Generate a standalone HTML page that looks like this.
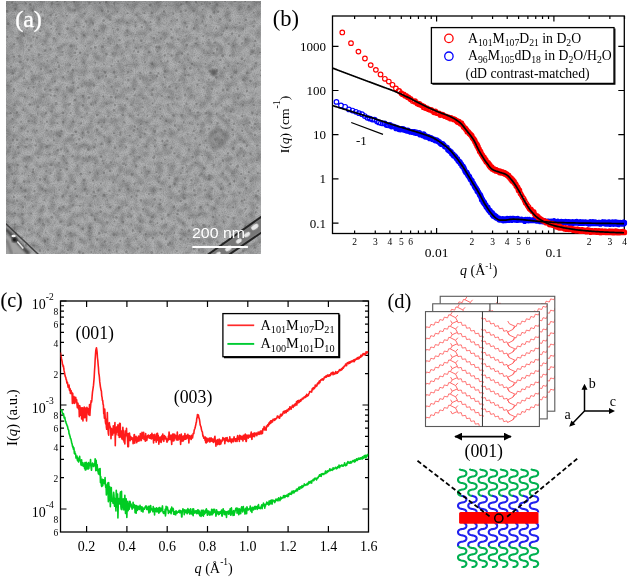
<!DOCTYPE html><html><head><meta charset="utf-8"><style>html,body{margin:0;padding:0;background:#fff;}svg{display:block;will-change:transform}</style></head><body>
<svg width="628" height="578" viewBox="0 0 628 578">
<rect width="628" height="578" fill="#fff"/>
<defs><filter id="tex" x="0" y="0" width="1" height="1"><feTurbulence type="fractalNoise" baseFrequency="0.16" numOctaves="2" seed="3" result="n"/><feColorMatrix in="n" type="matrix" values="0 0 0 0 0  0 0 0 0 0  0 0 0 0 0  0 0 0 -1.3 0.8" result="a"/><feComposite in="a" in2="SourceGraphic" operator="in" result="c"/><feGaussianBlur in="c" stdDeviation="0.8"/></filter><filter id="tex2" x="0" y="0" width="1" height="1"><feTurbulence type="fractalNoise" baseFrequency="0.9" numOctaves="1" seed="11" result="n"/><feColorMatrix in="n" type="matrix" values="0 0 0 0 0  0 0 0 0 0  0 0 0 0 0  0 0 0 -1.6 1.0" result="a"/><feComposite in="a" in2="SourceGraphic" operator="in" result="c"/><feGaussianBlur in="c" stdDeviation="0.35"/></filter><filter id="blurd"><feGaussianBlur stdDeviation="0.55"/></filter><filter id="blur1"><feGaussianBlur stdDeviation="0.8"/></filter><filter id="blur2"><feGaussianBlur stdDeviation="2.5"/></filter><clipPath id="clipA"><rect x="6" y="1" width="255" height="253"/></clipPath></defs>
<g clip-path="url(#clipA)">
<rect x="6" y="1" width="255" height="253" fill="#b0b1b2"/>
<rect x="6" y="1" width="255" height="253" fill="#6a6a6a" filter="url(#tex)" opacity="0.46"/>
<rect x="6" y="1" width="255" height="253" fill="#707070" filter="url(#tex2)" opacity="0.2"/>
<path d="M11.22,2.5a0.97,0.97 0 1,0 1.94,0a0.97,0.97 0 1,0 -1.94,0M24.57,3.22a1.05,1.05 0 1,0 2.09,0a1.05,1.05 0 1,0 -2.09,0M28.87,4.5a1.4,1.4 0 1,0 2.8,0a1.4,1.4 0 1,0 -2.8,0M39.83,0.53a1.06,1.06 0 1,0 2.12,0a1.06,1.06 0 1,0 -2.12,0M50.74,3.41a1.31,1.31 0 1,0 2.61,0a1.31,1.31 0 1,0 -2.61,0M55.97,0.67a1.21,1.21 0 1,0 2.41,0a1.21,1.21 0 1,0 -2.41,0M63.9,1.57a0.96,0.96 0 1,0 1.93,0a0.96,0.96 0 1,0 -1.93,0M73.01,1.82a1.21,1.21 0 1,0 2.42,0a1.21,1.21 0 1,0 -2.42,0M83.16,-0.29a1.34,1.34 0 1,0 2.67,0a1.34,1.34 0 1,0 -2.67,0M88.16,2.65a1.22,1.22 0 1,0 2.45,0a1.22,1.22 0 1,0 -2.45,0M98.82,2.92a1.06,1.06 0 1,0 2.12,0a1.06,1.06 0 1,0 -2.12,0M104.96,2.21a1.28,1.28 0 1,0 2.57,0a1.28,1.28 0 1,0 -2.57,0M112.91,3.45a1.22,1.22 0 1,0 2.44,0a1.22,1.22 0 1,0 -2.44,0M126.74,4.43a0.94,0.94 0 1,0 1.88,0a0.94,0.94 0 1,0 -1.88,0M133.28,0.8a1.1,1.1 0 1,0 2.21,0a1.1,1.1 0 1,0 -2.21,0M141.62,-0.98a0.81,0.81 0 1,0 1.62,0a0.81,0.81 0 1,0 -1.62,0M149.02,4.92a1.31,1.31 0 1,0 2.61,0a1.31,1.31 0 1,0 -2.61,0M159.78,0.8a1.04,1.04 0 1,0 2.08,0a1.04,1.04 0 1,0 -2.08,0M165.22,5.9a0.94,0.94 0 1,0 1.89,0a0.94,0.94 0 1,0 -1.89,0M180,4.28a1.21,1.21 0 1,0 2.42,0a1.21,1.21 0 1,0 -2.42,0M185.34,1.79a1.18,1.18 0 1,0 2.37,0a1.18,1.18 0 1,0 -2.37,0M194.86,2.21a1.18,1.18 0 1,0 2.36,0a1.18,1.18 0 1,0 -2.36,0M200.88,4.22a0.92,0.92 0 1,0 1.83,0a0.92,0.92 0 1,0 -1.83,0M209.01,3.48a1.03,1.03 0 1,0 2.06,0a1.03,1.03 0 1,0 -2.06,0M215.75,4.79a1.36,1.36 0 1,0 2.73,0a1.36,1.36 0 1,0 -2.73,0M223.65,0.44a1.29,1.29 0 1,0 2.57,0a1.29,1.29 0 1,0 -2.57,0M233.81,1.06a1.31,1.31 0 1,0 2.62,0a1.31,1.31 0 1,0 -2.62,0M244.1,0.89a1.09,1.09 0 1,0 2.18,0a1.09,1.09 0 1,0 -2.18,0M253.03,0.61a1.04,1.04 0 1,0 2.08,0a1.04,1.04 0 1,0 -2.08,0M5.76,11.39a1.36,1.36 0 1,0 2.72,0a1.36,1.36 0 1,0 -2.72,0M14.08,8.98a1.39,1.39 0 1,0 2.79,0a1.39,1.39 0 1,0 -2.79,0M23.7,10.8a0.89,0.89 0 1,0 1.79,0a0.89,0.89 0 1,0 -1.79,0M31.26,10.54a1.31,1.31 0 1,0 2.63,0a1.31,1.31 0 1,0 -2.63,0M39.85,11.82a1.12,1.12 0 1,0 2.23,0a1.12,1.12 0 1,0 -2.23,0M49.58,15.3a1.13,1.13 0 1,0 2.26,0a1.13,1.13 0 1,0 -2.26,0M54.89,14.97a0.97,0.97 0 1,0 1.93,0a0.97,0.97 0 1,0 -1.93,0M64.82,13.31a0.8,0.8 0 1,0 1.6,0a0.8,0.8 0 1,0 -1.6,0M73.42,10.23a1.36,1.36 0 1,0 2.71,0a1.36,1.36 0 1,0 -2.71,0M83.53,13.64a1.07,1.07 0 1,0 2.15,0a1.07,1.07 0 1,0 -2.15,0M92.85,15.25a1,1 0 1,0 2,0a1,1 0 1,0 -2,0M100.87,10.89a1.16,1.16 0 1,0 2.31,0a1.16,1.16 0 1,0 -2.31,0M106.74,11.47a1.21,1.21 0 1,0 2.43,0a1.21,1.21 0 1,0 -2.43,0M116.62,11.61a0.82,0.82 0 1,0 1.65,0a0.82,0.82 0 1,0 -1.65,0M126.68,13.24a0.92,0.92 0 1,0 1.84,0a0.92,0.92 0 1,0 -1.84,0M135.32,15.15a1.16,1.16 0 1,0 2.32,0a1.16,1.16 0 1,0 -2.32,0M143.25,12.92a1.02,1.02 0 1,0 2.04,0a1.02,1.02 0 1,0 -2.04,0M150.56,13.09a1.27,1.27 0 1,0 2.54,0a1.27,1.27 0 1,0 -2.54,0M162.88,11.52a1.22,1.22 0 1,0 2.45,0a1.22,1.22 0 1,0 -2.45,0M172.46,13.69a0.94,0.94 0 1,0 1.88,0a0.94,0.94 0 1,0 -1.88,0M179.52,11.56a1.24,1.24 0 1,0 2.47,0a1.24,1.24 0 1,0 -2.47,0M184.57,10.48a1.1,1.1 0 1,0 2.19,0a1.1,1.1 0 1,0 -2.19,0M192.31,10.99a1.12,1.12 0 1,0 2.24,0a1.12,1.12 0 1,0 -2.24,0M201.94,9.67a0.81,0.81 0 1,0 1.62,0a0.81,0.81 0 1,0 -1.62,0M213,12.75a1.16,1.16 0 1,0 2.32,0a1.16,1.16 0 1,0 -2.32,0M217.07,11.74a1.14,1.14 0 1,0 2.28,0a1.14,1.14 0 1,0 -2.28,0M226.8,8.14a0.95,0.95 0 1,0 1.9,0a0.95,0.95 0 1,0 -1.9,0M238.43,9.55a0.91,0.91 0 1,0 1.83,0a0.91,0.91 0 1,0 -1.83,0M247.32,6.72a1.37,1.37 0 1,0 2.75,0a1.37,1.37 0 1,0 -2.75,0M252.78,12.8a0.96,0.96 0 1,0 1.91,0a0.96,0.96 0 1,0 -1.91,0M6.96,23.71a1.32,1.32 0 1,0 2.63,0a1.32,1.32 0 1,0 -2.63,0M14.9,18.15a0.95,0.95 0 1,0 1.9,0a0.95,0.95 0 1,0 -1.9,0M24.99,18.04a1.21,1.21 0 1,0 2.41,0a1.21,1.21 0 1,0 -2.41,0M32.9,20.97a1.07,1.07 0 1,0 2.14,0a1.07,1.07 0 1,0 -2.14,0M41.83,18.26a1.35,1.35 0 1,0 2.71,0a1.35,1.35 0 1,0 -2.71,0M50.45,23.75a0.95,0.95 0 1,0 1.9,0a0.95,0.95 0 1,0 -1.9,0M55.87,17.91a0.86,0.86 0 1,0 1.71,0a0.86,0.86 0 1,0 -1.71,0M65.91,15.79a0.91,0.91 0 1,0 1.81,0a0.91,0.91 0 1,0 -1.81,0M75.47,22.38a0.93,0.93 0 1,0 1.86,0a0.93,0.93 0 1,0 -1.86,0M84.84,21.59a1.39,1.39 0 1,0 2.78,0a1.39,1.39 0 1,0 -2.78,0M91.85,23.54a1.17,1.17 0 1,0 2.33,0a1.17,1.17 0 1,0 -2.33,0M102.3,20.66a1.31,1.31 0 1,0 2.62,0a1.31,1.31 0 1,0 -2.62,0M109.12,19.81a0.99,0.99 0 1,0 1.99,0a0.99,0.99 0 1,0 -1.99,0M118.05,19.84a0.86,0.86 0 1,0 1.73,0a0.86,0.86 0 1,0 -1.73,0M125.92,22.54a1.09,1.09 0 1,0 2.18,0a1.09,1.09 0 1,0 -2.18,0M134.5,22.34a1.02,1.02 0 1,0 2.05,0a1.02,1.02 0 1,0 -2.05,0M143.56,21.71a1.02,1.02 0 1,0 2.05,0a1.02,1.02 0 1,0 -2.05,0M149.61,22.11a0.97,0.97 0 1,0 1.93,0a0.97,0.97 0 1,0 -1.93,0M158.08,19.25a1.12,1.12 0 1,0 2.25,0a1.12,1.12 0 1,0 -2.25,0M170.45,20.91a0.89,0.89 0 1,0 1.79,0a0.89,0.89 0 1,0 -1.79,0M176.04,19.89a1.02,1.02 0 1,0 2.05,0a1.02,1.02 0 1,0 -2.05,0M183.94,22.65a1.05,1.05 0 1,0 2.09,0a1.05,1.05 0 1,0 -2.09,0M195.83,19.7a0.84,0.84 0 1,0 1.68,0a0.84,0.84 0 1,0 -1.68,0M201.52,21.3a0.96,0.96 0 1,0 1.91,0a0.96,0.96 0 1,0 -1.91,0M209.25,16.76a1.34,1.34 0 1,0 2.67,0a1.34,1.34 0 1,0 -2.67,0M219.1,19.3a1.11,1.11 0 1,0 2.23,0a1.11,1.11 0 1,0 -2.23,0M228.72,20.59a1.24,1.24 0 1,0 2.49,0a1.24,1.24 0 1,0 -2.49,0M238.75,22.66a1,1 0 1,0 2,0a1,1 0 1,0 -2,0M244.52,19.89a1.21,1.21 0 1,0 2.42,0a1.21,1.21 0 1,0 -2.42,0M253.21,21.1a1.06,1.06 0 1,0 2.13,0a1.06,1.06 0 1,0 -2.13,0M3.93,30.89a1.1,1.1 0 1,0 2.2,0a1.1,1.1 0 1,0 -2.2,0M17.35,25.84a1.14,1.14 0 1,0 2.28,0a1.14,1.14 0 1,0 -2.28,0M26.06,28.25a0.99,0.99 0 1,0 1.98,0a0.99,0.99 0 1,0 -1.98,0M33.03,28.17a1.27,1.27 0 1,0 2.54,0a1.27,1.27 0 1,0 -2.54,0M39,31.03a1.33,1.33 0 1,0 2.66,0a1.33,1.33 0 1,0 -2.66,0M50.27,28.69a0.95,0.95 0 1,0 1.9,0a0.95,0.95 0 1,0 -1.9,0M55.55,29.55a1.04,1.04 0 1,0 2.08,0a1.04,1.04 0 1,0 -2.08,0M66.09,28.64a1.4,1.4 0 1,0 2.8,0a1.4,1.4 0 1,0 -2.8,0M73.5,26.56a0.92,0.92 0 1,0 1.84,0a0.92,0.92 0 1,0 -1.84,0M82.66,26.69a1.02,1.02 0 1,0 2.05,0a1.02,1.02 0 1,0 -2.05,0M92.99,29.99a0.89,0.89 0 1,0 1.79,0a0.89,0.89 0 1,0 -1.79,0M98.11,30.62a0.95,0.95 0 1,0 1.89,0a0.95,0.95 0 1,0 -1.89,0M112.13,28.39a0.83,0.83 0 1,0 1.67,0a0.83,0.83 0 1,0 -1.67,0M116.5,29.42a1.29,1.29 0 1,0 2.58,0a1.29,1.29 0 1,0 -2.58,0M126.24,30.39a0.94,0.94 0 1,0 1.87,0a0.94,0.94 0 1,0 -1.87,0M134.73,26.2a0.92,0.92 0 1,0 1.85,0a0.92,0.92 0 1,0 -1.85,0M140.65,27.22a1.14,1.14 0 1,0 2.29,0a1.14,1.14 0 1,0 -2.29,0M149.18,29.56a1.24,1.24 0 1,0 2.48,0a1.24,1.24 0 1,0 -2.48,0M158.08,32.53a0.85,0.85 0 1,0 1.7,0a0.85,0.85 0 1,0 -1.7,0M170.02,29.41a1.09,1.09 0 1,0 2.19,0a1.09,1.09 0 1,0 -2.19,0M178.66,28.66a0.98,0.98 0 1,0 1.96,0a0.98,0.98 0 1,0 -1.96,0M185.77,27.03a1.15,1.15 0 1,0 2.31,0a1.15,1.15 0 1,0 -2.31,0M192.8,28.41a1.34,1.34 0 1,0 2.68,0a1.34,1.34 0 1,0 -2.68,0M204.59,25.85a1.22,1.22 0 1,0 2.44,0a1.22,1.22 0 1,0 -2.44,0M215.29,28.58a1,1 0 1,0 2,0a1,1 0 1,0 -2,0M222.49,31.13a0.85,0.85 0 1,0 1.71,0a0.85,0.85 0 1,0 -1.71,0M225.7,27.97a1.11,1.11 0 1,0 2.23,0a1.11,1.11 0 1,0 -2.23,0M234.05,27.57a0.93,0.93 0 1,0 1.86,0a0.93,0.93 0 1,0 -1.86,0M242.29,28.92a0.95,0.95 0 1,0 1.91,0a0.95,0.95 0 1,0 -1.91,0M252.56,26.6a1.14,1.14 0 1,0 2.27,0a1.14,1.14 0 1,0 -2.27,0M6.62,36.89a0.89,0.89 0 1,0 1.78,0a0.89,0.89 0 1,0 -1.78,0M16.26,38.05a1.35,1.35 0 1,0 2.7,0a1.35,1.35 0 1,0 -2.7,0M23,35.77a1.01,1.01 0 1,0 2.02,0a1.01,1.01 0 1,0 -2.02,0M32.2,36.91a1.24,1.24 0 1,0 2.48,0a1.24,1.24 0 1,0 -2.48,0M35.85,37.67a1.08,1.08 0 1,0 2.16,0a1.08,1.08 0 1,0 -2.16,0M52.29,38.44a1.33,1.33 0 1,0 2.66,0a1.33,1.33 0 1,0 -2.66,0M58.17,34.15a1.2,1.2 0 1,0 2.39,0a1.2,1.2 0 1,0 -2.39,0M65.81,38a0.81,0.81 0 1,0 1.63,0a0.81,0.81 0 1,0 -1.63,0M75.75,38.79a1.13,1.13 0 1,0 2.26,0a1.13,1.13 0 1,0 -2.26,0M82.95,35.29a1.11,1.11 0 1,0 2.22,0a1.11,1.11 0 1,0 -2.22,0M95.51,36.27a1.15,1.15 0 1,0 2.3,0a1.15,1.15 0 1,0 -2.3,0M102.61,38.46a0.87,0.87 0 1,0 1.75,0a0.87,0.87 0 1,0 -1.75,0M107.13,38.61a1.07,1.07 0 1,0 2.14,0a1.07,1.07 0 1,0 -2.14,0M118.29,40.18a1.29,1.29 0 1,0 2.59,0a1.29,1.29 0 1,0 -2.59,0M126.38,35.62a0.85,0.85 0 1,0 1.71,0a0.85,0.85 0 1,0 -1.71,0M132.62,40.22a1.05,1.05 0 1,0 2.11,0a1.05,1.05 0 1,0 -2.11,0M139.94,40.58a1.3,1.3 0 1,0 2.61,0a1.3,1.3 0 1,0 -2.61,0M152.76,38.07a1.11,1.11 0 1,0 2.22,0a1.11,1.11 0 1,0 -2.22,0M159.58,38.45a1.31,1.31 0 1,0 2.62,0a1.31,1.31 0 1,0 -2.62,0M170.43,37.43a1.27,1.27 0 1,0 2.54,0a1.27,1.27 0 1,0 -2.54,0M177.08,39.22a0.86,0.86 0 1,0 1.73,0a0.86,0.86 0 1,0 -1.73,0M185.23,36.05a0.92,0.92 0 1,0 1.83,0a0.92,0.92 0 1,0 -1.83,0M195.63,38.39a1.15,1.15 0 1,0 2.29,0a1.15,1.15 0 1,0 -2.29,0M202.28,35.97a0.81,0.81 0 1,0 1.61,0a0.81,0.81 0 1,0 -1.61,0M208.07,39.54a0.89,0.89 0 1,0 1.78,0a0.89,0.89 0 1,0 -1.78,0M220.68,34.63a1.03,1.03 0 1,0 2.05,0a1.03,1.03 0 1,0 -2.05,0M230.88,33.86a1.12,1.12 0 1,0 2.24,0a1.12,1.12 0 1,0 -2.24,0M237.92,35.62a1.31,1.31 0 1,0 2.61,0a1.31,1.31 0 1,0 -2.61,0M244.55,39.46a1.13,1.13 0 1,0 2.25,0a1.13,1.13 0 1,0 -2.25,0M254.14,41.02a1.14,1.14 0 1,0 2.28,0a1.14,1.14 0 1,0 -2.28,0M12.96,44.21a1.07,1.07 0 1,0 2.13,0a1.07,1.07 0 1,0 -2.13,0M25.8,45.39a0.92,0.92 0 1,0 1.84,0a0.92,0.92 0 1,0 -1.84,0M29.99,45.93a1.3,1.3 0 1,0 2.59,0a1.3,1.3 0 1,0 -2.59,0M41.47,44.53a1.12,1.12 0 1,0 2.24,0a1.12,1.12 0 1,0 -2.24,0M49.43,49.13a1.09,1.09 0 1,0 2.18,0a1.09,1.09 0 1,0 -2.18,0M56.88,47.64a0.83,0.83 0 1,0 1.66,0a0.83,0.83 0 1,0 -1.66,0M69.61,45.95a1.34,1.34 0 1,0 2.67,0a1.34,1.34 0 1,0 -2.67,0M75.69,48.98a0.93,0.93 0 1,0 1.87,0a0.93,0.93 0 1,0 -1.87,0M84.57,46a0.87,0.87 0 1,0 1.74,0a0.87,0.87 0 1,0 -1.74,0M90.12,48.47a1.01,1.01 0 1,0 2.03,0a1.01,1.01 0 1,0 -2.03,0M101.05,46.77a1.37,1.37 0 1,0 2.73,0a1.37,1.37 0 1,0 -2.73,0M109.74,43.7a0.85,0.85 0 1,0 1.69,0a0.85,0.85 0 1,0 -1.69,0M115.94,45.07a1.04,1.04 0 1,0 2.08,0a1.04,1.04 0 1,0 -2.08,0M125.2,46.8a1.05,1.05 0 1,0 2.1,0a1.05,1.05 0 1,0 -2.1,0M135.18,48.15a0.95,0.95 0 1,0 1.89,0a0.95,0.95 0 1,0 -1.89,0M139.66,46.73a1.05,1.05 0 1,0 2.11,0a1.05,1.05 0 1,0 -2.11,0M155.13,47.01a1.3,1.3 0 1,0 2.6,0a1.3,1.3 0 1,0 -2.6,0M157.78,47.01a1.36,1.36 0 1,0 2.71,0a1.36,1.36 0 1,0 -2.71,0M166.27,43.71a1.03,1.03 0 1,0 2.06,0a1.03,1.03 0 1,0 -2.06,0M177.44,39.61a1.04,1.04 0 1,0 2.08,0a1.04,1.04 0 1,0 -2.08,0M185.51,45.15a1.36,1.36 0 1,0 2.71,0a1.36,1.36 0 1,0 -2.71,0M194.75,43.48a1.07,1.07 0 1,0 2.14,0a1.07,1.07 0 1,0 -2.14,0M201.83,43.61a1.07,1.07 0 1,0 2.14,0a1.07,1.07 0 1,0 -2.14,0M213.79,42.58a1.09,1.09 0 1,0 2.18,0a1.09,1.09 0 1,0 -2.18,0M215.77,49.45a1.33,1.33 0 1,0 2.67,0a1.33,1.33 0 1,0 -2.67,0M227.73,43.93a1.05,1.05 0 1,0 2.11,0a1.05,1.05 0 1,0 -2.11,0M232.54,45.84a0.81,0.81 0 1,0 1.62,0a0.81,0.81 0 1,0 -1.62,0M240.9,43.41a1.06,1.06 0 1,0 2.11,0a1.06,1.06 0 1,0 -2.11,0M253.26,45.99a1.09,1.09 0 1,0 2.19,0a1.09,1.09 0 1,0 -2.19,0M12.99,56.68a1.02,1.02 0 1,0 2.04,0a1.02,1.02 0 1,0 -2.04,0M18.01,56.29a1.26,1.26 0 1,0 2.52,0a1.26,1.26 0 1,0 -2.52,0M27.82,50.04a1.09,1.09 0 1,0 2.19,0a1.09,1.09 0 1,0 -2.19,0M37.55,54.68a1.28,1.28 0 1,0 2.56,0a1.28,1.28 0 1,0 -2.56,0M43.66,50.55a1.39,1.39 0 1,0 2.78,0a1.39,1.39 0 1,0 -2.78,0M55.49,57.28a0.96,0.96 0 1,0 1.91,0a0.96,0.96 0 1,0 -1.91,0M61.46,51.81a1.01,1.01 0 1,0 2.01,0a1.01,1.01 0 1,0 -2.01,0M73.53,52.77a1.26,1.26 0 1,0 2.52,0a1.26,1.26 0 1,0 -2.52,0M78.76,52.85a1.3,1.3 0 1,0 2.6,0a1.3,1.3 0 1,0 -2.6,0M86.35,55.21a1.29,1.29 0 1,0 2.58,0a1.29,1.29 0 1,0 -2.58,0M93.89,47.43a1.31,1.31 0 1,0 2.62,0a1.31,1.31 0 1,0 -2.62,0M105.02,54.09a1.35,1.35 0 1,0 2.7,0a1.35,1.35 0 1,0 -2.7,0M111.6,53.84a1,1 0 1,0 2.01,0a1,1 0 1,0 -2.01,0M121.07,53.93a0.81,0.81 0 1,0 1.61,0a0.81,0.81 0 1,0 -1.61,0M133.08,51.1a0.89,0.89 0 1,0 1.77,0a0.89,0.89 0 1,0 -1.77,0M136.96,51.72a1.16,1.16 0 1,0 2.32,0a1.16,1.16 0 1,0 -2.32,0M147.8,52.02a1.28,1.28 0 1,0 2.56,0a1.28,1.28 0 1,0 -2.56,0M156.42,51.81a0.88,0.88 0 1,0 1.75,0a0.88,0.88 0 1,0 -1.75,0M163.47,55.58a1.23,1.23 0 1,0 2.47,0a1.23,1.23 0 1,0 -2.47,0M170.37,55.81a1.25,1.25 0 1,0 2.51,0a1.25,1.25 0 1,0 -2.51,0M180.96,53.55a1.14,1.14 0 1,0 2.27,0a1.14,1.14 0 1,0 -2.27,0M186.85,54.5a1.08,1.08 0 1,0 2.16,0a1.08,1.08 0 1,0 -2.16,0M197.42,58.04a0.86,0.86 0 1,0 1.72,0a0.86,0.86 0 1,0 -1.72,0M206.94,53.01a0.84,0.84 0 1,0 1.68,0a0.84,0.84 0 1,0 -1.68,0M212.52,52.9a1.1,1.1 0 1,0 2.21,0a1.1,1.1 0 1,0 -2.21,0M221.35,55.74a1.39,1.39 0 1,0 2.79,0a1.39,1.39 0 1,0 -2.79,0M228.68,55.65a1.11,1.11 0 1,0 2.23,0a1.11,1.11 0 1,0 -2.23,0M240.53,58.9a1.31,1.31 0 1,0 2.61,0a1.31,1.31 0 1,0 -2.61,0M249.65,54.35a0.87,0.87 0 1,0 1.74,0a0.87,0.87 0 1,0 -1.74,0M258.94,52.5a0.98,0.98 0 1,0 1.96,0a0.98,0.98 0 1,0 -1.96,0M9.9,66.56a1.14,1.14 0 1,0 2.28,0a1.14,1.14 0 1,0 -2.28,0M18.83,62.03a1.34,1.34 0 1,0 2.68,0a1.34,1.34 0 1,0 -2.68,0M26.42,59.62a1.24,1.24 0 1,0 2.47,0a1.24,1.24 0 1,0 -2.47,0M32.33,59.94a0.87,0.87 0 1,0 1.73,0a0.87,0.87 0 1,0 -1.73,0M46.31,61.09a1.04,1.04 0 1,0 2.09,0a1.04,1.04 0 1,0 -2.09,0M56.98,62.73a0.86,0.86 0 1,0 1.73,0a0.86,0.86 0 1,0 -1.73,0M57.59,66.5a1.31,1.31 0 1,0 2.61,0a1.31,1.31 0 1,0 -2.61,0M69.15,64.95a0.97,0.97 0 1,0 1.95,0a0.97,0.97 0 1,0 -1.95,0M75.45,59.31a1,1 0 1,0 2,0a1,1 0 1,0 -2,0M82.38,62.39a1.01,1.01 0 1,0 2.02,0a1.01,1.01 0 1,0 -2.02,0M94.25,62.62a0.96,0.96 0 1,0 1.91,0a0.96,0.96 0 1,0 -1.91,0M103.23,64.34a0.85,0.85 0 1,0 1.7,0a0.85,0.85 0 1,0 -1.7,0M110.34,65.93a1.15,1.15 0 1,0 2.3,0a1.15,1.15 0 1,0 -2.3,0M117.08,61.14a1.01,1.01 0 1,0 2.02,0a1.01,1.01 0 1,0 -2.02,0M125.41,65.71a1.12,1.12 0 1,0 2.25,0a1.12,1.12 0 1,0 -2.25,0M135.81,60.79a0.82,0.82 0 1,0 1.64,0a0.82,0.82 0 1,0 -1.64,0M144.01,62.29a0.89,0.89 0 1,0 1.77,0a0.89,0.89 0 1,0 -1.77,0M150.78,63.77a1.3,1.3 0 1,0 2.6,0a1.3,1.3 0 1,0 -2.6,0M159.9,61.42a1.09,1.09 0 1,0 2.17,0a1.09,1.09 0 1,0 -2.17,0M166.73,61.32a0.96,0.96 0 1,0 1.93,0a0.96,0.96 0 1,0 -1.93,0M178.31,61.95a1.15,1.15 0 1,0 2.29,0a1.15,1.15 0 1,0 -2.29,0M187.38,60.12a0.87,0.87 0 1,0 1.73,0a0.87,0.87 0 1,0 -1.73,0M190.84,64a1.22,1.22 0 1,0 2.44,0a1.22,1.22 0 1,0 -2.44,0M204.57,63.84a0.94,0.94 0 1,0 1.88,0a0.94,0.94 0 1,0 -1.88,0M211.97,61.4a0.81,0.81 0 1,0 1.61,0a0.81,0.81 0 1,0 -1.61,0M219.28,59.93a1.15,1.15 0 1,0 2.3,0a1.15,1.15 0 1,0 -2.3,0M227.35,66.09a0.98,0.98 0 1,0 1.97,0a0.98,0.98 0 1,0 -1.97,0M236.62,63.38a1.09,1.09 0 1,0 2.18,0a1.09,1.09 0 1,0 -2.18,0M243.5,60.65a0.86,0.86 0 1,0 1.73,0a0.86,0.86 0 1,0 -1.73,0M254.92,63.31a1.03,1.03 0 1,0 2.06,0a1.03,1.03 0 1,0 -2.06,0M11.41,73.37a1.32,1.32 0 1,0 2.64,0a1.32,1.32 0 1,0 -2.64,0M21.35,68.38a1.2,1.2 0 1,0 2.4,0a1.2,1.2 0 1,0 -2.4,0M30.34,71.51a1.02,1.02 0 1,0 2.04,0a1.02,1.02 0 1,0 -2.04,0M39.62,69.05a1.3,1.3 0 1,0 2.61,0a1.3,1.3 0 1,0 -2.61,0M49.26,71.41a1.29,1.29 0 1,0 2.58,0a1.29,1.29 0 1,0 -2.58,0M55.26,69.1a0.82,0.82 0 1,0 1.63,0a0.82,0.82 0 1,0 -1.63,0M67.1,71.8a0.93,0.93 0 1,0 1.86,0a0.93,0.93 0 1,0 -1.86,0M71.54,70.14a1.26,1.26 0 1,0 2.52,0a1.26,1.26 0 1,0 -2.52,0M83.17,75.11a0.81,0.81 0 1,0 1.63,0a0.81,0.81 0 1,0 -1.63,0M88.81,71.34a0.81,0.81 0 1,0 1.62,0a0.81,0.81 0 1,0 -1.62,0M97.24,71.24a0.88,0.88 0 1,0 1.76,0a0.88,0.88 0 1,0 -1.76,0M103.86,72.29a1.27,1.27 0 1,0 2.54,0a1.27,1.27 0 1,0 -2.54,0M112.65,72.17a1.36,1.36 0 1,0 2.73,0a1.36,1.36 0 1,0 -2.73,0M126.77,72.14a1.19,1.19 0 1,0 2.38,0a1.19,1.19 0 1,0 -2.38,0M130.62,70.36a0.83,0.83 0 1,0 1.67,0a0.83,0.83 0 1,0 -1.67,0M139.15,72.69a0.93,0.93 0 1,0 1.87,0a0.93,0.93 0 1,0 -1.87,0M149.15,72.79a1.2,1.2 0 1,0 2.4,0a1.2,1.2 0 1,0 -2.4,0M157.26,73.17a1.17,1.17 0 1,0 2.35,0a1.17,1.17 0 1,0 -2.35,0M163.77,71.36a1.21,1.21 0 1,0 2.41,0a1.21,1.21 0 1,0 -2.41,0M175.03,70.76a1.27,1.27 0 1,0 2.54,0a1.27,1.27 0 1,0 -2.54,0M183.65,68.66a1.17,1.17 0 1,0 2.34,0a1.17,1.17 0 1,0 -2.34,0M188.99,68.16a1.4,1.4 0 1,0 2.79,0a1.4,1.4 0 1,0 -2.79,0M197.25,69.42a1.28,1.28 0 1,0 2.56,0a1.28,1.28 0 1,0 -2.56,0M208.25,71.11a1.39,1.39 0 1,0 2.78,0a1.39,1.39 0 1,0 -2.78,0M215.64,70.41a1.39,1.39 0 1,0 2.77,0a1.39,1.39 0 1,0 -2.77,0M223.16,67.91a1.08,1.08 0 1,0 2.15,0a1.08,1.08 0 1,0 -2.15,0M234.24,72.39a1.4,1.4 0 1,0 2.8,0a1.4,1.4 0 1,0 -2.8,0M245.64,73a1.39,1.39 0 1,0 2.78,0a1.39,1.39 0 1,0 -2.78,0M250.5,68.98a1.34,1.34 0 1,0 2.67,0a1.34,1.34 0 1,0 -2.67,0M260.04,70.31a0.92,0.92 0 1,0 1.84,0a0.92,0.92 0 1,0 -1.84,0M10.09,81.39a0.92,0.92 0 1,0 1.83,0a0.92,0.92 0 1,0 -1.83,0M22.8,78.14a1.15,1.15 0 1,0 2.31,0a1.15,1.15 0 1,0 -2.31,0M30.76,79.51a0.88,0.88 0 1,0 1.76,0a0.88,0.88 0 1,0 -1.76,0M38.5,81.64a0.84,0.84 0 1,0 1.69,0a0.84,0.84 0 1,0 -1.69,0M51.12,79.09a0.83,0.83 0 1,0 1.66,0a0.83,0.83 0 1,0 -1.66,0M53.83,81.37a1.2,1.2 0 1,0 2.4,0a1.2,1.2 0 1,0 -2.4,0M62.07,77.16a1.13,1.13 0 1,0 2.26,0a1.13,1.13 0 1,0 -2.26,0M72.08,82.75a1.29,1.29 0 1,0 2.58,0a1.29,1.29 0 1,0 -2.58,0M78.17,78.83a0.83,0.83 0 1,0 1.67,0a0.83,0.83 0 1,0 -1.67,0M88.77,79.88a0.83,0.83 0 1,0 1.66,0a0.83,0.83 0 1,0 -1.66,0M97.78,78.3a0.93,0.93 0 1,0 1.86,0a0.93,0.93 0 1,0 -1.86,0M105.1,76.27a0.96,0.96 0 1,0 1.91,0a0.96,0.96 0 1,0 -1.91,0M114.48,76.9a1.33,1.33 0 1,0 2.66,0a1.33,1.33 0 1,0 -2.66,0M122.03,83.31a0.9,0.9 0 1,0 1.8,0a0.9,0.9 0 1,0 -1.8,0M127.01,80.34a1.27,1.27 0 1,0 2.54,0a1.27,1.27 0 1,0 -2.54,0M139.07,78.67a1.04,1.04 0 1,0 2.09,0a1.04,1.04 0 1,0 -2.09,0M149.17,80.26a1.14,1.14 0 1,0 2.28,0a1.14,1.14 0 1,0 -2.28,0M155.79,76.25a1.16,1.16 0 1,0 2.33,0a1.16,1.16 0 1,0 -2.33,0M163.76,77.23a1.05,1.05 0 1,0 2.11,0a1.05,1.05 0 1,0 -2.11,0M178.19,80.31a1.17,1.17 0 1,0 2.35,0a1.17,1.17 0 1,0 -2.35,0M184.19,74.98a1.3,1.3 0 1,0 2.6,0a1.3,1.3 0 1,0 -2.6,0M187.12,74.88a1.38,1.38 0 1,0 2.75,0a1.38,1.38 0 1,0 -2.75,0M198,80.13a0.87,0.87 0 1,0 1.75,0a0.87,0.87 0 1,0 -1.75,0M207.9,79.49a0.97,0.97 0 1,0 1.94,0a0.97,0.97 0 1,0 -1.94,0M215.03,77.6a1.27,1.27 0 1,0 2.55,0a1.27,1.27 0 1,0 -2.55,0M226.55,78.71a1.07,1.07 0 1,0 2.14,0a1.07,1.07 0 1,0 -2.14,0M230.01,77.2a1.34,1.34 0 1,0 2.68,0a1.34,1.34 0 1,0 -2.68,0M241.94,80.24a1.37,1.37 0 1,0 2.74,0a1.37,1.37 0 1,0 -2.74,0M249.12,80.98a1.35,1.35 0 1,0 2.7,0a1.35,1.35 0 1,0 -2.7,0M259.97,75.67a0.86,0.86 0 1,0 1.72,0a0.86,0.86 0 1,0 -1.72,0M12.79,89.46a1.13,1.13 0 1,0 2.27,0a1.13,1.13 0 1,0 -2.27,0M27.32,88.25a0.93,0.93 0 1,0 1.85,0a0.93,0.93 0 1,0 -1.85,0M32.4,87.15a1.14,1.14 0 1,0 2.28,0a1.14,1.14 0 1,0 -2.28,0M43.73,89.44a1.27,1.27 0 1,0 2.54,0a1.27,1.27 0 1,0 -2.54,0M49.02,90.07a1.4,1.4 0 1,0 2.8,0a1.4,1.4 0 1,0 -2.8,0M56.18,89.68a0.99,0.99 0 1,0 1.98,0a0.99,0.99 0 1,0 -1.98,0M65.72,87.44a1.08,1.08 0 1,0 2.16,0a1.08,1.08 0 1,0 -2.16,0M76.91,87.75a1.22,1.22 0 1,0 2.45,0a1.22,1.22 0 1,0 -2.45,0M81.01,86.2a1,1 0 1,0 2.01,0a1,1 0 1,0 -2.01,0M92.76,85.32a1.39,1.39 0 1,0 2.78,0a1.39,1.39 0 1,0 -2.78,0M103.09,85.88a0.86,0.86 0 1,0 1.72,0a0.86,0.86 0 1,0 -1.72,0M110.43,86.79a1.27,1.27 0 1,0 2.54,0a1.27,1.27 0 1,0 -2.54,0M116.18,90.52a1.06,1.06 0 1,0 2.12,0a1.06,1.06 0 1,0 -2.12,0M127.46,87.7a0.94,0.94 0 1,0 1.89,0a0.94,0.94 0 1,0 -1.89,0M133.28,89.24a1.14,1.14 0 1,0 2.28,0a1.14,1.14 0 1,0 -2.28,0M145.46,87.36a0.81,0.81 0 1,0 1.62,0a0.81,0.81 0 1,0 -1.62,0M151.34,89.82a1.22,1.22 0 1,0 2.45,0a1.22,1.22 0 1,0 -2.45,0M164.13,87.31a1.08,1.08 0 1,0 2.16,0a1.08,1.08 0 1,0 -2.16,0M168.26,86.72a1.32,1.32 0 1,0 2.64,0a1.32,1.32 0 1,0 -2.64,0M174.83,88.3a1.37,1.37 0 1,0 2.74,0a1.37,1.37 0 1,0 -2.74,0M187.37,88.45a0.98,0.98 0 1,0 1.97,0a0.98,0.98 0 1,0 -1.97,0M196.13,84.65a1.28,1.28 0 1,0 2.56,0a1.28,1.28 0 1,0 -2.56,0M202.49,87.46a1.21,1.21 0 1,0 2.41,0a1.21,1.21 0 1,0 -2.41,0M210.66,88.84a1.27,1.27 0 1,0 2.55,0a1.27,1.27 0 1,0 -2.55,0M221.74,90.06a1.35,1.35 0 1,0 2.69,0a1.35,1.35 0 1,0 -2.69,0M226.07,89.77a1.27,1.27 0 1,0 2.54,0a1.27,1.27 0 1,0 -2.54,0M236.47,89.03a1.22,1.22 0 1,0 2.43,0a1.22,1.22 0 1,0 -2.43,0M245.69,90.97a1.2,1.2 0 1,0 2.41,0a1.2,1.2 0 1,0 -2.41,0M254.8,86.76a0.9,0.9 0 1,0 1.8,0a0.9,0.9 0 1,0 -1.8,0M12.89,91.37a0.83,0.83 0 1,0 1.67,0a0.83,0.83 0 1,0 -1.67,0M23.92,96.86a0.89,0.89 0 1,0 1.79,0a0.89,0.89 0 1,0 -1.79,0M30.97,97.49a0.95,0.95 0 1,0 1.91,0a0.95,0.95 0 1,0 -1.91,0M42.26,96.82a1.15,1.15 0 1,0 2.3,0a1.15,1.15 0 1,0 -2.3,0M49.84,95.31a0.97,0.97 0 1,0 1.94,0a0.97,0.97 0 1,0 -1.94,0M53.17,95.87a1.29,1.29 0 1,0 2.58,0a1.29,1.29 0 1,0 -2.58,0M64.33,96.51a0.94,0.94 0 1,0 1.88,0a0.94,0.94 0 1,0 -1.88,0M73.86,100.13a1.34,1.34 0 1,0 2.68,0a1.34,1.34 0 1,0 -2.68,0M81.98,96.24a1.22,1.22 0 1,0 2.44,0a1.22,1.22 0 1,0 -2.44,0M87.64,97.62a1.35,1.35 0 1,0 2.7,0a1.35,1.35 0 1,0 -2.7,0M102.3,96.4a1.03,1.03 0 1,0 2.07,0a1.03,1.03 0 1,0 -2.07,0M109.88,97.11a1.24,1.24 0 1,0 2.48,0a1.24,1.24 0 1,0 -2.48,0M114.32,97.43a1.13,1.13 0 1,0 2.25,0a1.13,1.13 0 1,0 -2.25,0M125.96,98.86a1.22,1.22 0 1,0 2.44,0a1.22,1.22 0 1,0 -2.44,0M133.73,95.46a0.92,0.92 0 1,0 1.83,0a0.92,0.92 0 1,0 -1.83,0M142.12,98.51a1.07,1.07 0 1,0 2.15,0a1.07,1.07 0 1,0 -2.15,0M150.68,94.82a1.34,1.34 0 1,0 2.68,0a1.34,1.34 0 1,0 -2.68,0M160.56,96.17a1.16,1.16 0 1,0 2.32,0a1.16,1.16 0 1,0 -2.32,0M167.56,96.94a1.19,1.19 0 1,0 2.38,0a1.19,1.19 0 1,0 -2.38,0M176.01,98.87a0.98,0.98 0 1,0 1.96,0a0.98,0.98 0 1,0 -1.96,0M183.7,95.12a1.31,1.31 0 1,0 2.63,0a1.31,1.31 0 1,0 -2.63,0M190.27,95.35a0.86,0.86 0 1,0 1.73,0a0.86,0.86 0 1,0 -1.73,0M204.64,96.2a0.86,0.86 0 1,0 1.71,0a0.86,0.86 0 1,0 -1.71,0M206.36,98.15a0.81,0.81 0 1,0 1.63,0a0.81,0.81 0 1,0 -1.63,0M216.36,93.07a0.82,0.82 0 1,0 1.65,0a0.82,0.82 0 1,0 -1.65,0M227.76,97.36a0.88,0.88 0 1,0 1.77,0a0.88,0.88 0 1,0 -1.77,0M236.87,98.02a1.3,1.3 0 1,0 2.59,0a1.3,1.3 0 1,0 -2.59,0M243.52,95.59a0.84,0.84 0 1,0 1.67,0a0.84,0.84 0 1,0 -1.67,0M251.82,98.62a0.81,0.81 0 1,0 1.62,0a0.81,0.81 0 1,0 -1.62,0M13.41,105.12a0.96,0.96 0 1,0 1.93,0a0.96,0.96 0 1,0 -1.93,0M22.44,109.97a0.83,0.83 0 1,0 1.65,0a0.83,0.83 0 1,0 -1.65,0M28.41,104.71a1.31,1.31 0 1,0 2.62,0a1.31,1.31 0 1,0 -2.62,0M36.64,106.69a1.35,1.35 0 1,0 2.69,0a1.35,1.35 0 1,0 -2.69,0M47.23,104.59a0.9,0.9 0 1,0 1.81,0a0.9,0.9 0 1,0 -1.81,0M55.09,103.49a1.32,1.32 0 1,0 2.63,0a1.32,1.32 0 1,0 -2.63,0M67.68,104.52a1.03,1.03 0 1,0 2.05,0a1.03,1.03 0 1,0 -2.05,0M69.25,104.02a0.9,0.9 0 1,0 1.8,0a0.9,0.9 0 1,0 -1.8,0M81.62,105.32a1.36,1.36 0 1,0 2.73,0a1.36,1.36 0 1,0 -2.73,0M90.19,104.29a0.93,0.93 0 1,0 1.85,0a0.93,0.93 0 1,0 -1.85,0M94.67,102.75a0.93,0.93 0 1,0 1.86,0a0.93,0.93 0 1,0 -1.86,0M105.27,103.51a1.19,1.19 0 1,0 2.39,0a1.19,1.19 0 1,0 -2.39,0M113.94,104.93a1.05,1.05 0 1,0 2.1,0a1.05,1.05 0 1,0 -2.1,0M123.9,105.3a1.06,1.06 0 1,0 2.12,0a1.06,1.06 0 1,0 -2.12,0M130.28,104.44a0.85,0.85 0 1,0 1.7,0a0.85,0.85 0 1,0 -1.7,0M141.79,107.19a0.85,0.85 0 1,0 1.69,0a0.85,0.85 0 1,0 -1.69,0M151.75,103.41a0.87,0.87 0 1,0 1.75,0a0.87,0.87 0 1,0 -1.75,0M159.32,109.15a1.08,1.08 0 1,0 2.15,0a1.08,1.08 0 1,0 -2.15,0M166.75,104.77a1.28,1.28 0 1,0 2.56,0a1.28,1.28 0 1,0 -2.56,0M171.72,104.53a0.88,0.88 0 1,0 1.75,0a0.88,0.88 0 1,0 -1.75,0M185.32,103.72a1.04,1.04 0 1,0 2.07,0a1.04,1.04 0 1,0 -2.07,0M195.5,103.97a1.02,1.02 0 1,0 2.03,0a1.02,1.02 0 1,0 -2.03,0M199.43,104.83a0.9,0.9 0 1,0 1.79,0a0.9,0.9 0 1,0 -1.79,0M210.57,104.05a1.08,1.08 0 1,0 2.15,0a1.08,1.08 0 1,0 -2.15,0M220.41,105.4a1,1 0 1,0 1.99,0a1,1 0 1,0 -1.99,0M227.89,106.53a0.81,0.81 0 1,0 1.61,0a0.81,0.81 0 1,0 -1.61,0M234.32,101.95a0.8,0.8 0 1,0 1.61,0a0.8,0.8 0 1,0 -1.61,0M241.73,104.98a1.23,1.23 0 1,0 2.46,0a1.23,1.23 0 1,0 -2.46,0M252.83,105.13a0.92,0.92 0 1,0 1.85,0a0.92,0.92 0 1,0 -1.85,0M261.41,108.04a0.92,0.92 0 1,0 1.84,0a0.92,0.92 0 1,0 -1.84,0M9.39,113.23a1.27,1.27 0 1,0 2.54,0a1.27,1.27 0 1,0 -2.54,0M15.76,112.51a1.24,1.24 0 1,0 2.48,0a1.24,1.24 0 1,0 -2.48,0M30.08,115.58a1.33,1.33 0 1,0 2.66,0a1.33,1.33 0 1,0 -2.66,0M36.78,113.64a0.96,0.96 0 1,0 1.91,0a0.96,0.96 0 1,0 -1.91,0M44.71,113.05a1.35,1.35 0 1,0 2.71,0a1.35,1.35 0 1,0 -2.71,0M50.24,111.55a1.3,1.3 0 1,0 2.6,0a1.3,1.3 0 1,0 -2.6,0M61.79,112.79a1.3,1.3 0 1,0 2.59,0a1.3,1.3 0 1,0 -2.59,0M69.92,112.82a0.89,0.89 0 1,0 1.78,0a0.89,0.89 0 1,0 -1.78,0M80.79,117.17a0.92,0.92 0 1,0 1.83,0a0.92,0.92 0 1,0 -1.83,0M86.18,113.2a0.85,0.85 0 1,0 1.69,0a0.85,0.85 0 1,0 -1.69,0M95.87,115.1a1.33,1.33 0 1,0 2.66,0a1.33,1.33 0 1,0 -2.66,0M107.24,116.38a1.1,1.1 0 1,0 2.2,0a1.1,1.1 0 1,0 -2.2,0M112.69,110.39a1.31,1.31 0 1,0 2.63,0a1.31,1.31 0 1,0 -2.63,0M121.53,114.83a1.31,1.31 0 1,0 2.63,0a1.31,1.31 0 1,0 -2.63,0M128.92,115.8a0.85,0.85 0 1,0 1.71,0a0.85,0.85 0 1,0 -1.71,0M137.06,114.8a1.18,1.18 0 1,0 2.36,0a1.18,1.18 0 1,0 -2.36,0M146.35,115.75a0.93,0.93 0 1,0 1.87,0a0.93,0.93 0 1,0 -1.87,0M154.19,111.71a1,1 0 1,0 1.99,0a1,1 0 1,0 -1.99,0M160.94,116.17a1,1 0 1,0 2,0a1,1 0 1,0 -2,0M172.36,115.63a1.28,1.28 0 1,0 2.55,0a1.28,1.28 0 1,0 -2.55,0M180.3,115.36a1.3,1.3 0 1,0 2.59,0a1.3,1.3 0 1,0 -2.59,0M189.1,110.33a1.07,1.07 0 1,0 2.13,0a1.07,1.07 0 1,0 -2.13,0M196.67,112.5a1.25,1.25 0 1,0 2.51,0a1.25,1.25 0 1,0 -2.51,0M204.73,113.15a1.25,1.25 0 1,0 2.51,0a1.25,1.25 0 1,0 -2.51,0M215.84,113.7a0.9,0.9 0 1,0 1.81,0a0.9,0.9 0 1,0 -1.81,0M222.51,115.34a1.18,1.18 0 1,0 2.36,0a1.18,1.18 0 1,0 -2.36,0M229.73,111.61a1.11,1.11 0 1,0 2.22,0a1.11,1.11 0 1,0 -2.22,0M241.13,115.95a1.19,1.19 0 1,0 2.37,0a1.19,1.19 0 1,0 -2.37,0M251.07,112.89a1.34,1.34 0 1,0 2.68,0a1.34,1.34 0 1,0 -2.68,0M256.05,114.58a1.06,1.06 0 1,0 2.13,0a1.06,1.06 0 1,0 -2.13,0M11.43,119.05a0.96,0.96 0 1,0 1.93,0a0.96,0.96 0 1,0 -1.93,0M20.14,121.66a1.07,1.07 0 1,0 2.13,0a1.07,1.07 0 1,0 -2.13,0M27.51,121.21a1.15,1.15 0 1,0 2.3,0a1.15,1.15 0 1,0 -2.3,0M39.9,122.02a0.82,0.82 0 1,0 1.65,0a0.82,0.82 0 1,0 -1.65,0M45.84,121.8a1.13,1.13 0 1,0 2.27,0a1.13,1.13 0 1,0 -2.27,0M56.72,123.2a0.85,0.85 0 1,0 1.7,0a0.85,0.85 0 1,0 -1.7,0M61.79,122.29a1.38,1.38 0 1,0 2.76,0a1.38,1.38 0 1,0 -2.76,0M72.18,121.8a1.14,1.14 0 1,0 2.28,0a1.14,1.14 0 1,0 -2.28,0M80.02,123.29a1.05,1.05 0 1,0 2.1,0a1.05,1.05 0 1,0 -2.1,0M90.19,121.46a0.82,0.82 0 1,0 1.64,0a0.82,0.82 0 1,0 -1.64,0M97.29,122.76a1.24,1.24 0 1,0 2.48,0a1.24,1.24 0 1,0 -2.48,0M102.96,122.41a0.96,0.96 0 1,0 1.92,0a0.96,0.96 0 1,0 -1.92,0M110.51,118.75a0.91,0.91 0 1,0 1.82,0a0.91,0.91 0 1,0 -1.82,0M123.42,122.44a1.06,1.06 0 1,0 2.12,0a1.06,1.06 0 1,0 -2.12,0M133.47,126.64a1.17,1.17 0 1,0 2.33,0a1.17,1.17 0 1,0 -2.33,0M139.81,124.11a0.98,0.98 0 1,0 1.96,0a0.98,0.98 0 1,0 -1.96,0M145.78,122.43a0.86,0.86 0 1,0 1.71,0a0.86,0.86 0 1,0 -1.71,0M159.21,118.6a1.09,1.09 0 1,0 2.18,0a1.09,1.09 0 1,0 -2.18,0M165.13,121.03a1.05,1.05 0 1,0 2.09,0a1.05,1.05 0 1,0 -2.09,0M174.1,125.47a1.03,1.03 0 1,0 2.05,0a1.03,1.03 0 1,0 -2.05,0M182.73,122.2a0.99,0.99 0 1,0 1.98,0a0.99,0.99 0 1,0 -1.98,0M188.86,122.81a0.86,0.86 0 1,0 1.72,0a0.86,0.86 0 1,0 -1.72,0M196.34,124.35a1.29,1.29 0 1,0 2.58,0a1.29,1.29 0 1,0 -2.58,0M210.62,122.57a0.98,0.98 0 1,0 1.96,0a0.98,0.98 0 1,0 -1.96,0M216.62,123.18a1.04,1.04 0 1,0 2.07,0a1.04,1.04 0 1,0 -2.07,0M228.2,120.36a1.02,1.02 0 1,0 2.03,0a1.02,1.02 0 1,0 -2.03,0M232.91,123.78a1.11,1.11 0 1,0 2.21,0a1.11,1.11 0 1,0 -2.21,0M242.68,125a1.1,1.1 0 1,0 2.21,0a1.1,1.1 0 1,0 -2.21,0M248.34,122.57a1.24,1.24 0 1,0 2.48,0a1.24,1.24 0 1,0 -2.48,0M253.88,124.01a1.25,1.25 0 1,0 2.5,0a1.25,1.25 0 1,0 -2.5,0M12.67,127.15a0.95,0.95 0 1,0 1.91,0a0.95,0.95 0 1,0 -1.91,0M20.48,128.34a1.12,1.12 0 1,0 2.23,0a1.12,1.12 0 1,0 -2.23,0M26.66,131.7a1.16,1.16 0 1,0 2.33,0a1.16,1.16 0 1,0 -2.33,0M35.99,130.73a0.94,0.94 0 1,0 1.88,0a0.94,0.94 0 1,0 -1.88,0M45.46,130.39a1.1,1.1 0 1,0 2.2,0a1.1,1.1 0 1,0 -2.2,0M50.25,130.9a0.97,0.97 0 1,0 1.94,0a0.97,0.97 0 1,0 -1.94,0M60.39,130.99a1.11,1.11 0 1,0 2.21,0a1.11,1.11 0 1,0 -2.21,0M74.62,131.87a1.2,1.2 0 1,0 2.4,0a1.2,1.2 0 1,0 -2.4,0M81.51,132.6a1.23,1.23 0 1,0 2.45,0a1.23,1.23 0 1,0 -2.45,0M86.88,132.06a1.35,1.35 0 1,0 2.69,0a1.35,1.35 0 1,0 -2.69,0M95.71,129.7a1.35,1.35 0 1,0 2.7,0a1.35,1.35 0 1,0 -2.7,0M100.64,126.75a1.13,1.13 0 1,0 2.27,0a1.13,1.13 0 1,0 -2.27,0M112.87,133.21a1.05,1.05 0 1,0 2.1,0a1.05,1.05 0 1,0 -2.1,0M119.23,132.38a1.25,1.25 0 1,0 2.51,0a1.25,1.25 0 1,0 -2.51,0M132.62,130.4a1.4,1.4 0 1,0 2.8,0a1.4,1.4 0 1,0 -2.8,0M136.29,128.69a1.1,1.1 0 1,0 2.19,0a1.1,1.1 0 1,0 -2.19,0M144.96,129.2a0.96,0.96 0 1,0 1.92,0a0.96,0.96 0 1,0 -1.92,0M153.67,131.36a1.2,1.2 0 1,0 2.39,0a1.2,1.2 0 1,0 -2.39,0M163.42,130.94a1.37,1.37 0 1,0 2.75,0a1.37,1.37 0 1,0 -2.75,0M168.72,128.81a0.92,0.92 0 1,0 1.84,0a0.92,0.92 0 1,0 -1.84,0M177.28,129.72a1.26,1.26 0 1,0 2.52,0a1.26,1.26 0 1,0 -2.52,0M192.82,131.06a1.04,1.04 0 1,0 2.09,0a1.04,1.04 0 1,0 -2.09,0M199.48,130.95a1.11,1.11 0 1,0 2.23,0a1.11,1.11 0 1,0 -2.23,0M208.13,128.72a1,1 0 1,0 1.99,0a1,1 0 1,0 -1.99,0M214.2,132.31a1.38,1.38 0 1,0 2.75,0a1.38,1.38 0 1,0 -2.75,0M220.35,129.74a0.99,0.99 0 1,0 1.99,0a0.99,0.99 0 1,0 -1.99,0M231.36,129.76a1.12,1.12 0 1,0 2.23,0a1.12,1.12 0 1,0 -2.23,0M241.17,130.94a1.08,1.08 0 1,0 2.16,0a1.08,1.08 0 1,0 -2.16,0M250.63,127.45a1.04,1.04 0 1,0 2.07,0a1.04,1.04 0 1,0 -2.07,0M258.64,129.26a1,1 0 1,0 2,0a1,1 0 1,0 -2,0M11.71,139.85a1.15,1.15 0 1,0 2.29,0a1.15,1.15 0 1,0 -2.29,0M15.86,139.78a1.35,1.35 0 1,0 2.7,0a1.35,1.35 0 1,0 -2.7,0M25.63,139.29a1.28,1.28 0 1,0 2.57,0a1.28,1.28 0 1,0 -2.57,0M30.45,139.78a0.88,0.88 0 1,0 1.77,0a0.88,0.88 0 1,0 -1.77,0M46.93,140.4a0.88,0.88 0 1,0 1.76,0a0.88,0.88 0 1,0 -1.76,0M53.01,140.22a0.95,0.95 0 1,0 1.9,0a0.95,0.95 0 1,0 -1.9,0M58.72,136.06a1.26,1.26 0 1,0 2.51,0a1.26,1.26 0 1,0 -2.51,0M71.09,135.27a1.37,1.37 0 1,0 2.74,0a1.37,1.37 0 1,0 -2.74,0M77.96,139.37a1.27,1.27 0 1,0 2.55,0a1.27,1.27 0 1,0 -2.55,0M81.71,137.81a0.83,0.83 0 1,0 1.65,0a0.83,0.83 0 1,0 -1.65,0M95.05,139.57a0.85,0.85 0 1,0 1.71,0a0.85,0.85 0 1,0 -1.71,0M103.09,136.61a1.21,1.21 0 1,0 2.43,0a1.21,1.21 0 1,0 -2.43,0M108.14,141.85a1.27,1.27 0 1,0 2.54,0a1.27,1.27 0 1,0 -2.54,0M119.06,134.6a1.28,1.28 0 1,0 2.57,0a1.28,1.28 0 1,0 -2.57,0M128.56,135.68a1.09,1.09 0 1,0 2.19,0a1.09,1.09 0 1,0 -2.19,0M139.15,137.1a1.38,1.38 0 1,0 2.77,0a1.38,1.38 0 1,0 -2.77,0M143.4,134.03a1.39,1.39 0 1,0 2.78,0a1.39,1.39 0 1,0 -2.78,0M154.04,140.34a1.19,1.19 0 1,0 2.38,0a1.19,1.19 0 1,0 -2.38,0M161.24,140.88a1.06,1.06 0 1,0 2.12,0a1.06,1.06 0 1,0 -2.12,0M166.06,140.78a1.24,1.24 0 1,0 2.47,0a1.24,1.24 0 1,0 -2.47,0M181.44,138.01a0.82,0.82 0 1,0 1.65,0a0.82,0.82 0 1,0 -1.65,0M186.72,134.27a1,1 0 1,0 2,0a1,1 0 1,0 -2,0M194.3,138.58a1.16,1.16 0 1,0 2.31,0a1.16,1.16 0 1,0 -2.31,0M204.47,140.76a0.97,0.97 0 1,0 1.95,0a0.97,0.97 0 1,0 -1.95,0M213.9,139.52a1.36,1.36 0 1,0 2.72,0a1.36,1.36 0 1,0 -2.72,0M220.72,139.89a1.08,1.08 0 1,0 2.16,0a1.08,1.08 0 1,0 -2.16,0M232.06,134.61a1.03,1.03 0 1,0 2.06,0a1.03,1.03 0 1,0 -2.06,0M239.14,139.66a0.81,0.81 0 1,0 1.61,0a0.81,0.81 0 1,0 -1.61,0M242.88,141.65a1.32,1.32 0 1,0 2.65,0a1.32,1.32 0 1,0 -2.65,0M253.93,135.16a1.1,1.1 0 1,0 2.2,0a1.1,1.1 0 1,0 -2.2,0M9.34,147.36a0.9,0.9 0 1,0 1.81,0a0.9,0.9 0 1,0 -1.81,0M16.83,147.4a1.34,1.34 0 1,0 2.67,0a1.34,1.34 0 1,0 -2.67,0M24.38,146.84a1.38,1.38 0 1,0 2.77,0a1.38,1.38 0 1,0 -2.77,0M34.58,145.55a1.25,1.25 0 1,0 2.5,0a1.25,1.25 0 1,0 -2.5,0M45.22,146.83a1.37,1.37 0 1,0 2.75,0a1.37,1.37 0 1,0 -2.75,0M56.6,150.34a1.3,1.3 0 1,0 2.61,0a1.3,1.3 0 1,0 -2.61,0M59.68,149.47a1.14,1.14 0 1,0 2.29,0a1.14,1.14 0 1,0 -2.29,0M66.92,151.02a0.87,0.87 0 1,0 1.74,0a0.87,0.87 0 1,0 -1.74,0M75.29,143.94a1.01,1.01 0 1,0 2.02,0a1.01,1.01 0 1,0 -2.02,0M87,149.62a1.34,1.34 0 1,0 2.68,0a1.34,1.34 0 1,0 -2.68,0M93.02,147.28a1.29,1.29 0 1,0 2.59,0a1.29,1.29 0 1,0 -2.59,0M100.32,144.07a1.25,1.25 0 1,0 2.51,0a1.25,1.25 0 1,0 -2.51,0M113.58,147.84a1.39,1.39 0 1,0 2.77,0a1.39,1.39 0 1,0 -2.77,0M118.81,146.11a0.98,0.98 0 1,0 1.97,0a0.98,0.98 0 1,0 -1.97,0M124.8,147.32a1.28,1.28 0 1,0 2.56,0a1.28,1.28 0 1,0 -2.56,0M136.77,145.6a0.91,0.91 0 1,0 1.83,0a0.91,0.91 0 1,0 -1.83,0M145.06,146.25a1.27,1.27 0 1,0 2.55,0a1.27,1.27 0 1,0 -2.55,0M153.9,146.4a0.97,0.97 0 1,0 1.95,0a0.97,0.97 0 1,0 -1.95,0M163.99,145.56a1.04,1.04 0 1,0 2.09,0a1.04,1.04 0 1,0 -2.09,0M170.33,148.06a1.11,1.11 0 1,0 2.21,0a1.11,1.11 0 1,0 -2.21,0M183.95,143.94a0.83,0.83 0 1,0 1.66,0a0.83,0.83 0 1,0 -1.66,0M187.75,149.64a1.16,1.16 0 1,0 2.31,0a1.16,1.16 0 1,0 -2.31,0M198.76,144.66a1.14,1.14 0 1,0 2.27,0a1.14,1.14 0 1,0 -2.27,0M205.98,147.48a1.01,1.01 0 1,0 2.02,0a1.01,1.01 0 1,0 -2.02,0M211.84,147.62a0.99,0.99 0 1,0 1.98,0a0.99,0.99 0 1,0 -1.98,0M218.01,143.81a1.05,1.05 0 1,0 2.1,0a1.05,1.05 0 1,0 -2.1,0M231.79,148.46a1.33,1.33 0 1,0 2.65,0a1.33,1.33 0 1,0 -2.65,0M239.69,148.42a1.05,1.05 0 1,0 2.09,0a1.05,1.05 0 1,0 -2.09,0M245.9,145.97a1,1 0 1,0 1.99,0a1,1 0 1,0 -1.99,0M256.15,145.46a1.13,1.13 0 1,0 2.27,0a1.13,1.13 0 1,0 -2.27,0M12.1,157.9a0.94,0.94 0 1,0 1.88,0a0.94,0.94 0 1,0 -1.88,0M17.82,153.09a0.82,0.82 0 1,0 1.65,0a0.82,0.82 0 1,0 -1.65,0M28.49,157.03a0.9,0.9 0 1,0 1.79,0a0.9,0.9 0 1,0 -1.79,0M37.23,157.62a1.06,1.06 0 1,0 2.12,0a1.06,1.06 0 1,0 -2.12,0M48.7,154.23a1.03,1.03 0 1,0 2.06,0a1.03,1.03 0 1,0 -2.06,0M54.28,159.12a0.97,0.97 0 1,0 1.95,0a0.97,0.97 0 1,0 -1.95,0M62.33,156.09a1.12,1.12 0 1,0 2.25,0a1.12,1.12 0 1,0 -2.25,0M71.56,156.21a1.03,1.03 0 1,0 2.05,0a1.03,1.03 0 1,0 -2.05,0M82.35,157.96a0.97,0.97 0 1,0 1.94,0a0.97,0.97 0 1,0 -1.94,0M88.07,156.83a1.35,1.35 0 1,0 2.71,0a1.35,1.35 0 1,0 -2.71,0M99.78,156.72a1.23,1.23 0 1,0 2.45,0a1.23,1.23 0 1,0 -2.45,0M101.5,160.77a1.02,1.02 0 1,0 2.03,0a1.02,1.02 0 1,0 -2.03,0M117.51,156.29a0.91,0.91 0 1,0 1.81,0a0.91,0.91 0 1,0 -1.81,0M129.27,154.69a0.83,0.83 0 1,0 1.66,0a0.83,0.83 0 1,0 -1.66,0M133.28,156.35a0.83,0.83 0 1,0 1.66,0a0.83,0.83 0 1,0 -1.66,0M138.4,157.38a1.06,1.06 0 1,0 2.12,0a1.06,1.06 0 1,0 -2.12,0M152.21,157.7a1.39,1.39 0 1,0 2.78,0a1.39,1.39 0 1,0 -2.78,0M153.3,156.33a0.97,0.97 0 1,0 1.93,0a0.97,0.97 0 1,0 -1.93,0M164.08,159.48a0.9,0.9 0 1,0 1.79,0a0.9,0.9 0 1,0 -1.79,0M173.52,153.35a1.03,1.03 0 1,0 2.06,0a1.03,1.03 0 1,0 -2.06,0M182.75,157.45a0.84,0.84 0 1,0 1.68,0a0.84,0.84 0 1,0 -1.68,0M191.38,157.08a1.17,1.17 0 1,0 2.35,0a1.17,1.17 0 1,0 -2.35,0M201.41,155.64a0.83,0.83 0 1,0 1.65,0a0.83,0.83 0 1,0 -1.65,0M207.56,157.06a0.89,0.89 0 1,0 1.78,0a0.89,0.89 0 1,0 -1.78,0M214.77,157.37a1.03,1.03 0 1,0 2.06,0a1.03,1.03 0 1,0 -2.06,0M226.8,153.5a1.16,1.16 0 1,0 2.32,0a1.16,1.16 0 1,0 -2.32,0M236.27,155.45a1.03,1.03 0 1,0 2.05,0a1.03,1.03 0 1,0 -2.05,0M242.51,156.1a1.08,1.08 0 1,0 2.16,0a1.08,1.08 0 1,0 -2.16,0M249.5,153.84a1.05,1.05 0 1,0 2.1,0a1.05,1.05 0 1,0 -2.1,0M263.11,155.34a1.16,1.16 0 1,0 2.31,0a1.16,1.16 0 1,0 -2.31,0M8.09,166.96a1.16,1.16 0 1,0 2.33,0a1.16,1.16 0 1,0 -2.33,0M16.78,165.02a0.98,0.98 0 1,0 1.96,0a0.98,0.98 0 1,0 -1.96,0M24.84,166.69a1.35,1.35 0 1,0 2.71,0a1.35,1.35 0 1,0 -2.71,0M32.24,169.43a0.93,0.93 0 1,0 1.86,0a0.93,0.93 0 1,0 -1.86,0M39.21,166.65a1.05,1.05 0 1,0 2.11,0a1.05,1.05 0 1,0 -2.11,0M49.53,164.98a1.37,1.37 0 1,0 2.74,0a1.37,1.37 0 1,0 -2.74,0M57.73,163.3a1.31,1.31 0 1,0 2.62,0a1.31,1.31 0 1,0 -2.62,0M65.65,162.97a1.01,1.01 0 1,0 2.03,0a1.01,1.01 0 1,0 -2.03,0M76.45,165.65a0.98,0.98 0 1,0 1.97,0a0.98,0.98 0 1,0 -1.97,0M86.57,161.44a0.91,0.91 0 1,0 1.81,0a0.91,0.91 0 1,0 -1.81,0M94.27,163.4a0.99,0.99 0 1,0 1.98,0a0.99,0.99 0 1,0 -1.98,0M102.5,163.13a0.91,0.91 0 1,0 1.82,0a0.91,0.91 0 1,0 -1.82,0M109.64,162.31a1.18,1.18 0 1,0 2.36,0a1.18,1.18 0 1,0 -2.36,0M122.18,163.67a1.24,1.24 0 1,0 2.47,0a1.24,1.24 0 1,0 -2.47,0M124.5,164.71a1.25,1.25 0 1,0 2.51,0a1.25,1.25 0 1,0 -2.51,0M134.78,166.06a1.24,1.24 0 1,0 2.48,0a1.24,1.24 0 1,0 -2.48,0M143.41,167.15a1.19,1.19 0 1,0 2.38,0a1.19,1.19 0 1,0 -2.38,0M153.98,163.6a0.84,0.84 0 1,0 1.69,0a0.84,0.84 0 1,0 -1.69,0M160.5,162.99a0.95,0.95 0 1,0 1.9,0a0.95,0.95 0 1,0 -1.9,0M167.43,164.55a0.81,0.81 0 1,0 1.61,0a0.81,0.81 0 1,0 -1.61,0M181.5,167.98a0.98,0.98 0 1,0 1.97,0a0.98,0.98 0 1,0 -1.97,0M185.37,165.75a0.97,0.97 0 1,0 1.95,0a0.97,0.97 0 1,0 -1.95,0M194.46,162.84a1,1 0 1,0 2,0a1,1 0 1,0 -2,0M203,168.38a1.28,1.28 0 1,0 2.56,0a1.28,1.28 0 1,0 -2.56,0M212.51,165.27a1.12,1.12 0 1,0 2.23,0a1.12,1.12 0 1,0 -2.23,0M221.78,160.53a1.13,1.13 0 1,0 2.25,0a1.13,1.13 0 1,0 -2.25,0M229.59,164.37a1.02,1.02 0 1,0 2.05,0a1.02,1.02 0 1,0 -2.05,0M236.22,166.39a1.4,1.4 0 1,0 2.79,0a1.4,1.4 0 1,0 -2.79,0M245.17,164.62a1.2,1.2 0 1,0 2.39,0a1.2,1.2 0 1,0 -2.39,0M255.82,160.28a1.08,1.08 0 1,0 2.17,0a1.08,1.08 0 1,0 -2.17,0M11.27,174.26a0.93,0.93 0 1,0 1.87,0a0.93,0.93 0 1,0 -1.87,0M21.27,173.3a0.91,0.91 0 1,0 1.83,0a0.91,0.91 0 1,0 -1.83,0M27.73,175.69a0.81,0.81 0 1,0 1.61,0a0.81,0.81 0 1,0 -1.61,0M31.68,171.98a1.26,1.26 0 1,0 2.52,0a1.26,1.26 0 1,0 -2.52,0M45.24,171.08a1.12,1.12 0 1,0 2.24,0a1.12,1.12 0 1,0 -2.24,0M49.62,173.25a0.99,0.99 0 1,0 1.99,0a0.99,0.99 0 1,0 -1.99,0M59.47,170.04a1.08,1.08 0 1,0 2.17,0a1.08,1.08 0 1,0 -2.17,0M65.49,169.15a1.31,1.31 0 1,0 2.63,0a1.31,1.31 0 1,0 -2.63,0M79.59,174.06a1.26,1.26 0 1,0 2.51,0a1.26,1.26 0 1,0 -2.51,0M88.81,172.54a1.12,1.12 0 1,0 2.25,0a1.12,1.12 0 1,0 -2.25,0M96.7,173.56a1.07,1.07 0 1,0 2.14,0a1.07,1.07 0 1,0 -2.14,0M102.61,172.81a1.11,1.11 0 1,0 2.21,0a1.11,1.11 0 1,0 -2.21,0M108.83,170.97a1.37,1.37 0 1,0 2.74,0a1.37,1.37 0 1,0 -2.74,0M116.49,175.39a1.07,1.07 0 1,0 2.14,0a1.07,1.07 0 1,0 -2.14,0M130.51,174.66a1.38,1.38 0 1,0 2.76,0a1.38,1.38 0 1,0 -2.76,0M140.64,172.99a0.88,0.88 0 1,0 1.76,0a0.88,0.88 0 1,0 -1.76,0M147.77,171.82a1.02,1.02 0 1,0 2.04,0a1.02,1.02 0 1,0 -2.04,0M155.49,172.14a0.92,0.92 0 1,0 1.85,0a0.92,0.92 0 1,0 -1.85,0M158.4,176.89a1.07,1.07 0 1,0 2.15,0a1.07,1.07 0 1,0 -2.15,0M168.69,174.86a0.92,0.92 0 1,0 1.84,0a0.92,0.92 0 1,0 -1.84,0M180.12,173.29a0.82,0.82 0 1,0 1.63,0a0.82,0.82 0 1,0 -1.63,0M185.95,171.63a1.21,1.21 0 1,0 2.42,0a1.21,1.21 0 1,0 -2.42,0M198.63,175.48a1.03,1.03 0 1,0 2.05,0a1.03,1.03 0 1,0 -2.05,0M200.23,174.12a1.26,1.26 0 1,0 2.51,0a1.26,1.26 0 1,0 -2.51,0M207.83,175.88a1.27,1.27 0 1,0 2.55,0a1.27,1.27 0 1,0 -2.55,0M221.77,173.5a1.12,1.12 0 1,0 2.23,0a1.12,1.12 0 1,0 -2.23,0M231.02,173.34a0.95,0.95 0 1,0 1.91,0a0.95,0.95 0 1,0 -1.91,0M240.28,173.81a0.87,0.87 0 1,0 1.75,0a0.87,0.87 0 1,0 -1.75,0M247.75,172.11a1.05,1.05 0 1,0 2.1,0a1.05,1.05 0 1,0 -2.1,0M256.83,173.39a0.97,0.97 0 1,0 1.94,0a0.97,0.97 0 1,0 -1.94,0M13.45,183.17a1,1 0 1,0 2,0a1,1 0 1,0 -2,0M22.72,181.44a1.29,1.29 0 1,0 2.58,0a1.29,1.29 0 1,0 -2.58,0M28.59,181.74a0.9,0.9 0 1,0 1.79,0a0.9,0.9 0 1,0 -1.79,0M38.77,179.41a1.33,1.33 0 1,0 2.65,0a1.33,1.33 0 1,0 -2.65,0M43.64,179.22a1.24,1.24 0 1,0 2.48,0a1.24,1.24 0 1,0 -2.48,0M57.31,180.37a1.13,1.13 0 1,0 2.26,0a1.13,1.13 0 1,0 -2.26,0M65.22,181.37a1.06,1.06 0 1,0 2.12,0a1.06,1.06 0 1,0 -2.12,0M73.75,181.98a1.12,1.12 0 1,0 2.24,0a1.12,1.12 0 1,0 -2.24,0M82.81,180.07a1.22,1.22 0 1,0 2.43,0a1.22,1.22 0 1,0 -2.43,0M91.97,180.57a1.03,1.03 0 1,0 2.06,0a1.03,1.03 0 1,0 -2.06,0M100.05,183.55a0.87,0.87 0 1,0 1.75,0a0.87,0.87 0 1,0 -1.75,0M108.63,179.41a0.85,0.85 0 1,0 1.71,0a0.85,0.85 0 1,0 -1.71,0M112.41,182.45a0.84,0.84 0 1,0 1.68,0a0.84,0.84 0 1,0 -1.68,0M122.14,181.24a1.24,1.24 0 1,0 2.48,0a1.24,1.24 0 1,0 -2.48,0M133.31,183.85a1.16,1.16 0 1,0 2.33,0a1.16,1.16 0 1,0 -2.33,0M139.98,183.9a0.84,0.84 0 1,0 1.67,0a0.84,0.84 0 1,0 -1.67,0M149.16,184.37a0.85,0.85 0 1,0 1.7,0a0.85,0.85 0 1,0 -1.7,0M157.56,181.68a1.04,1.04 0 1,0 2.08,0a1.04,1.04 0 1,0 -2.08,0M168.22,178.13a1.03,1.03 0 1,0 2.06,0a1.03,1.03 0 1,0 -2.06,0M173.2,183.9a1.37,1.37 0 1,0 2.74,0a1.37,1.37 0 1,0 -2.74,0M182.35,179.28a0.8,0.8 0 1,0 1.6,0a0.8,0.8 0 1,0 -1.6,0M190.15,180.34a1.27,1.27 0 1,0 2.55,0a1.27,1.27 0 1,0 -2.55,0M199.84,185.13a0.88,0.88 0 1,0 1.77,0a0.88,0.88 0 1,0 -1.77,0M207.7,179.24a1.4,1.4 0 1,0 2.8,0a1.4,1.4 0 1,0 -2.8,0M220.43,183.7a0.85,0.85 0 1,0 1.7,0a0.85,0.85 0 1,0 -1.7,0M228.87,184.11a1.15,1.15 0 1,0 2.29,0a1.15,1.15 0 1,0 -2.29,0M233.05,181.18a1.2,1.2 0 1,0 2.39,0a1.2,1.2 0 1,0 -2.39,0M243.95,178.16a1.26,1.26 0 1,0 2.53,0a1.26,1.26 0 1,0 -2.53,0M249.57,181.31a0.99,0.99 0 1,0 1.98,0a0.99,0.99 0 1,0 -1.98,0M12.78,187.59a0.88,0.88 0 1,0 1.76,0a0.88,0.88 0 1,0 -1.76,0M19.86,188.12a1.12,1.12 0 1,0 2.23,0a1.12,1.12 0 1,0 -2.23,0M23.94,190.61a1.23,1.23 0 1,0 2.45,0a1.23,1.23 0 1,0 -2.45,0M33.26,191.21a1.23,1.23 0 1,0 2.46,0a1.23,1.23 0 1,0 -2.46,0M41.42,188.84a0.81,0.81 0 1,0 1.61,0a0.81,0.81 0 1,0 -1.61,0M44.71,190.68a0.93,0.93 0 1,0 1.86,0a0.93,0.93 0 1,0 -1.86,0M58.47,189.93a0.85,0.85 0 1,0 1.7,0a0.85,0.85 0 1,0 -1.7,0M66.78,187.51a1.39,1.39 0 1,0 2.78,0a1.39,1.39 0 1,0 -2.78,0M74.31,189.1a1.16,1.16 0 1,0 2.32,0a1.16,1.16 0 1,0 -2.32,0M83.73,189.18a1.22,1.22 0 1,0 2.44,0a1.22,1.22 0 1,0 -2.44,0M92.5,191.92a1.29,1.29 0 1,0 2.57,0a1.29,1.29 0 1,0 -2.57,0M97.3,190.4a1.08,1.08 0 1,0 2.16,0a1.08,1.08 0 1,0 -2.16,0M108.38,190.78a1.12,1.12 0 1,0 2.25,0a1.12,1.12 0 1,0 -2.25,0M118.42,190.2a1.06,1.06 0 1,0 2.11,0a1.06,1.06 0 1,0 -2.11,0M126.57,188.99a1.3,1.3 0 1,0 2.61,0a1.3,1.3 0 1,0 -2.61,0M136.26,190.83a1.31,1.31 0 1,0 2.62,0a1.31,1.31 0 1,0 -2.62,0M138.36,190.61a0.8,0.8 0 1,0 1.61,0a0.8,0.8 0 1,0 -1.61,0M148.01,194.24a0.96,0.96 0 1,0 1.92,0a0.96,0.96 0 1,0 -1.92,0M159.33,189.32a1.26,1.26 0 1,0 2.52,0a1.26,1.26 0 1,0 -2.52,0M168.58,186.85a1.35,1.35 0 1,0 2.71,0a1.35,1.35 0 1,0 -2.71,0M178.24,191.32a1.14,1.14 0 1,0 2.27,0a1.14,1.14 0 1,0 -2.27,0M183.86,188.82a0.98,0.98 0 1,0 1.97,0a0.98,0.98 0 1,0 -1.97,0M193.04,190.53a1.22,1.22 0 1,0 2.43,0a1.22,1.22 0 1,0 -2.43,0M203.82,190.23a1.35,1.35 0 1,0 2.7,0a1.35,1.35 0 1,0 -2.7,0M211.51,188.54a1.06,1.06 0 1,0 2.12,0a1.06,1.06 0 1,0 -2.12,0M219.79,188.9a1.31,1.31 0 1,0 2.63,0a1.31,1.31 0 1,0 -2.63,0M227.57,191.73a0.85,0.85 0 1,0 1.7,0a0.85,0.85 0 1,0 -1.7,0M238.46,192.88a1.11,1.11 0 1,0 2.21,0a1.11,1.11 0 1,0 -2.21,0M244.97,188.24a1.27,1.27 0 1,0 2.54,0a1.27,1.27 0 1,0 -2.54,0M257.22,191.04a1.07,1.07 0 1,0 2.13,0a1.07,1.07 0 1,0 -2.13,0M12.95,196.94a0.99,0.99 0 1,0 1.98,0a0.99,0.99 0 1,0 -1.98,0M15.96,200.67a1.09,1.09 0 1,0 2.18,0a1.09,1.09 0 1,0 -2.18,0M23.88,196.84a1.3,1.3 0 1,0 2.61,0a1.3,1.3 0 1,0 -2.61,0M31.15,200.92a0.85,0.85 0 1,0 1.7,0a0.85,0.85 0 1,0 -1.7,0M43.38,200.36a0.94,0.94 0 1,0 1.88,0a0.94,0.94 0 1,0 -1.88,0M52.24,198.13a0.85,0.85 0 1,0 1.71,0a0.85,0.85 0 1,0 -1.71,0M61.39,196.37a1.27,1.27 0 1,0 2.54,0a1.27,1.27 0 1,0 -2.54,0M69.07,196.38a1.08,1.08 0 1,0 2.16,0a1.08,1.08 0 1,0 -2.16,0M75.39,196.25a1.35,1.35 0 1,0 2.71,0a1.35,1.35 0 1,0 -2.71,0M86.28,194.18a0.9,0.9 0 1,0 1.79,0a0.9,0.9 0 1,0 -1.79,0M94.48,195.93a0.9,0.9 0 1,0 1.8,0a0.9,0.9 0 1,0 -1.8,0M102.88,195.21a1.26,1.26 0 1,0 2.51,0a1.26,1.26 0 1,0 -2.51,0M106.41,200.15a0.84,0.84 0 1,0 1.68,0a0.84,0.84 0 1,0 -1.68,0M116.6,194.87a0.98,0.98 0 1,0 1.97,0a0.98,0.98 0 1,0 -1.97,0M130.58,196.88a1.01,1.01 0 1,0 2.01,0a1.01,1.01 0 1,0 -2.01,0M135.53,195.51a1.14,1.14 0 1,0 2.28,0a1.14,1.14 0 1,0 -2.28,0M139.57,200.36a1.3,1.3 0 1,0 2.6,0a1.3,1.3 0 1,0 -2.6,0M153.32,199.13a1.2,1.2 0 1,0 2.41,0a1.2,1.2 0 1,0 -2.41,0M159.53,199.76a0.88,0.88 0 1,0 1.76,0a0.88,0.88 0 1,0 -1.76,0M170.18,197.94a0.91,0.91 0 1,0 1.82,0a0.91,0.91 0 1,0 -1.82,0M179.69,201.09a1.17,1.17 0 1,0 2.34,0a1.17,1.17 0 1,0 -2.34,0M183,198.3a1.38,1.38 0 1,0 2.76,0a1.38,1.38 0 1,0 -2.76,0M193.67,195.08a1.4,1.4 0 1,0 2.8,0a1.4,1.4 0 1,0 -2.8,0M208.55,196.62a0.88,0.88 0 1,0 1.77,0a0.88,0.88 0 1,0 -1.77,0M210.53,199.35a1.16,1.16 0 1,0 2.33,0a1.16,1.16 0 1,0 -2.33,0M218.28,198.36a1.15,1.15 0 1,0 2.29,0a1.15,1.15 0 1,0 -2.29,0M226.25,196.66a0.8,0.8 0 1,0 1.6,0a0.8,0.8 0 1,0 -1.6,0M240.73,201.1a1.18,1.18 0 1,0 2.35,0a1.18,1.18 0 1,0 -2.35,0M243.48,199.84a1.03,1.03 0 1,0 2.05,0a1.03,1.03 0 1,0 -2.05,0M255.01,196.15a1.35,1.35 0 1,0 2.7,0a1.35,1.35 0 1,0 -2.7,0M17.27,209.6a0.87,0.87 0 1,0 1.74,0a0.87,0.87 0 1,0 -1.74,0M21.52,207a1.26,1.26 0 1,0 2.52,0a1.26,1.26 0 1,0 -2.52,0M31.96,206.29a0.93,0.93 0 1,0 1.86,0a0.93,0.93 0 1,0 -1.86,0M41.95,206.24a0.93,0.93 0 1,0 1.86,0a0.93,0.93 0 1,0 -1.86,0M47.84,208.39a0.89,0.89 0 1,0 1.79,0a0.89,0.89 0 1,0 -1.79,0M58.04,208.41a1.07,1.07 0 1,0 2.15,0a1.07,1.07 0 1,0 -2.15,0M62.22,206.91a1.1,1.1 0 1,0 2.2,0a1.1,1.1 0 1,0 -2.2,0M71.73,205.11a1.17,1.17 0 1,0 2.33,0a1.17,1.17 0 1,0 -2.33,0M78.95,205.84a0.99,0.99 0 1,0 1.98,0a0.99,0.99 0 1,0 -1.98,0M89.36,205.69a0.85,0.85 0 1,0 1.69,0a0.85,0.85 0 1,0 -1.69,0M99.43,207.38a1.08,1.08 0 1,0 2.16,0a1.08,1.08 0 1,0 -2.16,0M109.25,207.34a0.97,0.97 0 1,0 1.94,0a0.97,0.97 0 1,0 -1.94,0M117.45,207.64a1.33,1.33 0 1,0 2.65,0a1.33,1.33 0 1,0 -2.65,0M125.47,205.56a0.98,0.98 0 1,0 1.96,0a0.98,0.98 0 1,0 -1.96,0M130.48,208.98a0.85,0.85 0 1,0 1.7,0a0.85,0.85 0 1,0 -1.7,0M141.86,209.27a1.1,1.1 0 1,0 2.2,0a1.1,1.1 0 1,0 -2.2,0M151.64,206.28a0.82,0.82 0 1,0 1.65,0a0.82,0.82 0 1,0 -1.65,0M158.59,204.35a1.2,1.2 0 1,0 2.41,0a1.2,1.2 0 1,0 -2.41,0M172.56,206.88a1.24,1.24 0 1,0 2.47,0a1.24,1.24 0 1,0 -2.47,0M176.93,210.6a1.23,1.23 0 1,0 2.45,0a1.23,1.23 0 1,0 -2.45,0M184.18,204.49a1.38,1.38 0 1,0 2.77,0a1.38,1.38 0 1,0 -2.77,0M194.04,208a1,1 0 1,0 2.01,0a1,1 0 1,0 -2.01,0M199.31,207.28a1.18,1.18 0 1,0 2.35,0a1.18,1.18 0 1,0 -2.35,0M206.54,204.56a1.03,1.03 0 1,0 2.06,0a1.03,1.03 0 1,0 -2.06,0M213.65,208.51a0.93,0.93 0 1,0 1.86,0a0.93,0.93 0 1,0 -1.86,0M226.49,207.57a0.95,0.95 0 1,0 1.9,0a0.95,0.95 0 1,0 -1.9,0M231.89,207.35a1.16,1.16 0 1,0 2.33,0a1.16,1.16 0 1,0 -2.33,0M244.51,208.87a1.1,1.1 0 1,0 2.21,0a1.1,1.1 0 1,0 -2.21,0M255.79,207.87a1.35,1.35 0 1,0 2.71,0a1.35,1.35 0 1,0 -2.71,0M13.93,213.2a0.92,0.92 0 1,0 1.84,0a0.92,0.92 0 1,0 -1.84,0M20.96,214.27a1.4,1.4 0 1,0 2.8,0a1.4,1.4 0 1,0 -2.8,0M30.2,213.49a0.99,0.99 0 1,0 1.98,0a0.99,0.99 0 1,0 -1.98,0M38.84,219.3a0.95,0.95 0 1,0 1.9,0a0.95,0.95 0 1,0 -1.9,0M50.37,217.44a1.32,1.32 0 1,0 2.65,0a1.32,1.32 0 1,0 -2.65,0M53,213.14a1.01,1.01 0 1,0 2.02,0a1.01,1.01 0 1,0 -2.02,0M68.86,211.45a0.94,0.94 0 1,0 1.87,0a0.94,0.94 0 1,0 -1.87,0M76.41,215.98a0.82,0.82 0 1,0 1.63,0a0.82,0.82 0 1,0 -1.63,0M84.83,213.41a0.91,0.91 0 1,0 1.82,0a0.91,0.91 0 1,0 -1.82,0M90.26,214.89a1.39,1.39 0 1,0 2.78,0a1.39,1.39 0 1,0 -2.78,0M99.46,211.61a1.29,1.29 0 1,0 2.57,0a1.29,1.29 0 1,0 -2.57,0M112.51,217.43a1.05,1.05 0 1,0 2.1,0a1.05,1.05 0 1,0 -2.1,0M115.09,217.5a1.35,1.35 0 1,0 2.71,0a1.35,1.35 0 1,0 -2.71,0M126.97,217.04a0.96,0.96 0 1,0 1.92,0a0.96,0.96 0 1,0 -1.92,0M130.2,216.46a1.09,1.09 0 1,0 2.19,0a1.09,1.09 0 1,0 -2.19,0M139.73,215.34a0.96,0.96 0 1,0 1.91,0a0.96,0.96 0 1,0 -1.91,0M150.86,216.73a1.31,1.31 0 1,0 2.62,0a1.31,1.31 0 1,0 -2.62,0M160.79,218.75a1.26,1.26 0 1,0 2.51,0a1.26,1.26 0 1,0 -2.51,0M167.03,215.08a1.31,1.31 0 1,0 2.61,0a1.31,1.31 0 1,0 -2.61,0M176.25,213.82a1.23,1.23 0 1,0 2.45,0a1.23,1.23 0 1,0 -2.45,0M188.14,218.35a1.1,1.1 0 1,0 2.2,0a1.1,1.1 0 1,0 -2.2,0M197.73,214.64a1.36,1.36 0 1,0 2.73,0a1.36,1.36 0 1,0 -2.73,0M199.6,213.4a1.1,1.1 0 1,0 2.2,0a1.1,1.1 0 1,0 -2.2,0M211.69,216.71a1.16,1.16 0 1,0 2.31,0a1.16,1.16 0 1,0 -2.31,0M218.27,215.23a1.04,1.04 0 1,0 2.08,0a1.04,1.04 0 1,0 -2.08,0M227.12,217.12a1.24,1.24 0 1,0 2.48,0a1.24,1.24 0 1,0 -2.48,0M232.37,218.15a1.26,1.26 0 1,0 2.51,0a1.26,1.26 0 1,0 -2.51,0M245.73,216.16a0.83,0.83 0 1,0 1.66,0a0.83,0.83 0 1,0 -1.66,0M254.75,212.36a1.07,1.07 0 1,0 2.14,0a1.07,1.07 0 1,0 -2.14,0M13.74,224.42a1.1,1.1 0 1,0 2.2,0a1.1,1.1 0 1,0 -2.2,0M21.5,223.47a1.09,1.09 0 1,0 2.18,0a1.09,1.09 0 1,0 -2.18,0M34.3,224.31a0.89,0.89 0 1,0 1.78,0a0.89,0.89 0 1,0 -1.78,0M41.93,223.93a1.18,1.18 0 1,0 2.36,0a1.18,1.18 0 1,0 -2.36,0M42.64,225.21a1.35,1.35 0 1,0 2.71,0a1.35,1.35 0 1,0 -2.71,0M59.07,221.94a1.37,1.37 0 1,0 2.75,0a1.37,1.37 0 1,0 -2.75,0M66.74,225.46a1.18,1.18 0 1,0 2.35,0a1.18,1.18 0 1,0 -2.35,0M68.87,224.38a1.34,1.34 0 1,0 2.69,0a1.34,1.34 0 1,0 -2.69,0M77.42,225.22a1.11,1.11 0 1,0 2.21,0a1.11,1.11 0 1,0 -2.21,0M88.8,228a1.28,1.28 0 1,0 2.57,0a1.28,1.28 0 1,0 -2.57,0M93.63,219.48a1.21,1.21 0 1,0 2.43,0a1.21,1.21 0 1,0 -2.43,0M105.72,222.45a1.4,1.4 0 1,0 2.8,0a1.4,1.4 0 1,0 -2.8,0M113.47,221.69a0.9,0.9 0 1,0 1.81,0a0.9,0.9 0 1,0 -1.81,0M121.47,222.19a1.33,1.33 0 1,0 2.66,0a1.33,1.33 0 1,0 -2.66,0M130.56,224.61a0.87,0.87 0 1,0 1.74,0a0.87,0.87 0 1,0 -1.74,0M139.07,221.43a1.02,1.02 0 1,0 2.03,0a1.02,1.02 0 1,0 -2.03,0M149.09,221.74a1.35,1.35 0 1,0 2.69,0a1.35,1.35 0 1,0 -2.69,0M156.43,223.19a0.91,0.91 0 1,0 1.82,0a0.91,0.91 0 1,0 -1.82,0M165.32,224.36a0.84,0.84 0 1,0 1.68,0a0.84,0.84 0 1,0 -1.68,0M173.09,220.79a0.9,0.9 0 1,0 1.81,0a0.9,0.9 0 1,0 -1.81,0M181.84,223.3a1.33,1.33 0 1,0 2.65,0a1.33,1.33 0 1,0 -2.65,0M191.51,225.26a1.19,1.19 0 1,0 2.37,0a1.19,1.19 0 1,0 -2.37,0M202.42,225.16a1.25,1.25 0 1,0 2.49,0a1.25,1.25 0 1,0 -2.49,0M208.22,226.4a1.18,1.18 0 1,0 2.36,0a1.18,1.18 0 1,0 -2.36,0M213.7,223.9a0.97,0.97 0 1,0 1.93,0a0.97,0.97 0 1,0 -1.93,0M222.51,221.94a1.05,1.05 0 1,0 2.11,0a1.05,1.05 0 1,0 -2.11,0M238.63,224.57a1.01,1.01 0 1,0 2.02,0a1.01,1.01 0 1,0 -2.02,0M244.35,226.14a1.06,1.06 0 1,0 2.13,0a1.06,1.06 0 1,0 -2.13,0M247.93,226.49a1.09,1.09 0 1,0 2.18,0a1.09,1.09 0 1,0 -2.18,0M260.25,223.76a1.17,1.17 0 1,0 2.33,0a1.17,1.17 0 1,0 -2.33,0M14.57,233.46a1.25,1.25 0 1,0 2.5,0a1.25,1.25 0 1,0 -2.5,0M21.1,237.32a1.08,1.08 0 1,0 2.15,0a1.08,1.08 0 1,0 -2.15,0M27.86,230.01a1.36,1.36 0 1,0 2.71,0a1.36,1.36 0 1,0 -2.71,0M36.61,233.85a0.85,0.85 0 1,0 1.7,0a0.85,0.85 0 1,0 -1.7,0M45.09,232.76a0.85,0.85 0 1,0 1.7,0a0.85,0.85 0 1,0 -1.7,0M57.5,234.9a0.86,0.86 0 1,0 1.71,0a0.86,0.86 0 1,0 -1.71,0M64.48,236.17a1.17,1.17 0 1,0 2.34,0a1.17,1.17 0 1,0 -2.34,0M69.8,232.97a0.82,0.82 0 1,0 1.63,0a0.82,0.82 0 1,0 -1.63,0M81.66,228.8a1.18,1.18 0 1,0 2.37,0a1.18,1.18 0 1,0 -2.37,0M88.3,231.15a0.88,0.88 0 1,0 1.77,0a0.88,0.88 0 1,0 -1.77,0M97.83,233.44a1.34,1.34 0 1,0 2.68,0a1.34,1.34 0 1,0 -2.68,0M105.24,232.26a0.83,0.83 0 1,0 1.67,0a0.83,0.83 0 1,0 -1.67,0M112.61,234.49a1.35,1.35 0 1,0 2.7,0a1.35,1.35 0 1,0 -2.7,0M121.42,230.27a1.18,1.18 0 1,0 2.36,0a1.18,1.18 0 1,0 -2.36,0M131.82,230.49a1.04,1.04 0 1,0 2.07,0a1.04,1.04 0 1,0 -2.07,0M138.74,231.81a1.15,1.15 0 1,0 2.3,0a1.15,1.15 0 1,0 -2.3,0M144.53,234.26a1.15,1.15 0 1,0 2.3,0a1.15,1.15 0 1,0 -2.3,0M158.85,232.41a1.17,1.17 0 1,0 2.34,0a1.17,1.17 0 1,0 -2.34,0M160.8,233.91a1.22,1.22 0 1,0 2.44,0a1.22,1.22 0 1,0 -2.44,0M173.37,233.23a0.9,0.9 0 1,0 1.81,0a0.9,0.9 0 1,0 -1.81,0M180.45,229.58a1.02,1.02 0 1,0 2.04,0a1.02,1.02 0 1,0 -2.04,0M187.71,230.7a1.4,1.4 0 1,0 2.8,0a1.4,1.4 0 1,0 -2.8,0M197.1,230.46a1.22,1.22 0 1,0 2.45,0a1.22,1.22 0 1,0 -2.45,0M206.53,234.14a1.01,1.01 0 1,0 2.02,0a1.01,1.01 0 1,0 -2.02,0M213.09,229.33a0.89,0.89 0 1,0 1.78,0a0.89,0.89 0 1,0 -1.78,0M229.98,232.99a0.98,0.98 0 1,0 1.96,0a0.98,0.98 0 1,0 -1.96,0M232.49,232.48a1.14,1.14 0 1,0 2.27,0a1.14,1.14 0 1,0 -2.27,0M240.38,230.77a1.31,1.31 0 1,0 2.62,0a1.31,1.31 0 1,0 -2.62,0M249.96,234.57a0.96,0.96 0 1,0 1.91,0a0.96,0.96 0 1,0 -1.91,0M255.64,231.67a1.26,1.26 0 1,0 2.53,0a1.26,1.26 0 1,0 -2.53,0M9.45,243.41a1.19,1.19 0 1,0 2.37,0a1.19,1.19 0 1,0 -2.37,0M16.97,244.77a0.99,0.99 0 1,0 1.98,0a0.99,0.99 0 1,0 -1.98,0M25.03,245.25a1.14,1.14 0 1,0 2.28,0a1.14,1.14 0 1,0 -2.28,0M38.98,236.02a0.87,0.87 0 1,0 1.74,0a0.87,0.87 0 1,0 -1.74,0M43.48,241.26a1.28,1.28 0 1,0 2.56,0a1.28,1.28 0 1,0 -2.56,0M46.8,239.24a0.9,0.9 0 1,0 1.8,0a0.9,0.9 0 1,0 -1.8,0M67.4,239.53a0.87,0.87 0 1,0 1.74,0a0.87,0.87 0 1,0 -1.74,0M70.4,243.12a1.14,1.14 0 1,0 2.29,0a1.14,1.14 0 1,0 -2.29,0M79.07,239.32a0.92,0.92 0 1,0 1.85,0a0.92,0.92 0 1,0 -1.85,0M88.93,239.63a0.9,0.9 0 1,0 1.8,0a0.9,0.9 0 1,0 -1.8,0M95.91,239.41a1.24,1.24 0 1,0 2.49,0a1.24,1.24 0 1,0 -2.49,0M103.49,241.59a1.22,1.22 0 1,0 2.44,0a1.22,1.22 0 1,0 -2.44,0M109.63,242.49a0.85,0.85 0 1,0 1.71,0a0.85,0.85 0 1,0 -1.71,0M119.41,240.7a0.95,0.95 0 1,0 1.9,0a0.95,0.95 0 1,0 -1.9,0M126.82,238.37a0.85,0.85 0 1,0 1.69,0a0.85,0.85 0 1,0 -1.69,0M135.09,239.06a1,1 0 1,0 2,0a1,1 0 1,0 -2,0M144.78,240.21a0.86,0.86 0 1,0 1.72,0a0.86,0.86 0 1,0 -1.72,0M151.59,238.22a1.15,1.15 0 1,0 2.3,0a1.15,1.15 0 1,0 -2.3,0M165.2,239.05a1.02,1.02 0 1,0 2.04,0a1.02,1.02 0 1,0 -2.04,0M168.96,242.39a1,1 0 1,0 1.99,0a1,1 0 1,0 -1.99,0M179.17,239.05a1.4,1.4 0 1,0 2.8,0a1.4,1.4 0 1,0 -2.8,0M187,238.86a1.03,1.03 0 1,0 2.07,0a1.03,1.03 0 1,0 -2.07,0M198.19,240.78a0.86,0.86 0 1,0 1.73,0a0.86,0.86 0 1,0 -1.73,0M202.79,243.62a1.2,1.2 0 1,0 2.39,0a1.2,1.2 0 1,0 -2.39,0M216.15,241.98a1.29,1.29 0 1,0 2.59,0a1.29,1.29 0 1,0 -2.59,0M221.55,242.99a0.96,0.96 0 1,0 1.91,0a0.96,0.96 0 1,0 -1.91,0M227.97,239.79a0.97,0.97 0 1,0 1.95,0a0.97,0.97 0 1,0 -1.95,0M241.7,239.68a0.88,0.88 0 1,0 1.75,0a0.88,0.88 0 1,0 -1.75,0M245.51,238.45a1.2,1.2 0 1,0 2.4,0a1.2,1.2 0 1,0 -2.4,0M258.61,242.32a1.19,1.19 0 1,0 2.38,0a1.19,1.19 0 1,0 -2.38,0M15.05,249.1a1.37,1.37 0 1,0 2.74,0a1.37,1.37 0 1,0 -2.74,0M22.31,250.63a0.91,0.91 0 1,0 1.82,0a0.91,0.91 0 1,0 -1.82,0M32.9,245.58a0.99,0.99 0 1,0 1.99,0a0.99,0.99 0 1,0 -1.99,0M38.56,250.51a1.38,1.38 0 1,0 2.76,0a1.38,1.38 0 1,0 -2.76,0M47.1,249.95a1.11,1.11 0 1,0 2.22,0a1.11,1.11 0 1,0 -2.22,0M55.14,248.63a1.29,1.29 0 1,0 2.57,0a1.29,1.29 0 1,0 -2.57,0M66.77,250.18a1.13,1.13 0 1,0 2.26,0a1.13,1.13 0 1,0 -2.26,0M78.05,251.85a1.27,1.27 0 1,0 2.55,0a1.27,1.27 0 1,0 -2.55,0M81.82,253.94a1.33,1.33 0 1,0 2.67,0a1.33,1.33 0 1,0 -2.67,0M90.39,252.04a1.07,1.07 0 1,0 2.14,0a1.07,1.07 0 1,0 -2.14,0M99.08,250.39a0.87,0.87 0 1,0 1.75,0a0.87,0.87 0 1,0 -1.75,0M107.93,250.34a1.38,1.38 0 1,0 2.76,0a1.38,1.38 0 1,0 -2.76,0M115.54,251.41a1.11,1.11 0 1,0 2.21,0a1.11,1.11 0 1,0 -2.21,0M125.01,251.87a1.37,1.37 0 1,0 2.73,0a1.37,1.37 0 1,0 -2.73,0M136.65,248.39a1.13,1.13 0 1,0 2.25,0a1.13,1.13 0 1,0 -2.25,0M140.32,246.68a1.23,1.23 0 1,0 2.46,0a1.23,1.23 0 1,0 -2.46,0M150.32,252.42a1.39,1.39 0 1,0 2.77,0a1.39,1.39 0 1,0 -2.77,0M160.7,252.34a0.96,0.96 0 1,0 1.92,0a0.96,0.96 0 1,0 -1.92,0M166.97,244.64a1.32,1.32 0 1,0 2.64,0a1.32,1.32 0 1,0 -2.64,0M175.79,251a1.06,1.06 0 1,0 2.13,0a1.06,1.06 0 1,0 -2.13,0M185.43,247.31a0.86,0.86 0 1,0 1.72,0a0.86,0.86 0 1,0 -1.72,0M193.01,248.87a1.28,1.28 0 1,0 2.57,0a1.28,1.28 0 1,0 -2.57,0M197.71,249.93a1.28,1.28 0 1,0 2.56,0a1.28,1.28 0 1,0 -2.56,0M212.87,251.13a1.11,1.11 0 1,0 2.22,0a1.11,1.11 0 1,0 -2.22,0M217.58,255.56a1.39,1.39 0 1,0 2.79,0a1.39,1.39 0 1,0 -2.79,0M230.58,251.42a1.28,1.28 0 1,0 2.57,0a1.28,1.28 0 1,0 -2.57,0M231.66,251.22a1.06,1.06 0 1,0 2.12,0a1.06,1.06 0 1,0 -2.12,0M241.9,250.74a1.31,1.31 0 1,0 2.62,0a1.31,1.31 0 1,0 -2.62,0M253.59,247.65a1.08,1.08 0 1,0 2.17,0a1.08,1.08 0 1,0 -2.17,0" fill="#5a5a5a" opacity="0.42" filter="url(#blurd)"/>
<defs><linearGradient id="gtop" x1="0" y1="0" x2="0" y2="1"><stop offset="0" stop-color="#000" stop-opacity="0.13"/><stop offset="1" stop-color="#000" stop-opacity="0"/></linearGradient><linearGradient id="gleft" x1="0" y1="0" x2="1" y2="0"><stop offset="0" stop-color="#000" stop-opacity="0.08"/><stop offset="1" stop-color="#000" stop-opacity="0"/></linearGradient></defs>
<rect x="6" y="1" width="255" height="14" fill="url(#gtop)"/>
<rect x="6" y="1" width="10" height="253" fill="url(#gleft)"/>
<circle cx="217.6" cy="138" r="9.5" fill="#6a6a6a" opacity="0.35" filter="url(#blur2)"/>
<circle cx="217.6" cy="138" r="8" fill="none" stroke="#5a5a5a" stroke-width="2" opacity="0.35" filter="url(#blur1)"/>
<circle cx="213.9" cy="72.4" r="3.3" fill="#4a4a4a" opacity="0.75" filter="url(#blur1)"/>
<circle cx="216.4" cy="49.4" r="5.5" fill="none" stroke="#666" stroke-width="1.3" opacity="0.5" filter="url(#blur1)"/>
<circle cx="252.7" cy="51.8" r="2.2" fill="#555" opacity="0.6" filter="url(#blur1)"/>
<circle cx="147.5" cy="80" r="5" fill="none" stroke="#666" stroke-width="1.2" opacity="0.45" filter="url(#blur1)"/>
<circle cx="52.5" cy="150" r="5" fill="none" stroke="#666" stroke-width="1.2" opacity="0.35" filter="url(#blur1)"/>
<circle cx="176" cy="179" r="2" fill="#555" opacity="0.6" filter="url(#blur1)"/>
<path d="M6,234 L6,254 L28,254 Z" fill="#a2a2a2" filter="url(#blur1)"/>
<path d="M6,229 C12,236 20,244 29,254" stroke="#303030" stroke-width="3.2" fill="none" opacity="0.85" filter="url(#blur1)"/>
<path d="M5,223 L39,255" stroke="#2a2a2a" stroke-width="1.5" opacity="0.8" filter="url(#blurd)"/>
<circle cx="14.3" cy="239.8" r="2.4" fill="#111" filter="url(#blur1)"/>
<ellipse cx="13.6" cy="236.0" rx="2.2" ry="1.3" fill="#f4f4f4" filter="url(#blurd)"/>
<path d="M17.3,241.5 L23.3,248.5" stroke="#e4e4e4" stroke-width="1.6" filter="url(#blurd)"/>
<path d="M7,240 C9,246 10,250 12,254" stroke="#333" stroke-width="1.5" fill="none" opacity="0.6" filter="url(#blur1)"/>
<path d="M207,256 L263,216 L263,231 L226,256 Z" fill="#777" filter="url(#blur1)"/>
<ellipse cx="254.8" cy="226.9" rx="4.0" ry="2.3" transform="rotate(-35 254.8 226.9)" fill="#e6e6e6" filter="url(#blurd)"/>
<ellipse cx="247.1" cy="234.6" rx="3.4" ry="2.2" transform="rotate(-35 247.1 234.6)" fill="#e6e6e6" filter="url(#blurd)"/>
<ellipse cx="238.8" cy="241" rx="3.2" ry="2.0" transform="rotate(-35 238.8 241)" fill="#e6e6e6" filter="url(#blurd)"/>
<ellipse cx="228.5" cy="248.5" rx="3.6" ry="2.2" transform="rotate(-35 228.5 248.5)" fill="#e6e6e6" filter="url(#blurd)"/>
<ellipse cx="218" cy="254" rx="3" ry="1.8" transform="rotate(-35 218 254)" fill="#e6e6e6" filter="url(#blurd)"/>
<path d="M206,256 L263,215.5" stroke="#1e1e1e" stroke-width="2.0" opacity="0.95"/>
<path d="M227,256 L263,231.5" stroke="#1e1e1e" stroke-width="2.0" opacity="0.95"/>
<path d="M236,256 L263,238" stroke="#555" stroke-width="1.2" opacity="0.6" filter="url(#blur1)"/>
</g>
<text x="15.2" y="26.5" font-family='"Liberation Serif", serif' font-size="24" fill="#fff" stroke="#fff" stroke-width="0.35">(a)</text>
<rect x="192.3" y="246" width="55.6" height="2" fill="#fff"/>
<text x="192" y="238" font-family='"Liberation Sans", sans-serif' font-size="15.2" fill="#fff" textLength="53" lengthAdjust="spacingAndGlyphs">200 nm</text>
<defs><clipPath id="clipB"><rect x="332.5" y="16" width="294.79999999999995" height="219.5"/></clipPath></defs>
<rect x="332.5" y="16" width="291.8" height="217.5" fill="none" stroke="#000" stroke-width="1.3"/>
<path d="M354.61,233.5v-3M354.61,16v3M375.27,233.5v-3M375.27,16v3M389.92,233.5v-3M389.92,16v3M401.29,233.5v-3M401.29,16v3M410.58,233.5v-3M410.58,16v3M418.43,233.5v-3M418.43,16v3M425.23,233.5v-3M425.23,16v3M431.23,233.5v-3M431.23,16v3M436.6,233.5v-5.5M436.6,16v5.5M471.91,233.5v-3M471.91,16v3M492.57,233.5v-3M492.57,16v3M507.22,233.5v-3M507.22,16v3M518.59,233.5v-3M518.59,16v3M527.88,233.5v-3M527.88,16v3M535.73,233.5v-3M535.73,16v3M542.53,233.5v-3M542.53,16v3M548.53,233.5v-3M548.53,16v3M553.9,233.5v-5.5M553.9,16v5.5M589.21,233.5v-3M589.21,16v3M609.87,233.5v-3M609.87,16v3M624.52,233.5v-3M624.52,16v3M332.5,223.1h6M624.3,223.1h-6M332.5,178.9h6M624.3,178.9h-6M332.5,134.7h6M624.3,134.7h-6M332.5,90.5h6M624.3,90.5h-6M332.5,46.3h6M624.3,46.3h-6" stroke="#000" stroke-width="1.2" fill="none"/>
<text x="326" y="50.8" text-anchor="end" font-family='"Liberation Serif", serif' font-size="13">1000</text>
<text x="326" y="95" text-anchor="end" font-family='"Liberation Serif", serif' font-size="13">100</text>
<text x="326" y="139.2" text-anchor="end" font-family='"Liberation Serif", serif' font-size="13">10</text>
<text x="326" y="183.4" text-anchor="end" font-family='"Liberation Serif", serif' font-size="13">1</text>
<text x="326" y="227.6" text-anchor="end" font-family='"Liberation Serif", serif' font-size="13">0.1</text>
<text x="436.6" y="257" text-anchor="middle" font-family='"Liberation Serif", serif' font-size="13.5">0.01</text>
<text x="553.9" y="257" text-anchor="middle" font-family='"Liberation Serif", serif' font-size="13.5">0.1</text>
<text x="354.61" y="245.3" text-anchor="middle" font-family='"Liberation Serif", serif' font-size="9.5">2</text>
<text x="375.27" y="245.3" text-anchor="middle" font-family='"Liberation Serif", serif' font-size="9.5">3</text>
<text x="389.92" y="245.3" text-anchor="middle" font-family='"Liberation Serif", serif' font-size="9.5">4</text>
<text x="401.29" y="245.3" text-anchor="middle" font-family='"Liberation Serif", serif' font-size="9.5">5</text>
<text x="410.58" y="245.3" text-anchor="middle" font-family='"Liberation Serif", serif' font-size="9.5">6</text>
<text x="471.91" y="245.3" text-anchor="middle" font-family='"Liberation Serif", serif' font-size="9.5">2</text>
<text x="492.57" y="245.3" text-anchor="middle" font-family='"Liberation Serif", serif' font-size="9.5">3</text>
<text x="507.22" y="245.3" text-anchor="middle" font-family='"Liberation Serif", serif' font-size="9.5">4</text>
<text x="518.59" y="245.3" text-anchor="middle" font-family='"Liberation Serif", serif' font-size="9.5">5</text>
<text x="527.88" y="245.3" text-anchor="middle" font-family='"Liberation Serif", serif' font-size="9.5">6</text>
<text x="589.21" y="245.3" text-anchor="middle" font-family='"Liberation Serif", serif' font-size="9.5">2</text>
<text x="609.87" y="245.3" text-anchor="middle" font-family='"Liberation Serif", serif' font-size="9.5">3</text>
<text x="624.52" y="245.3" text-anchor="middle" font-family='"Liberation Serif", serif' font-size="9.5">4</text>
<text x="460" y="275" font-family='"Liberation Serif", serif' font-size="14"><tspan font-style="italic">q</tspan> (Å<tspan font-size="9" dy="-6">-1</tspan><tspan dy="6">)</tspan></text>
<text transform="translate(288.7,153.2) rotate(-90)" font-family='"Liberation Serif", serif' font-size="13.5">I(<tspan font-style="italic">q</tspan>) (cm<tspan font-size="10" dy="-8.4">-1</tspan><tspan dy="8.4">)</tspan></text>
<text x="272.8" y="25.8" font-family='"Liberation Serif", serif' font-size="22.5">(b)</text>
<path d="M351.2,122.5 L383,134.4" stroke="#000" stroke-width="1.2"/>
<text x="356" y="144.6" font-family='"Liberation Serif", serif' font-size="13">-1</text>
<g clip-path="url(#clipB)">
<path d="M334.14,101.88a2.3,2.3 0 1,0 4.6,0a2.3,2.3 0 1,0 -4.6,0M338.66,105.48a2.3,2.3 0 1,0 4.6,0a2.3,2.3 0 1,0 -4.6,0M342.82,106.82a2.3,2.3 0 1,0 4.6,0a2.3,2.3 0 1,0 -4.6,0M346.66,109.38a2.3,2.3 0 1,0 4.6,0a2.3,2.3 0 1,0 -4.6,0M350.23,110.57a2.3,2.3 0 1,0 4.6,0a2.3,2.3 0 1,0 -4.6,0M353.57,111.85a2.3,2.3 0 1,0 4.6,0a2.3,2.3 0 1,0 -4.6,0M356.7,113.15a2.3,2.3 0 1,0 4.6,0a2.3,2.3 0 1,0 -4.6,0M359.65,114.2a2.3,2.3 0 1,0 4.6,0a2.3,2.3 0 1,0 -4.6,0M362.44,116.01a2.3,2.3 0 1,0 4.6,0a2.3,2.3 0 1,0 -4.6,0M365.09,117.75a2.3,2.3 0 1,0 4.6,0a2.3,2.3 0 1,0 -4.6,0M367.6,118.74a2.3,2.3 0 1,0 4.6,0a2.3,2.3 0 1,0 -4.6,0M369.99,119.58a2.3,2.3 0 1,0 4.6,0a2.3,2.3 0 1,0 -4.6,0M372.28,119.66a2.3,2.3 0 1,0 4.6,0a2.3,2.3 0 1,0 -4.6,0M374.47,121.37a2.3,2.3 0 1,0 4.6,0a2.3,2.3 0 1,0 -4.6,0M376.57,122.41a2.3,2.3 0 1,0 4.6,0a2.3,2.3 0 1,0 -4.6,0M378.59,123.08a2.3,2.3 0 1,0 4.6,0a2.3,2.3 0 1,0 -4.6,0M380.53,123.45a2.3,2.3 0 1,0 4.6,0a2.3,2.3 0 1,0 -4.6,0M382.4,123.34a2.3,2.3 0 1,0 4.6,0a2.3,2.3 0 1,0 -4.6,0M384.2,125.12a2.3,2.3 0 1,0 4.6,0a2.3,2.3 0 1,0 -4.6,0M385.94,125.26a2.3,2.3 0 1,0 4.6,0a2.3,2.3 0 1,0 -4.6,0M387.62,124.77a2.3,2.3 0 1,0 4.6,0a2.3,2.3 0 1,0 -4.6,0M389.25,126.62a2.3,2.3 0 1,0 4.6,0a2.3,2.3 0 1,0 -4.6,0M390.83,126.28a2.3,2.3 0 1,0 4.6,0a2.3,2.3 0 1,0 -4.6,0M392.36,126.82a2.3,2.3 0 1,0 4.6,0a2.3,2.3 0 1,0 -4.6,0M393.62,127.47a2.3,2.3 0 1,0 4.6,0a2.3,2.3 0 1,0 -4.6,0M393.85,128.39a2.3,2.3 0 1,0 4.6,0a2.3,2.3 0 1,0 -4.6,0M395.29,128.02a2.3,2.3 0 1,0 4.6,0a2.3,2.3 0 1,0 -4.6,0M396.38,128.58a2.3,2.3 0 1,0 4.6,0a2.3,2.3 0 1,0 -4.6,0M396.7,129.33a2.3,2.3 0 1,0 4.6,0a2.3,2.3 0 1,0 -4.6,0M398.06,129.58a2.3,2.3 0 1,0 4.6,0a2.3,2.3 0 1,0 -4.6,0M398.99,129.04a2.3,2.3 0 1,0 4.6,0a2.3,2.3 0 1,0 -4.6,0M399.4,129.07a2.3,2.3 0 1,0 4.6,0a2.3,2.3 0 1,0 -4.6,0M400.69,128.91a2.3,2.3 0 1,0 4.6,0a2.3,2.3 0 1,0 -4.6,0M401.47,129.35a2.3,2.3 0 1,0 4.6,0a2.3,2.3 0 1,0 -4.6,0M401.96,129.97a2.3,2.3 0 1,0 4.6,0a2.3,2.3 0 1,0 -4.6,0M403.19,130.25a2.3,2.3 0 1,0 4.6,0a2.3,2.3 0 1,0 -4.6,0M403.84,130.29a2.3,2.3 0 1,0 4.6,0a2.3,2.3 0 1,0 -4.6,0M404.4,130.82a2.3,2.3 0 1,0 4.6,0a2.3,2.3 0 1,0 -4.6,0M405.57,130.33a2.3,2.3 0 1,0 4.6,0a2.3,2.3 0 1,0 -4.6,0M406.11,130.8a2.3,2.3 0 1,0 4.6,0a2.3,2.3 0 1,0 -4.6,0M406.73,131.32a2.3,2.3 0 1,0 4.6,0a2.3,2.3 0 1,0 -4.6,0M407.85,131.56a2.3,2.3 0 1,0 4.6,0a2.3,2.3 0 1,0 -4.6,0M408.28,131.9a2.3,2.3 0 1,0 4.6,0a2.3,2.3 0 1,0 -4.6,0M408.95,131.78a2.3,2.3 0 1,0 4.6,0a2.3,2.3 0 1,0 -4.6,0M410.03,131.77a2.3,2.3 0 1,0 4.6,0a2.3,2.3 0 1,0 -4.6,0M410.36,132.16a2.3,2.3 0 1,0 4.6,0a2.3,2.3 0 1,0 -4.6,0M411.09,131.76a2.3,2.3 0 1,0 4.6,0a2.3,2.3 0 1,0 -4.6,0M412.12,131.77a2.3,2.3 0 1,0 4.6,0a2.3,2.3 0 1,0 -4.6,0M412.35,132.83a2.3,2.3 0 1,0 4.6,0a2.3,2.3 0 1,0 -4.6,0M413.13,132.78a2.3,2.3 0 1,0 4.6,0a2.3,2.3 0 1,0 -4.6,0M414.13,133.24a2.3,2.3 0 1,0 4.6,0a2.3,2.3 0 1,0 -4.6,0M414.28,132.38a2.3,2.3 0 1,0 4.6,0a2.3,2.3 0 1,0 -4.6,0M415.1,133.23a2.3,2.3 0 1,0 4.6,0a2.3,2.3 0 1,0 -4.6,0M416.06,133.42a2.3,2.3 0 1,0 4.6,0a2.3,2.3 0 1,0 -4.6,0M416.13,133.32a2.3,2.3 0 1,0 4.6,0a2.3,2.3 0 1,0 -4.6,0M417,132.97a2.3,2.3 0 1,0 4.6,0a2.3,2.3 0 1,0 -4.6,0M417.92,134.12a2.3,2.3 0 1,0 4.6,0a2.3,2.3 0 1,0 -4.6,0M417.92,134.68a2.3,2.3 0 1,0 4.6,0a2.3,2.3 0 1,0 -4.6,0M418.82,134.74a2.3,2.3 0 1,0 4.6,0a2.3,2.3 0 1,0 -4.6,0M419.64,134.57a2.3,2.3 0 1,0 4.6,0a2.3,2.3 0 1,0 -4.6,0M419.71,134.86a2.3,2.3 0 1,0 4.6,0a2.3,2.3 0 1,0 -4.6,0M420.59,135.5a2.3,2.3 0 1,0 4.6,0a2.3,2.3 0 1,0 -4.6,0M421.32,134.17a2.3,2.3 0 1,0 4.6,0a2.3,2.3 0 1,0 -4.6,0M421.45,135.4a2.3,2.3 0 1,0 4.6,0a2.3,2.3 0 1,0 -4.6,0M422.29,135.99a2.3,2.3 0 1,0 4.6,0a2.3,2.3 0 1,0 -4.6,0M422.93,136.27a2.3,2.3 0 1,0 4.6,0a2.3,2.3 0 1,0 -4.6,0M423.12,136.79a2.3,2.3 0 1,0 4.6,0a2.3,2.3 0 1,0 -4.6,0M423.94,136.82a2.3,2.3 0 1,0 4.6,0a2.3,2.3 0 1,0 -4.6,0M424.5,136.64a2.3,2.3 0 1,0 4.6,0a2.3,2.3 0 1,0 -4.6,0M424.75,136.72a2.3,2.3 0 1,0 4.6,0a2.3,2.3 0 1,0 -4.6,0M425.54,137.22a2.3,2.3 0 1,0 4.6,0a2.3,2.3 0 1,0 -4.6,0M426.02,136.79a2.3,2.3 0 1,0 4.6,0a2.3,2.3 0 1,0 -4.6,0M426.32,137.12a2.3,2.3 0 1,0 4.6,0a2.3,2.3 0 1,0 -4.6,0M427.09,137.83a2.3,2.3 0 1,0 4.6,0a2.3,2.3 0 1,0 -4.6,0M427.5,138.45a2.3,2.3 0 1,0 4.6,0a2.3,2.3 0 1,0 -4.6,0M427.85,137.63a2.3,2.3 0 1,0 4.6,0a2.3,2.3 0 1,0 -4.6,0M428.59,137.97a2.3,2.3 0 1,0 4.6,0a2.3,2.3 0 1,0 -4.6,0M428.93,138.21a2.3,2.3 0 1,0 4.6,0a2.3,2.3 0 1,0 -4.6,0M430.33,139.29a2.3,2.3 0 1,0 4.6,0a2.3,2.3 0 1,0 -4.6,0M431.69,139.26a2.3,2.3 0 1,0 4.6,0a2.3,2.3 0 1,0 -4.6,0M433.01,140.55a2.3,2.3 0 1,0 4.6,0a2.3,2.3 0 1,0 -4.6,0M434.3,140.1a2.3,2.3 0 1,0 4.6,0a2.3,2.3 0 1,0 -4.6,0M435.56,141.13a2.3,2.3 0 1,0 4.6,0a2.3,2.3 0 1,0 -4.6,0M436.79,141.88a2.3,2.3 0 1,0 4.6,0a2.3,2.3 0 1,0 -4.6,0M437.98,143.16a2.3,2.3 0 1,0 4.6,0a2.3,2.3 0 1,0 -4.6,0M439.16,144.16a2.3,2.3 0 1,0 4.6,0a2.3,2.3 0 1,0 -4.6,0M440.3,143.92a2.3,2.3 0 1,0 4.6,0a2.3,2.3 0 1,0 -4.6,0M441.42,145.12a2.3,2.3 0 1,0 4.6,0a2.3,2.3 0 1,0 -4.6,0M442.52,146.62a2.3,2.3 0 1,0 4.6,0a2.3,2.3 0 1,0 -4.6,0M443.59,147.09a2.3,2.3 0 1,0 4.6,0a2.3,2.3 0 1,0 -4.6,0M444.64,147.63a2.3,2.3 0 1,0 4.6,0a2.3,2.3 0 1,0 -4.6,0M445.67,149.73a2.3,2.3 0 1,0 4.6,0a2.3,2.3 0 1,0 -4.6,0M446.68,150.44a2.3,2.3 0 1,0 4.6,0a2.3,2.3 0 1,0 -4.6,0M447.67,151.41a2.3,2.3 0 1,0 4.6,0a2.3,2.3 0 1,0 -4.6,0M448.64,151.96a2.3,2.3 0 1,0 4.6,0a2.3,2.3 0 1,0 -4.6,0M449.59,153.63a2.3,2.3 0 1,0 4.6,0a2.3,2.3 0 1,0 -4.6,0M450.52,154.05a2.3,2.3 0 1,0 4.6,0a2.3,2.3 0 1,0 -4.6,0M451.44,155.65a2.3,2.3 0 1,0 4.6,0a2.3,2.3 0 1,0 -4.6,0M452.34,155.75a2.3,2.3 0 1,0 4.6,0a2.3,2.3 0 1,0 -4.6,0M453.23,156.78a2.3,2.3 0 1,0 4.6,0a2.3,2.3 0 1,0 -4.6,0M454.1,158.27a2.3,2.3 0 1,0 4.6,0a2.3,2.3 0 1,0 -4.6,0M454.96,158.88a2.3,2.3 0 1,0 4.6,0a2.3,2.3 0 1,0 -4.6,0M455.8,160.53a2.3,2.3 0 1,0 4.6,0a2.3,2.3 0 1,0 -4.6,0M456.63,161.39a2.3,2.3 0 1,0 4.6,0a2.3,2.3 0 1,0 -4.6,0M457.44,161.91a2.3,2.3 0 1,0 4.6,0a2.3,2.3 0 1,0 -4.6,0M458.24,163.41a2.3,2.3 0 1,0 4.6,0a2.3,2.3 0 1,0 -4.6,0M459.03,164.29a2.3,2.3 0 1,0 4.6,0a2.3,2.3 0 1,0 -4.6,0M459.81,165.95a2.3,2.3 0 1,0 4.6,0a2.3,2.3 0 1,0 -4.6,0M460.58,166.35a2.3,2.3 0 1,0 4.6,0a2.3,2.3 0 1,0 -4.6,0M461.33,167.56a2.3,2.3 0 1,0 4.6,0a2.3,2.3 0 1,0 -4.6,0M462.08,169.46a2.3,2.3 0 1,0 4.6,0a2.3,2.3 0 1,0 -4.6,0M462.81,171.09a2.3,2.3 0 1,0 4.6,0a2.3,2.3 0 1,0 -4.6,0M463.53,172.17a2.3,2.3 0 1,0 4.6,0a2.3,2.3 0 1,0 -4.6,0M464.24,172.48a2.3,2.3 0 1,0 4.6,0a2.3,2.3 0 1,0 -4.6,0M464.95,173.74a2.3,2.3 0 1,0 4.6,0a2.3,2.3 0 1,0 -4.6,0M465.64,175.5a2.3,2.3 0 1,0 4.6,0a2.3,2.3 0 1,0 -4.6,0M466.32,175.92a2.3,2.3 0 1,0 4.6,0a2.3,2.3 0 1,0 -4.6,0M467,176.69a2.3,2.3 0 1,0 4.6,0a2.3,2.3 0 1,0 -4.6,0M467.66,178.31a2.3,2.3 0 1,0 4.6,0a2.3,2.3 0 1,0 -4.6,0M468.32,179.57a2.3,2.3 0 1,0 4.6,0a2.3,2.3 0 1,0 -4.6,0M468.97,180.08a2.3,2.3 0 1,0 4.6,0a2.3,2.3 0 1,0 -4.6,0M469.61,180.78a2.3,2.3 0 1,0 4.6,0a2.3,2.3 0 1,0 -4.6,0M469.61,180.87a2.3,2.3 0 1,0 4.6,0a2.3,2.3 0 1,0 -4.6,0M470.24,182.88a2.3,2.3 0 1,0 4.6,0a2.3,2.3 0 1,0 -4.6,0M470.87,183.29a2.3,2.3 0 1,0 4.6,0a2.3,2.3 0 1,0 -4.6,0M471.49,184.61a2.3,2.3 0 1,0 4.6,0a2.3,2.3 0 1,0 -4.6,0M472.1,185.8a2.3,2.3 0 1,0 4.6,0a2.3,2.3 0 1,0 -4.6,0M472.34,186.39a2.3,2.3 0 1,0 4.6,0a2.3,2.3 0 1,0 -4.6,0M472.7,186.57a2.3,2.3 0 1,0 4.6,0a2.3,2.3 0 1,0 -4.6,0M473.3,187.96a2.3,2.3 0 1,0 4.6,0a2.3,2.3 0 1,0 -4.6,0M473.88,188.34a2.3,2.3 0 1,0 4.6,0a2.3,2.3 0 1,0 -4.6,0M474.47,189.58a2.3,2.3 0 1,0 4.6,0a2.3,2.3 0 1,0 -4.6,0M474.93,190.07a2.3,2.3 0 1,0 4.6,0a2.3,2.3 0 1,0 -4.6,0M475.04,191.24a2.3,2.3 0 1,0 4.6,0a2.3,2.3 0 1,0 -4.6,0M475.61,191.7a2.3,2.3 0 1,0 4.6,0a2.3,2.3 0 1,0 -4.6,0M476.17,192.37a2.3,2.3 0 1,0 4.6,0a2.3,2.3 0 1,0 -4.6,0M476.73,193.54a2.3,2.3 0 1,0 4.6,0a2.3,2.3 0 1,0 -4.6,0M477.28,194.59a2.3,2.3 0 1,0 4.6,0a2.3,2.3 0 1,0 -4.6,0M477.39,195.2a2.3,2.3 0 1,0 4.6,0a2.3,2.3 0 1,0 -4.6,0M477.83,194.96a2.3,2.3 0 1,0 4.6,0a2.3,2.3 0 1,0 -4.6,0M478.37,196.18a2.3,2.3 0 1,0 4.6,0a2.3,2.3 0 1,0 -4.6,0M478.9,197.44a2.3,2.3 0 1,0 4.6,0a2.3,2.3 0 1,0 -4.6,0M479.43,199.69a2.3,2.3 0 1,0 4.6,0a2.3,2.3 0 1,0 -4.6,0M479.74,199.54a2.3,2.3 0 1,0 4.6,0a2.3,2.3 0 1,0 -4.6,0M479.95,199.42a2.3,2.3 0 1,0 4.6,0a2.3,2.3 0 1,0 -4.6,0M480.47,200.69a2.3,2.3 0 1,0 4.6,0a2.3,2.3 0 1,0 -4.6,0M480.98,202.16a2.3,2.3 0 1,0 4.6,0a2.3,2.3 0 1,0 -4.6,0M481.49,201.97a2.3,2.3 0 1,0 4.6,0a2.3,2.3 0 1,0 -4.6,0M481.99,202.71a2.3,2.3 0 1,0 4.6,0a2.3,2.3 0 1,0 -4.6,0M481.99,203.43a2.3,2.3 0 1,0 4.6,0a2.3,2.3 0 1,0 -4.6,0M482.48,203.89a2.3,2.3 0 1,0 4.6,0a2.3,2.3 0 1,0 -4.6,0M482.98,204.75a2.3,2.3 0 1,0 4.6,0a2.3,2.3 0 1,0 -4.6,0M483.46,205a2.3,2.3 0 1,0 4.6,0a2.3,2.3 0 1,0 -4.6,0M483.95,206.86a2.3,2.3 0 1,0 4.6,0a2.3,2.3 0 1,0 -4.6,0M484.14,207.07a2.3,2.3 0 1,0 4.6,0a2.3,2.3 0 1,0 -4.6,0M484.43,207.01a2.3,2.3 0 1,0 4.6,0a2.3,2.3 0 1,0 -4.6,0M484.9,207.8a2.3,2.3 0 1,0 4.6,0a2.3,2.3 0 1,0 -4.6,0M485.37,207.3a2.3,2.3 0 1,0 4.6,0a2.3,2.3 0 1,0 -4.6,0M485.83,209.2a2.3,2.3 0 1,0 4.6,0a2.3,2.3 0 1,0 -4.6,0M486.2,209.36a2.3,2.3 0 1,0 4.6,0a2.3,2.3 0 1,0 -4.6,0M486.29,209.78a2.3,2.3 0 1,0 4.6,0a2.3,2.3 0 1,0 -4.6,0M486.75,210.54a2.3,2.3 0 1,0 4.6,0a2.3,2.3 0 1,0 -4.6,0M487.2,210.69a2.3,2.3 0 1,0 4.6,0a2.3,2.3 0 1,0 -4.6,0M487.65,210.67a2.3,2.3 0 1,0 4.6,0a2.3,2.3 0 1,0 -4.6,0M488.1,212.14a2.3,2.3 0 1,0 4.6,0a2.3,2.3 0 1,0 -4.6,0M488.19,211.75a2.3,2.3 0 1,0 4.6,0a2.3,2.3 0 1,0 -4.6,0M488.54,212.34a2.3,2.3 0 1,0 4.6,0a2.3,2.3 0 1,0 -4.6,0M488.98,212.7a2.3,2.3 0 1,0 4.6,0a2.3,2.3 0 1,0 -4.6,0M489.41,213.26a2.3,2.3 0 1,0 4.6,0a2.3,2.3 0 1,0 -4.6,0M489.84,212.81a2.3,2.3 0 1,0 4.6,0a2.3,2.3 0 1,0 -4.6,0M490.1,214.66a2.3,2.3 0 1,0 4.6,0a2.3,2.3 0 1,0 -4.6,0M490.27,214.4a2.3,2.3 0 1,0 4.6,0a2.3,2.3 0 1,0 -4.6,0M490.69,215.21a2.3,2.3 0 1,0 4.6,0a2.3,2.3 0 1,0 -4.6,0M491.11,216.02a2.3,2.3 0 1,0 4.6,0a2.3,2.3 0 1,0 -4.6,0M491.52,215.55a2.3,2.3 0 1,0 4.6,0a2.3,2.3 0 1,0 -4.6,0M491.94,215.12a2.3,2.3 0 1,0 4.6,0a2.3,2.3 0 1,0 -4.6,0M491.94,215.53a2.3,2.3 0 1,0 4.6,0a2.3,2.3 0 1,0 -4.6,0M492.35,215.77a2.3,2.3 0 1,0 4.6,0a2.3,2.3 0 1,0 -4.6,0M492.75,216.45a2.3,2.3 0 1,0 4.6,0a2.3,2.3 0 1,0 -4.6,0M493.15,217.05a2.3,2.3 0 1,0 4.6,0a2.3,2.3 0 1,0 -4.6,0M493.55,216.43a2.3,2.3 0 1,0 4.6,0a2.3,2.3 0 1,0 -4.6,0M493.71,217.6a2.3,2.3 0 1,0 4.6,0a2.3,2.3 0 1,0 -4.6,0M493.95,216.94a2.3,2.3 0 1,0 4.6,0a2.3,2.3 0 1,0 -4.6,0M494.34,218.02a2.3,2.3 0 1,0 4.6,0a2.3,2.3 0 1,0 -4.6,0M494.73,218.08a2.3,2.3 0 1,0 4.6,0a2.3,2.3 0 1,0 -4.6,0M495.12,218.19a2.3,2.3 0 1,0 4.6,0a2.3,2.3 0 1,0 -4.6,0M495.43,218.45a2.3,2.3 0 1,0 4.6,0a2.3,2.3 0 1,0 -4.6,0M495.51,218.27a2.3,2.3 0 1,0 4.6,0a2.3,2.3 0 1,0 -4.6,0M495.89,218.38a2.3,2.3 0 1,0 4.6,0a2.3,2.3 0 1,0 -4.6,0M496.27,218.01a2.3,2.3 0 1,0 4.6,0a2.3,2.3 0 1,0 -4.6,0M496.64,218.84a2.3,2.3 0 1,0 4.6,0a2.3,2.3 0 1,0 -4.6,0M497.02,219.76a2.3,2.3 0 1,0 4.6,0a2.3,2.3 0 1,0 -4.6,0M497.09,219.84a2.3,2.3 0 1,0 4.6,0a2.3,2.3 0 1,0 -4.6,0M497.39,219.6a2.3,2.3 0 1,0 4.6,0a2.3,2.3 0 1,0 -4.6,0M497.75,219.39a2.3,2.3 0 1,0 4.6,0a2.3,2.3 0 1,0 -4.6,0M498.12,218.84a2.3,2.3 0 1,0 4.6,0a2.3,2.3 0 1,0 -4.6,0M498.48,219.85a2.3,2.3 0 1,0 4.6,0a2.3,2.3 0 1,0 -4.6,0M498.7,219.22a2.3,2.3 0 1,0 4.6,0a2.3,2.3 0 1,0 -4.6,0M498.84,219.23a2.3,2.3 0 1,0 4.6,0a2.3,2.3 0 1,0 -4.6,0M499.2,219.19a2.3,2.3 0 1,0 4.6,0a2.3,2.3 0 1,0 -4.6,0M499.55,219.41a2.3,2.3 0 1,0 4.6,0a2.3,2.3 0 1,0 -4.6,0M499.91,219.22a2.3,2.3 0 1,0 4.6,0a2.3,2.3 0 1,0 -4.6,0M500.26,219.42a2.3,2.3 0 1,0 4.6,0a2.3,2.3 0 1,0 -4.6,0M500.26,218.97a2.3,2.3 0 1,0 4.6,0a2.3,2.3 0 1,0 -4.6,0M500.6,219.33a2.3,2.3 0 1,0 4.6,0a2.3,2.3 0 1,0 -4.6,0M500.95,220.55a2.3,2.3 0 1,0 4.6,0a2.3,2.3 0 1,0 -4.6,0M501.29,219.52a2.3,2.3 0 1,0 4.6,0a2.3,2.3 0 1,0 -4.6,0M501.63,219.46a2.3,2.3 0 1,0 4.6,0a2.3,2.3 0 1,0 -4.6,0M501.77,219.82a2.3,2.3 0 1,0 4.6,0a2.3,2.3 0 1,0 -4.6,0M501.97,219.91a2.3,2.3 0 1,0 4.6,0a2.3,2.3 0 1,0 -4.6,0M502.31,219.09a2.3,2.3 0 1,0 4.6,0a2.3,2.3 0 1,0 -4.6,0M502.64,219.51a2.3,2.3 0 1,0 4.6,0a2.3,2.3 0 1,0 -4.6,0M502.97,220.01a2.3,2.3 0 1,0 4.6,0a2.3,2.3 0 1,0 -4.6,0M503.24,219.72a2.3,2.3 0 1,0 4.6,0a2.3,2.3 0 1,0 -4.6,0M503.3,219.65a2.3,2.3 0 1,0 4.6,0a2.3,2.3 0 1,0 -4.6,0M503.63,220.29a2.3,2.3 0 1,0 4.6,0a2.3,2.3 0 1,0 -4.6,0M503.96,219.28a2.3,2.3 0 1,0 4.6,0a2.3,2.3 0 1,0 -4.6,0M504.28,219.62a2.3,2.3 0 1,0 4.6,0a2.3,2.3 0 1,0 -4.6,0M504.6,219.34a2.3,2.3 0 1,0 4.6,0a2.3,2.3 0 1,0 -4.6,0M504.67,220.24a2.3,2.3 0 1,0 4.6,0a2.3,2.3 0 1,0 -4.6,0M504.92,218.68a2.3,2.3 0 1,0 4.6,0a2.3,2.3 0 1,0 -4.6,0M505.24,219.25a2.3,2.3 0 1,0 4.6,0a2.3,2.3 0 1,0 -4.6,0M505.55,219.3a2.3,2.3 0 1,0 4.6,0a2.3,2.3 0 1,0 -4.6,0M505.87,219.83a2.3,2.3 0 1,0 4.6,0a2.3,2.3 0 1,0 -4.6,0M506.06,219.8a2.3,2.3 0 1,0 4.6,0a2.3,2.3 0 1,0 -4.6,0M506.18,220.15a2.3,2.3 0 1,0 4.6,0a2.3,2.3 0 1,0 -4.6,0M506.49,218.8a2.3,2.3 0 1,0 4.6,0a2.3,2.3 0 1,0 -4.6,0M506.8,219.83a2.3,2.3 0 1,0 4.6,0a2.3,2.3 0 1,0 -4.6,0M507.1,219.35a2.3,2.3 0 1,0 4.6,0a2.3,2.3 0 1,0 -4.6,0M507.41,219.17a2.3,2.3 0 1,0 4.6,0a2.3,2.3 0 1,0 -4.6,0M507.41,219.72a2.3,2.3 0 1,0 4.6,0a2.3,2.3 0 1,0 -4.6,0M507.71,219.05a2.3,2.3 0 1,0 4.6,0a2.3,2.3 0 1,0 -4.6,0M508.01,218.52a2.3,2.3 0 1,0 4.6,0a2.3,2.3 0 1,0 -4.6,0M508.31,219.28a2.3,2.3 0 1,0 4.6,0a2.3,2.3 0 1,0 -4.6,0M508.61,218.76a2.3,2.3 0 1,0 4.6,0a2.3,2.3 0 1,0 -4.6,0M508.72,219.14a2.3,2.3 0 1,0 4.6,0a2.3,2.3 0 1,0 -4.6,0M508.9,219.59a2.3,2.3 0 1,0 4.6,0a2.3,2.3 0 1,0 -4.6,0M509.19,219.56a2.3,2.3 0 1,0 4.6,0a2.3,2.3 0 1,0 -4.6,0M509.49,220.13a2.3,2.3 0 1,0 4.6,0a2.3,2.3 0 1,0 -4.6,0M509.78,219.32a2.3,2.3 0 1,0 4.6,0a2.3,2.3 0 1,0 -4.6,0M510.01,218.71a2.3,2.3 0 1,0 4.6,0a2.3,2.3 0 1,0 -4.6,0M510.07,219.06a2.3,2.3 0 1,0 4.6,0a2.3,2.3 0 1,0 -4.6,0M510.35,218.99a2.3,2.3 0 1,0 4.6,0a2.3,2.3 0 1,0 -4.6,0M510.64,218.85a2.3,2.3 0 1,0 4.6,0a2.3,2.3 0 1,0 -4.6,0M510.92,219.6a2.3,2.3 0 1,0 4.6,0a2.3,2.3 0 1,0 -4.6,0M511.2,219.11a2.3,2.3 0 1,0 4.6,0a2.3,2.3 0 1,0 -4.6,0M511.26,218.51a2.3,2.3 0 1,0 4.6,0a2.3,2.3 0 1,0 -4.6,0M511.48,219.72a2.3,2.3 0 1,0 4.6,0a2.3,2.3 0 1,0 -4.6,0M511.76,219.36a2.3,2.3 0 1,0 4.6,0a2.3,2.3 0 1,0 -4.6,0M512.04,219.57a2.3,2.3 0 1,0 4.6,0a2.3,2.3 0 1,0 -4.6,0M512.32,219.46a2.3,2.3 0 1,0 4.6,0a2.3,2.3 0 1,0 -4.6,0M512.48,219.7a2.3,2.3 0 1,0 4.6,0a2.3,2.3 0 1,0 -4.6,0M512.59,219.44a2.3,2.3 0 1,0 4.6,0a2.3,2.3 0 1,0 -4.6,0M512.87,219.98a2.3,2.3 0 1,0 4.6,0a2.3,2.3 0 1,0 -4.6,0M513.14,219.62a2.3,2.3 0 1,0 4.6,0a2.3,2.3 0 1,0 -4.6,0M513.41,219.62a2.3,2.3 0 1,0 4.6,0a2.3,2.3 0 1,0 -4.6,0M513.68,219.63a2.3,2.3 0 1,0 4.6,0a2.3,2.3 0 1,0 -4.6,0M513.68,218.79a2.3,2.3 0 1,0 4.6,0a2.3,2.3 0 1,0 -4.6,0M513.94,219.38a2.3,2.3 0 1,0 4.6,0a2.3,2.3 0 1,0 -4.6,0M514.21,219.35a2.3,2.3 0 1,0 4.6,0a2.3,2.3 0 1,0 -4.6,0M514.47,219.57a2.3,2.3 0 1,0 4.6,0a2.3,2.3 0 1,0 -4.6,0M514.74,218.88a2.3,2.3 0 1,0 4.6,0a2.3,2.3 0 1,0 -4.6,0M514.84,220.23a2.3,2.3 0 1,0 4.6,0a2.3,2.3 0 1,0 -4.6,0M515,219.54a2.3,2.3 0 1,0 4.6,0a2.3,2.3 0 1,0 -4.6,0M515.26,218.96a2.3,2.3 0 1,0 4.6,0a2.3,2.3 0 1,0 -4.6,0M515.52,218.75a2.3,2.3 0 1,0 4.6,0a2.3,2.3 0 1,0 -4.6,0M515.78,219.41a2.3,2.3 0 1,0 4.6,0a2.3,2.3 0 1,0 -4.6,0M515.98,219.5a2.3,2.3 0 1,0 4.6,0a2.3,2.3 0 1,0 -4.6,0M516.03,219.22a2.3,2.3 0 1,0 4.6,0a2.3,2.3 0 1,0 -4.6,0M516.29,219.6a2.3,2.3 0 1,0 4.6,0a2.3,2.3 0 1,0 -4.6,0M517.1,219.31a2.3,2.3 0 1,0 4.6,0a2.3,2.3 0 1,0 -4.6,0M518.19,219.91a2.3,2.3 0 1,0 4.6,0a2.3,2.3 0 1,0 -4.6,0M519.26,219.4a2.3,2.3 0 1,0 4.6,0a2.3,2.3 0 1,0 -4.6,0M520.3,219.78a2.3,2.3 0 1,0 4.6,0a2.3,2.3 0 1,0 -4.6,0M521.33,220.3a2.3,2.3 0 1,0 4.6,0a2.3,2.3 0 1,0 -4.6,0M522.33,221.09a2.3,2.3 0 1,0 4.6,0a2.3,2.3 0 1,0 -4.6,0M523.32,219.54a2.3,2.3 0 1,0 4.6,0a2.3,2.3 0 1,0 -4.6,0M524.29,219.85a2.3,2.3 0 1,0 4.6,0a2.3,2.3 0 1,0 -4.6,0M525.24,219.74a2.3,2.3 0 1,0 4.6,0a2.3,2.3 0 1,0 -4.6,0M526.17,220.53a2.3,2.3 0 1,0 4.6,0a2.3,2.3 0 1,0 -4.6,0M527.08,219.72a2.3,2.3 0 1,0 4.6,0a2.3,2.3 0 1,0 -4.6,0M527.98,220.09a2.3,2.3 0 1,0 4.6,0a2.3,2.3 0 1,0 -4.6,0M528.86,220.36a2.3,2.3 0 1,0 4.6,0a2.3,2.3 0 1,0 -4.6,0M529.73,220.01a2.3,2.3 0 1,0 4.6,0a2.3,2.3 0 1,0 -4.6,0M530.59,220.09a2.3,2.3 0 1,0 4.6,0a2.3,2.3 0 1,0 -4.6,0M531.43,220.38a2.3,2.3 0 1,0 4.6,0a2.3,2.3 0 1,0 -4.6,0M532.25,219.72a2.3,2.3 0 1,0 4.6,0a2.3,2.3 0 1,0 -4.6,0M533.06,220.08a2.3,2.3 0 1,0 4.6,0a2.3,2.3 0 1,0 -4.6,0M533.86,220.61a2.3,2.3 0 1,0 4.6,0a2.3,2.3 0 1,0 -4.6,0M534.65,220.93a2.3,2.3 0 1,0 4.6,0a2.3,2.3 0 1,0 -4.6,0M535.43,220.84a2.3,2.3 0 1,0 4.6,0a2.3,2.3 0 1,0 -4.6,0M536.19,220.19a2.3,2.3 0 1,0 4.6,0a2.3,2.3 0 1,0 -4.6,0M536.94,220.83a2.3,2.3 0 1,0 4.6,0a2.3,2.3 0 1,0 -4.6,0M537.69,221.45a2.3,2.3 0 1,0 4.6,0a2.3,2.3 0 1,0 -4.6,0M538.42,221.39a2.3,2.3 0 1,0 4.6,0a2.3,2.3 0 1,0 -4.6,0M539.14,221.15a2.3,2.3 0 1,0 4.6,0a2.3,2.3 0 1,0 -4.6,0M539.85,220.83a2.3,2.3 0 1,0 4.6,0a2.3,2.3 0 1,0 -4.6,0M540.55,221.55a2.3,2.3 0 1,0 4.6,0a2.3,2.3 0 1,0 -4.6,0M541.24,221.04a2.3,2.3 0 1,0 4.6,0a2.3,2.3 0 1,0 -4.6,0M541.92,220.81a2.3,2.3 0 1,0 4.6,0a2.3,2.3 0 1,0 -4.6,0M542.6,221.01a2.3,2.3 0 1,0 4.6,0a2.3,2.3 0 1,0 -4.6,0M543.26,222.06a2.3,2.3 0 1,0 4.6,0a2.3,2.3 0 1,0 -4.6,0M543.92,221.54a2.3,2.3 0 1,0 4.6,0a2.3,2.3 0 1,0 -4.6,0M544.56,221.99a2.3,2.3 0 1,0 4.6,0a2.3,2.3 0 1,0 -4.6,0M545.2,221.28a2.3,2.3 0 1,0 4.6,0a2.3,2.3 0 1,0 -4.6,0M545.83,221.95a2.3,2.3 0 1,0 4.6,0a2.3,2.3 0 1,0 -4.6,0M546.46,221.29a2.3,2.3 0 1,0 4.6,0a2.3,2.3 0 1,0 -4.6,0M547.07,221.52a2.3,2.3 0 1,0 4.6,0a2.3,2.3 0 1,0 -4.6,0M547.68,222.73a2.3,2.3 0 1,0 4.6,0a2.3,2.3 0 1,0 -4.6,0M548.29,221.99a2.3,2.3 0 1,0 4.6,0a2.3,2.3 0 1,0 -4.6,0M548.88,221.44a2.3,2.3 0 1,0 4.6,0a2.3,2.3 0 1,0 -4.6,0M549.47,221.65a2.3,2.3 0 1,0 4.6,0a2.3,2.3 0 1,0 -4.6,0M550.05,221.86a2.3,2.3 0 1,0 4.6,0a2.3,2.3 0 1,0 -4.6,0M550.62,222.28a2.3,2.3 0 1,0 4.6,0a2.3,2.3 0 1,0 -4.6,0M551.19,221.54a2.3,2.3 0 1,0 4.6,0a2.3,2.3 0 1,0 -4.6,0M551.75,221a2.3,2.3 0 1,0 4.6,0a2.3,2.3 0 1,0 -4.6,0M552.31,221.68a2.3,2.3 0 1,0 4.6,0a2.3,2.3 0 1,0 -4.6,0M552.86,221.83a2.3,2.3 0 1,0 4.6,0a2.3,2.3 0 1,0 -4.6,0M553.4,221.9a2.3,2.3 0 1,0 4.6,0a2.3,2.3 0 1,0 -4.6,0M553.94,222.46a2.3,2.3 0 1,0 4.6,0a2.3,2.3 0 1,0 -4.6,0M554.47,222.03a2.3,2.3 0 1,0 4.6,0a2.3,2.3 0 1,0 -4.6,0M555,222.27a2.3,2.3 0 1,0 4.6,0a2.3,2.3 0 1,0 -4.6,0M555.52,221.43a2.3,2.3 0 1,0 4.6,0a2.3,2.3 0 1,0 -4.6,0M556.04,222.33a2.3,2.3 0 1,0 4.6,0a2.3,2.3 0 1,0 -4.6,0M556.55,222.9a2.3,2.3 0 1,0 4.6,0a2.3,2.3 0 1,0 -4.6,0M557.05,222.33a2.3,2.3 0 1,0 4.6,0a2.3,2.3 0 1,0 -4.6,0M557.55,222.11a2.3,2.3 0 1,0 4.6,0a2.3,2.3 0 1,0 -4.6,0M558.05,222.08a2.3,2.3 0 1,0 4.6,0a2.3,2.3 0 1,0 -4.6,0M558.54,222.83a2.3,2.3 0 1,0 4.6,0a2.3,2.3 0 1,0 -4.6,0M559.03,221.63a2.3,2.3 0 1,0 4.6,0a2.3,2.3 0 1,0 -4.6,0M559.51,222.01a2.3,2.3 0 1,0 4.6,0a2.3,2.3 0 1,0 -4.6,0M559.99,222.28a2.3,2.3 0 1,0 4.6,0a2.3,2.3 0 1,0 -4.6,0M560.46,222.43a2.3,2.3 0 1,0 4.6,0a2.3,2.3 0 1,0 -4.6,0M560.93,221.91a2.3,2.3 0 1,0 4.6,0a2.3,2.3 0 1,0 -4.6,0M561.39,222.26a2.3,2.3 0 1,0 4.6,0a2.3,2.3 0 1,0 -4.6,0M561.86,222.01a2.3,2.3 0 1,0 4.6,0a2.3,2.3 0 1,0 -4.6,0M562.31,222.21a2.3,2.3 0 1,0 4.6,0a2.3,2.3 0 1,0 -4.6,0M562.76,222.11a2.3,2.3 0 1,0 4.6,0a2.3,2.3 0 1,0 -4.6,0M563.21,221.67a2.3,2.3 0 1,0 4.6,0a2.3,2.3 0 1,0 -4.6,0M563.66,222.18a2.3,2.3 0 1,0 4.6,0a2.3,2.3 0 1,0 -4.6,0M564.1,222.6a2.3,2.3 0 1,0 4.6,0a2.3,2.3 0 1,0 -4.6,0M564.53,221.79a2.3,2.3 0 1,0 4.6,0a2.3,2.3 0 1,0 -4.6,0M564.97,222.13a2.3,2.3 0 1,0 4.6,0a2.3,2.3 0 1,0 -4.6,0M565.39,222.55a2.3,2.3 0 1,0 4.6,0a2.3,2.3 0 1,0 -4.6,0M565.82,221.78a2.3,2.3 0 1,0 4.6,0a2.3,2.3 0 1,0 -4.6,0M566.24,222.36a2.3,2.3 0 1,0 4.6,0a2.3,2.3 0 1,0 -4.6,0M566.66,221.81a2.3,2.3 0 1,0 4.6,0a2.3,2.3 0 1,0 -4.6,0M567.08,222.81a2.3,2.3 0 1,0 4.6,0a2.3,2.3 0 1,0 -4.6,0M567.49,223.35a2.3,2.3 0 1,0 4.6,0a2.3,2.3 0 1,0 -4.6,0M567.9,223.23a2.3,2.3 0 1,0 4.6,0a2.3,2.3 0 1,0 -4.6,0M568.3,222.24a2.3,2.3 0 1,0 4.6,0a2.3,2.3 0 1,0 -4.6,0M568.7,222.68a2.3,2.3 0 1,0 4.6,0a2.3,2.3 0 1,0 -4.6,0M569.1,222.41a2.3,2.3 0 1,0 4.6,0a2.3,2.3 0 1,0 -4.6,0M569.5,222.41a2.3,2.3 0 1,0 4.6,0a2.3,2.3 0 1,0 -4.6,0M569.89,223.08a2.3,2.3 0 1,0 4.6,0a2.3,2.3 0 1,0 -4.6,0M570.28,221.8a2.3,2.3 0 1,0 4.6,0a2.3,2.3 0 1,0 -4.6,0M570.67,222.88a2.3,2.3 0 1,0 4.6,0a2.3,2.3 0 1,0 -4.6,0M571.05,222.39a2.3,2.3 0 1,0 4.6,0a2.3,2.3 0 1,0 -4.6,0M571.43,223.06a2.3,2.3 0 1,0 4.6,0a2.3,2.3 0 1,0 -4.6,0M571.81,222.52a2.3,2.3 0 1,0 4.6,0a2.3,2.3 0 1,0 -4.6,0M572.19,222.14a2.3,2.3 0 1,0 4.6,0a2.3,2.3 0 1,0 -4.6,0M572.56,222.58a2.3,2.3 0 1,0 4.6,0a2.3,2.3 0 1,0 -4.6,0M572.93,222.79a2.3,2.3 0 1,0 4.6,0a2.3,2.3 0 1,0 -4.6,0M573.3,222.49a2.3,2.3 0 1,0 4.6,0a2.3,2.3 0 1,0 -4.6,0M573.66,222.7a2.3,2.3 0 1,0 4.6,0a2.3,2.3 0 1,0 -4.6,0M574.02,222.26a2.3,2.3 0 1,0 4.6,0a2.3,2.3 0 1,0 -4.6,0M574.38,221.54a2.3,2.3 0 1,0 4.6,0a2.3,2.3 0 1,0 -4.6,0M574.74,222.92a2.3,2.3 0 1,0 4.6,0a2.3,2.3 0 1,0 -4.6,0M575.1,222.84a2.3,2.3 0 1,0 4.6,0a2.3,2.3 0 1,0 -4.6,0M575.45,222.6a2.3,2.3 0 1,0 4.6,0a2.3,2.3 0 1,0 -4.6,0M575.8,222.57a2.3,2.3 0 1,0 4.6,0a2.3,2.3 0 1,0 -4.6,0M576.14,223.01a2.3,2.3 0 1,0 4.6,0a2.3,2.3 0 1,0 -4.6,0M576.49,222.35a2.3,2.3 0 1,0 4.6,0a2.3,2.3 0 1,0 -4.6,0M576.83,222.25a2.3,2.3 0 1,0 4.6,0a2.3,2.3 0 1,0 -4.6,0M577.17,222.49a2.3,2.3 0 1,0 4.6,0a2.3,2.3 0 1,0 -4.6,0M577.51,223.12a2.3,2.3 0 1,0 4.6,0a2.3,2.3 0 1,0 -4.6,0M577.85,221.97a2.3,2.3 0 1,0 4.6,0a2.3,2.3 0 1,0 -4.6,0M578.18,223.13a2.3,2.3 0 1,0 4.6,0a2.3,2.3 0 1,0 -4.6,0M578.51,222.32a2.3,2.3 0 1,0 4.6,0a2.3,2.3 0 1,0 -4.6,0M578.84,222.12a2.3,2.3 0 1,0 4.6,0a2.3,2.3 0 1,0 -4.6,0M579.17,223.19a2.3,2.3 0 1,0 4.6,0a2.3,2.3 0 1,0 -4.6,0M579.49,222.58a2.3,2.3 0 1,0 4.6,0a2.3,2.3 0 1,0 -4.6,0M579.82,222.05a2.3,2.3 0 1,0 4.6,0a2.3,2.3 0 1,0 -4.6,0M580.14,222.48a2.3,2.3 0 1,0 4.6,0a2.3,2.3 0 1,0 -4.6,0M580.46,223.07a2.3,2.3 0 1,0 4.6,0a2.3,2.3 0 1,0 -4.6,0M580.77,223.19a2.3,2.3 0 1,0 4.6,0a2.3,2.3 0 1,0 -4.6,0M581.09,222.47a2.3,2.3 0 1,0 4.6,0a2.3,2.3 0 1,0 -4.6,0M581.4,222.85a2.3,2.3 0 1,0 4.6,0a2.3,2.3 0 1,0 -4.6,0M581.71,223a2.3,2.3 0 1,0 4.6,0a2.3,2.3 0 1,0 -4.6,0M582.02,222.4a2.3,2.3 0 1,0 4.6,0a2.3,2.3 0 1,0 -4.6,0M582.33,222.85a2.3,2.3 0 1,0 4.6,0a2.3,2.3 0 1,0 -4.6,0M582.64,222.68a2.3,2.3 0 1,0 4.6,0a2.3,2.3 0 1,0 -4.6,0M582.94,222.46a2.3,2.3 0 1,0 4.6,0a2.3,2.3 0 1,0 -4.6,0M583.24,222.49a2.3,2.3 0 1,0 4.6,0a2.3,2.3 0 1,0 -4.6,0M583.54,222.75a2.3,2.3 0 1,0 4.6,0a2.3,2.3 0 1,0 -4.6,0M583.84,222.74a2.3,2.3 0 1,0 4.6,0a2.3,2.3 0 1,0 -4.6,0M584.14,222.48a2.3,2.3 0 1,0 4.6,0a2.3,2.3 0 1,0 -4.6,0M584.43,222.54a2.3,2.3 0 1,0 4.6,0a2.3,2.3 0 1,0 -4.6,0M584.72,223.24a2.3,2.3 0 1,0 4.6,0a2.3,2.3 0 1,0 -4.6,0M585.02,222.84a2.3,2.3 0 1,0 4.6,0a2.3,2.3 0 1,0 -4.6,0M585.31,223.15a2.3,2.3 0 1,0 4.6,0a2.3,2.3 0 1,0 -4.6,0M585.59,223.3a2.3,2.3 0 1,0 4.6,0a2.3,2.3 0 1,0 -4.6,0M585.88,223.03a2.3,2.3 0 1,0 4.6,0a2.3,2.3 0 1,0 -4.6,0M586.17,223.79a2.3,2.3 0 1,0 4.6,0a2.3,2.3 0 1,0 -4.6,0M586.45,222.41a2.3,2.3 0 1,0 4.6,0a2.3,2.3 0 1,0 -4.6,0M586.73,223.15a2.3,2.3 0 1,0 4.6,0a2.3,2.3 0 1,0 -4.6,0M587.01,222.64a2.3,2.3 0 1,0 4.6,0a2.3,2.3 0 1,0 -4.6,0M587.29,223.63a2.3,2.3 0 1,0 4.6,0a2.3,2.3 0 1,0 -4.6,0M587.57,223.56a2.3,2.3 0 1,0 4.6,0a2.3,2.3 0 1,0 -4.6,0M587.84,221.92a2.3,2.3 0 1,0 4.6,0a2.3,2.3 0 1,0 -4.6,0M588.12,222.37a2.3,2.3 0 1,0 4.6,0a2.3,2.3 0 1,0 -4.6,0M588.39,223.11a2.3,2.3 0 1,0 4.6,0a2.3,2.3 0 1,0 -4.6,0M588.66,223.17a2.3,2.3 0 1,0 4.6,0a2.3,2.3 0 1,0 -4.6,0M588.93,223.15a2.3,2.3 0 1,0 4.6,0a2.3,2.3 0 1,0 -4.6,0M589.2,222.8a2.3,2.3 0 1,0 4.6,0a2.3,2.3 0 1,0 -4.6,0M589.47,223.04a2.3,2.3 0 1,0 4.6,0a2.3,2.3 0 1,0 -4.6,0M589.73,223.13a2.3,2.3 0 1,0 4.6,0a2.3,2.3 0 1,0 -4.6,0M590,222.81a2.3,2.3 0 1,0 4.6,0a2.3,2.3 0 1,0 -4.6,0M590.26,223.31a2.3,2.3 0 1,0 4.6,0a2.3,2.3 0 1,0 -4.6,0M590.52,221.83a2.3,2.3 0 1,0 4.6,0a2.3,2.3 0 1,0 -4.6,0M590.78,223.14a2.3,2.3 0 1,0 4.6,0a2.3,2.3 0 1,0 -4.6,0M591.04,222.4a2.3,2.3 0 1,0 4.6,0a2.3,2.3 0 1,0 -4.6,0M591.3,223.3a2.3,2.3 0 1,0 4.6,0a2.3,2.3 0 1,0 -4.6,0M591.56,222.77a2.3,2.3 0 1,0 4.6,0a2.3,2.3 0 1,0 -4.6,0M591.81,222.47a2.3,2.3 0 1,0 4.6,0a2.3,2.3 0 1,0 -4.6,0M592.07,223.05a2.3,2.3 0 1,0 4.6,0a2.3,2.3 0 1,0 -4.6,0M592.32,222.47a2.3,2.3 0 1,0 4.6,0a2.3,2.3 0 1,0 -4.6,0M592.57,222.48a2.3,2.3 0 1,0 4.6,0a2.3,2.3 0 1,0 -4.6,0M592.82,222.19a2.3,2.3 0 1,0 4.6,0a2.3,2.3 0 1,0 -4.6,0M593.07,222.88a2.3,2.3 0 1,0 4.6,0a2.3,2.3 0 1,0 -4.6,0M593.32,223.12a2.3,2.3 0 1,0 4.6,0a2.3,2.3 0 1,0 -4.6,0M593.56,223.37a2.3,2.3 0 1,0 4.6,0a2.3,2.3 0 1,0 -4.6,0M593.81,222.85a2.3,2.3 0 1,0 4.6,0a2.3,2.3 0 1,0 -4.6,0M594.05,223.39a2.3,2.3 0 1,0 4.6,0a2.3,2.3 0 1,0 -4.6,0M594.3,222.93a2.3,2.3 0 1,0 4.6,0a2.3,2.3 0 1,0 -4.6,0M594.54,222.88a2.3,2.3 0 1,0 4.6,0a2.3,2.3 0 1,0 -4.6,0M594.78,223.19a2.3,2.3 0 1,0 4.6,0a2.3,2.3 0 1,0 -4.6,0M595.02,223.41a2.3,2.3 0 1,0 4.6,0a2.3,2.3 0 1,0 -4.6,0M595.26,222.78a2.3,2.3 0 1,0 4.6,0a2.3,2.3 0 1,0 -4.6,0M595.49,222.83a2.3,2.3 0 1,0 4.6,0a2.3,2.3 0 1,0 -4.6,0M595.73,222.87a2.3,2.3 0 1,0 4.6,0a2.3,2.3 0 1,0 -4.6,0M595.96,222.98a2.3,2.3 0 1,0 4.6,0a2.3,2.3 0 1,0 -4.6,0M596.2,222.55a2.3,2.3 0 1,0 4.6,0a2.3,2.3 0 1,0 -4.6,0M596.43,223.42a2.3,2.3 0 1,0 4.6,0a2.3,2.3 0 1,0 -4.6,0M596.66,222.78a2.3,2.3 0 1,0 4.6,0a2.3,2.3 0 1,0 -4.6,0M596.89,223.17a2.3,2.3 0 1,0 4.6,0a2.3,2.3 0 1,0 -4.6,0M597.12,222.6a2.3,2.3 0 1,0 4.6,0a2.3,2.3 0 1,0 -4.6,0M597.35,223.13a2.3,2.3 0 1,0 4.6,0a2.3,2.3 0 1,0 -4.6,0M597.58,223.15a2.3,2.3 0 1,0 4.6,0a2.3,2.3 0 1,0 -4.6,0M597.81,222.79a2.3,2.3 0 1,0 4.6,0a2.3,2.3 0 1,0 -4.6,0M598.03,223.89a2.3,2.3 0 1,0 4.6,0a2.3,2.3 0 1,0 -4.6,0M598.26,223.15a2.3,2.3 0 1,0 4.6,0a2.3,2.3 0 1,0 -4.6,0M598.48,223.79a2.3,2.3 0 1,0 4.6,0a2.3,2.3 0 1,0 -4.6,0M598.7,223.42a2.3,2.3 0 1,0 4.6,0a2.3,2.3 0 1,0 -4.6,0M598.93,222.7a2.3,2.3 0 1,0 4.6,0a2.3,2.3 0 1,0 -4.6,0M599.15,222.83a2.3,2.3 0 1,0 4.6,0a2.3,2.3 0 1,0 -4.6,0M599.37,223.2a2.3,2.3 0 1,0 4.6,0a2.3,2.3 0 1,0 -4.6,0M599.59,223.04a2.3,2.3 0 1,0 4.6,0a2.3,2.3 0 1,0 -4.6,0M599.8,223.03a2.3,2.3 0 1,0 4.6,0a2.3,2.3 0 1,0 -4.6,0M600.02,222.89a2.3,2.3 0 1,0 4.6,0a2.3,2.3 0 1,0 -4.6,0M600.24,222.2a2.3,2.3 0 1,0 4.6,0a2.3,2.3 0 1,0 -4.6,0M600.45,222.92a2.3,2.3 0 1,0 4.6,0a2.3,2.3 0 1,0 -4.6,0M600.67,222.03a2.3,2.3 0 1,0 4.6,0a2.3,2.3 0 1,0 -4.6,0M600.88,223.2a2.3,2.3 0 1,0 4.6,0a2.3,2.3 0 1,0 -4.6,0M601.09,222.71a2.3,2.3 0 1,0 4.6,0a2.3,2.3 0 1,0 -4.6,0M601.3,222.71a2.3,2.3 0 1,0 4.6,0a2.3,2.3 0 1,0 -4.6,0M601.52,222.94a2.3,2.3 0 1,0 4.6,0a2.3,2.3 0 1,0 -4.6,0M601.73,223.16a2.3,2.3 0 1,0 4.6,0a2.3,2.3 0 1,0 -4.6,0M601.93,222.4a2.3,2.3 0 1,0 4.6,0a2.3,2.3 0 1,0 -4.6,0M602.14,222.26a2.3,2.3 0 1,0 4.6,0a2.3,2.3 0 1,0 -4.6,0M602.35,222.57a2.3,2.3 0 1,0 4.6,0a2.3,2.3 0 1,0 -4.6,0M602.56,222.14a2.3,2.3 0 1,0 4.6,0a2.3,2.3 0 1,0 -4.6,0M602.76,222.62a2.3,2.3 0 1,0 4.6,0a2.3,2.3 0 1,0 -4.6,0M602.97,223.78a2.3,2.3 0 1,0 4.6,0a2.3,2.3 0 1,0 -4.6,0M603.17,222.59a2.3,2.3 0 1,0 4.6,0a2.3,2.3 0 1,0 -4.6,0M603.37,223.36a2.3,2.3 0 1,0 4.6,0a2.3,2.3 0 1,0 -4.6,0M603.58,222.45a2.3,2.3 0 1,0 4.6,0a2.3,2.3 0 1,0 -4.6,0M603.78,223.21a2.3,2.3 0 1,0 4.6,0a2.3,2.3 0 1,0 -4.6,0M603.98,222.93a2.3,2.3 0 1,0 4.6,0a2.3,2.3 0 1,0 -4.6,0M604.18,223.05a2.3,2.3 0 1,0 4.6,0a2.3,2.3 0 1,0 -4.6,0M604.38,223.34a2.3,2.3 0 1,0 4.6,0a2.3,2.3 0 1,0 -4.6,0M604.58,223.88a2.3,2.3 0 1,0 4.6,0a2.3,2.3 0 1,0 -4.6,0M604.77,223.18a2.3,2.3 0 1,0 4.6,0a2.3,2.3 0 1,0 -4.6,0M604.97,223.15a2.3,2.3 0 1,0 4.6,0a2.3,2.3 0 1,0 -4.6,0M605.17,222.66a2.3,2.3 0 1,0 4.6,0a2.3,2.3 0 1,0 -4.6,0M605.36,223.36a2.3,2.3 0 1,0 4.6,0a2.3,2.3 0 1,0 -4.6,0M605.56,222.99a2.3,2.3 0 1,0 4.6,0a2.3,2.3 0 1,0 -4.6,0M605.75,223.48a2.3,2.3 0 1,0 4.6,0a2.3,2.3 0 1,0 -4.6,0M605.94,223.09a2.3,2.3 0 1,0 4.6,0a2.3,2.3 0 1,0 -4.6,0M606.14,223.89a2.3,2.3 0 1,0 4.6,0a2.3,2.3 0 1,0 -4.6,0M606.33,222.22a2.3,2.3 0 1,0 4.6,0a2.3,2.3 0 1,0 -4.6,0M606.52,222.98a2.3,2.3 0 1,0 4.6,0a2.3,2.3 0 1,0 -4.6,0M606.71,223.51a2.3,2.3 0 1,0 4.6,0a2.3,2.3 0 1,0 -4.6,0M606.9,222.96a2.3,2.3 0 1,0 4.6,0a2.3,2.3 0 1,0 -4.6,0M607.09,222.77a2.3,2.3 0 1,0 4.6,0a2.3,2.3 0 1,0 -4.6,0M607.28,223a2.3,2.3 0 1,0 4.6,0a2.3,2.3 0 1,0 -4.6,0M607.46,222.51a2.3,2.3 0 1,0 4.6,0a2.3,2.3 0 1,0 -4.6,0M607.65,223.18a2.3,2.3 0 1,0 4.6,0a2.3,2.3 0 1,0 -4.6,0M607.84,224.23a2.3,2.3 0 1,0 4.6,0a2.3,2.3 0 1,0 -4.6,0M608.02,223.65a2.3,2.3 0 1,0 4.6,0a2.3,2.3 0 1,0 -4.6,0M608.21,222.64a2.3,2.3 0 1,0 4.6,0a2.3,2.3 0 1,0 -4.6,0M608.39,222.75a2.3,2.3 0 1,0 4.6,0a2.3,2.3 0 1,0 -4.6,0M608.58,222.96a2.3,2.3 0 1,0 4.6,0a2.3,2.3 0 1,0 -4.6,0M608.76,223.6a2.3,2.3 0 1,0 4.6,0a2.3,2.3 0 1,0 -4.6,0M608.94,222.78a2.3,2.3 0 1,0 4.6,0a2.3,2.3 0 1,0 -4.6,0M609.12,222.84a2.3,2.3 0 1,0 4.6,0a2.3,2.3 0 1,0 -4.6,0M609.3,223.55a2.3,2.3 0 1,0 4.6,0a2.3,2.3 0 1,0 -4.6,0M609.48,223.54a2.3,2.3 0 1,0 4.6,0a2.3,2.3 0 1,0 -4.6,0M609.66,222.99a2.3,2.3 0 1,0 4.6,0a2.3,2.3 0 1,0 -4.6,0M609.84,222.66a2.3,2.3 0 1,0 4.6,0a2.3,2.3 0 1,0 -4.6,0M610.02,222.46a2.3,2.3 0 1,0 4.6,0a2.3,2.3 0 1,0 -4.6,0M610.2,222.85a2.3,2.3 0 1,0 4.6,0a2.3,2.3 0 1,0 -4.6,0M610.37,222.16a2.3,2.3 0 1,0 4.6,0a2.3,2.3 0 1,0 -4.6,0M610.55,223.51a2.3,2.3 0 1,0 4.6,0a2.3,2.3 0 1,0 -4.6,0M610.73,222.89a2.3,2.3 0 1,0 4.6,0a2.3,2.3 0 1,0 -4.6,0M610.9,223.39a2.3,2.3 0 1,0 4.6,0a2.3,2.3 0 1,0 -4.6,0M611.08,224.02a2.3,2.3 0 1,0 4.6,0a2.3,2.3 0 1,0 -4.6,0M611.25,223.7a2.3,2.3 0 1,0 4.6,0a2.3,2.3 0 1,0 -4.6,0M611.42,222.66a2.3,2.3 0 1,0 4.6,0a2.3,2.3 0 1,0 -4.6,0M611.6,223.57a2.3,2.3 0 1,0 4.6,0a2.3,2.3 0 1,0 -4.6,0M611.77,223.7a2.3,2.3 0 1,0 4.6,0a2.3,2.3 0 1,0 -4.6,0M611.94,222.85a2.3,2.3 0 1,0 4.6,0a2.3,2.3 0 1,0 -4.6,0M612.11,222.76a2.3,2.3 0 1,0 4.6,0a2.3,2.3 0 1,0 -4.6,0M612.28,223.14a2.3,2.3 0 1,0 4.6,0a2.3,2.3 0 1,0 -4.6,0M612.45,222.47a2.3,2.3 0 1,0 4.6,0a2.3,2.3 0 1,0 -4.6,0M612.62,223.86a2.3,2.3 0 1,0 4.6,0a2.3,2.3 0 1,0 -4.6,0M612.79,222.11a2.3,2.3 0 1,0 4.6,0a2.3,2.3 0 1,0 -4.6,0M612.96,222.7a2.3,2.3 0 1,0 4.6,0a2.3,2.3 0 1,0 -4.6,0M613.13,223.08a2.3,2.3 0 1,0 4.6,0a2.3,2.3 0 1,0 -4.6,0M613.29,223.1a2.3,2.3 0 1,0 4.6,0a2.3,2.3 0 1,0 -4.6,0M613.46,223.28a2.3,2.3 0 1,0 4.6,0a2.3,2.3 0 1,0 -4.6,0M613.63,223.33a2.3,2.3 0 1,0 4.6,0a2.3,2.3 0 1,0 -4.6,0M613.79,223.11a2.3,2.3 0 1,0 4.6,0a2.3,2.3 0 1,0 -4.6,0M613.96,223.72a2.3,2.3 0 1,0 4.6,0a2.3,2.3 0 1,0 -4.6,0M614.12,222.25a2.3,2.3 0 1,0 4.6,0a2.3,2.3 0 1,0 -4.6,0M614.29,223.21a2.3,2.3 0 1,0 4.6,0a2.3,2.3 0 1,0 -4.6,0M614.45,222.89a2.3,2.3 0 1,0 4.6,0a2.3,2.3 0 1,0 -4.6,0M614.61,223.28a2.3,2.3 0 1,0 4.6,0a2.3,2.3 0 1,0 -4.6,0M614.77,223.32a2.3,2.3 0 1,0 4.6,0a2.3,2.3 0 1,0 -4.6,0M614.94,222.81a2.3,2.3 0 1,0 4.6,0a2.3,2.3 0 1,0 -4.6,0M615.1,222.93a2.3,2.3 0 1,0 4.6,0a2.3,2.3 0 1,0 -4.6,0M615.26,223.58a2.3,2.3 0 1,0 4.6,0a2.3,2.3 0 1,0 -4.6,0M615.42,223.38a2.3,2.3 0 1,0 4.6,0a2.3,2.3 0 1,0 -4.6,0M615.58,222.92a2.3,2.3 0 1,0 4.6,0a2.3,2.3 0 1,0 -4.6,0M615.74,224.15a2.3,2.3 0 1,0 4.6,0a2.3,2.3 0 1,0 -4.6,0M615.9,224.27a2.3,2.3 0 1,0 4.6,0a2.3,2.3 0 1,0 -4.6,0M616.06,222.57a2.3,2.3 0 1,0 4.6,0a2.3,2.3 0 1,0 -4.6,0M616.21,223.37a2.3,2.3 0 1,0 4.6,0a2.3,2.3 0 1,0 -4.6,0M616.37,224.37a2.3,2.3 0 1,0 4.6,0a2.3,2.3 0 1,0 -4.6,0M616.53,223.59a2.3,2.3 0 1,0 4.6,0a2.3,2.3 0 1,0 -4.6,0M616.68,223.34a2.3,2.3 0 1,0 4.6,0a2.3,2.3 0 1,0 -4.6,0M616.84,223.15a2.3,2.3 0 1,0 4.6,0a2.3,2.3 0 1,0 -4.6,0M617,223a2.3,2.3 0 1,0 4.6,0a2.3,2.3 0 1,0 -4.6,0M617.15,223.15a2.3,2.3 0 1,0 4.6,0a2.3,2.3 0 1,0 -4.6,0M617.31,223a2.3,2.3 0 1,0 4.6,0a2.3,2.3 0 1,0 -4.6,0M617.46,223.58a2.3,2.3 0 1,0 4.6,0a2.3,2.3 0 1,0 -4.6,0M617.61,223.07a2.3,2.3 0 1,0 4.6,0a2.3,2.3 0 1,0 -4.6,0M617.77,223.05a2.3,2.3 0 1,0 4.6,0a2.3,2.3 0 1,0 -4.6,0M617.92,222.71a2.3,2.3 0 1,0 4.6,0a2.3,2.3 0 1,0 -4.6,0M618.07,223.23a2.3,2.3 0 1,0 4.6,0a2.3,2.3 0 1,0 -4.6,0M618.22,222.85a2.3,2.3 0 1,0 4.6,0a2.3,2.3 0 1,0 -4.6,0M618.37,223.17a2.3,2.3 0 1,0 4.6,0a2.3,2.3 0 1,0 -4.6,0M618.52,223.73a2.3,2.3 0 1,0 4.6,0a2.3,2.3 0 1,0 -4.6,0M618.68,223.42a2.3,2.3 0 1,0 4.6,0a2.3,2.3 0 1,0 -4.6,0M618.83,223.49a2.3,2.3 0 1,0 4.6,0a2.3,2.3 0 1,0 -4.6,0M618.97,223.42a2.3,2.3 0 1,0 4.6,0a2.3,2.3 0 1,0 -4.6,0M619.12,223.29a2.3,2.3 0 1,0 4.6,0a2.3,2.3 0 1,0 -4.6,0M619.27,223.21a2.3,2.3 0 1,0 4.6,0a2.3,2.3 0 1,0 -4.6,0M619.42,223.13a2.3,2.3 0 1,0 4.6,0a2.3,2.3 0 1,0 -4.6,0M619.57,223.61a2.3,2.3 0 1,0 4.6,0a2.3,2.3 0 1,0 -4.6,0M619.72,222.78a2.3,2.3 0 1,0 4.6,0a2.3,2.3 0 1,0 -4.6,0M619.86,223.87a2.3,2.3 0 1,0 4.6,0a2.3,2.3 0 1,0 -4.6,0M620.01,223.29a2.3,2.3 0 1,0 4.6,0a2.3,2.3 0 1,0 -4.6,0M620.16,222.94a2.3,2.3 0 1,0 4.6,0a2.3,2.3 0 1,0 -4.6,0M620.3,223.05a2.3,2.3 0 1,0 4.6,0a2.3,2.3 0 1,0 -4.6,0M620.45,222.97a2.3,2.3 0 1,0 4.6,0a2.3,2.3 0 1,0 -4.6,0M620.59,223.35a2.3,2.3 0 1,0 4.6,0a2.3,2.3 0 1,0 -4.6,0M620.74,222.95a2.3,2.3 0 1,0 4.6,0a2.3,2.3 0 1,0 -4.6,0M620.88,223.79a2.3,2.3 0 1,0 4.6,0a2.3,2.3 0 1,0 -4.6,0M621.02,222.93a2.3,2.3 0 1,0 4.6,0a2.3,2.3 0 1,0 -4.6,0M621.17,222.26a2.3,2.3 0 1,0 4.6,0a2.3,2.3 0 1,0 -4.6,0M621.31,222.95a2.3,2.3 0 1,0 4.6,0a2.3,2.3 0 1,0 -4.6,0M621.45,222.38a2.3,2.3 0 1,0 4.6,0a2.3,2.3 0 1,0 -4.6,0M621.59,223.27a2.3,2.3 0 1,0 4.6,0a2.3,2.3 0 1,0 -4.6,0M621.74,223.76a2.3,2.3 0 1,0 4.6,0a2.3,2.3 0 1,0 -4.6,0M621.88,223.58a2.3,2.3 0 1,0 4.6,0a2.3,2.3 0 1,0 -4.6,0M622.02,222.69a2.3,2.3 0 1,0 4.6,0a2.3,2.3 0 1,0 -4.6,0M622.16,222.95a2.3,2.3 0 1,0 4.6,0a2.3,2.3 0 1,0 -4.6,0" fill="none" stroke="#0000ff" stroke-width="1.15"/>
<path d="M339.98,32.4a2.3,2.3 0 1,0 4.6,0a2.3,2.3 0 1,0 -4.6,0M348.7,43.13a2.3,2.3 0 1,0 4.6,0a2.3,2.3 0 1,0 -4.6,0M356.14,51.62a2.3,2.3 0 1,0 4.6,0a2.3,2.3 0 1,0 -4.6,0M362.63,58.5a2.3,2.3 0 1,0 4.6,0a2.3,2.3 0 1,0 -4.6,0M368.39,65.11a2.3,2.3 0 1,0 4.6,0a2.3,2.3 0 1,0 -4.6,0M373.56,69.86a2.3,2.3 0 1,0 4.6,0a2.3,2.3 0 1,0 -4.6,0M378.25,74.41a2.3,2.3 0 1,0 4.6,0a2.3,2.3 0 1,0 -4.6,0M382.55,78.75a2.3,2.3 0 1,0 4.6,0a2.3,2.3 0 1,0 -4.6,0M386.51,81.5a2.3,2.3 0 1,0 4.6,0a2.3,2.3 0 1,0 -4.6,0M390.19,84.76a2.3,2.3 0 1,0 4.6,0a2.3,2.3 0 1,0 -4.6,0M393.62,88.44a2.3,2.3 0 1,0 4.6,0a2.3,2.3 0 1,0 -4.6,0M393.62,88.38a2.3,2.3 0 1,0 4.6,0a2.3,2.3 0 1,0 -4.6,0M396.38,90.87a2.3,2.3 0 1,0 4.6,0a2.3,2.3 0 1,0 -4.6,0M396.84,90.82a2.3,2.3 0 1,0 4.6,0a2.3,2.3 0 1,0 -4.6,0M398.99,93.13a2.3,2.3 0 1,0 4.6,0a2.3,2.3 0 1,0 -4.6,0M399.86,94.16a2.3,2.3 0 1,0 4.6,0a2.3,2.3 0 1,0 -4.6,0M401.47,94.47a2.3,2.3 0 1,0 4.6,0a2.3,2.3 0 1,0 -4.6,0M402.71,95.75a2.3,2.3 0 1,0 4.6,0a2.3,2.3 0 1,0 -4.6,0M403.84,95.88a2.3,2.3 0 1,0 4.6,0a2.3,2.3 0 1,0 -4.6,0M405.41,97.19a2.3,2.3 0 1,0 4.6,0a2.3,2.3 0 1,0 -4.6,0M406.11,97.39a2.3,2.3 0 1,0 4.6,0a2.3,2.3 0 1,0 -4.6,0M407.98,99.27a2.3,2.3 0 1,0 4.6,0a2.3,2.3 0 1,0 -4.6,0M408.28,98.99a2.3,2.3 0 1,0 4.6,0a2.3,2.3 0 1,0 -4.6,0M410.36,100.92a2.3,2.3 0 1,0 4.6,0a2.3,2.3 0 1,0 -4.6,0M410.42,100.9a2.3,2.3 0 1,0 4.6,0a2.3,2.3 0 1,0 -4.6,0M412.35,101.86a2.3,2.3 0 1,0 4.6,0a2.3,2.3 0 1,0 -4.6,0M412.75,101.04a2.3,2.3 0 1,0 4.6,0a2.3,2.3 0 1,0 -4.6,0M414.28,102.8a2.3,2.3 0 1,0 4.6,0a2.3,2.3 0 1,0 -4.6,0M414.98,103.41a2.3,2.3 0 1,0 4.6,0a2.3,2.3 0 1,0 -4.6,0M416.13,104.12a2.3,2.3 0 1,0 4.6,0a2.3,2.3 0 1,0 -4.6,0M417.12,103.92a2.3,2.3 0 1,0 4.6,0a2.3,2.3 0 1,0 -4.6,0M417.92,104.83a2.3,2.3 0 1,0 4.6,0a2.3,2.3 0 1,0 -4.6,0M419.17,105.27a2.3,2.3 0 1,0 4.6,0a2.3,2.3 0 1,0 -4.6,0M419.64,105.59a2.3,2.3 0 1,0 4.6,0a2.3,2.3 0 1,0 -4.6,0M421.14,107.21a2.3,2.3 0 1,0 4.6,0a2.3,2.3 0 1,0 -4.6,0M421.32,106.46a2.3,2.3 0 1,0 4.6,0a2.3,2.3 0 1,0 -4.6,0M422.93,107.62a2.3,2.3 0 1,0 4.6,0a2.3,2.3 0 1,0 -4.6,0M423.03,108.09a2.3,2.3 0 1,0 4.6,0a2.3,2.3 0 1,0 -4.6,0M424.5,108.14a2.3,2.3 0 1,0 4.6,0a2.3,2.3 0 1,0 -4.6,0M424.86,108.53a2.3,2.3 0 1,0 4.6,0a2.3,2.3 0 1,0 -4.6,0M426.02,109.18a2.3,2.3 0 1,0 4.6,0a2.3,2.3 0 1,0 -4.6,0M427.5,109.85a2.3,2.3 0 1,0 4.6,0a2.3,2.3 0 1,0 -4.6,0M428.93,109.91a2.3,2.3 0 1,0 4.6,0a2.3,2.3 0 1,0 -4.6,0M430.33,111.1a2.3,2.3 0 1,0 4.6,0a2.3,2.3 0 1,0 -4.6,0M431.69,112.25a2.3,2.3 0 1,0 4.6,0a2.3,2.3 0 1,0 -4.6,0M433.01,111.48a2.3,2.3 0 1,0 4.6,0a2.3,2.3 0 1,0 -4.6,0M434.3,113.08a2.3,2.3 0 1,0 4.6,0a2.3,2.3 0 1,0 -4.6,0M435.56,113.24a2.3,2.3 0 1,0 4.6,0a2.3,2.3 0 1,0 -4.6,0M436.79,113.38a2.3,2.3 0 1,0 4.6,0a2.3,2.3 0 1,0 -4.6,0M437.98,115.04a2.3,2.3 0 1,0 4.6,0a2.3,2.3 0 1,0 -4.6,0M439.16,114.94a2.3,2.3 0 1,0 4.6,0a2.3,2.3 0 1,0 -4.6,0M440.3,114.5a2.3,2.3 0 1,0 4.6,0a2.3,2.3 0 1,0 -4.6,0M441.42,115.52a2.3,2.3 0 1,0 4.6,0a2.3,2.3 0 1,0 -4.6,0M442.52,116.19a2.3,2.3 0 1,0 4.6,0a2.3,2.3 0 1,0 -4.6,0M443.59,116.26a2.3,2.3 0 1,0 4.6,0a2.3,2.3 0 1,0 -4.6,0M444.64,117.04a2.3,2.3 0 1,0 4.6,0a2.3,2.3 0 1,0 -4.6,0M445.67,117.08a2.3,2.3 0 1,0 4.6,0a2.3,2.3 0 1,0 -4.6,0M446.68,117.79a2.3,2.3 0 1,0 4.6,0a2.3,2.3 0 1,0 -4.6,0M447.67,118.5a2.3,2.3 0 1,0 4.6,0a2.3,2.3 0 1,0 -4.6,0M448.64,117.93a2.3,2.3 0 1,0 4.6,0a2.3,2.3 0 1,0 -4.6,0M449.59,118.71a2.3,2.3 0 1,0 4.6,0a2.3,2.3 0 1,0 -4.6,0M450.52,118.81a2.3,2.3 0 1,0 4.6,0a2.3,2.3 0 1,0 -4.6,0M451.44,119.49a2.3,2.3 0 1,0 4.6,0a2.3,2.3 0 1,0 -4.6,0M452.34,119.34a2.3,2.3 0 1,0 4.6,0a2.3,2.3 0 1,0 -4.6,0M453.23,120.06a2.3,2.3 0 1,0 4.6,0a2.3,2.3 0 1,0 -4.6,0M454.1,120.7a2.3,2.3 0 1,0 4.6,0a2.3,2.3 0 1,0 -4.6,0M454.96,121.68a2.3,2.3 0 1,0 4.6,0a2.3,2.3 0 1,0 -4.6,0M455.8,122.3a2.3,2.3 0 1,0 4.6,0a2.3,2.3 0 1,0 -4.6,0M456.63,121.72a2.3,2.3 0 1,0 4.6,0a2.3,2.3 0 1,0 -4.6,0M457.44,122.52a2.3,2.3 0 1,0 4.6,0a2.3,2.3 0 1,0 -4.6,0M458.24,123.76a2.3,2.3 0 1,0 4.6,0a2.3,2.3 0 1,0 -4.6,0M459.03,123.2a2.3,2.3 0 1,0 4.6,0a2.3,2.3 0 1,0 -4.6,0M459.81,124.57a2.3,2.3 0 1,0 4.6,0a2.3,2.3 0 1,0 -4.6,0M460.58,125.54a2.3,2.3 0 1,0 4.6,0a2.3,2.3 0 1,0 -4.6,0M461.33,127.05a2.3,2.3 0 1,0 4.6,0a2.3,2.3 0 1,0 -4.6,0M462.08,127.75a2.3,2.3 0 1,0 4.6,0a2.3,2.3 0 1,0 -4.6,0M462.81,128.24a2.3,2.3 0 1,0 4.6,0a2.3,2.3 0 1,0 -4.6,0M463.53,129.13a2.3,2.3 0 1,0 4.6,0a2.3,2.3 0 1,0 -4.6,0M464.24,130.03a2.3,2.3 0 1,0 4.6,0a2.3,2.3 0 1,0 -4.6,0M464.95,131.63a2.3,2.3 0 1,0 4.6,0a2.3,2.3 0 1,0 -4.6,0M465.64,131.54a2.3,2.3 0 1,0 4.6,0a2.3,2.3 0 1,0 -4.6,0M466.32,132.36a2.3,2.3 0 1,0 4.6,0a2.3,2.3 0 1,0 -4.6,0M467,133.41a2.3,2.3 0 1,0 4.6,0a2.3,2.3 0 1,0 -4.6,0M467.66,133.96a2.3,2.3 0 1,0 4.6,0a2.3,2.3 0 1,0 -4.6,0M468.32,134.7a2.3,2.3 0 1,0 4.6,0a2.3,2.3 0 1,0 -4.6,0M468.97,135.08a2.3,2.3 0 1,0 4.6,0a2.3,2.3 0 1,0 -4.6,0M469.61,136.4a2.3,2.3 0 1,0 4.6,0a2.3,2.3 0 1,0 -4.6,0M469.61,136.2a2.3,2.3 0 1,0 4.6,0a2.3,2.3 0 1,0 -4.6,0M470.24,137.78a2.3,2.3 0 1,0 4.6,0a2.3,2.3 0 1,0 -4.6,0M470.87,138.45a2.3,2.3 0 1,0 4.6,0a2.3,2.3 0 1,0 -4.6,0M471.49,139.1a2.3,2.3 0 1,0 4.6,0a2.3,2.3 0 1,0 -4.6,0M472.1,140.47a2.3,2.3 0 1,0 4.6,0a2.3,2.3 0 1,0 -4.6,0M472.34,140.47a2.3,2.3 0 1,0 4.6,0a2.3,2.3 0 1,0 -4.6,0M472.7,141.79a2.3,2.3 0 1,0 4.6,0a2.3,2.3 0 1,0 -4.6,0M473.3,142.52a2.3,2.3 0 1,0 4.6,0a2.3,2.3 0 1,0 -4.6,0M473.88,144.01a2.3,2.3 0 1,0 4.6,0a2.3,2.3 0 1,0 -4.6,0M474.47,144.41a2.3,2.3 0 1,0 4.6,0a2.3,2.3 0 1,0 -4.6,0M474.93,146.13a2.3,2.3 0 1,0 4.6,0a2.3,2.3 0 1,0 -4.6,0M475.04,145.46a2.3,2.3 0 1,0 4.6,0a2.3,2.3 0 1,0 -4.6,0M475.61,146.5a2.3,2.3 0 1,0 4.6,0a2.3,2.3 0 1,0 -4.6,0M476.17,148.43a2.3,2.3 0 1,0 4.6,0a2.3,2.3 0 1,0 -4.6,0M476.73,149.24a2.3,2.3 0 1,0 4.6,0a2.3,2.3 0 1,0 -4.6,0M477.28,150.72a2.3,2.3 0 1,0 4.6,0a2.3,2.3 0 1,0 -4.6,0M477.39,151.84a2.3,2.3 0 1,0 4.6,0a2.3,2.3 0 1,0 -4.6,0M477.83,151.22a2.3,2.3 0 1,0 4.6,0a2.3,2.3 0 1,0 -4.6,0M478.37,152.24a2.3,2.3 0 1,0 4.6,0a2.3,2.3 0 1,0 -4.6,0M478.9,153.53a2.3,2.3 0 1,0 4.6,0a2.3,2.3 0 1,0 -4.6,0M479.43,154.55a2.3,2.3 0 1,0 4.6,0a2.3,2.3 0 1,0 -4.6,0M479.74,154.77a2.3,2.3 0 1,0 4.6,0a2.3,2.3 0 1,0 -4.6,0M479.95,155.1a2.3,2.3 0 1,0 4.6,0a2.3,2.3 0 1,0 -4.6,0M480.47,156.35a2.3,2.3 0 1,0 4.6,0a2.3,2.3 0 1,0 -4.6,0M480.98,157.09a2.3,2.3 0 1,0 4.6,0a2.3,2.3 0 1,0 -4.6,0M481.49,157.19a2.3,2.3 0 1,0 4.6,0a2.3,2.3 0 1,0 -4.6,0M481.99,158.39a2.3,2.3 0 1,0 4.6,0a2.3,2.3 0 1,0 -4.6,0M481.99,158.44a2.3,2.3 0 1,0 4.6,0a2.3,2.3 0 1,0 -4.6,0M482.48,158.7a2.3,2.3 0 1,0 4.6,0a2.3,2.3 0 1,0 -4.6,0M482.98,160.01a2.3,2.3 0 1,0 4.6,0a2.3,2.3 0 1,0 -4.6,0M483.46,160.2a2.3,2.3 0 1,0 4.6,0a2.3,2.3 0 1,0 -4.6,0M483.95,161.7a2.3,2.3 0 1,0 4.6,0a2.3,2.3 0 1,0 -4.6,0M484.14,161.61a2.3,2.3 0 1,0 4.6,0a2.3,2.3 0 1,0 -4.6,0M484.43,161.94a2.3,2.3 0 1,0 4.6,0a2.3,2.3 0 1,0 -4.6,0M484.9,162.26a2.3,2.3 0 1,0 4.6,0a2.3,2.3 0 1,0 -4.6,0M485.37,163.1a2.3,2.3 0 1,0 4.6,0a2.3,2.3 0 1,0 -4.6,0M485.83,162.87a2.3,2.3 0 1,0 4.6,0a2.3,2.3 0 1,0 -4.6,0M486.2,163.75a2.3,2.3 0 1,0 4.6,0a2.3,2.3 0 1,0 -4.6,0M486.29,164.54a2.3,2.3 0 1,0 4.6,0a2.3,2.3 0 1,0 -4.6,0M486.75,164.01a2.3,2.3 0 1,0 4.6,0a2.3,2.3 0 1,0 -4.6,0M487.2,165.92a2.3,2.3 0 1,0 4.6,0a2.3,2.3 0 1,0 -4.6,0M487.65,165.29a2.3,2.3 0 1,0 4.6,0a2.3,2.3 0 1,0 -4.6,0M488.1,166.93a2.3,2.3 0 1,0 4.6,0a2.3,2.3 0 1,0 -4.6,0M488.19,166.31a2.3,2.3 0 1,0 4.6,0a2.3,2.3 0 1,0 -4.6,0M488.54,167.41a2.3,2.3 0 1,0 4.6,0a2.3,2.3 0 1,0 -4.6,0M488.98,167.56a2.3,2.3 0 1,0 4.6,0a2.3,2.3 0 1,0 -4.6,0M489.41,167.2a2.3,2.3 0 1,0 4.6,0a2.3,2.3 0 1,0 -4.6,0M489.84,168.81a2.3,2.3 0 1,0 4.6,0a2.3,2.3 0 1,0 -4.6,0M490.1,169.08a2.3,2.3 0 1,0 4.6,0a2.3,2.3 0 1,0 -4.6,0M490.27,168.51a2.3,2.3 0 1,0 4.6,0a2.3,2.3 0 1,0 -4.6,0M490.69,168.69a2.3,2.3 0 1,0 4.6,0a2.3,2.3 0 1,0 -4.6,0M491.11,168.99a2.3,2.3 0 1,0 4.6,0a2.3,2.3 0 1,0 -4.6,0M491.52,168.85a2.3,2.3 0 1,0 4.6,0a2.3,2.3 0 1,0 -4.6,0M491.94,170a2.3,2.3 0 1,0 4.6,0a2.3,2.3 0 1,0 -4.6,0M491.94,169.27a2.3,2.3 0 1,0 4.6,0a2.3,2.3 0 1,0 -4.6,0M492.35,169.69a2.3,2.3 0 1,0 4.6,0a2.3,2.3 0 1,0 -4.6,0M492.75,169.55a2.3,2.3 0 1,0 4.6,0a2.3,2.3 0 1,0 -4.6,0M493.15,169.8a2.3,2.3 0 1,0 4.6,0a2.3,2.3 0 1,0 -4.6,0M493.55,169.68a2.3,2.3 0 1,0 4.6,0a2.3,2.3 0 1,0 -4.6,0M493.71,170.89a2.3,2.3 0 1,0 4.6,0a2.3,2.3 0 1,0 -4.6,0M493.95,170.35a2.3,2.3 0 1,0 4.6,0a2.3,2.3 0 1,0 -4.6,0M494.34,171.01a2.3,2.3 0 1,0 4.6,0a2.3,2.3 0 1,0 -4.6,0M494.73,170.74a2.3,2.3 0 1,0 4.6,0a2.3,2.3 0 1,0 -4.6,0M495.12,170.57a2.3,2.3 0 1,0 4.6,0a2.3,2.3 0 1,0 -4.6,0M495.43,170.85a2.3,2.3 0 1,0 4.6,0a2.3,2.3 0 1,0 -4.6,0M495.51,170.78a2.3,2.3 0 1,0 4.6,0a2.3,2.3 0 1,0 -4.6,0M495.89,171.18a2.3,2.3 0 1,0 4.6,0a2.3,2.3 0 1,0 -4.6,0M496.27,171.16a2.3,2.3 0 1,0 4.6,0a2.3,2.3 0 1,0 -4.6,0M496.64,171.34a2.3,2.3 0 1,0 4.6,0a2.3,2.3 0 1,0 -4.6,0M497.02,171a2.3,2.3 0 1,0 4.6,0a2.3,2.3 0 1,0 -4.6,0M497.09,171.29a2.3,2.3 0 1,0 4.6,0a2.3,2.3 0 1,0 -4.6,0M497.39,172.5a2.3,2.3 0 1,0 4.6,0a2.3,2.3 0 1,0 -4.6,0M497.75,171.59a2.3,2.3 0 1,0 4.6,0a2.3,2.3 0 1,0 -4.6,0M498.12,171.53a2.3,2.3 0 1,0 4.6,0a2.3,2.3 0 1,0 -4.6,0M498.48,172.28a2.3,2.3 0 1,0 4.6,0a2.3,2.3 0 1,0 -4.6,0M498.7,172.82a2.3,2.3 0 1,0 4.6,0a2.3,2.3 0 1,0 -4.6,0M498.84,171.58a2.3,2.3 0 1,0 4.6,0a2.3,2.3 0 1,0 -4.6,0M499.2,172.25a2.3,2.3 0 1,0 4.6,0a2.3,2.3 0 1,0 -4.6,0M499.55,172.16a2.3,2.3 0 1,0 4.6,0a2.3,2.3 0 1,0 -4.6,0M499.91,171.76a2.3,2.3 0 1,0 4.6,0a2.3,2.3 0 1,0 -4.6,0M500.26,172.99a2.3,2.3 0 1,0 4.6,0a2.3,2.3 0 1,0 -4.6,0M500.26,172.65a2.3,2.3 0 1,0 4.6,0a2.3,2.3 0 1,0 -4.6,0M500.6,172.8a2.3,2.3 0 1,0 4.6,0a2.3,2.3 0 1,0 -4.6,0M500.95,172.53a2.3,2.3 0 1,0 4.6,0a2.3,2.3 0 1,0 -4.6,0M501.29,173.19a2.3,2.3 0 1,0 4.6,0a2.3,2.3 0 1,0 -4.6,0M501.63,172.86a2.3,2.3 0 1,0 4.6,0a2.3,2.3 0 1,0 -4.6,0M501.77,173.09a2.3,2.3 0 1,0 4.6,0a2.3,2.3 0 1,0 -4.6,0M501.97,172.73a2.3,2.3 0 1,0 4.6,0a2.3,2.3 0 1,0 -4.6,0M502.31,172.81a2.3,2.3 0 1,0 4.6,0a2.3,2.3 0 1,0 -4.6,0M502.64,174.1a2.3,2.3 0 1,0 4.6,0a2.3,2.3 0 1,0 -4.6,0M502.97,173.42a2.3,2.3 0 1,0 4.6,0a2.3,2.3 0 1,0 -4.6,0M503.24,173.9a2.3,2.3 0 1,0 4.6,0a2.3,2.3 0 1,0 -4.6,0M503.3,173.78a2.3,2.3 0 1,0 4.6,0a2.3,2.3 0 1,0 -4.6,0M503.63,173.77a2.3,2.3 0 1,0 4.6,0a2.3,2.3 0 1,0 -4.6,0M503.96,173.92a2.3,2.3 0 1,0 4.6,0a2.3,2.3 0 1,0 -4.6,0M504.28,174.63a2.3,2.3 0 1,0 4.6,0a2.3,2.3 0 1,0 -4.6,0M504.6,174.43a2.3,2.3 0 1,0 4.6,0a2.3,2.3 0 1,0 -4.6,0M504.67,174.55a2.3,2.3 0 1,0 4.6,0a2.3,2.3 0 1,0 -4.6,0M504.92,174.82a2.3,2.3 0 1,0 4.6,0a2.3,2.3 0 1,0 -4.6,0M505.24,175.59a2.3,2.3 0 1,0 4.6,0a2.3,2.3 0 1,0 -4.6,0M505.55,175.64a2.3,2.3 0 1,0 4.6,0a2.3,2.3 0 1,0 -4.6,0M505.87,175.79a2.3,2.3 0 1,0 4.6,0a2.3,2.3 0 1,0 -4.6,0M506.06,175.55a2.3,2.3 0 1,0 4.6,0a2.3,2.3 0 1,0 -4.6,0M506.18,175.3a2.3,2.3 0 1,0 4.6,0a2.3,2.3 0 1,0 -4.6,0M506.49,176.66a2.3,2.3 0 1,0 4.6,0a2.3,2.3 0 1,0 -4.6,0M506.8,176.98a2.3,2.3 0 1,0 4.6,0a2.3,2.3 0 1,0 -4.6,0M507.1,176.81a2.3,2.3 0 1,0 4.6,0a2.3,2.3 0 1,0 -4.6,0M507.41,177.46a2.3,2.3 0 1,0 4.6,0a2.3,2.3 0 1,0 -4.6,0M507.41,177.56a2.3,2.3 0 1,0 4.6,0a2.3,2.3 0 1,0 -4.6,0M507.71,177.93a2.3,2.3 0 1,0 4.6,0a2.3,2.3 0 1,0 -4.6,0M508.01,178.31a2.3,2.3 0 1,0 4.6,0a2.3,2.3 0 1,0 -4.6,0M508.31,178.04a2.3,2.3 0 1,0 4.6,0a2.3,2.3 0 1,0 -4.6,0M508.61,179.27a2.3,2.3 0 1,0 4.6,0a2.3,2.3 0 1,0 -4.6,0M508.72,178.17a2.3,2.3 0 1,0 4.6,0a2.3,2.3 0 1,0 -4.6,0M508.9,179.33a2.3,2.3 0 1,0 4.6,0a2.3,2.3 0 1,0 -4.6,0M509.19,179.52a2.3,2.3 0 1,0 4.6,0a2.3,2.3 0 1,0 -4.6,0M509.49,180.04a2.3,2.3 0 1,0 4.6,0a2.3,2.3 0 1,0 -4.6,0M509.78,180.84a2.3,2.3 0 1,0 4.6,0a2.3,2.3 0 1,0 -4.6,0M510.01,180.94a2.3,2.3 0 1,0 4.6,0a2.3,2.3 0 1,0 -4.6,0M510.07,179.82a2.3,2.3 0 1,0 4.6,0a2.3,2.3 0 1,0 -4.6,0M510.35,179.92a2.3,2.3 0 1,0 4.6,0a2.3,2.3 0 1,0 -4.6,0M510.64,181.4a2.3,2.3 0 1,0 4.6,0a2.3,2.3 0 1,0 -4.6,0M510.92,180.93a2.3,2.3 0 1,0 4.6,0a2.3,2.3 0 1,0 -4.6,0M511.2,181.75a2.3,2.3 0 1,0 4.6,0a2.3,2.3 0 1,0 -4.6,0M511.26,182.21a2.3,2.3 0 1,0 4.6,0a2.3,2.3 0 1,0 -4.6,0M511.48,181.39a2.3,2.3 0 1,0 4.6,0a2.3,2.3 0 1,0 -4.6,0M511.76,181.55a2.3,2.3 0 1,0 4.6,0a2.3,2.3 0 1,0 -4.6,0M512.04,183a2.3,2.3 0 1,0 4.6,0a2.3,2.3 0 1,0 -4.6,0M512.32,183.29a2.3,2.3 0 1,0 4.6,0a2.3,2.3 0 1,0 -4.6,0M512.48,183.39a2.3,2.3 0 1,0 4.6,0a2.3,2.3 0 1,0 -4.6,0M512.59,183.68a2.3,2.3 0 1,0 4.6,0a2.3,2.3 0 1,0 -4.6,0M512.87,183.67a2.3,2.3 0 1,0 4.6,0a2.3,2.3 0 1,0 -4.6,0M513.14,183.78a2.3,2.3 0 1,0 4.6,0a2.3,2.3 0 1,0 -4.6,0M513.41,184.79a2.3,2.3 0 1,0 4.6,0a2.3,2.3 0 1,0 -4.6,0M513.68,184.84a2.3,2.3 0 1,0 4.6,0a2.3,2.3 0 1,0 -4.6,0M513.68,184.53a2.3,2.3 0 1,0 4.6,0a2.3,2.3 0 1,0 -4.6,0M513.94,185.91a2.3,2.3 0 1,0 4.6,0a2.3,2.3 0 1,0 -4.6,0M514.21,186.07a2.3,2.3 0 1,0 4.6,0a2.3,2.3 0 1,0 -4.6,0M514.47,186.7a2.3,2.3 0 1,0 4.6,0a2.3,2.3 0 1,0 -4.6,0M514.74,186.49a2.3,2.3 0 1,0 4.6,0a2.3,2.3 0 1,0 -4.6,0M514.84,186.81a2.3,2.3 0 1,0 4.6,0a2.3,2.3 0 1,0 -4.6,0M515,186.91a2.3,2.3 0 1,0 4.6,0a2.3,2.3 0 1,0 -4.6,0M515.26,187.38a2.3,2.3 0 1,0 4.6,0a2.3,2.3 0 1,0 -4.6,0M515.52,188.29a2.3,2.3 0 1,0 4.6,0a2.3,2.3 0 1,0 -4.6,0M515.78,188.28a2.3,2.3 0 1,0 4.6,0a2.3,2.3 0 1,0 -4.6,0M515.98,189.14a2.3,2.3 0 1,0 4.6,0a2.3,2.3 0 1,0 -4.6,0M516.03,189.22a2.3,2.3 0 1,0 4.6,0a2.3,2.3 0 1,0 -4.6,0M516.29,190.43a2.3,2.3 0 1,0 4.6,0a2.3,2.3 0 1,0 -4.6,0M517.1,190.39a2.3,2.3 0 1,0 4.6,0a2.3,2.3 0 1,0 -4.6,0M518.19,193.57a2.3,2.3 0 1,0 4.6,0a2.3,2.3 0 1,0 -4.6,0M519.26,195.26a2.3,2.3 0 1,0 4.6,0a2.3,2.3 0 1,0 -4.6,0M520.3,197.29a2.3,2.3 0 1,0 4.6,0a2.3,2.3 0 1,0 -4.6,0M521.33,198.44a2.3,2.3 0 1,0 4.6,0a2.3,2.3 0 1,0 -4.6,0M522.33,200.63a2.3,2.3 0 1,0 4.6,0a2.3,2.3 0 1,0 -4.6,0M523.32,202.84a2.3,2.3 0 1,0 4.6,0a2.3,2.3 0 1,0 -4.6,0M524.29,204.06a2.3,2.3 0 1,0 4.6,0a2.3,2.3 0 1,0 -4.6,0M525.24,205.63a2.3,2.3 0 1,0 4.6,0a2.3,2.3 0 1,0 -4.6,0M526.17,206.84a2.3,2.3 0 1,0 4.6,0a2.3,2.3 0 1,0 -4.6,0M527.08,208.74a2.3,2.3 0 1,0 4.6,0a2.3,2.3 0 1,0 -4.6,0M527.98,209.35a2.3,2.3 0 1,0 4.6,0a2.3,2.3 0 1,0 -4.6,0M528.86,209.45a2.3,2.3 0 1,0 4.6,0a2.3,2.3 0 1,0 -4.6,0M529.73,211.15a2.3,2.3 0 1,0 4.6,0a2.3,2.3 0 1,0 -4.6,0M530.59,211.55a2.3,2.3 0 1,0 4.6,0a2.3,2.3 0 1,0 -4.6,0M531.43,211.88a2.3,2.3 0 1,0 4.6,0a2.3,2.3 0 1,0 -4.6,0M532.25,213.95a2.3,2.3 0 1,0 4.6,0a2.3,2.3 0 1,0 -4.6,0M533.06,215.58a2.3,2.3 0 1,0 4.6,0a2.3,2.3 0 1,0 -4.6,0M533.86,215.74a2.3,2.3 0 1,0 4.6,0a2.3,2.3 0 1,0 -4.6,0M534.65,215.86a2.3,2.3 0 1,0 4.6,0a2.3,2.3 0 1,0 -4.6,0M535.43,216.57a2.3,2.3 0 1,0 4.6,0a2.3,2.3 0 1,0 -4.6,0M536.19,218.08a2.3,2.3 0 1,0 4.6,0a2.3,2.3 0 1,0 -4.6,0M536.94,218.18a2.3,2.3 0 1,0 4.6,0a2.3,2.3 0 1,0 -4.6,0M537.69,218.65a2.3,2.3 0 1,0 4.6,0a2.3,2.3 0 1,0 -4.6,0M538.42,219.09a2.3,2.3 0 1,0 4.6,0a2.3,2.3 0 1,0 -4.6,0M539.14,219.6a2.3,2.3 0 1,0 4.6,0a2.3,2.3 0 1,0 -4.6,0M539.85,220.39a2.3,2.3 0 1,0 4.6,0a2.3,2.3 0 1,0 -4.6,0M540.55,220.69a2.3,2.3 0 1,0 4.6,0a2.3,2.3 0 1,0 -4.6,0M541.24,220.94a2.3,2.3 0 1,0 4.6,0a2.3,2.3 0 1,0 -4.6,0M541.92,220.75a2.3,2.3 0 1,0 4.6,0a2.3,2.3 0 1,0 -4.6,0M542.6,221.81a2.3,2.3 0 1,0 4.6,0a2.3,2.3 0 1,0 -4.6,0M543.26,221.62a2.3,2.3 0 1,0 4.6,0a2.3,2.3 0 1,0 -4.6,0M543.92,222.74a2.3,2.3 0 1,0 4.6,0a2.3,2.3 0 1,0 -4.6,0M544.56,221.99a2.3,2.3 0 1,0 4.6,0a2.3,2.3 0 1,0 -4.6,0M545.2,222.79a2.3,2.3 0 1,0 4.6,0a2.3,2.3 0 1,0 -4.6,0M545.83,223.13a2.3,2.3 0 1,0 4.6,0a2.3,2.3 0 1,0 -4.6,0M546.46,222.8a2.3,2.3 0 1,0 4.6,0a2.3,2.3 0 1,0 -4.6,0M547.07,224.43a2.3,2.3 0 1,0 4.6,0a2.3,2.3 0 1,0 -4.6,0M547.68,224.56a2.3,2.3 0 1,0 4.6,0a2.3,2.3 0 1,0 -4.6,0M548.29,223.94a2.3,2.3 0 1,0 4.6,0a2.3,2.3 0 1,0 -4.6,0M548.88,224.73a2.3,2.3 0 1,0 4.6,0a2.3,2.3 0 1,0 -4.6,0M549.47,224.78a2.3,2.3 0 1,0 4.6,0a2.3,2.3 0 1,0 -4.6,0M550.05,223.65a2.3,2.3 0 1,0 4.6,0a2.3,2.3 0 1,0 -4.6,0M550.62,225.15a2.3,2.3 0 1,0 4.6,0a2.3,2.3 0 1,0 -4.6,0M551.19,225.22a2.3,2.3 0 1,0 4.6,0a2.3,2.3 0 1,0 -4.6,0M551.75,225.48a2.3,2.3 0 1,0 4.6,0a2.3,2.3 0 1,0 -4.6,0M552.31,225.15a2.3,2.3 0 1,0 4.6,0a2.3,2.3 0 1,0 -4.6,0M552.86,225.7a2.3,2.3 0 1,0 4.6,0a2.3,2.3 0 1,0 -4.6,0M553.4,225.92a2.3,2.3 0 1,0 4.6,0a2.3,2.3 0 1,0 -4.6,0M553.94,226.71a2.3,2.3 0 1,0 4.6,0a2.3,2.3 0 1,0 -4.6,0M554.47,226.49a2.3,2.3 0 1,0 4.6,0a2.3,2.3 0 1,0 -4.6,0M555,226.49a2.3,2.3 0 1,0 4.6,0a2.3,2.3 0 1,0 -4.6,0M555.52,227.33a2.3,2.3 0 1,0 4.6,0a2.3,2.3 0 1,0 -4.6,0M556.04,226.54a2.3,2.3 0 1,0 4.6,0a2.3,2.3 0 1,0 -4.6,0M556.55,226.75a2.3,2.3 0 1,0 4.6,0a2.3,2.3 0 1,0 -4.6,0M557.05,226.24a2.3,2.3 0 1,0 4.6,0a2.3,2.3 0 1,0 -4.6,0M557.55,227.89a2.3,2.3 0 1,0 4.6,0a2.3,2.3 0 1,0 -4.6,0M558.05,227.74a2.3,2.3 0 1,0 4.6,0a2.3,2.3 0 1,0 -4.6,0M558.54,227.83a2.3,2.3 0 1,0 4.6,0a2.3,2.3 0 1,0 -4.6,0M559.03,227.82a2.3,2.3 0 1,0 4.6,0a2.3,2.3 0 1,0 -4.6,0M559.51,227.67a2.3,2.3 0 1,0 4.6,0a2.3,2.3 0 1,0 -4.6,0M559.99,227.82a2.3,2.3 0 1,0 4.6,0a2.3,2.3 0 1,0 -4.6,0M560.46,227.7a2.3,2.3 0 1,0 4.6,0a2.3,2.3 0 1,0 -4.6,0M560.93,227.81a2.3,2.3 0 1,0 4.6,0a2.3,2.3 0 1,0 -4.6,0M561.39,228.02a2.3,2.3 0 1,0 4.6,0a2.3,2.3 0 1,0 -4.6,0M561.86,228.76a2.3,2.3 0 1,0 4.6,0a2.3,2.3 0 1,0 -4.6,0M562.31,228.41a2.3,2.3 0 1,0 4.6,0a2.3,2.3 0 1,0 -4.6,0M562.76,228.22a2.3,2.3 0 1,0 4.6,0a2.3,2.3 0 1,0 -4.6,0M563.21,228.06a2.3,2.3 0 1,0 4.6,0a2.3,2.3 0 1,0 -4.6,0M563.66,228.12a2.3,2.3 0 1,0 4.6,0a2.3,2.3 0 1,0 -4.6,0M564.1,229.2a2.3,2.3 0 1,0 4.6,0a2.3,2.3 0 1,0 -4.6,0M564.53,228.78a2.3,2.3 0 1,0 4.6,0a2.3,2.3 0 1,0 -4.6,0M564.97,228.65a2.3,2.3 0 1,0 4.6,0a2.3,2.3 0 1,0 -4.6,0M565.39,228.54a2.3,2.3 0 1,0 4.6,0a2.3,2.3 0 1,0 -4.6,0M565.82,228.26a2.3,2.3 0 1,0 4.6,0a2.3,2.3 0 1,0 -4.6,0M566.24,228.79a2.3,2.3 0 1,0 4.6,0a2.3,2.3 0 1,0 -4.6,0M566.66,229.28a2.3,2.3 0 1,0 4.6,0a2.3,2.3 0 1,0 -4.6,0M567.08,228.78a2.3,2.3 0 1,0 4.6,0a2.3,2.3 0 1,0 -4.6,0M567.49,228.91a2.3,2.3 0 1,0 4.6,0a2.3,2.3 0 1,0 -4.6,0M567.9,228.97a2.3,2.3 0 1,0 4.6,0a2.3,2.3 0 1,0 -4.6,0M568.3,229.18a2.3,2.3 0 1,0 4.6,0a2.3,2.3 0 1,0 -4.6,0M568.7,228.47a2.3,2.3 0 1,0 4.6,0a2.3,2.3 0 1,0 -4.6,0M569.1,229.14a2.3,2.3 0 1,0 4.6,0a2.3,2.3 0 1,0 -4.6,0M569.5,228.91a2.3,2.3 0 1,0 4.6,0a2.3,2.3 0 1,0 -4.6,0M569.89,229.75a2.3,2.3 0 1,0 4.6,0a2.3,2.3 0 1,0 -4.6,0M570.28,229.06a2.3,2.3 0 1,0 4.6,0a2.3,2.3 0 1,0 -4.6,0M570.67,229.71a2.3,2.3 0 1,0 4.6,0a2.3,2.3 0 1,0 -4.6,0M571.05,230.19a2.3,2.3 0 1,0 4.6,0a2.3,2.3 0 1,0 -4.6,0M571.43,229.41a2.3,2.3 0 1,0 4.6,0a2.3,2.3 0 1,0 -4.6,0M571.81,229.33a2.3,2.3 0 1,0 4.6,0a2.3,2.3 0 1,0 -4.6,0M572.19,229.73a2.3,2.3 0 1,0 4.6,0a2.3,2.3 0 1,0 -4.6,0M572.56,229.69a2.3,2.3 0 1,0 4.6,0a2.3,2.3 0 1,0 -4.6,0M572.93,229.29a2.3,2.3 0 1,0 4.6,0a2.3,2.3 0 1,0 -4.6,0M573.3,229.99a2.3,2.3 0 1,0 4.6,0a2.3,2.3 0 1,0 -4.6,0M573.66,230.73a2.3,2.3 0 1,0 4.6,0a2.3,2.3 0 1,0 -4.6,0M574.02,229.75a2.3,2.3 0 1,0 4.6,0a2.3,2.3 0 1,0 -4.6,0M574.38,229.81a2.3,2.3 0 1,0 4.6,0a2.3,2.3 0 1,0 -4.6,0M574.74,229.47a2.3,2.3 0 1,0 4.6,0a2.3,2.3 0 1,0 -4.6,0M575.1,230.13a2.3,2.3 0 1,0 4.6,0a2.3,2.3 0 1,0 -4.6,0M575.45,229.46a2.3,2.3 0 1,0 4.6,0a2.3,2.3 0 1,0 -4.6,0M575.8,229.56a2.3,2.3 0 1,0 4.6,0a2.3,2.3 0 1,0 -4.6,0M576.14,230.67a2.3,2.3 0 1,0 4.6,0a2.3,2.3 0 1,0 -4.6,0M576.49,229.73a2.3,2.3 0 1,0 4.6,0a2.3,2.3 0 1,0 -4.6,0M576.83,230.66a2.3,2.3 0 1,0 4.6,0a2.3,2.3 0 1,0 -4.6,0M577.17,230.89a2.3,2.3 0 1,0 4.6,0a2.3,2.3 0 1,0 -4.6,0M577.51,230.36a2.3,2.3 0 1,0 4.6,0a2.3,2.3 0 1,0 -4.6,0M577.85,230.52a2.3,2.3 0 1,0 4.6,0a2.3,2.3 0 1,0 -4.6,0M578.18,231.19a2.3,2.3 0 1,0 4.6,0a2.3,2.3 0 1,0 -4.6,0M578.51,230.25a2.3,2.3 0 1,0 4.6,0a2.3,2.3 0 1,0 -4.6,0M578.84,230.11a2.3,2.3 0 1,0 4.6,0a2.3,2.3 0 1,0 -4.6,0M579.17,229.8a2.3,2.3 0 1,0 4.6,0a2.3,2.3 0 1,0 -4.6,0M579.49,230.46a2.3,2.3 0 1,0 4.6,0a2.3,2.3 0 1,0 -4.6,0M579.82,231.14a2.3,2.3 0 1,0 4.6,0a2.3,2.3 0 1,0 -4.6,0M580.14,230.93a2.3,2.3 0 1,0 4.6,0a2.3,2.3 0 1,0 -4.6,0M580.46,230.11a2.3,2.3 0 1,0 4.6,0a2.3,2.3 0 1,0 -4.6,0M580.77,230.18a2.3,2.3 0 1,0 4.6,0a2.3,2.3 0 1,0 -4.6,0M581.09,230.37a2.3,2.3 0 1,0 4.6,0a2.3,2.3 0 1,0 -4.6,0M581.4,230.75a2.3,2.3 0 1,0 4.6,0a2.3,2.3 0 1,0 -4.6,0M581.71,230.56a2.3,2.3 0 1,0 4.6,0a2.3,2.3 0 1,0 -4.6,0M582.02,230.78a2.3,2.3 0 1,0 4.6,0a2.3,2.3 0 1,0 -4.6,0M582.33,230.84a2.3,2.3 0 1,0 4.6,0a2.3,2.3 0 1,0 -4.6,0M582.64,230.61a2.3,2.3 0 1,0 4.6,0a2.3,2.3 0 1,0 -4.6,0M582.94,230.75a2.3,2.3 0 1,0 4.6,0a2.3,2.3 0 1,0 -4.6,0M583.24,230.89a2.3,2.3 0 1,0 4.6,0a2.3,2.3 0 1,0 -4.6,0M583.54,230.79a2.3,2.3 0 1,0 4.6,0a2.3,2.3 0 1,0 -4.6,0M583.84,231.08a2.3,2.3 0 1,0 4.6,0a2.3,2.3 0 1,0 -4.6,0M584.14,231.72a2.3,2.3 0 1,0 4.6,0a2.3,2.3 0 1,0 -4.6,0M584.43,231.17a2.3,2.3 0 1,0 4.6,0a2.3,2.3 0 1,0 -4.6,0M584.72,230.95a2.3,2.3 0 1,0 4.6,0a2.3,2.3 0 1,0 -4.6,0M585.02,230.2a2.3,2.3 0 1,0 4.6,0a2.3,2.3 0 1,0 -4.6,0M585.31,231.15a2.3,2.3 0 1,0 4.6,0a2.3,2.3 0 1,0 -4.6,0M585.59,230.13a2.3,2.3 0 1,0 4.6,0a2.3,2.3 0 1,0 -4.6,0M585.88,230.4a2.3,2.3 0 1,0 4.6,0a2.3,2.3 0 1,0 -4.6,0M586.17,231.44a2.3,2.3 0 1,0 4.6,0a2.3,2.3 0 1,0 -4.6,0M586.45,231.4a2.3,2.3 0 1,0 4.6,0a2.3,2.3 0 1,0 -4.6,0M586.73,231.03a2.3,2.3 0 1,0 4.6,0a2.3,2.3 0 1,0 -4.6,0M587.01,230.35a2.3,2.3 0 1,0 4.6,0a2.3,2.3 0 1,0 -4.6,0M587.29,230.98a2.3,2.3 0 1,0 4.6,0a2.3,2.3 0 1,0 -4.6,0M587.57,230.86a2.3,2.3 0 1,0 4.6,0a2.3,2.3 0 1,0 -4.6,0M587.84,231.48a2.3,2.3 0 1,0 4.6,0a2.3,2.3 0 1,0 -4.6,0M588.12,232.23a2.3,2.3 0 1,0 4.6,0a2.3,2.3 0 1,0 -4.6,0M588.39,231.33a2.3,2.3 0 1,0 4.6,0a2.3,2.3 0 1,0 -4.6,0M588.66,230.9a2.3,2.3 0 1,0 4.6,0a2.3,2.3 0 1,0 -4.6,0M588.93,230.75a2.3,2.3 0 1,0 4.6,0a2.3,2.3 0 1,0 -4.6,0M589.2,231.27a2.3,2.3 0 1,0 4.6,0a2.3,2.3 0 1,0 -4.6,0M589.47,231.24a2.3,2.3 0 1,0 4.6,0a2.3,2.3 0 1,0 -4.6,0M589.73,230.82a2.3,2.3 0 1,0 4.6,0a2.3,2.3 0 1,0 -4.6,0M590,231.41a2.3,2.3 0 1,0 4.6,0a2.3,2.3 0 1,0 -4.6,0M590.26,230.86a2.3,2.3 0 1,0 4.6,0a2.3,2.3 0 1,0 -4.6,0M590.52,231.89a2.3,2.3 0 1,0 4.6,0a2.3,2.3 0 1,0 -4.6,0M590.78,231.89a2.3,2.3 0 1,0 4.6,0a2.3,2.3 0 1,0 -4.6,0M591.04,231.92a2.3,2.3 0 1,0 4.6,0a2.3,2.3 0 1,0 -4.6,0M591.3,231.23a2.3,2.3 0 1,0 4.6,0a2.3,2.3 0 1,0 -4.6,0M591.56,231.7a2.3,2.3 0 1,0 4.6,0a2.3,2.3 0 1,0 -4.6,0M591.81,231.42a2.3,2.3 0 1,0 4.6,0a2.3,2.3 0 1,0 -4.6,0M592.07,231.32a2.3,2.3 0 1,0 4.6,0a2.3,2.3 0 1,0 -4.6,0M592.32,231.36a2.3,2.3 0 1,0 4.6,0a2.3,2.3 0 1,0 -4.6,0M592.57,230.95a2.3,2.3 0 1,0 4.6,0a2.3,2.3 0 1,0 -4.6,0M592.82,230.9a2.3,2.3 0 1,0 4.6,0a2.3,2.3 0 1,0 -4.6,0M593.07,231.92a2.3,2.3 0 1,0 4.6,0a2.3,2.3 0 1,0 -4.6,0M593.32,231.49a2.3,2.3 0 1,0 4.6,0a2.3,2.3 0 1,0 -4.6,0M593.56,231.69a2.3,2.3 0 1,0 4.6,0a2.3,2.3 0 1,0 -4.6,0M593.81,232.06a2.3,2.3 0 1,0 4.6,0a2.3,2.3 0 1,0 -4.6,0M594.05,230.84a2.3,2.3 0 1,0 4.6,0a2.3,2.3 0 1,0 -4.6,0M594.3,231.28a2.3,2.3 0 1,0 4.6,0a2.3,2.3 0 1,0 -4.6,0M594.54,231.73a2.3,2.3 0 1,0 4.6,0a2.3,2.3 0 1,0 -4.6,0M594.78,231.84a2.3,2.3 0 1,0 4.6,0a2.3,2.3 0 1,0 -4.6,0M595.02,231.5a2.3,2.3 0 1,0 4.6,0a2.3,2.3 0 1,0 -4.6,0M595.26,232.15a2.3,2.3 0 1,0 4.6,0a2.3,2.3 0 1,0 -4.6,0M595.49,231.79a2.3,2.3 0 1,0 4.6,0a2.3,2.3 0 1,0 -4.6,0M595.73,231.16a2.3,2.3 0 1,0 4.6,0a2.3,2.3 0 1,0 -4.6,0M595.96,231.3a2.3,2.3 0 1,0 4.6,0a2.3,2.3 0 1,0 -4.6,0M596.2,232.1a2.3,2.3 0 1,0 4.6,0a2.3,2.3 0 1,0 -4.6,0M596.43,231.95a2.3,2.3 0 1,0 4.6,0a2.3,2.3 0 1,0 -4.6,0M596.66,230.9a2.3,2.3 0 1,0 4.6,0a2.3,2.3 0 1,0 -4.6,0M596.89,232.37a2.3,2.3 0 1,0 4.6,0a2.3,2.3 0 1,0 -4.6,0M597.12,232.04a2.3,2.3 0 1,0 4.6,0a2.3,2.3 0 1,0 -4.6,0M597.35,232.39a2.3,2.3 0 1,0 4.6,0a2.3,2.3 0 1,0 -4.6,0M597.58,231.62a2.3,2.3 0 1,0 4.6,0a2.3,2.3 0 1,0 -4.6,0M597.81,231.67a2.3,2.3 0 1,0 4.6,0a2.3,2.3 0 1,0 -4.6,0M598.03,231.31a2.3,2.3 0 1,0 4.6,0a2.3,2.3 0 1,0 -4.6,0M598.26,232.96a2.3,2.3 0 1,0 4.6,0a2.3,2.3 0 1,0 -4.6,0M598.48,231.75a2.3,2.3 0 1,0 4.6,0a2.3,2.3 0 1,0 -4.6,0M598.7,232.56a2.3,2.3 0 1,0 4.6,0a2.3,2.3 0 1,0 -4.6,0M598.93,231.56a2.3,2.3 0 1,0 4.6,0a2.3,2.3 0 1,0 -4.6,0M599.15,231.93a2.3,2.3 0 1,0 4.6,0a2.3,2.3 0 1,0 -4.6,0M599.37,231.12a2.3,2.3 0 1,0 4.6,0a2.3,2.3 0 1,0 -4.6,0M599.59,231.7a2.3,2.3 0 1,0 4.6,0a2.3,2.3 0 1,0 -4.6,0M599.8,232.33a2.3,2.3 0 1,0 4.6,0a2.3,2.3 0 1,0 -4.6,0M600.02,231.33a2.3,2.3 0 1,0 4.6,0a2.3,2.3 0 1,0 -4.6,0M600.24,232.39a2.3,2.3 0 1,0 4.6,0a2.3,2.3 0 1,0 -4.6,0M600.45,232.06a2.3,2.3 0 1,0 4.6,0a2.3,2.3 0 1,0 -4.6,0M600.67,231.45a2.3,2.3 0 1,0 4.6,0a2.3,2.3 0 1,0 -4.6,0M600.88,231.7a2.3,2.3 0 1,0 4.6,0a2.3,2.3 0 1,0 -4.6,0M601.09,231.73a2.3,2.3 0 1,0 4.6,0a2.3,2.3 0 1,0 -4.6,0M601.3,231.92a2.3,2.3 0 1,0 4.6,0a2.3,2.3 0 1,0 -4.6,0M601.52,231.71a2.3,2.3 0 1,0 4.6,0a2.3,2.3 0 1,0 -4.6,0M601.73,231.59a2.3,2.3 0 1,0 4.6,0a2.3,2.3 0 1,0 -4.6,0M601.93,231.83a2.3,2.3 0 1,0 4.6,0a2.3,2.3 0 1,0 -4.6,0M602.14,231.52a2.3,2.3 0 1,0 4.6,0a2.3,2.3 0 1,0 -4.6,0M602.35,231.41a2.3,2.3 0 1,0 4.6,0a2.3,2.3 0 1,0 -4.6,0M602.56,231.97a2.3,2.3 0 1,0 4.6,0a2.3,2.3 0 1,0 -4.6,0M602.76,232.4a2.3,2.3 0 1,0 4.6,0a2.3,2.3 0 1,0 -4.6,0M602.97,231.32a2.3,2.3 0 1,0 4.6,0a2.3,2.3 0 1,0 -4.6,0M603.17,232.02a2.3,2.3 0 1,0 4.6,0a2.3,2.3 0 1,0 -4.6,0M603.37,231.73a2.3,2.3 0 1,0 4.6,0a2.3,2.3 0 1,0 -4.6,0M603.58,231.59a2.3,2.3 0 1,0 4.6,0a2.3,2.3 0 1,0 -4.6,0M603.78,232.43a2.3,2.3 0 1,0 4.6,0a2.3,2.3 0 1,0 -4.6,0M603.98,231.82a2.3,2.3 0 1,0 4.6,0a2.3,2.3 0 1,0 -4.6,0M604.18,232.73a2.3,2.3 0 1,0 4.6,0a2.3,2.3 0 1,0 -4.6,0M604.38,231.71a2.3,2.3 0 1,0 4.6,0a2.3,2.3 0 1,0 -4.6,0M604.58,232.25a2.3,2.3 0 1,0 4.6,0a2.3,2.3 0 1,0 -4.6,0M604.77,231.98a2.3,2.3 0 1,0 4.6,0a2.3,2.3 0 1,0 -4.6,0M604.97,231.75a2.3,2.3 0 1,0 4.6,0a2.3,2.3 0 1,0 -4.6,0M605.17,232.36a2.3,2.3 0 1,0 4.6,0a2.3,2.3 0 1,0 -4.6,0M605.36,232.03a2.3,2.3 0 1,0 4.6,0a2.3,2.3 0 1,0 -4.6,0M605.56,232.38a2.3,2.3 0 1,0 4.6,0a2.3,2.3 0 1,0 -4.6,0M605.75,232.09a2.3,2.3 0 1,0 4.6,0a2.3,2.3 0 1,0 -4.6,0M605.94,231.63a2.3,2.3 0 1,0 4.6,0a2.3,2.3 0 1,0 -4.6,0M606.14,232.08a2.3,2.3 0 1,0 4.6,0a2.3,2.3 0 1,0 -4.6,0M606.33,232.16a2.3,2.3 0 1,0 4.6,0a2.3,2.3 0 1,0 -4.6,0M606.52,232.58a2.3,2.3 0 1,0 4.6,0a2.3,2.3 0 1,0 -4.6,0M606.71,231.74a2.3,2.3 0 1,0 4.6,0a2.3,2.3 0 1,0 -4.6,0M606.9,232.14a2.3,2.3 0 1,0 4.6,0a2.3,2.3 0 1,0 -4.6,0M607.09,231.39a2.3,2.3 0 1,0 4.6,0a2.3,2.3 0 1,0 -4.6,0M607.28,232.46a2.3,2.3 0 1,0 4.6,0a2.3,2.3 0 1,0 -4.6,0M607.46,231.69a2.3,2.3 0 1,0 4.6,0a2.3,2.3 0 1,0 -4.6,0M607.65,231.37a2.3,2.3 0 1,0 4.6,0a2.3,2.3 0 1,0 -4.6,0M607.84,232.16a2.3,2.3 0 1,0 4.6,0a2.3,2.3 0 1,0 -4.6,0M608.02,232.69a2.3,2.3 0 1,0 4.6,0a2.3,2.3 0 1,0 -4.6,0M608.21,231.52a2.3,2.3 0 1,0 4.6,0a2.3,2.3 0 1,0 -4.6,0M608.39,231.72a2.3,2.3 0 1,0 4.6,0a2.3,2.3 0 1,0 -4.6,0M608.58,231.88a2.3,2.3 0 1,0 4.6,0a2.3,2.3 0 1,0 -4.6,0M608.76,231.71a2.3,2.3 0 1,0 4.6,0a2.3,2.3 0 1,0 -4.6,0M608.94,232.4a2.3,2.3 0 1,0 4.6,0a2.3,2.3 0 1,0 -4.6,0M609.12,231.87a2.3,2.3 0 1,0 4.6,0a2.3,2.3 0 1,0 -4.6,0M609.3,231.91a2.3,2.3 0 1,0 4.6,0a2.3,2.3 0 1,0 -4.6,0M609.48,232.51a2.3,2.3 0 1,0 4.6,0a2.3,2.3 0 1,0 -4.6,0M609.66,231.91a2.3,2.3 0 1,0 4.6,0a2.3,2.3 0 1,0 -4.6,0M609.84,232.45a2.3,2.3 0 1,0 4.6,0a2.3,2.3 0 1,0 -4.6,0M610.02,231.82a2.3,2.3 0 1,0 4.6,0a2.3,2.3 0 1,0 -4.6,0M610.2,231.72a2.3,2.3 0 1,0 4.6,0a2.3,2.3 0 1,0 -4.6,0M610.37,231.45a2.3,2.3 0 1,0 4.6,0a2.3,2.3 0 1,0 -4.6,0M610.55,233.12a2.3,2.3 0 1,0 4.6,0a2.3,2.3 0 1,0 -4.6,0M610.73,232.14a2.3,2.3 0 1,0 4.6,0a2.3,2.3 0 1,0 -4.6,0M610.9,232.4a2.3,2.3 0 1,0 4.6,0a2.3,2.3 0 1,0 -4.6,0M611.08,232.28a2.3,2.3 0 1,0 4.6,0a2.3,2.3 0 1,0 -4.6,0M611.25,232.37a2.3,2.3 0 1,0 4.6,0a2.3,2.3 0 1,0 -4.6,0M611.42,232.33a2.3,2.3 0 1,0 4.6,0a2.3,2.3 0 1,0 -4.6,0M611.6,233.17a2.3,2.3 0 1,0 4.6,0a2.3,2.3 0 1,0 -4.6,0M611.77,231.85a2.3,2.3 0 1,0 4.6,0a2.3,2.3 0 1,0 -4.6,0M611.94,231.62a2.3,2.3 0 1,0 4.6,0a2.3,2.3 0 1,0 -4.6,0M612.11,231.87a2.3,2.3 0 1,0 4.6,0a2.3,2.3 0 1,0 -4.6,0M612.28,231.73a2.3,2.3 0 1,0 4.6,0a2.3,2.3 0 1,0 -4.6,0M612.45,232.67a2.3,2.3 0 1,0 4.6,0a2.3,2.3 0 1,0 -4.6,0M612.62,232.71a2.3,2.3 0 1,0 4.6,0a2.3,2.3 0 1,0 -4.6,0M612.79,231.91a2.3,2.3 0 1,0 4.6,0a2.3,2.3 0 1,0 -4.6,0M612.96,231.72a2.3,2.3 0 1,0 4.6,0a2.3,2.3 0 1,0 -4.6,0M613.13,232.19a2.3,2.3 0 1,0 4.6,0a2.3,2.3 0 1,0 -4.6,0M613.29,232.98a2.3,2.3 0 1,0 4.6,0a2.3,2.3 0 1,0 -4.6,0M613.46,231.09a2.3,2.3 0 1,0 4.6,0a2.3,2.3 0 1,0 -4.6,0M613.63,232.6a2.3,2.3 0 1,0 4.6,0a2.3,2.3 0 1,0 -4.6,0M613.79,231.88a2.3,2.3 0 1,0 4.6,0a2.3,2.3 0 1,0 -4.6,0M613.96,232.84a2.3,2.3 0 1,0 4.6,0a2.3,2.3 0 1,0 -4.6,0M614.12,231.89a2.3,2.3 0 1,0 4.6,0a2.3,2.3 0 1,0 -4.6,0M614.29,232.25a2.3,2.3 0 1,0 4.6,0a2.3,2.3 0 1,0 -4.6,0M614.45,231.71a2.3,2.3 0 1,0 4.6,0a2.3,2.3 0 1,0 -4.6,0M614.61,231.95a2.3,2.3 0 1,0 4.6,0a2.3,2.3 0 1,0 -4.6,0M614.77,233.01a2.3,2.3 0 1,0 4.6,0a2.3,2.3 0 1,0 -4.6,0M614.94,232.76a2.3,2.3 0 1,0 4.6,0a2.3,2.3 0 1,0 -4.6,0M615.1,232.22a2.3,2.3 0 1,0 4.6,0a2.3,2.3 0 1,0 -4.6,0M615.26,232.01a2.3,2.3 0 1,0 4.6,0a2.3,2.3 0 1,0 -4.6,0M615.42,231.55a2.3,2.3 0 1,0 4.6,0a2.3,2.3 0 1,0 -4.6,0M615.58,232.23a2.3,2.3 0 1,0 4.6,0a2.3,2.3 0 1,0 -4.6,0M615.74,232.4a2.3,2.3 0 1,0 4.6,0a2.3,2.3 0 1,0 -4.6,0M615.9,232.38a2.3,2.3 0 1,0 4.6,0a2.3,2.3 0 1,0 -4.6,0M616.06,232.38a2.3,2.3 0 1,0 4.6,0a2.3,2.3 0 1,0 -4.6,0M616.21,231.92a2.3,2.3 0 1,0 4.6,0a2.3,2.3 0 1,0 -4.6,0M616.37,232.4a2.3,2.3 0 1,0 4.6,0a2.3,2.3 0 1,0 -4.6,0M616.53,232.41a2.3,2.3 0 1,0 4.6,0a2.3,2.3 0 1,0 -4.6,0M616.68,233.01a2.3,2.3 0 1,0 4.6,0a2.3,2.3 0 1,0 -4.6,0M616.84,233.27a2.3,2.3 0 1,0 4.6,0a2.3,2.3 0 1,0 -4.6,0M617,232.38a2.3,2.3 0 1,0 4.6,0a2.3,2.3 0 1,0 -4.6,0M617.15,232.09a2.3,2.3 0 1,0 4.6,0a2.3,2.3 0 1,0 -4.6,0M617.31,232.41a2.3,2.3 0 1,0 4.6,0a2.3,2.3 0 1,0 -4.6,0M617.46,232.17a2.3,2.3 0 1,0 4.6,0a2.3,2.3 0 1,0 -4.6,0M617.61,232.11a2.3,2.3 0 1,0 4.6,0a2.3,2.3 0 1,0 -4.6,0M617.77,232.42a2.3,2.3 0 1,0 4.6,0a2.3,2.3 0 1,0 -4.6,0M617.92,231.98a2.3,2.3 0 1,0 4.6,0a2.3,2.3 0 1,0 -4.6,0M618.07,232.73a2.3,2.3 0 1,0 4.6,0a2.3,2.3 0 1,0 -4.6,0M618.22,232.41a2.3,2.3 0 1,0 4.6,0a2.3,2.3 0 1,0 -4.6,0M618.37,232.57a2.3,2.3 0 1,0 4.6,0a2.3,2.3 0 1,0 -4.6,0M618.52,232.38a2.3,2.3 0 1,0 4.6,0a2.3,2.3 0 1,0 -4.6,0M618.68,232.14a2.3,2.3 0 1,0 4.6,0a2.3,2.3 0 1,0 -4.6,0M618.83,232.04a2.3,2.3 0 1,0 4.6,0a2.3,2.3 0 1,0 -4.6,0M618.97,232.36a2.3,2.3 0 1,0 4.6,0a2.3,2.3 0 1,0 -4.6,0M619.12,232.22a2.3,2.3 0 1,0 4.6,0a2.3,2.3 0 1,0 -4.6,0M619.27,232.58a2.3,2.3 0 1,0 4.6,0a2.3,2.3 0 1,0 -4.6,0M619.42,232.47a2.3,2.3 0 1,0 4.6,0a2.3,2.3 0 1,0 -4.6,0M619.57,231.86a2.3,2.3 0 1,0 4.6,0a2.3,2.3 0 1,0 -4.6,0M619.72,232.51a2.3,2.3 0 1,0 4.6,0a2.3,2.3 0 1,0 -4.6,0M619.86,231.87a2.3,2.3 0 1,0 4.6,0a2.3,2.3 0 1,0 -4.6,0M620.01,232.2a2.3,2.3 0 1,0 4.6,0a2.3,2.3 0 1,0 -4.6,0M620.16,232.35a2.3,2.3 0 1,0 4.6,0a2.3,2.3 0 1,0 -4.6,0M620.3,231.55a2.3,2.3 0 1,0 4.6,0a2.3,2.3 0 1,0 -4.6,0M620.45,232.53a2.3,2.3 0 1,0 4.6,0a2.3,2.3 0 1,0 -4.6,0M620.59,232.55a2.3,2.3 0 1,0 4.6,0a2.3,2.3 0 1,0 -4.6,0M620.74,232.42a2.3,2.3 0 1,0 4.6,0a2.3,2.3 0 1,0 -4.6,0M620.88,232.3a2.3,2.3 0 1,0 4.6,0a2.3,2.3 0 1,0 -4.6,0M621.02,232.32a2.3,2.3 0 1,0 4.6,0a2.3,2.3 0 1,0 -4.6,0M621.17,232.05a2.3,2.3 0 1,0 4.6,0a2.3,2.3 0 1,0 -4.6,0M621.31,232.37a2.3,2.3 0 1,0 4.6,0a2.3,2.3 0 1,0 -4.6,0M621.45,232.24a2.3,2.3 0 1,0 4.6,0a2.3,2.3 0 1,0 -4.6,0M621.59,232.53a2.3,2.3 0 1,0 4.6,0a2.3,2.3 0 1,0 -4.6,0M621.74,231.95a2.3,2.3 0 1,0 4.6,0a2.3,2.3 0 1,0 -4.6,0M621.88,232.6a2.3,2.3 0 1,0 4.6,0a2.3,2.3 0 1,0 -4.6,0M622.02,232.56a2.3,2.3 0 1,0 4.6,0a2.3,2.3 0 1,0 -4.6,0M622.16,232.43a2.3,2.3 0 1,0 4.6,0a2.3,2.3 0 1,0 -4.6,0" fill="none" stroke="#ff0000" stroke-width="1.15"/>
<path d="M332,67.9 L333,68.28 L334,68.66 L335,69.03 L336,69.41 L337,69.79 L338,70.17 L339,70.54 L340,70.92 L341,71.3 L342,71.68 L343,72.05 L344,72.43 L345,72.8 L346,73.18 L347,73.56 L348,73.93 L349,74.31 L350,74.68 L351,75.06 L352,75.44 L353,75.81 L354,76.19 L355,76.56 L356,76.94 L357,77.31 L358,77.69 L359,78.06 L360,78.43 L361,78.81 L362,79.18 L363,79.56 L364,79.93 L365,80.3 L366,80.68 L367,81.05 L368,81.43 L369,81.8 L370,82.17 L371,82.55 L372,82.92 L373,83.29 L374,83.66 L375,84.04 L376,84.41 L377,84.78 L378,85.16 L379,85.53 L380,85.9 L381,86.27 L382,86.64 L383,87 L384,87.36 L385,87.72 L386,88.07 L387,88.43 L388,88.8 L389,89.16 L390,89.53 L391,89.91 L392,90.29 L393,90.68 L394,91.08 L395,91.49 L396,91.9 L397,92.33 L398,92.76 L399,93.19 L400,93.64 L401,94.09 L402,94.54 L403,95 L404,95.47 L405,95.94 L406,96.41 L407,96.88 L408,97.36 L409,97.85 L410,98.34 L411,98.84 L412,99.36 L413,99.88 L414,100.41 L415,100.95 L416,101.48 L417,102.02 L418,102.55 L419,103.08 L420,103.6 L421,104.11 L422,104.61 L423,105.1 L424,105.58 L425,106.05 L426,106.52 L427,106.98 L428,107.43 L429,107.89 L430,108.33 L431,108.78 L432,109.22 L433,109.65 L434,110.09 L435,110.52 L436,110.95 L437,111.37 L438,111.79 L439,112.19 L440,112.58 L441,112.96 L442,113.33 L443,113.69 L444,114.06 L445,114.43 L446,114.81 L447,115.2 L448,115.6 L449,116.03 L450,116.48 L451,116.95 L452,117.45 L453,117.99 L454,118.55 L455,119.14 L456,119.77 L457,120.44 L458,121.16 L459,121.92 L460,122.74 L461,123.65 L462,124.7 L463,125.88 L464,127.14 L465,128.45 L466,129.78 L467,131.09 L468,132.35 L469,133.58 L470,134.81 L471,136.08 L472,137.43 L473,138.88 L474,140.5 L475,142.37 L476,144.42 L477,146.53 L478,148.62 L479,150.59 L480,152.37 L481,154.1 L482,155.78 L483,157.41 L484,158.99 L485,160.49 L486,161.92 L487,163.26 L488,164.61 L489,165.94 L490,167.2 L491,168.3 L492,169.17 L493,169.78 L494,170.26 L495,170.66 L496,171.01 L497,171.33 L498,171.65 L499,172 L500,172.35 L501,172.66 L502,172.96 L503,173.27 L504,173.62 L505,174.02 L506,174.5 L507,175.14 L508,175.96 L509,176.93 L510,178.02 L511,179.19 L512,180.39 L513,181.63 L514,182.99 L515,184.47 L516,186.04 L517,187.68 L518,189.34 L519,191 L520,192.75 L521,194.57 L522,196.42 L523,198.25 L524,200 L525,201.72 L526,203.46 L527,205.18 L528,206.83 L529,208.36 L530,209.75 L531,210.99 L532,212.18 L533,213.31 L534,214.4 L535,215.41 L536,216.36 L537,217.23 L538,218.03 L539,218.74 L540,219.39 L541,220.02 L542,220.61 L543,221.17 L544,221.7 L545,222.2 L546,222.67 L547,223.12 L548,223.54 L549,223.93 L550,224.29 L551,224.64 L552,224.96 L553,225.27 L554,225.56 L555,225.83 L556,226.09 L557,226.33 L558,226.57 L559,226.79 L560,227 L561,227.2 L562,227.4 L563,227.6 L564,227.79 L565,227.98 L566,228.16 L567,228.34 L568,228.52 L569,228.69 L570,228.85 L571,229.01 L572,229.16 L573,229.31 L574,229.46 L575,229.59 L576,229.73 L577,229.85 L578,229.97 L579,230.09 L580,230.2 L581,230.31 L582,230.41 L583,230.51 L584,230.61 L585,230.7 L586,230.79 L587,230.88 L588,230.97 L589,231.05 L590,231.13 L591,231.21 L592,231.29 L593,231.36 L594,231.43 L595,231.5 L596,231.57 L597,231.63 L598,231.69 L599,231.75 L600,231.8 L601,231.85 L602,231.9 L603,231.96 L604,232.01 L605,232.06 L606,232.11 L607,232.15 L608,232.2 L609,232.25 L610,232.29 L611,232.34 L612,232.38 L613,232.42 L614,232.46 L615,232.5 L616,232.54 L617,232.57 L618,232.61 L619,232.64 L620,232.67 L621,232.7 L622,232.72 L623,232.74 L624,232.77" fill="none" stroke="#000" stroke-width="1.7" stroke-linejoin="round"/>
<path d="M332,105.4 L333,105.71 L334,106.03 L335,106.34 L336,106.65 L337,106.97 L338,107.28 L339,107.6 L340,107.91 L341,108.22 L342,108.54 L343,108.85 L344,109.16 L345,109.47 L346,109.79 L347,110.1 L348,110.41 L349,110.73 L350,111.04 L351,111.35 L352,111.66 L353,111.98 L354,112.29 L355,112.6 L356,112.91 L357,113.22 L358,113.53 L359,113.84 L360,114.15 L361,114.46 L362,114.77 L363,115.07 L364,115.38 L365,115.69 L366,116 L367,116.31 L368,116.61 L369,116.92 L370,117.23 L371,117.55 L372,117.86 L373,118.17 L374,118.49 L375,118.8 L376,119.12 L377,119.44 L378,119.76 L379,120.09 L380,120.42 L381,120.75 L382,121.09 L383,121.43 L384,121.76 L385,122.1 L386,122.44 L387,122.78 L388,123.12 L389,123.46 L390,123.8 L391,124.13 L392,124.46 L393,124.78 L394,125.1 L395,125.42 L396,125.73 L397,126.04 L398,126.35 L399,126.65 L400,126.95 L401,127.25 L402,127.55 L403,127.85 L404,128.15 L405,128.45 L406,128.75 L407,129.05 L408,129.36 L409,129.66 L410,129.97 L411,130.27 L412,130.57 L413,130.86 L414,131.16 L415,131.46 L416,131.76 L417,132.07 L418,132.37 L419,132.69 L420,133 L421,133.33 L422,133.66 L423,134 L424,134.34 L425,134.69 L426,135.03 L427,135.38 L428,135.75 L429,136.12 L430,136.52 L431,136.94 L432,137.38 L433,137.84 L434,138.35 L435,138.9 L436,139.49 L437,140.11 L438,140.75 L439,141.41 L440,142.1 L441,142.79 L442,143.5 L443,144.22 L444,144.95 L445,145.71 L446,146.51 L447,147.33 L448,148.2 L449,149.12 L450,150.09 L451,151.15 L452,152.27 L453,153.46 L454,154.69 L455,155.95 L456,157.23 L457,158.52 L458,159.84 L459,161.2 L460,162.6 L461,164.03 L462,165.49 L463,166.98 L464,168.5 L465,170.07 L466,171.7 L467,173.37 L468,175.07 L469,176.79 L470,178.49 L471,180.17 L472,181.82 L473,183.43 L474,185.02 L475,186.6 L476,188.2 L477,189.82 L478,191.48 L479,193.2 L480,195.02 L481,196.91 L482,198.81 L483,200.7 L484,202.51 L485,204.2 L486,205.8 L487,207.37 L488,208.88 L489,210.33 L490,211.71 L491,212.99 L492,214.19 L493,215.36 L494,216.46 L495,217.43 L496,218.2 L497,218.87 L498,219.51 L499,219.99 L500,220.2 L501,220.2 L502,220.18 L503,220.16 L504,220.13 L505,220.1 L506,220.04 L507,219.92 L508,219.78 L509,219.62 L510,219.46 L511,219.33 L512,219.24 L513,219.2 L514,219.21 L515,219.24 L516,219.27 L517,219.32 L518,219.38 L519,219.44 L520,219.5 L521,219.57 L522,219.65 L523,219.75 L524,219.85 L525,219.96 L526,220.07 L527,220.17 L528,220.27 L529,220.37 L530,220.47 L531,220.58 L532,220.68 L533,220.79 L534,220.89 L535,221 L536,221.1 L537,221.2 L538,221.29 L539,221.38 L540,221.47 L541,221.55 L542,221.62 L543,221.69 L544,221.76 L545,221.83 L546,221.89 L547,221.96 L548,222.02 L549,222.08 L550,222.14 L551,222.2 L552,222.26 L553,222.31 L554,222.36 L555,222.41 L556,222.45 L557,222.49 L558,222.53 L559,222.57 L560,222.6 L561,222.63 L562,222.66 L563,222.69 L564,222.71 L565,222.74 L566,222.77 L567,222.79 L568,222.81 L569,222.84 L570,222.86 L571,222.88 L572,222.9 L573,222.92 L574,222.94 L575,222.96 L576,222.98 L577,223 L578,223.01 L579,223.03 L580,223.05 L581,223.06 L582,223.08 L583,223.1 L584,223.11 L585,223.13 L586,223.14 L587,223.16 L588,223.17 L589,223.19 L590,223.2 L591,223.21 L592,223.23 L593,223.24 L594,223.26 L595,223.27 L596,223.28 L597,223.3 L598,223.31 L599,223.32 L600,223.34 L601,223.35 L602,223.36 L603,223.38 L604,223.39 L605,223.4 L606,223.41 L607,223.43 L608,223.44 L609,223.45 L610,223.46 L611,223.47 L612,223.48 L613,223.49 L614,223.5 L615,223.51 L616,223.52 L617,223.53 L618,223.54 L619,223.55 L620,223.56 L621,223.56 L622,223.57 L623,223.58 L624,223.59" fill="none" stroke="#000" stroke-width="1.7" stroke-linejoin="round"/>
</g>
<rect x="431.4" y="27.6" width="182.6" height="55.8" fill="#fff" stroke="#000" stroke-width="1.3"/>
<path d="M432.4,84.2 H614.8 V28.6" fill="none" stroke="#000" stroke-width="1.3"/>
<circle cx="448.9" cy="38.4" r="4.2" fill="none" stroke="#ff0000" stroke-width="1.3"/>
<circle cx="448.9" cy="56.2" r="4.2" fill="none" stroke="#0000ff" stroke-width="1.3"/>
<text x="468" y="42.7" font-family='"Liberation Serif", serif' font-size="13.75">A<tspan font-size="9.7" dy="3">101</tspan><tspan dy="-3">M</tspan><tspan font-size="9.7" dy="3">107</tspan><tspan dy="-3">D</tspan><tspan font-size="9.7" dy="3">21</tspan><tspan dy="-3"> in D</tspan><tspan font-size="9.7" dy="3">2</tspan><tspan dy="-3">O</tspan></text>
<text x="468" y="60.4" font-family='"Liberation Serif", serif' font-size="13.75">A<tspan font-size="9.7" dy="3">96</tspan><tspan dy="-3">M</tspan><tspan font-size="9.7" dy="3">105</tspan><tspan dy="-3">dD</tspan><tspan font-size="9.7" dy="3">18</tspan><tspan dy="-3"> in D</tspan><tspan font-size="9.7" dy="3">2</tspan><tspan dy="-3">O/H</tspan><tspan font-size="9.7" dy="3">2</tspan><tspan dy="-3">O</tspan></text>
<text x="465.6" y="77.8" font-family='"Liberation Serif", serif' font-size="13.75">(dD contrast-matched)</text>
<defs><clipPath id="clipC"><rect x="60.5" y="301" width="308.0" height="231"/></clipPath></defs>
<rect x="60.5" y="301" width="308" height="231" fill="none" stroke="#000" stroke-width="1.3"/>
<path d="M86.6,532v-6M86.6,301v6M126.9,532v-6M126.9,301v6M167.2,532v-6M167.2,301v6M207.5,532v-6M207.5,301v6M247.8,532v-6M247.8,301v6M288.1,532v-6M288.1,301v6M328.4,532v-6M328.4,301v6M60.5,301h6M368.5,301h-6M60.5,405h6M368.5,405h-6M60.5,373.69h3.5M368.5,373.69h-3.5M60.5,355.38h3.5M368.5,355.38h-3.5M60.5,342.39h3.5M368.5,342.39h-3.5M60.5,332.31h3.5M368.5,332.31h-3.5M60.5,324.07h3.5M368.5,324.07h-3.5M60.5,317.11h3.5M368.5,317.11h-3.5M60.5,311.08h3.5M368.5,311.08h-3.5M60.5,305.76h3.5M368.5,305.76h-3.5M60.5,509h6M368.5,509h-6M60.5,477.69h3.5M368.5,477.69h-3.5M60.5,459.38h3.5M368.5,459.38h-3.5M60.5,446.39h3.5M368.5,446.39h-3.5M60.5,436.31h3.5M368.5,436.31h-3.5M60.5,428.07h3.5M368.5,428.07h-3.5M60.5,421.11h3.5M368.5,421.11h-3.5M60.5,415.08h3.5M368.5,415.08h-3.5M60.5,409.76h3.5M368.5,409.76h-3.5" stroke="#000" stroke-width="1.2" fill="none"/>
<text x="86.6" y="550.5" text-anchor="middle" font-family='"Liberation Serif", serif' font-size="14">0.2</text>
<text x="126.9" y="550.5" text-anchor="middle" font-family='"Liberation Serif", serif' font-size="14">0.4</text>
<text x="167.2" y="550.5" text-anchor="middle" font-family='"Liberation Serif", serif' font-size="14">0.6</text>
<text x="207.5" y="550.5" text-anchor="middle" font-family='"Liberation Serif", serif' font-size="14">0.8</text>
<text x="247.8" y="550.5" text-anchor="middle" font-family='"Liberation Serif", serif' font-size="14">1.0</text>
<text x="288.1" y="550.5" text-anchor="middle" font-family='"Liberation Serif", serif' font-size="14">1.2</text>
<text x="328.4" y="550.5" text-anchor="middle" font-family='"Liberation Serif", serif' font-size="14">1.4</text>
<text x="368.7" y="550.5" text-anchor="middle" font-family='"Liberation Serif", serif' font-size="14">1.6</text>
<text x="31.8" y="308.6" font-family='"Liberation Serif", serif' font-size="14">10<tspan font-size="9.5" dy="-9">-2</tspan></text>
<text x="31.8" y="412.6" font-family='"Liberation Serif", serif' font-size="14">10<tspan font-size="9.5" dy="-9">-3</tspan></text>
<text x="31.8" y="516.6" font-family='"Liberation Serif", serif' font-size="14">10<tspan font-size="9.5" dy="-9">-4</tspan></text>
<text x="58.3" y="377.89" text-anchor="end" font-family='"Liberation Serif", serif' font-size="9.5">2</text>
<text x="58.3" y="346.59" text-anchor="end" font-family='"Liberation Serif", serif' font-size="9.5">4</text>
<text x="58.3" y="328.27" text-anchor="end" font-family='"Liberation Serif", serif' font-size="9.5">6</text>
<text x="58.3" y="315.28" text-anchor="end" font-family='"Liberation Serif", serif' font-size="9.5">8</text>
<text x="58.3" y="481.89" text-anchor="end" font-family='"Liberation Serif", serif' font-size="9.5">2</text>
<text x="58.3" y="450.59" text-anchor="end" font-family='"Liberation Serif", serif' font-size="9.5">4</text>
<text x="58.3" y="432.27" text-anchor="end" font-family='"Liberation Serif", serif' font-size="9.5">6</text>
<text x="58.3" y="419.28" text-anchor="end" font-family='"Liberation Serif", serif' font-size="9.5">8</text>
<text x="58.3" y="536.27" text-anchor="end" font-family='"Liberation Serif", serif' font-size="9.5">6</text>
<text x="58.3" y="523.28" text-anchor="end" font-family='"Liberation Serif", serif' font-size="9.5">8</text>
<text x="194.5" y="573.3" font-family='"Liberation Serif", serif' font-size="14.2"><tspan font-style="italic">q</tspan> (Å<tspan font-size="9.5" dy="-8.3">-1</tspan><tspan dy="8.3">)</tspan></text>
<text transform="translate(16.6,446) rotate(-90)" font-family='"Liberation Serif", serif' font-size="14.7">I(<tspan font-style="italic">q</tspan>) (a.u.)</text>
<text x="0.5" y="306.8" font-family='"Liberation Serif", serif' font-size="20" stroke="#000" stroke-width="0.15">(c)</text>
<text x="75.5" y="339.3" font-family='"Liberation Serif", serif' font-size="17.8">(001)</text>
<text x="173.8" y="402.5" font-family='"Liberation Serif", serif' font-size="17.8">(003)</text>
<g clip-path="url(#clipC)">
<path d="M60.5,352.49 L60.83,356.39 L61.16,356.55 L61.49,358.68 L61.82,360.22 L62.15,361.66 L62.48,364.28 L62.81,364.77 L63.14,366.7 L63.47,366.04 L63.8,368.97 L64.13,370.9 L64.46,372.31 L64.79,374.16 L65.12,376.08 L65.45,376.94 L65.78,377.49 L66.11,379.74 L66.44,379.7 L66.77,382.42 L67.1,383.35 L67.43,382.38 L67.76,384.67 L68.09,387.12 L68.42,387.47 L68.75,386.97 L69.08,385.11 L69.41,389.9 L69.74,390.55 L70.07,388.47 L70.4,393.55 L70.73,392.81 L71.06,390.49 L71.39,391.89 L71.72,393.9 L72.05,392.88 L72.38,403.45 L72.71,393.19 L73.04,399.9 L73.37,402.98 L73.7,397.28 L74.03,396.59 L74.36,400.77 L74.69,403.5 L75.02,400.45 L75.35,401.28 L75.68,397.34 L76.01,399.88 L76.34,402.18 L76.67,399.83 L77,404.59 L77.33,407.65 L77.66,403.02 L77.99,403.52 L78.32,406.69 L78.65,409.21 L78.98,406.12 L79.31,416.66 L79.64,405.54 L79.97,406.71 L80.3,415.15 L80.63,409.19 L80.96,413.5 L81.29,407.69 L81.62,418.88 L81.95,414.67 L82.28,409.02 L82.61,407.79 L82.94,421.02 L83.27,414.29 L83.6,411.32 L83.93,415.06 L84.26,407.13 L84.59,417.79 L84.92,411.74 L85.25,417.46 L85.58,408.11 L85.91,413.46 L86.24,414.93 L86.57,420.88 L86.9,407.24 L87.23,410.53 L87.56,410.33 L87.89,408.55 L88.22,411.09 L88.55,414.65 L88.88,414.75 L89.21,414.09 L89.54,404.53 L89.87,415.45 L90.2,409.81 L90.53,406.79 L90.86,403.15 L91.19,400.47 L91.52,402.03 L91.85,399.88 L92.18,395.46 L92.51,391.93 L92.84,389.83 L93.17,387.61 L93.5,385.15 L93.83,381.44 L94.16,377.63 L94.49,371.26 L94.82,366.49 L95.15,359.77 L95.48,354.72 L95.81,350.41 L96.14,348.89 L96.47,347.81 L96.8,349.95 L97.13,352.41 L97.46,357.74 L97.79,360.3 L98.12,364.35 L98.45,367.71 L98.78,373.04 L99.11,374.74 L99.44,377.68 L99.77,381.9 L100.1,384.35 L100.43,386.81 L100.76,388.56 L101.09,390.4 L101.42,391.25 L101.75,396.09 L102.08,397.28 L102.41,400.41 L102.74,400.57 L103.07,404.29 L103.4,404.85 L103.73,413.79 L104.06,413.29 L104.39,418.32 L104.72,409.16 L105.05,414.51 L105.38,421.59 L105.71,423.83 L106.04,419.37 L106.37,427.12 L106.7,429.3 L107.03,421.48 L107.36,412.63 L107.69,426.74 L108.02,429.11 L108.35,433.57 L108.68,435.11 L109.01,424.04 L109.34,422.66 L109.67,427.62 L110,426.11 L110.33,427.64 L110.66,427.8 L110.99,438.72 L111.32,431.87 L111.65,428.73 L111.98,434.39 L112.31,432.68 L112.64,435.06 L112.97,432.23 L113.3,425.76 L113.63,433.07 L113.96,431.75 L114.29,426.57 L114.62,427.67 L114.95,422.57 L115.28,445.8 L115.61,427.18 L115.94,435 L116.27,431.55 L116.6,427.92 L116.93,426.86 L117.26,427.3 L117.59,432.27 L117.92,424.87 L118.25,435.23 L118.58,434.57 L118.91,429.52 L119.24,437.43 L119.57,423.23 L119.9,428.9 L120.23,423.48 L120.56,434.92 L120.89,437.2 L121.22,434.12 L121.55,431.15 L121.88,438.91 L122.21,433.36 L122.54,435.75 L122.87,427.27 L123.2,439.93 L123.53,430.34 L123.86,440.05 L124.19,442.21 L124.52,440.68 L124.85,443.95 L125.18,435.71 L125.51,431.02 L125.84,435.78 L126.17,433.33 L126.5,428.3 L126.83,435.44 L127.16,435.96 L127.49,438.67 L127.82,446.6 L128.15,433.57 L128.48,446.77 L128.81,434.45 L129.14,437.49 L129.47,432.94 L129.8,437.76 L130.13,440.75 L130.46,436.26 L130.79,439.47 L131.12,438.13 L131.45,437.45 L131.78,437.96 L132.11,438.1 L132.44,439.84 L132.77,438.13 L133.1,443.58 L133.43,438.07 L133.76,440.9 L134.09,434.87 L134.42,434.52 L134.75,443.1 L135.08,437.35 L135.41,438.07 L135.74,440.56 L136.07,436.4 L136.4,438.99 L136.73,442.63 L137.06,438.5 L137.39,438.2 L137.72,437.54 L138.05,441.15 L138.38,436.27 L138.71,435.98 L139.04,440.94 L139.37,439.61 L139.7,438.08 L140.03,439.38 L140.36,433.57 L140.69,437.36 L141.02,440.61 L141.35,440.01 L141.68,438.07 L142.01,432.32 L142.34,438.4 L142.67,437.61 L143,436.63 L143.33,438.05 L143.66,432.38 L143.99,439.36 L144.32,436.07 L144.65,437.55 L144.98,436.38 L145.31,441.14 L145.64,433.6 L145.97,438.3 L146.3,437.9 L146.63,440.49 L146.96,439.93 L147.29,436.55 L147.62,435.5 L147.95,436.08 L148.28,434.96 L148.61,436.18 L148.94,437.92 L149.27,435.88 L149.6,436.48 L149.93,438.26 L150.26,436.15 L150.59,434.77 L150.92,437.39 L151.25,438.93 L151.58,436.17 L151.91,433.31 L152.24,438.54 L152.57,438.23 L152.9,438.34 L153.23,434.91 L153.56,443.03 L153.89,437.04 L154.22,434.98 L154.55,440.14 L154.88,434.26 L155.21,436.6 L155.54,439.41 L155.87,437.43 L156.2,442.13 L156.53,439.44 L156.86,433.43 L157.19,440.33 L157.52,433.38 L157.85,438.14 L158.18,435.41 L158.51,437.81 L158.84,444.16 L159.17,439.43 L159.5,437.42 L159.83,441 L160.16,441.54 L160.49,436.95 L160.82,439.61 L161.15,442.52 L161.48,439.69 L161.81,435.69 L162.14,439.12 L162.47,435.5 L162.8,434.05 L163.13,437.77 L163.46,440.89 L163.79,441.36 L164.12,437.91 L164.45,435.6 L164.78,437.14 L165.11,436.43 L165.44,438.99 L165.77,437.05 L166.1,439.06 L166.43,438.67 L166.76,441.31 L167.09,442.1 L167.42,439.08 L167.75,440.78 L168.08,440.37 L168.41,436.09 L168.74,438.08 L169.07,431.96 L169.4,435.45 L169.73,439.48 L170.06,435.82 L170.39,436.88 L170.72,439.62 L171.05,435.02 L171.38,439.86 L171.71,444.52 L172.04,435.78 L172.37,439.43 L172.7,434.09 L173.03,439.52 L173.36,440.98 L173.69,433.94 L174.02,440.69 L174.35,437.27 L174.68,434.18 L175.01,437.5 L175.34,438.01 L175.67,437.53 L176,435.67 L176.33,439.95 L176.66,436.24 L176.99,436.32 L177.32,432.11 L177.65,438.68 L177.98,440.24 L178.31,435.93 L178.64,438.84 L178.97,437.05 L179.3,437.46 L179.63,434.86 L179.96,439.54 L180.29,438.04 L180.62,444.52 L180.95,440.18 L181.28,433.97 L181.61,439.61 L181.94,439.66 L182.27,441.08 L182.6,436.32 L182.93,437.34 L183.26,441 L183.59,436.1 L183.92,437.13 L184.25,435.88 L184.58,439.5 L184.91,433.49 L185.24,436.75 L185.57,438.1 L185.9,439.16 L186.23,438.43 L186.56,435.61 L186.89,438.48 L187.22,435.05 L187.55,436.27 L187.88,434.37 L188.21,435.66 L188.54,437.88 L188.87,442.96 L189.2,436.91 L189.53,435.66 L189.86,437.22 L190.19,436.25 L190.52,438.69 L190.85,438.37 L191.18,439.39 L191.51,435.18 L191.84,437.1 L192.17,437.65 L192.5,438.02 L192.83,435.85 L193.16,433.57 L193.49,433.48 L193.82,433.53 L194.15,430.53 L194.48,429.43 L194.81,428.74 L195.14,427.81 L195.47,426.02 L195.8,424.78 L196.13,422.61 L196.46,422 L196.79,418.06 L197.12,417.52 L197.45,414.65 L197.78,417.54 L198.11,414.91 L198.44,415.17 L198.77,417.36 L199.1,418.03 L199.43,419.43 L199.76,421.39 L200.09,424.23 L200.42,425.62 L200.75,426.13 L201.08,427.14 L201.41,429.34 L201.74,430.55 L202.07,431.62 L202.4,432.03 L202.73,435.02 L203.06,436.34 L203.39,435.88 L203.72,438.16 L204.05,438.24 L204.38,437.76 L204.71,437.39 L205.04,440.38 L205.37,437.14 L205.7,442.71 L206.03,437.9 L206.36,442.89 L206.69,442.34 L207.02,438.23 L207.35,440.66 L207.68,441.67 L208.01,441 L208.34,439.12 L208.67,440.34 L209,440.37 L209.33,438.14 L209.66,442.03 L209.99,441.54 L210.32,441.7 L210.65,438.12 L210.98,438.54 L211.31,437.97 L211.64,440.8 L211.97,441.11 L212.3,439 L212.63,441.71 L212.96,439.12 L213.29,439.38 L213.62,442.48 L213.95,441.17 L214.28,441.28 L214.61,437.47 L214.94,436.2 L215.27,441.32 L215.6,441.1 L215.93,446.32 L216.26,440.73 L216.59,441.21 L216.92,443.57 L217.25,439.59 L217.58,444.71 L217.91,441.72 L218.24,440.98 L218.57,444.02 L218.9,439.5 L219.23,439.11 L219.56,444.34 L219.89,444.39 L220.22,440.04 L220.55,441.36 L220.88,443.93 L221.21,441.91 L221.54,441.5 L221.87,441.56 L222.2,439.54 L222.53,440.43 L222.86,437.64 L223.19,438.39 L223.52,439.77 L223.85,438.94 L224.18,438.43 L224.51,439.64 L224.84,443.7 L225.17,439.27 L225.5,440.85 L225.83,437.72 L226.16,440.74 L226.49,439.82 L226.82,440.19 L227.15,437.47 L227.48,440.43 L227.81,441.32 L228.14,440.08 L228.47,441.6 L228.8,440.31 L229.13,440.62 L229.46,440.01 L229.79,436.73 L230.12,441.33 L230.45,440.37 L230.78,440.81 L231.11,438.99 L231.44,442.78 L231.77,441.68 L232.1,440.25 L232.43,439.01 L232.76,440.14 L233.09,441.01 L233.42,441.7 L233.75,438.8 L234.08,436.91 L234.41,439.02 L234.74,439.21 L235.07,438.62 L235.4,441.39 L235.73,439.99 L236.06,439.81 L236.39,438.59 L236.72,439.16 L237.05,441.54 L237.38,436.72 L237.71,435.56 L238.04,439.3 L238.37,437.89 L238.7,438.07 L239.03,436.98 L239.36,441.51 L239.69,435.25 L240.02,439.24 L240.35,435.78 L240.68,437.99 L241.01,438.85 L241.34,438.28 L241.67,436.22 L242,439.57 L242.33,438.53 L242.66,438.66 L242.99,441.06 L243.32,435.19 L243.65,436.45 L243.98,437.5 L244.31,435.27 L244.64,439.13 L244.97,437.39 L245.3,434.12 L245.63,435.36 L245.96,441.27 L246.29,441.52 L246.62,438.8 L246.95,434.98 L247.28,437.6 L247.61,437.07 L247.94,435.56 L248.27,438.11 L248.6,436.1 L248.93,435.05 L249.26,435.52 L249.59,435.56 L249.92,437.18 L250.25,435.21 L250.58,436.71 L250.91,433.79 L251.24,432.03 L251.57,436.96 L251.9,439.32 L252.23,436.24 L252.56,434.85 L252.89,433.72 L253.22,433.59 L253.55,436.43 L253.88,436.34 L254.21,433.06 L254.54,436.61 L254.87,433.15 L255.2,435.04 L255.53,433.45 L255.86,433.44 L256.19,433.24 L256.52,433.08 L256.85,435.64 L257.18,433.61 L257.51,433.91 L257.84,433.36 L258.17,431.94 L258.5,433.93 L258.83,434.41 L259.16,434.28 L259.49,433.54 L259.82,431.92 L260.15,433.91 L260.48,431.07 L260.81,432.05 L261.14,432.54 L261.47,433.81 L261.8,431.44 L262.13,430.59 L262.46,433.54 L262.79,429.38 L263.12,428.51 L263.45,429.8 L263.78,429.26 L264.11,426.63 L264.44,427.66 L264.77,429.9 L265.1,428.44 L265.43,428.25 L265.76,427.87 L266.09,430.22 L266.42,426.11 L266.75,427.39 L267.08,426.13 L267.41,426.14 L267.74,424.67 L268.07,425.62 L268.4,425.82 L268.73,423.99 L269.06,422.7 L269.39,424.19 L269.72,422.04 L270.05,422.85 L270.38,423.33 L270.71,420.87 L271.04,422.92 L271.37,420.72 L271.7,421.92 L272.03,420.66 L272.36,422.04 L272.69,421.35 L273.02,419.25 L273.35,419.83 L273.68,419.74 L274.01,419.95 L274.34,418.91 L274.67,420.4 L275,419.92 L275.33,418.84 L275.66,419.26 L275.99,418.95 L276.32,418.19 L276.65,418.07 L276.98,417.97 L277.31,416.13 L277.64,416.52 L277.97,416.15 L278.3,417.08 L278.63,417.33 L278.96,418 L279.29,416.82 L279.62,418.2 L279.95,416.64 L280.28,415.26 L280.61,414.31 L280.94,414.67 L281.27,416.05 L281.6,414.63 L281.93,415.52 L282.26,413.87 L282.59,414.44 L282.92,413.34 L283.25,411.78 L283.58,412.77 L283.91,411.32 L284.24,412.89 L284.57,413.06 L284.9,411.35 L285.23,410.75 L285.56,412.43 L285.89,411.6 L286.22,412.64 L286.55,411.28 L286.88,410.07 L287.21,410.62 L287.54,410.76 L287.87,411.22 L288.2,409.4 L288.53,408.77 L288.86,408.67 L289.19,408.69 L289.52,409.74 L289.85,406.9 L290.18,408.17 L290.51,407.99 L290.84,406.99 L291.17,409.22 L291.5,407.14 L291.83,406.95 L292.16,406.26 L292.49,405.2 L292.82,405.67 L293.15,407.38 L293.48,405.84 L293.81,405.13 L294.14,404.92 L294.47,405.88 L294.8,405.95 L295.13,403.83 L295.46,403.75 L295.79,403.8 L296.12,404.99 L296.45,401.83 L296.78,405.06 L297.11,403.08 L297.44,400.83 L297.77,402.4 L298.1,401.83 L298.43,402.76 L298.76,400.43 L299.09,402.37 L299.42,400.84 L299.75,400.7 L300.08,401.45 L300.41,399.62 L300.74,401.28 L301.07,400.44 L301.4,399.66 L301.73,399.74 L302.06,398.79 L302.39,398.19 L302.72,398.93 L303.05,398.9 L303.38,398.63 L303.71,398.26 L304.04,397.07 L304.37,397.64 L304.7,396.88 L305.03,397.02 L305.36,397.37 L305.69,395.73 L306.02,396.98 L306.35,395.85 L306.68,394.4 L307.01,396.15 L307.34,395.01 L307.67,395.94 L308,394.75 L308.33,395.23 L308.66,393.99 L308.99,393.8 L309.32,392.94 L309.65,391.47 L309.98,392.14 L310.31,391.51 L310.64,391.72 L310.97,391.52 L311.3,391.64 L311.63,392.06 L311.96,390.22 L312.29,388.67 L312.62,389.2 L312.95,389.63 L313.28,387.58 L313.61,388.81 L313.94,388.57 L314.27,388.66 L314.6,388.07 L314.93,387.12 L315.26,385.02 L315.59,386.31 L315.92,386.55 L316.25,385.83 L316.58,385.15 L316.91,385.92 L317.24,384.11 L317.57,383.3 L317.9,383.22 L318.23,382.65 L318.56,383.74 L318.89,383.71 L319.22,381.08 L319.55,380.87 L319.88,382.52 L320.21,380.83 L320.54,380.62 L320.87,379.89 L321.2,379.81 L321.53,380.03 L321.86,379.2 L322.19,378.95 L322.52,378.84 L322.85,379.97 L323.18,380.17 L323.51,378.72 L323.84,379.15 L324.17,377.54 L324.5,377 L324.83,377.15 L325.16,377.44 L325.49,376.94 L325.82,375.97 L326.15,377.19 L326.48,375.82 L326.81,375.82 L327.14,375.99 L327.47,374.98 L327.8,376.4 L328.13,375.05 L328.46,376.26 L328.79,376 L329.12,376.07 L329.45,374.82 L329.78,375.68 L330.11,374.81 L330.44,375.53 L330.77,373.79 L331.1,373.1 L331.43,374.09 L331.76,372.94 L332.09,373.56 L332.42,372.3 L332.75,373.62 L333.08,374.69 L333.41,372.38 L333.74,373.39 L334.07,373.92 L334.4,373.52 L334.73,374.09 L335.06,372.92 L335.39,373.43 L335.72,371.5 L336.05,371.94 L336.38,373.46 L336.71,373.21 L337.04,372.39 L337.37,373.21 L337.7,371.77 L338.03,371.56 L338.36,371.91 L338.69,371.58 L339.02,370.67 L339.35,369.85 L339.68,369.6 L340.01,370.38 L340.34,369.57 L340.67,370.4 L341,369.32 L341.33,369.97 L341.66,368.5 L341.99,369.53 L342.32,369.01 L342.65,368.01 L342.98,367.28 L343.31,368.3 L343.64,367.33 L343.97,366.52 L344.3,366.11 L344.63,366.49 L344.96,365.52 L345.29,365.44 L345.62,364 L345.95,364.26 L346.28,365.24 L346.61,365.57 L346.94,363.74 L347.27,362.79 L347.6,363.24 L347.93,362.58 L348.26,363.31 L348.59,363.73 L348.92,362.15 L349.25,362.42 L349.58,361.89 L349.91,363.12 L350.24,361.94 L350.57,362.34 L350.9,361.27 L351.23,362.05 L351.56,361.94 L351.89,361.8 L352.22,360.48 L352.55,361.15 L352.88,361.54 L353.21,361.58 L353.54,361.47 L353.87,359.72 L354.2,361.7 L354.53,360.92 L354.86,359.81 L355.19,359.31 L355.52,360 L355.85,359.23 L356.18,359.06 L356.51,358.72 L356.84,359.12 L357.17,357.89 L357.5,358.58 L357.83,357.52 L358.16,358.95 L358.49,357.41 L358.82,358.56 L359.15,358.47 L359.48,356.96 L359.81,357.55 L360.14,356.51 L360.47,357.22 L360.8,355.31 L361.13,356.06 L361.46,356.55 L361.79,355.5 L362.12,354.85 L362.45,355.66 L362.78,354.65 L363.11,353.51 L363.44,354.01 L363.77,354.34 L364.1,354.48 L364.43,353.57 L364.76,354.65 L365.09,355.03 L365.42,353.71 L365.75,353.76 L366.08,351.85 L366.41,352.62 L366.74,353.1 L367.07,353.01 L367.4,351.81 L367.73,352.42 L368.06,352.07 L368.39,351.58" fill="none" stroke="#ff1a1a" stroke-width="1.6" stroke-linejoin="round"/>
<path d="M60.5,409.15 L60.83,410.19 L61.16,409.97 L61.49,410.11 L61.82,410.25 L62.15,411.79 L62.48,413.08 L62.81,414.04 L63.14,413.61 L63.47,413.74 L63.8,415.65 L64.13,417.73 L64.46,418.38 L64.79,417.24 L65.12,419.26 L65.45,421.75 L65.78,421.36 L66.11,423.18 L66.44,423.72 L66.77,424.64 L67.1,425.9 L67.43,426.02 L67.76,427.68 L68.09,429.3 L68.42,429.72 L68.75,430.61 L69.08,433.84 L69.41,433.94 L69.74,435.74 L70.07,436.28 L70.4,438.4 L70.73,438.44 L71.06,439.66 L71.39,441.11 L71.72,443.05 L72.05,443.61 L72.38,445.54 L72.71,447.03 L73.04,446.45 L73.37,449.08 L73.7,447.52 L74.03,449.03 L74.36,453.38 L74.69,451.4 L75.02,454.08 L75.35,453.45 L75.68,454.29 L76.01,458.07 L76.34,456.34 L76.67,457.17 L77,456.12 L77.33,460.08 L77.66,457.74 L77.99,461.26 L78.32,460.57 L78.65,462.04 L78.98,458.01 L79.31,460.02 L79.64,456.42 L79.97,460.47 L80.3,460.25 L80.63,460.51 L80.96,464.86 L81.29,463.63 L81.62,459.69 L81.95,465.36 L82.28,463.69 L82.61,464.64 L82.94,462.83 L83.27,466.21 L83.6,465.67 L83.93,464.51 L84.26,465.06 L84.59,468.42 L84.92,462.64 L85.25,469.99 L85.58,469.61 L85.91,469.84 L86.24,462.24 L86.57,466.43 L86.9,468.44 L87.23,468.91 L87.56,463.5 L87.89,468.36 L88.22,469.01 L88.55,462.48 L88.88,468.47 L89.21,465.29 L89.54,464.12 L89.87,465.5 L90.2,464.1 L90.53,459.64 L90.86,465.55 L91.19,468.16 L91.52,470.31 L91.85,464.5 L92.18,465.03 L92.51,463.02 L92.84,465.5 L93.17,465.61 L93.5,466.51 L93.83,465.9 L94.16,463.71 L94.49,465.61 L94.82,464.11 L95.15,458.69 L95.48,463.27 L95.81,470.74 L96.14,460.31 L96.47,465.12 L96.8,470.08 L97.13,464.59 L97.46,468.06 L97.79,470.9 L98.12,471.77 L98.45,473.94 L98.78,471.35 L99.11,469.05 L99.44,474.8 L99.77,473.04 L100.1,468.45 L100.43,482.59 L100.76,476.57 L101.09,480.29 L101.42,485.59 L101.75,486.48 L102.08,481.17 L102.41,479.36 L102.74,485.71 L103.07,482.9 L103.4,479.89 L103.73,482.87 L104.06,480.43 L104.39,483.25 L104.72,483.72 L105.05,477.55 L105.38,484.19 L105.71,487.49 L106.04,484.85 L106.37,495.01 L106.7,491.87 L107.03,485.99 L107.36,487.35 L107.69,483.15 L108.02,491.75 L108.35,501.65 L108.68,482.62 L109.01,487.2 L109.34,500.16 L109.67,486.62 L110,494.18 L110.33,506.74 L110.66,497.65 L110.99,498.58 L111.32,487.49 L111.65,501.09 L111.98,498.08 L112.31,498.56 L112.64,499.51 L112.97,503.21 L113.3,496.62 L113.63,492.33 L113.96,494.98 L114.29,504.47 L114.62,506.24 L114.95,498.61 L115.28,503.85 L115.61,503.63 L115.94,511.04 L116.27,490.22 L116.6,495.53 L116.93,506.83 L117.26,496.04 L117.59,494.06 L117.92,518.01 L118.25,504.97 L118.58,504.19 L118.91,498.47 L119.24,502.98 L119.57,503.82 L119.9,502.98 L120.23,493.17 L120.56,491.93 L120.89,506.31 L121.22,509.05 L121.55,491.37 L121.88,509.75 L122.21,507.3 L122.54,503.8 L122.87,501.45 L123.2,498.73 L123.53,502.28 L123.86,510.02 L124.19,501.96 L124.52,503.53 L124.85,495.35 L125.18,505.34 L125.51,513.48 L125.84,511.52 L126.17,498.69 L126.5,508.59 L126.83,517.5 L127.16,508.84 L127.49,506.14 L127.82,501.35 L128.15,510.8 L128.48,503.85 L128.81,503.58 L129.14,509.26 L129.47,507.35 L129.8,501.22 L130.13,501.69 L130.46,504.39 L130.79,506.01 L131.12,504.08 L131.45,507.41 L131.78,507.33 L132.11,509.1 L132.44,507.2 L132.77,507.44 L133.1,502.32 L133.43,507.79 L133.76,504.7 L134.09,504.64 L134.42,507.91 L134.75,505.04 L135.08,512.63 L135.41,507.42 L135.74,505.82 L136.07,513.29 L136.4,510.36 L136.73,505.52 L137.06,508.38 L137.39,510.33 L137.72,508.71 L138.05,509.13 L138.38,506.4 L138.71,507.01 L139.04,508.64 L139.37,509.53 L139.7,508.21 L140.03,505.31 L140.36,507.39 L140.69,506.81 L141.02,508.54 L141.35,511.15 L141.68,509.85 L142.01,506.9 L142.34,508.1 L142.67,510.37 L143,512.05 L143.33,508.17 L143.66,509.18 L143.99,509.24 L144.32,509.22 L144.65,507.91 L144.98,507.91 L145.31,506.53 L145.64,506.63 L145.97,505.83 L146.3,506.94 L146.63,509.43 L146.96,508.84 L147.29,507.69 L147.62,509.46 L147.95,507.63 L148.28,506.4 L148.61,510.64 L148.94,512.91 L149.27,506.41 L149.6,508.92 L149.93,507.48 L150.26,512.01 L150.59,505.45 L150.92,507.52 L151.25,509.4 L151.58,509.92 L151.91,508.94 L152.24,509.58 L152.57,509.86 L152.9,511.77 L153.23,506.67 L153.56,509.44 L153.89,509.22 L154.22,509.22 L154.55,514.85 L154.88,508.36 L155.21,510.23 L155.54,510.17 L155.87,509.43 L156.2,511.75 L156.53,507.86 L156.86,511.2 L157.19,511.69 L157.52,511.63 L157.85,509.43 L158.18,508.22 L158.51,511.13 L158.84,513.23 L159.17,507.66 L159.5,512.27 L159.83,507.46 L160.16,510.1 L160.49,511.54 L160.82,511.44 L161.15,509.09 L161.48,508.23 L161.81,510.56 L162.14,508.18 L162.47,505.93 L162.8,510.67 L163.13,512.78 L163.46,512.59 L163.79,513.39 L164.12,511.72 L164.45,511.94 L164.78,513.32 L165.11,509.3 L165.44,515.89 L165.77,513.39 L166.1,506.39 L166.43,508.36 L166.76,509.45 L167.09,509.61 L167.42,506.98 L167.75,509.5 L168.08,510.49 L168.41,513.38 L168.74,510.86 L169.07,512.32 L169.4,512.29 L169.73,512.33 L170.06,510.9 L170.39,511.54 L170.72,509.03 L171.05,513.79 L171.38,511.26 L171.71,507.13 L172.04,510.86 L172.37,508.48 L172.7,508.63 L173.03,508.29 L173.36,509.48 L173.69,514.08 L174.02,511.64 L174.35,511.9 L174.68,514.52 L175.01,512.12 L175.34,513.88 L175.67,514.84 L176,510.74 L176.33,511.29 L176.66,512.7 L176.99,513.3 L177.32,512.42 L177.65,512.12 L177.98,512.17 L178.31,511.42 L178.64,512.26 L178.97,510.54 L179.3,510.28 L179.63,510.64 L179.96,512.83 L180.29,512.74 L180.62,510.53 L180.95,511.88 L181.28,511.57 L181.61,516.86 L181.94,516.88 L182.27,510.83 L182.6,510.86 L182.93,508.72 L183.26,510.09 L183.59,511.14 L183.92,511.59 L184.25,514.75 L184.58,509.84 L184.91,512.97 L185.24,510.65 L185.57,511.3 L185.9,511.17 L186.23,509.92 L186.56,512.82 L186.89,512.62 L187.22,513.65 L187.55,512.64 L187.88,508.49 L188.21,512.65 L188.54,509.48 L188.87,510.23 L189.2,510.44 L189.53,510.32 L189.86,514.16 L190.19,511.24 L190.52,508.83 L190.85,513.54 L191.18,512.19 L191.51,513.59 L191.84,511.5 L192.17,514.5 L192.5,508.98 L192.83,513.05 L193.16,515.63 L193.49,508.74 L193.82,510.38 L194.15,511.33 L194.48,511.34 L194.81,513.22 L195.14,512.97 L195.47,511.05 L195.8,510.7 L196.13,510.7 L196.46,512.19 L196.79,513.64 L197.12,513.08 L197.45,510.45 L197.78,509.83 L198.11,513.46 L198.44,513.76 L198.77,510.26 L199.1,511.31 L199.43,511.37 L199.76,515.61 L200.09,513.58 L200.42,513.88 L200.75,512.37 L201.08,516.43 L201.41,510.24 L201.74,512.18 L202.07,511.91 L202.4,515.32 L202.73,512.85 L203.06,510.12 L203.39,516.17 L203.72,512.17 L204.05,511.38 L204.38,514.25 L204.71,511.15 L205.04,513.49 L205.37,510.33 L205.7,511.72 L206.03,512.34 L206.36,508.84 L206.69,511.12 L207.02,510.18 L207.35,515.32 L207.68,514.15 L208.01,511.11 L208.34,510.97 L208.67,512.91 L209,511.22 L209.33,515.03 L209.66,512.36 L209.99,515.22 L210.32,512.11 L210.65,513.81 L210.98,514.14 L211.31,512.68 L211.64,509.22 L211.97,514.93 L212.3,514.05 L212.63,510.66 L212.96,513.68 L213.29,509.31 L213.62,512.35 L213.95,512.61 L214.28,512.08 L214.61,509.37 L214.94,511.48 L215.27,511.76 L215.6,512.29 L215.93,516.11 L216.26,514.65 L216.59,509.87 L216.92,511.15 L217.25,511.78 L217.58,511.52 L217.91,513.92 L218.24,512.12 L218.57,514.68 L218.9,512.01 L219.23,514.28 L219.56,513.24 L219.89,511.89 L220.22,513.47 L220.55,511.5 L220.88,511.87 L221.21,512.05 L221.54,510.15 L221.87,515.85 L222.2,516.1 L222.53,511.48 L222.86,510.82 L223.19,508.75 L223.52,511.13 L223.85,510.95 L224.18,514.4 L224.51,511.04 L224.84,511.16 L225.17,514.66 L225.5,514.28 L225.83,512.61 L226.16,511.76 L226.49,517.44 L226.82,512.11 L227.15,511.74 L227.48,512.52 L227.81,511.58 L228.14,511.15 L228.47,514.1 L228.8,511.13 L229.13,512.42 L229.46,513.81 L229.79,511.38 L230.12,508.85 L230.45,514.75 L230.78,515.11 L231.11,515.06 L231.44,507.72 L231.77,512 L232.1,511.55 L232.43,513 L232.76,513.27 L233.09,515.56 L233.42,510.89 L233.75,510.66 L234.08,515.29 L234.41,513.23 L234.74,512.56 L235.07,511.04 L235.4,510.46 L235.73,508.69 L236.06,508.19 L236.39,508.71 L236.72,508.14 L237.05,513.11 L237.38,511.78 L237.71,508.37 L238.04,509.98 L238.37,510.47 L238.7,514.6 L239.03,514.28 L239.36,508.91 L239.69,509.62 L240.02,510.84 L240.35,511.02 L240.68,513.68 L241.01,509.35 L241.34,508.04 L241.67,506.88 L242,509.82 L242.33,510.26 L242.66,511.96 L242.99,507.48 L243.32,506.57 L243.65,510.81 L243.98,509.04 L244.31,509.36 L244.64,510.55 L244.97,514.07 L245.3,510.04 L245.63,508.21 L245.96,511.95 L246.29,510.74 L246.62,513.66 L246.95,506.86 L247.28,508.16 L247.61,508.9 L247.94,509.4 L248.27,510 L248.6,508.96 L248.93,509.3 L249.26,509.14 L249.59,508.72 L249.92,508.4 L250.25,506.04 L250.58,511 L250.91,508.03 L251.24,509.46 L251.57,510.28 L251.9,512.36 L252.23,507.32 L252.56,509.87 L252.89,509.43 L253.22,507.44 L253.55,509.88 L253.88,508.06 L254.21,508.17 L254.54,506.8 L254.87,506.45 L255.2,509.27 L255.53,506.53 L255.86,507.99 L256.19,507.62 L256.52,508.07 L256.85,506.58 L257.18,509.47 L257.51,507.24 L257.84,505.9 L258.17,507.91 L258.5,504.66 L258.83,508.44 L259.16,507.03 L259.49,507.94 L259.82,508.06 L260.15,508.69 L260.48,507.8 L260.81,507.06 L261.14,507.99 L261.47,505.65 L261.8,504.74 L262.13,508.62 L262.46,505.39 L262.79,506.08 L263.12,505.88 L263.45,503.09 L263.78,504.4 L264.11,505.31 L264.44,505.34 L264.77,508.12 L265.1,504.3 L265.43,505.96 L265.76,504.67 L266.09,504.59 L266.42,503.43 L266.75,502.07 L267.08,503.08 L267.41,502.61 L267.74,504.14 L268.07,503.21 L268.4,502.72 L268.73,505.02 L269.06,501.11 L269.39,503.91 L269.72,504.39 L270.05,501.18 L270.38,500.58 L270.71,503.34 L271.04,503.11 L271.37,499.98 L271.7,502.11 L272.03,504.11 L272.36,502.58 L272.69,499.94 L273.02,501.09 L273.35,500.88 L273.68,500.33 L274.01,500.71 L274.34,501.52 L274.67,502.56 L275,500.55 L275.33,501.84 L275.66,500.74 L275.99,499 L276.32,499.94 L276.65,500.23 L276.98,500.08 L277.31,499.35 L277.64,499.03 L277.97,500.89 L278.3,499.39 L278.63,497.9 L278.96,498.58 L279.29,499.77 L279.62,499.54 L279.95,500.64 L280.28,499.32 L280.61,497.05 L280.94,498.35 L281.27,498.89 L281.6,498.47 L281.93,497.89 L282.26,497.72 L282.59,497.78 L282.92,497.98 L283.25,496.57 L283.58,495.63 L283.91,497.3 L284.24,497.11 L284.57,495.44 L284.9,497.6 L285.23,496.65 L285.56,496.3 L285.89,495.66 L286.22,495.88 L286.55,496.26 L286.88,495.05 L287.21,496.2 L287.54,496.53 L287.87,496.62 L288.2,494.03 L288.53,496.03 L288.86,493.96 L289.19,493.61 L289.52,493.33 L289.85,494.01 L290.18,494.16 L290.51,493.45 L290.84,493.87 L291.17,494.31 L291.5,491.96 L291.83,493.62 L292.16,491.17 L292.49,492.07 L292.82,492.72 L293.15,491.78 L293.48,490.94 L293.81,492.98 L294.14,492.4 L294.47,492.32 L294.8,491.1 L295.13,490.7 L295.46,490.82 L295.79,491.27 L296.12,490.9 L296.45,489.26 L296.78,489.12 L297.11,489.74 L297.44,490.76 L297.77,488.92 L298.1,488.99 L298.43,488.82 L298.76,487.4 L299.09,487.94 L299.42,489.24 L299.75,489.02 L300.08,486.87 L300.41,487.63 L300.74,486.87 L301.07,487.49 L301.4,488 L301.73,486.75 L302.06,485.5 L302.39,486.3 L302.72,487.34 L303.05,486.46 L303.38,486.43 L303.71,485.69 L304.04,484.82 L304.37,483.88 L304.7,485.1 L305.03,485.46 L305.36,484.87 L305.69,484.74 L306.02,484.93 L306.35,484.38 L306.68,484.22 L307.01,485.01 L307.34,483.42 L307.67,483.98 L308,484.31 L308.33,482.93 L308.66,483.54 L308.99,481.57 L309.32,482.38 L309.65,482.51 L309.98,482.99 L310.31,482.51 L310.64,481.31 L310.97,482.33 L311.3,480.96 L311.63,483.07 L311.96,480.97 L312.29,480.26 L312.62,480.42 L312.95,480.46 L313.28,479.43 L313.61,480.68 L313.94,480.55 L314.27,479.45 L314.6,478.35 L314.93,478.72 L315.26,478.98 L315.59,478.36 L315.92,478.02 L316.25,479.13 L316.58,479.9 L316.91,478.5 L317.24,478.66 L317.57,477.71 L317.9,477.99 L318.23,477.51 L318.56,476.29 L318.89,476.35 L319.22,476.25 L319.55,474.76 L319.88,476.2 L320.21,475.95 L320.54,474.49 L320.87,476.15 L321.2,476.37 L321.53,473.91 L321.86,474.47 L322.19,474.09 L322.52,473.88 L322.85,473.5 L323.18,474.38 L323.51,473.9 L323.84,474.53 L324.17,473.38 L324.5,473.14 L324.83,473.49 L325.16,472.46 L325.49,471.08 L325.82,473.51 L326.15,471.83 L326.48,471.57 L326.81,471.3 L327.14,472.55 L327.47,470.86 L327.8,471.09 L328.13,471.51 L328.46,471.5 L328.79,470.88 L329.12,470.19 L329.45,470.05 L329.78,468.87 L330.11,470.63 L330.44,469.73 L330.77,470.34 L331.1,469.27 L331.43,469.58 L331.76,469.96 L332.09,470.35 L332.42,469.76 L332.75,468.84 L333.08,467.78 L333.41,468.13 L333.74,469.44 L334.07,468.76 L334.4,468.22 L334.73,468.2 L335.06,467.92 L335.39,467.26 L335.72,467.55 L336.05,468.08 L336.38,468.88 L336.71,467.56 L337.04,468.43 L337.37,467.18 L337.7,466.71 L338.03,467.8 L338.36,466.8 L338.69,466.83 L339.02,465.1 L339.35,466.02 L339.68,467.62 L340.01,465.79 L340.34,465.69 L340.67,466.02 L341,466.03 L341.33,465.21 L341.66,465.05 L341.99,465.09 L342.32,466.01 L342.65,465.35 L342.98,466.18 L343.31,466.01 L343.64,465.2 L343.97,465.44 L344.3,464.85 L344.63,462.7 L344.96,463.96 L345.29,464.83 L345.62,465.64 L345.95,464.55 L346.28,464.86 L346.61,465.3 L346.94,463.08 L347.27,463.81 L347.6,463.04 L347.93,461.48 L348.26,462.91 L348.59,462.9 L348.92,462.61 L349.25,462.92 L349.58,463.2 L349.91,462.64 L350.24,461.58 L350.57,462.43 L350.9,463.09 L351.23,462.88 L351.56,462.6 L351.89,461.74 L352.22,461.29 L352.55,461.17 L352.88,460.56 L353.21,461.39 L353.54,460.55 L353.87,460.77 L354.2,460.39 L354.53,462.03 L354.86,459.77 L355.19,461.57 L355.52,461.15 L355.85,459.72 L356.18,460.39 L356.51,458.81 L356.84,459.76 L357.17,460.45 L357.5,459.52 L357.83,459.77 L358.16,458.33 L358.49,458.15 L358.82,458.62 L359.15,459.26 L359.48,458.8 L359.81,458.02 L360.14,459.13 L360.47,459 L360.8,457.76 L361.13,457.7 L361.46,458.21 L361.79,458.1 L362.12,459.11 L362.45,456.87 L362.78,457.59 L363.11,458.33 L363.44,457.99 L363.77,457.69 L364.1,455.84 L364.43,456.35 L364.76,457.56 L365.09,455.32 L365.42,455.5 L365.75,456.93 L366.08,457.69 L366.41,455.31 L366.74,456.19 L367.07,455.74 L367.4,455.84 L367.73,454.54 L368.06,454.25 L368.39,454.53" fill="none" stroke="#00cc22" stroke-width="1.6" stroke-linejoin="round"/>
</g>
<rect x="222.9" y="313.6" width="115.9" height="43.1" fill="#fff" stroke="#000" stroke-width="1.3"/>
<path d="M223.9,357.5 H339.6 V314.6" fill="none" stroke="#000" stroke-width="1.3"/>
<path d="M227.4,325.3 H254.2" stroke="#ff2a2a" stroke-width="1.7"/>
<path d="M227.4,343.9 H254.2" stroke="#00cc33" stroke-width="1.9"/>
<text x="260.5" y="329.8" font-family='"Liberation Serif", serif' font-size="14.25">A<tspan font-size="10.2" dy="3.2">101</tspan><tspan dy="-3.2">M</tspan><tspan font-size="10.2" dy="3.2">107</tspan><tspan dy="-3.2">D</tspan><tspan font-size="10.2" dy="3.2">21</tspan><tspan dy="-3.2"></tspan></text>
<text x="260.5" y="348.4" font-family='"Liberation Serif", serif' font-size="14.25">A<tspan font-size="10.2" dy="3.2">100</tspan><tspan dy="-3.2">M</tspan><tspan font-size="10.2" dy="3.2">101</tspan><tspan dy="-3.2">D</tspan><tspan font-size="10.2" dy="3.2">10</tspan><tspan dy="-3.2"></tspan></text>
<text x="387.5" y="308" font-family='"Liberation Serif", serif' font-size="20.5">(d)</text>
<defs><clipPath id="clipD0"><rect x="440.2" y="296.3" width="114.6" height="114.9"/></clipPath></defs>
<rect x="440.2" y="296.3" width="114.6" height="114.9" fill="#fff"/>
<g clip-path="url(#clipD0)"><path d="M438.2,314.3Q440.36,315.63 440.44,313.09Q440.52,310.55 442.68,311.88Q444.85,313.22 444.92,310.68Q445,308.13 447.17,309.47Q449.33,310.8 449.41,308.26Q449.49,305.72 451.65,307.05Q453.81,308.38 453.89,305.84Q453.97,303.3 456.13,304.63Q458.3,305.97 458.38,303.43Q458.45,300.88 460.62,302.22Q462.78,303.55 462.86,301.01Q462.94,298.47 465.1,299.8M472.1,305.8Q472.03,308.35 474.3,307.18Q476.57,306 476.5,308.55Q476.43,311.1 478.7,309.93Q480.97,308.75 480.9,311.3Q480.83,313.85 483.1,312.68Q485.37,311.5 485.3,314.05Q485.23,316.6 487.5,315.43Q489.77,314.25 489.7,316.8Q489.63,319.35 491.9,318.18Q494.17,317 494.1,319.55Q494.03,322.1 496.3,320.93Q498.57,319.75 498.5,322.3M438.2,325.6Q440.36,326.93 440.44,324.39Q440.52,321.85 442.68,323.18Q444.85,324.52 444.92,321.98Q445,319.43 447.17,320.77Q449.33,322.1 449.41,319.56Q449.49,317.02 451.65,318.35Q453.81,319.68 453.89,317.14Q453.97,314.6 456.13,315.93Q458.3,317.27 458.38,314.73Q458.45,312.18 460.62,313.52Q462.78,314.85 462.86,312.31Q462.94,309.77 465.1,311.1M472.1,317.1Q472.03,319.65 474.3,318.48Q476.57,317.3 476.5,319.85Q476.43,322.4 478.7,321.23Q480.97,320.05 480.9,322.6Q480.83,325.15 483.1,323.98Q485.37,322.8 485.3,325.35Q485.23,327.9 487.5,326.73Q489.77,325.55 489.7,328.1Q489.63,330.65 491.9,329.48Q494.17,328.3 494.1,330.85Q494.03,333.4 496.3,332.23Q498.57,331.05 498.5,333.6M438.2,336.9Q440.36,338.23 440.44,335.69Q440.52,333.15 442.68,334.48Q444.85,335.82 444.92,333.28Q445,330.73 447.17,332.07Q449.33,333.4 449.41,330.86Q449.49,328.32 451.65,329.65Q453.81,330.98 453.89,328.44Q453.97,325.9 456.13,327.23Q458.3,328.57 458.38,326.03Q458.45,323.48 460.62,324.82Q462.78,326.15 462.86,323.61Q462.94,321.07 465.1,322.4M472.1,328.4Q472.03,330.95 474.3,329.78Q476.57,328.6 476.5,331.15Q476.43,333.7 478.7,332.53Q480.97,331.35 480.9,333.9Q480.83,336.45 483.1,335.28Q485.37,334.1 485.3,336.65Q485.23,339.2 487.5,338.03Q489.77,336.85 489.7,339.4Q489.63,341.95 491.9,340.78Q494.17,339.6 494.1,342.15Q494.03,344.7 496.3,343.53Q498.57,342.35 498.5,344.9M438.2,348.2Q440.36,349.53 440.44,346.99Q440.52,344.45 442.68,345.78Q444.85,347.12 444.92,344.58Q445,342.03 447.17,343.37Q449.33,344.7 449.41,342.16Q449.49,339.62 451.65,340.95Q453.81,342.28 453.89,339.74Q453.97,337.2 456.13,338.53Q458.3,339.87 458.38,337.33Q458.45,334.78 460.62,336.12Q462.78,337.45 462.86,334.91Q462.94,332.37 465.1,333.7M472.1,339.7Q472.03,342.25 474.3,341.08Q476.57,339.9 476.5,342.45Q476.43,345 478.7,343.83Q480.97,342.65 480.9,345.2Q480.83,347.75 483.1,346.58Q485.37,345.4 485.3,347.95Q485.23,350.5 487.5,349.33Q489.77,348.15 489.7,350.7Q489.63,353.25 491.9,352.08Q494.17,350.9 494.1,353.45Q494.03,356 496.3,354.83Q498.57,353.65 498.5,356.2M438.2,359.5Q440.36,360.83 440.44,358.29Q440.52,355.75 442.68,357.08Q444.85,358.42 444.92,355.88Q445,353.33 447.17,354.67Q449.33,356 449.41,353.46Q449.49,350.92 451.65,352.25Q453.81,353.58 453.89,351.04Q453.97,348.5 456.13,349.83Q458.3,351.17 458.38,348.62Q458.45,346.08 460.62,347.42Q462.78,348.75 462.86,346.21Q462.94,343.67 465.1,345M472.1,351Q472.03,353.55 474.3,352.38Q476.57,351.2 476.5,353.75Q476.43,356.3 478.7,355.12Q480.97,353.95 480.9,356.5Q480.83,359.05 483.1,357.88Q485.37,356.7 485.3,359.25Q485.23,361.8 487.5,360.62Q489.77,359.45 489.7,362Q489.63,364.55 491.9,363.38Q494.17,362.2 494.1,364.75Q494.03,367.3 496.3,366.12Q498.57,364.95 498.5,367.5M438.2,370.8Q440.36,372.13 440.44,369.59Q440.52,367.05 442.68,368.38Q444.85,369.72 444.92,367.18Q445,364.63 447.17,365.97Q449.33,367.3 449.41,364.76Q449.49,362.22 451.65,363.55Q453.81,364.88 453.89,362.34Q453.97,359.8 456.13,361.13Q458.3,362.47 458.38,359.93Q458.45,357.38 460.62,358.72Q462.78,360.05 462.86,357.51Q462.94,354.97 465.1,356.3M472.1,362.3Q472.03,364.85 474.3,363.68Q476.57,362.5 476.5,365.05Q476.43,367.6 478.7,366.43Q480.97,365.25 480.9,367.8Q480.83,370.35 483.1,369.18Q485.37,368 485.3,370.55Q485.23,373.1 487.5,371.93Q489.77,370.75 489.7,373.3Q489.63,375.85 491.9,374.68Q494.17,373.5 494.1,376.05Q494.03,378.6 496.3,377.43Q498.57,376.25 498.5,378.8M438.2,382.1Q440.36,383.43 440.44,380.89Q440.52,378.35 442.68,379.68Q444.85,381.02 444.92,378.48Q445,375.93 447.17,377.27Q449.33,378.6 449.41,376.06Q449.49,373.52 451.65,374.85Q453.81,376.18 453.89,373.64Q453.97,371.1 456.13,372.43Q458.3,373.77 458.38,371.23Q458.45,368.68 460.62,370.02Q462.78,371.35 462.86,368.81Q462.94,366.27 465.1,367.6M472.1,373.6Q472.03,376.15 474.3,374.98Q476.57,373.8 476.5,376.35Q476.43,378.9 478.7,377.73Q480.97,376.55 480.9,379.1Q480.83,381.65 483.1,380.48Q485.37,379.3 485.3,381.85Q485.23,384.4 487.5,383.23Q489.77,382.05 489.7,384.6Q489.63,387.15 491.9,385.98Q494.17,384.8 494.1,387.35Q494.03,389.9 496.3,388.73Q498.57,387.55 498.5,390.1M438.2,393.4Q440.36,394.73 440.44,392.19Q440.52,389.65 442.68,390.98Q444.85,392.32 444.92,389.78Q445,387.23 447.17,388.57Q449.33,389.9 449.41,387.36Q449.49,384.82 451.65,386.15Q453.81,387.48 453.89,384.94Q453.97,382.4 456.13,383.73Q458.3,385.07 458.38,382.53Q458.45,379.98 460.62,381.32Q462.78,382.65 462.86,380.11Q462.94,377.57 465.1,378.9M472.1,384.9Q472.03,387.45 474.3,386.28Q476.57,385.1 476.5,387.65Q476.43,390.2 478.7,389.03Q480.97,387.85 480.9,390.4Q480.83,392.95 483.1,391.78Q485.37,390.6 485.3,393.15Q485.23,395.7 487.5,394.53Q489.77,393.35 489.7,395.9Q489.63,398.45 491.9,397.28Q494.17,396.1 494.1,398.65Q494.03,401.2 496.3,400.03Q498.57,398.85 498.5,401.4M438.2,404.7Q440.36,406.03 440.44,403.49Q440.52,400.95 442.68,402.28Q444.85,403.62 444.92,401.08Q445,398.53 447.17,399.87Q449.33,401.2 449.41,398.66Q449.49,396.12 451.65,397.45Q453.81,398.78 453.89,396.24Q453.97,393.7 456.13,395.03Q458.3,396.37 458.38,393.83Q458.45,391.28 460.62,392.62Q462.78,393.95 462.86,391.41Q462.94,388.87 465.1,390.2M472.1,396.2Q472.03,398.75 474.3,397.58Q476.57,396.4 476.5,398.95Q476.43,401.5 478.7,400.33Q480.97,399.15 480.9,401.7Q480.83,404.25 483.1,403.08Q485.37,401.9 485.3,404.45Q485.23,407 487.5,405.83Q489.77,404.65 489.7,407.2Q489.63,409.75 491.9,408.58Q494.17,407.4 494.1,409.95Q494.03,412.5 496.3,411.33Q498.57,410.15 498.5,412.7M496.5,302.3Q496.52,304.83 498.68,303.51Q500.83,302.19 500.85,304.72Q500.87,307.24 503.02,305.93Q505.18,304.61 505.2,307.13Q505.22,309.66 507.38,308.34Q509.53,307.02 509.55,309.55Q509.57,312.08 511.73,310.76Q513.88,309.44 513.9,311.97Q513.92,314.49 516.08,313.18Q518.23,311.86 518.25,314.38Q518.27,316.91 520.43,315.59Q522.58,314.27 522.6,316.8M529.6,310.8Q531.73,312.19 531.87,309.65Q532,307.11 534.13,308.5Q536.26,309.89 536.4,307.35Q536.54,304.81 538.67,306.2Q540.8,307.59 540.93,305.05Q541.07,302.51 543.2,303.9Q545.33,305.29 545.47,302.75Q545.6,300.21 547.73,301.6Q549.86,302.99 550,300.45Q550.14,297.91 552.27,299.3Q554.4,300.69 554.53,298.15Q554.67,295.61 556.8,297M496.5,313.6Q496.52,316.13 498.68,314.81Q500.83,313.49 500.85,316.02Q500.87,318.54 503.02,317.23Q505.18,315.91 505.2,318.43Q505.22,320.96 507.38,319.64Q509.53,318.32 509.55,320.85Q509.57,323.38 511.73,322.06Q513.88,320.74 513.9,323.27Q513.92,325.79 516.08,324.48Q518.23,323.16 518.25,325.68Q518.27,328.21 520.43,326.89Q522.58,325.57 522.6,328.1M529.6,322.1Q531.73,323.49 531.87,320.95Q532,318.41 534.13,319.8Q536.26,321.19 536.4,318.65Q536.54,316.11 538.67,317.5Q540.8,318.89 540.93,316.35Q541.07,313.81 543.2,315.2Q545.33,316.59 545.47,314.05Q545.6,311.51 547.73,312.9Q549.86,314.29 550,311.75Q550.14,309.21 552.27,310.6Q554.4,311.99 554.53,309.45Q554.67,306.91 556.8,308.3M496.5,324.9Q496.52,327.43 498.68,326.11Q500.83,324.79 500.85,327.32Q500.87,329.84 503.02,328.53Q505.18,327.21 505.2,329.73Q505.22,332.26 507.38,330.94Q509.53,329.62 509.55,332.15Q509.57,334.68 511.73,333.36Q513.88,332.04 513.9,334.57Q513.92,337.09 516.08,335.78Q518.23,334.46 518.25,336.98Q518.27,339.51 520.43,338.19Q522.58,336.87 522.6,339.4M529.6,333.4Q531.73,334.79 531.87,332.25Q532,329.71 534.13,331.1Q536.26,332.49 536.4,329.95Q536.54,327.41 538.67,328.8Q540.8,330.19 540.93,327.65Q541.07,325.11 543.2,326.5Q545.33,327.89 545.47,325.35Q545.6,322.81 547.73,324.2Q549.86,325.59 550,323.05Q550.14,320.51 552.27,321.9Q554.4,323.29 554.53,320.75Q554.67,318.21 556.8,319.6M496.5,336.2Q496.52,338.73 498.68,337.41Q500.83,336.09 500.85,338.62Q500.87,341.14 503.02,339.83Q505.18,338.51 505.2,341.03Q505.22,343.56 507.38,342.24Q509.53,340.92 509.55,343.45Q509.57,345.98 511.73,344.66Q513.88,343.34 513.9,345.87Q513.92,348.39 516.08,347.08Q518.23,345.76 518.25,348.28Q518.27,350.81 520.43,349.49Q522.58,348.17 522.6,350.7M529.6,344.7Q531.73,346.09 531.87,343.55Q532,341.01 534.13,342.4Q536.26,343.79 536.4,341.25Q536.54,338.71 538.67,340.1Q540.8,341.49 540.93,338.95Q541.07,336.41 543.2,337.8Q545.33,339.19 545.47,336.65Q545.6,334.11 547.73,335.5Q549.86,336.89 550,334.35Q550.14,331.81 552.27,333.2Q554.4,334.59 554.53,332.05Q554.67,329.51 556.8,330.9M496.5,347.5Q496.52,350.03 498.68,348.71Q500.83,347.39 500.85,349.92Q500.87,352.44 503.02,351.12Q505.18,349.81 505.2,352.33Q505.22,354.86 507.38,353.54Q509.53,352.22 509.55,354.75Q509.57,357.28 511.73,355.96Q513.88,354.64 513.9,357.17Q513.92,359.69 516.08,358.38Q518.23,357.06 518.25,359.58Q518.27,362.11 520.43,360.79Q522.58,359.47 522.6,362M529.6,356Q531.73,357.39 531.87,354.85Q532,352.31 534.13,353.7Q536.26,355.09 536.4,352.55Q536.54,350.01 538.67,351.4Q540.8,352.79 540.93,350.25Q541.07,347.71 543.2,349.1Q545.33,350.49 545.47,347.95Q545.6,345.41 547.73,346.8Q549.86,348.19 550,345.65Q550.14,343.11 552.27,344.5Q554.4,345.89 554.53,343.35Q554.67,340.81 556.8,342.2M496.5,358.8Q496.52,361.33 498.68,360.01Q500.83,358.69 500.85,361.22Q500.87,363.74 503.02,362.43Q505.18,361.11 505.2,363.63Q505.22,366.16 507.38,364.84Q509.53,363.52 509.55,366.05Q509.57,368.58 511.73,367.26Q513.88,365.94 513.9,368.47Q513.92,370.99 516.08,369.68Q518.23,368.36 518.25,370.88Q518.27,373.41 520.43,372.09Q522.58,370.77 522.6,373.3M529.6,367.3Q531.73,368.69 531.87,366.15Q532,363.61 534.13,365Q536.26,366.39 536.4,363.85Q536.54,361.31 538.67,362.7Q540.8,364.09 540.93,361.55Q541.07,359.01 543.2,360.4Q545.33,361.79 545.47,359.25Q545.6,356.71 547.73,358.1Q549.86,359.49 550,356.95Q550.14,354.41 552.27,355.8Q554.4,357.19 554.53,354.65Q554.67,352.11 556.8,353.5M496.5,370.1Q496.52,372.63 498.68,371.31Q500.83,369.99 500.85,372.52Q500.87,375.04 503.02,373.73Q505.18,372.41 505.2,374.93Q505.22,377.46 507.38,376.14Q509.53,374.82 509.55,377.35Q509.57,379.88 511.73,378.56Q513.88,377.24 513.9,379.77Q513.92,382.29 516.08,380.98Q518.23,379.66 518.25,382.18Q518.27,384.71 520.43,383.39Q522.58,382.07 522.6,384.6M529.6,378.6Q531.73,379.99 531.87,377.45Q532,374.91 534.13,376.3Q536.26,377.69 536.4,375.15Q536.54,372.61 538.67,374Q540.8,375.39 540.93,372.85Q541.07,370.31 543.2,371.7Q545.33,373.09 545.47,370.55Q545.6,368.01 547.73,369.4Q549.86,370.79 550,368.25Q550.14,365.71 552.27,367.1Q554.4,368.49 554.53,365.95Q554.67,363.41 556.8,364.8M496.5,381.4Q496.52,383.93 498.68,382.61Q500.83,381.29 500.85,383.82Q500.87,386.34 503.02,385.03Q505.18,383.71 505.2,386.23Q505.22,388.76 507.38,387.44Q509.53,386.12 509.55,388.65Q509.57,391.18 511.73,389.86Q513.88,388.54 513.9,391.07Q513.92,393.59 516.08,392.28Q518.23,390.96 518.25,393.48Q518.27,396.01 520.43,394.69Q522.58,393.37 522.6,395.9M529.6,389.9Q531.73,391.29 531.87,388.75Q532,386.21 534.13,387.6Q536.26,388.99 536.4,386.45Q536.54,383.91 538.67,385.3Q540.8,386.69 540.93,384.15Q541.07,381.61 543.2,383Q545.33,384.39 545.47,381.85Q545.6,379.31 547.73,380.7Q549.86,382.09 550,379.55Q550.14,377.01 552.27,378.4Q554.4,379.79 554.53,377.25Q554.67,374.71 556.8,376.1M496.5,392.7Q496.52,395.23 498.68,393.91Q500.83,392.59 500.85,395.12Q500.87,397.64 503.02,396.33Q505.18,395.01 505.2,397.53Q505.22,400.06 507.38,398.74Q509.53,397.42 509.55,399.95Q509.57,402.48 511.73,401.16Q513.88,399.84 513.9,402.37Q513.92,404.89 516.08,403.58Q518.23,402.26 518.25,404.78Q518.27,407.31 520.43,405.99Q522.58,404.67 522.6,407.2M529.6,401.2Q531.73,402.59 531.87,400.05Q532,397.51 534.13,398.9Q536.26,400.29 536.4,397.75Q536.54,395.21 538.67,396.6Q540.8,397.99 540.93,395.45Q541.07,392.91 543.2,394.3Q545.33,395.69 545.47,393.15Q545.6,390.61 547.73,392Q549.86,393.39 550,390.85Q550.14,388.31 552.27,389.7Q554.4,391.09 554.53,388.55Q554.67,386.01 556.8,387.4" fill="none" stroke="#ff5a5a" stroke-width="0.85"/><path d="M466.9,308.1 l-1.6,-2.8 M470.3,302.4 l2.3,-2.6M466.9,319.4 l-1.6,-2.8 M470.3,313.7 l2.3,-2.6M466.9,330.7 l-1.6,-2.8 M470.3,325 l2.3,-2.6M466.9,342 l-1.6,-2.8 M470.3,336.3 l2.3,-2.6M466.9,353.3 l-1.6,-2.8 M470.3,347.6 l2.3,-2.6M466.9,364.6 l-1.6,-2.8 M470.3,358.9 l2.3,-2.6M466.9,375.9 l-1.6,-2.8 M470.3,370.2 l2.3,-2.6M466.9,387.2 l-1.6,-2.8 M470.3,381.5 l2.3,-2.6M466.9,398.5 l-1.6,-2.8 M470.3,392.8 l2.3,-2.6M466.9,296.8 L465.1,299.8M465.1,299.8 L470.3,302.4 L472.1,305.8 L466.9,308.1 L465.1,311.1 L470.3,313.7 L472.1,317.1 L466.9,319.4 L465.1,322.4 L470.3,325 L472.1,328.4 L466.9,330.7 L465.1,333.7 L470.3,336.3 L472.1,339.7 L466.9,342 L465.1,345 L470.3,347.6 L472.1,351 L466.9,353.3 L465.1,356.3 L470.3,358.9 L472.1,362.3 L466.9,364.6 L465.1,367.6 L470.3,370.2 L472.1,373.6 L466.9,375.9 L465.1,378.9 L470.3,381.5 L472.1,384.9 L466.9,387.2 L465.1,390.2 L470.3,392.8 L472.1,396.2 L466.9,398.5M524.4,308.5 l-1.6,-2.8 M527.8,314.2 l2.3,-2.6M524.4,319.8 l-1.6,-2.8 M527.8,325.5 l2.3,-2.6M524.4,331.1 l-1.6,-2.8 M527.8,336.8 l2.3,-2.6M524.4,342.4 l-1.6,-2.8 M527.8,348.1 l2.3,-2.6M524.4,353.7 l-1.6,-2.8 M527.8,359.4 l2.3,-2.6M524.4,365 l-1.6,-2.8 M527.8,370.7 l2.3,-2.6M524.4,376.3 l-1.6,-2.8 M527.8,382 l2.3,-2.6M524.4,387.6 l-1.6,-2.8 M527.8,393.3 l2.3,-2.6M524.4,398.9 l-1.6,-2.8 M527.8,404.6 l2.3,-2.6M524.4,308.5 L529.6,310.8 L527.8,314.2 L522.6,316.8 L524.4,319.8 L529.6,322.1 L527.8,325.5 L522.6,328.1 L524.4,331.1 L529.6,333.4 L527.8,336.8 L522.6,339.4 L524.4,342.4 L529.6,344.7 L527.8,348.1 L522.6,350.7 L524.4,353.7 L529.6,356 L527.8,359.4 L522.6,362 L524.4,365 L529.6,367.3 L527.8,370.7 L522.6,373.3 L524.4,376.3 L529.6,378.6 L527.8,382 L522.6,384.6 L524.4,387.6 L529.6,389.9 L527.8,393.3 L522.6,395.9 L524.4,398.9 L529.6,401.2 L527.8,404.6 L522.6,407.2" fill="none" stroke="#ff5a5a" stroke-width="0.9"/></g>
<rect x="440.2" y="296.3" width="114.6" height="114.9" fill="none" stroke="#5a5a5a" stroke-width="1.1"/>
<path d="M497.5,296.3V411.2" stroke="#333" stroke-width="1"/>
<defs><clipPath id="clipD1"><rect x="432.7" y="303.8" width="114.5" height="115.1"/></clipPath></defs>
<rect x="432.7" y="303.8" width="114.5" height="115.1" fill="#fff"/>
<g clip-path="url(#clipD1)"><path d="M430.7,321.8Q432.86,323.13 432.94,320.59Q433.02,318.05 435.18,319.38Q437.35,320.72 437.42,318.18Q437.5,315.63 439.67,316.97Q441.83,318.3 441.91,315.76Q441.99,313.22 444.15,314.55Q446.31,315.88 446.39,313.34Q446.47,310.8 448.63,312.13Q450.8,313.47 450.88,310.93Q450.95,308.38 453.12,309.72Q455.28,311.05 455.36,308.51Q455.44,305.97 457.6,307.3M464.6,313.3Q464.53,315.85 466.8,314.68Q469.06,313.5 468.99,316.05Q468.92,318.6 471.19,317.43Q473.45,316.25 473.38,318.8Q473.31,321.35 475.58,320.18Q477.84,319 477.78,321.55Q477.71,324.1 479.97,322.93Q482.24,321.75 482.17,324.3Q482.1,326.85 484.36,325.68Q486.63,324.5 486.56,327.05Q486.49,329.6 488.75,328.43Q491.02,327.25 490.95,329.8M430.7,333.1Q432.86,334.43 432.94,331.89Q433.02,329.35 435.18,330.68Q437.35,332.02 437.42,329.48Q437.5,326.93 439.67,328.27Q441.83,329.6 441.91,327.06Q441.99,324.52 444.15,325.85Q446.31,327.18 446.39,324.64Q446.47,322.1 448.63,323.43Q450.8,324.77 450.88,322.23Q450.95,319.68 453.12,321.02Q455.28,322.35 455.36,319.81Q455.44,317.27 457.6,318.6M464.6,324.6Q464.53,327.15 466.8,325.98Q469.06,324.8 468.99,327.35Q468.92,329.9 471.19,328.73Q473.45,327.55 473.38,330.1Q473.31,332.65 475.58,331.48Q477.84,330.3 477.78,332.85Q477.71,335.4 479.97,334.23Q482.24,333.05 482.17,335.6Q482.1,338.15 484.36,336.98Q486.63,335.8 486.56,338.35Q486.49,340.9 488.75,339.73Q491.02,338.55 490.95,341.1M430.7,344.4Q432.86,345.73 432.94,343.19Q433.02,340.65 435.18,341.98Q437.35,343.32 437.42,340.78Q437.5,338.23 439.67,339.57Q441.83,340.9 441.91,338.36Q441.99,335.82 444.15,337.15Q446.31,338.48 446.39,335.94Q446.47,333.4 448.63,334.73Q450.8,336.07 450.88,333.53Q450.95,330.98 453.12,332.32Q455.28,333.65 455.36,331.11Q455.44,328.57 457.6,329.9M464.6,335.9Q464.53,338.45 466.8,337.28Q469.06,336.1 468.99,338.65Q468.92,341.2 471.19,340.03Q473.45,338.85 473.38,341.4Q473.31,343.95 475.58,342.78Q477.84,341.6 477.78,344.15Q477.71,346.7 479.97,345.53Q482.24,344.35 482.17,346.9Q482.1,349.45 484.36,348.28Q486.63,347.1 486.56,349.65Q486.49,352.2 488.75,351.03Q491.02,349.85 490.95,352.4M430.7,355.7Q432.86,357.03 432.94,354.49Q433.02,351.95 435.18,353.28Q437.35,354.62 437.42,352.08Q437.5,349.53 439.67,350.87Q441.83,352.2 441.91,349.66Q441.99,347.12 444.15,348.45Q446.31,349.78 446.39,347.24Q446.47,344.7 448.63,346.03Q450.8,347.37 450.88,344.83Q450.95,342.28 453.12,343.62Q455.28,344.95 455.36,342.41Q455.44,339.87 457.6,341.2M464.6,347.2Q464.53,349.75 466.8,348.58Q469.06,347.4 468.99,349.95Q468.92,352.5 471.19,351.33Q473.45,350.15 473.38,352.7Q473.31,355.25 475.58,354.08Q477.84,352.9 477.78,355.45Q477.71,358 479.97,356.83Q482.24,355.65 482.17,358.2Q482.1,360.75 484.36,359.58Q486.63,358.4 486.56,360.95Q486.49,363.5 488.75,362.33Q491.02,361.15 490.95,363.7M430.7,367Q432.86,368.33 432.94,365.79Q433.02,363.25 435.18,364.58Q437.35,365.92 437.42,363.38Q437.5,360.83 439.67,362.17Q441.83,363.5 441.91,360.96Q441.99,358.42 444.15,359.75Q446.31,361.08 446.39,358.54Q446.47,356 448.63,357.33Q450.8,358.67 450.88,356.12Q450.95,353.58 453.12,354.92Q455.28,356.25 455.36,353.71Q455.44,351.17 457.6,352.5M464.6,358.5Q464.53,361.05 466.8,359.88Q469.06,358.7 468.99,361.25Q468.92,363.8 471.19,362.62Q473.45,361.45 473.38,364Q473.31,366.55 475.58,365.38Q477.84,364.2 477.78,366.75Q477.71,369.3 479.97,368.12Q482.24,366.95 482.17,369.5Q482.1,372.05 484.36,370.88Q486.63,369.7 486.56,372.25Q486.49,374.8 488.75,373.62Q491.02,372.45 490.95,375M430.7,378.3Q432.86,379.63 432.94,377.09Q433.02,374.55 435.18,375.88Q437.35,377.22 437.42,374.68Q437.5,372.13 439.67,373.47Q441.83,374.8 441.91,372.26Q441.99,369.72 444.15,371.05Q446.31,372.38 446.39,369.84Q446.47,367.3 448.63,368.63Q450.8,369.97 450.88,367.43Q450.95,364.88 453.12,366.22Q455.28,367.55 455.36,365.01Q455.44,362.47 457.6,363.8M464.6,369.8Q464.53,372.35 466.8,371.18Q469.06,370 468.99,372.55Q468.92,375.1 471.19,373.93Q473.45,372.75 473.38,375.3Q473.31,377.85 475.58,376.68Q477.84,375.5 477.78,378.05Q477.71,380.6 479.97,379.43Q482.24,378.25 482.17,380.8Q482.1,383.35 484.36,382.18Q486.63,381 486.56,383.55Q486.49,386.1 488.75,384.93Q491.02,383.75 490.95,386.3M430.7,389.6Q432.86,390.93 432.94,388.39Q433.02,385.85 435.18,387.18Q437.35,388.52 437.42,385.98Q437.5,383.43 439.67,384.77Q441.83,386.1 441.91,383.56Q441.99,381.02 444.15,382.35Q446.31,383.68 446.39,381.14Q446.47,378.6 448.63,379.93Q450.8,381.27 450.88,378.73Q450.95,376.18 453.12,377.52Q455.28,378.85 455.36,376.31Q455.44,373.77 457.6,375.1M464.6,381.1Q464.53,383.65 466.8,382.48Q469.06,381.3 468.99,383.85Q468.92,386.4 471.19,385.23Q473.45,384.05 473.38,386.6Q473.31,389.15 475.58,387.98Q477.84,386.8 477.78,389.35Q477.71,391.9 479.97,390.73Q482.24,389.55 482.17,392.1Q482.1,394.65 484.36,393.48Q486.63,392.3 486.56,394.85Q486.49,397.4 488.75,396.23Q491.02,395.05 490.95,397.6M430.7,400.9Q432.86,402.23 432.94,399.69Q433.02,397.15 435.18,398.48Q437.35,399.82 437.42,397.28Q437.5,394.73 439.67,396.07Q441.83,397.4 441.91,394.86Q441.99,392.32 444.15,393.65Q446.31,394.98 446.39,392.44Q446.47,389.9 448.63,391.23Q450.8,392.57 450.88,390.03Q450.95,387.48 453.12,388.82Q455.28,390.15 455.36,387.61Q455.44,385.07 457.6,386.4M464.6,392.4Q464.53,394.95 466.8,393.78Q469.06,392.6 468.99,395.15Q468.92,397.7 471.19,396.53Q473.45,395.35 473.38,397.9Q473.31,400.45 475.58,399.28Q477.84,398.1 477.78,400.65Q477.71,403.2 479.97,402.03Q482.24,400.85 482.17,403.4Q482.1,405.95 484.36,404.78Q486.63,403.6 486.56,406.15Q486.49,408.7 488.75,407.53Q491.02,406.35 490.95,408.9M430.7,412.2Q432.86,413.53 432.94,410.99Q433.02,408.45 435.18,409.78Q437.35,411.12 437.42,408.58Q437.5,406.03 439.67,407.37Q441.83,408.7 441.91,406.16Q441.99,403.62 444.15,404.95Q446.31,406.28 446.39,403.74Q446.47,401.2 448.63,402.53Q450.8,403.87 450.88,401.33Q450.95,398.78 453.12,400.12Q455.28,401.45 455.36,398.91Q455.44,396.37 457.6,397.7M464.6,403.7Q464.53,406.25 466.8,405.08Q469.06,403.9 468.99,406.45Q468.92,409 471.19,407.83Q473.45,406.65 473.38,409.2Q473.31,411.75 475.58,410.58Q477.84,409.4 477.78,411.95Q477.71,414.5 479.97,413.33Q482.24,412.15 482.17,414.7Q482.1,417.25 484.36,416.08Q486.63,414.9 486.56,417.45Q486.49,420 488.75,418.83Q491.02,417.65 490.95,420.2M488.95,309.8Q488.97,312.33 491.13,311.01Q493.28,309.69 493.3,312.22Q493.32,314.74 495.48,313.43Q497.63,312.11 497.65,314.63Q497.67,317.16 499.83,315.84Q501.98,314.52 502,317.05Q502.02,319.58 504.18,318.26Q506.33,316.94 506.35,319.47Q506.37,321.99 508.53,320.68Q510.68,319.36 510.7,321.88Q510.72,324.41 512.88,323.09Q515.03,321.77 515.05,324.3M522.05,318.3Q524.18,319.69 524.31,317.15Q524.45,314.61 526.58,316Q528.7,317.39 528.84,314.85Q528.97,312.31 531.1,313.7Q533.23,315.09 533.36,312.55Q533.5,310.01 535.62,311.4Q537.75,312.79 537.89,310.25Q538.02,307.71 540.15,309.1Q542.28,310.49 542.41,307.95Q542.55,305.41 544.68,306.8Q546.8,308.19 546.94,305.65Q547.07,303.11 549.2,304.5M488.95,321.1Q488.97,323.63 491.13,322.31Q493.28,320.99 493.3,323.52Q493.32,326.04 495.48,324.73Q497.63,323.41 497.65,325.93Q497.67,328.46 499.83,327.14Q501.98,325.82 502,328.35Q502.02,330.88 504.18,329.56Q506.33,328.24 506.35,330.77Q506.37,333.29 508.53,331.98Q510.68,330.66 510.7,333.18Q510.72,335.71 512.88,334.39Q515.03,333.07 515.05,335.6M522.05,329.6Q524.18,330.99 524.31,328.45Q524.45,325.91 526.58,327.3Q528.7,328.69 528.84,326.15Q528.97,323.61 531.1,325Q533.23,326.39 533.36,323.85Q533.5,321.31 535.62,322.7Q537.75,324.09 537.89,321.55Q538.02,319.01 540.15,320.4Q542.28,321.79 542.41,319.25Q542.55,316.71 544.68,318.1Q546.8,319.49 546.94,316.95Q547.07,314.41 549.2,315.8M488.95,332.4Q488.97,334.93 491.13,333.61Q493.28,332.29 493.3,334.82Q493.32,337.34 495.48,336.03Q497.63,334.71 497.65,337.23Q497.67,339.76 499.83,338.44Q501.98,337.12 502,339.65Q502.02,342.18 504.18,340.86Q506.33,339.54 506.35,342.07Q506.37,344.59 508.53,343.28Q510.68,341.96 510.7,344.48Q510.72,347.01 512.88,345.69Q515.03,344.37 515.05,346.9M522.05,340.9Q524.18,342.29 524.31,339.75Q524.45,337.21 526.58,338.6Q528.7,339.99 528.84,337.45Q528.97,334.91 531.1,336.3Q533.23,337.69 533.36,335.15Q533.5,332.61 535.62,334Q537.75,335.39 537.89,332.85Q538.02,330.31 540.15,331.7Q542.28,333.09 542.41,330.55Q542.55,328.01 544.68,329.4Q546.8,330.79 546.94,328.25Q547.07,325.71 549.2,327.1M488.95,343.7Q488.97,346.23 491.13,344.91Q493.28,343.59 493.3,346.12Q493.32,348.64 495.48,347.33Q497.63,346.01 497.65,348.53Q497.67,351.06 499.83,349.74Q501.98,348.42 502,350.95Q502.02,353.48 504.18,352.16Q506.33,350.84 506.35,353.37Q506.37,355.89 508.53,354.58Q510.68,353.26 510.7,355.78Q510.72,358.31 512.88,356.99Q515.03,355.67 515.05,358.2M522.05,352.2Q524.18,353.59 524.31,351.05Q524.45,348.51 526.58,349.9Q528.7,351.29 528.84,348.75Q528.97,346.21 531.1,347.6Q533.23,348.99 533.36,346.45Q533.5,343.91 535.62,345.3Q537.75,346.69 537.89,344.15Q538.02,341.61 540.15,343Q542.28,344.39 542.41,341.85Q542.55,339.31 544.68,340.7Q546.8,342.09 546.94,339.55Q547.07,337.01 549.2,338.4M488.95,355Q488.97,357.53 491.13,356.21Q493.28,354.89 493.3,357.42Q493.32,359.94 495.48,358.62Q497.63,357.31 497.65,359.83Q497.67,362.36 499.83,361.04Q501.98,359.72 502,362.25Q502.02,364.78 504.18,363.46Q506.33,362.14 506.35,364.67Q506.37,367.19 508.53,365.88Q510.68,364.56 510.7,367.08Q510.72,369.61 512.88,368.29Q515.03,366.97 515.05,369.5M522.05,363.5Q524.18,364.89 524.31,362.35Q524.45,359.81 526.58,361.2Q528.7,362.59 528.84,360.05Q528.97,357.51 531.1,358.9Q533.23,360.29 533.36,357.75Q533.5,355.21 535.62,356.6Q537.75,357.99 537.89,355.45Q538.02,352.91 540.15,354.3Q542.28,355.69 542.41,353.15Q542.55,350.61 544.68,352Q546.8,353.39 546.94,350.85Q547.07,348.31 549.2,349.7M488.95,366.3Q488.97,368.83 491.13,367.51Q493.28,366.19 493.3,368.72Q493.32,371.24 495.48,369.93Q497.63,368.61 497.65,371.13Q497.67,373.66 499.83,372.34Q501.98,371.02 502,373.55Q502.02,376.08 504.18,374.76Q506.33,373.44 506.35,375.97Q506.37,378.49 508.53,377.18Q510.68,375.86 510.7,378.38Q510.72,380.91 512.88,379.59Q515.03,378.27 515.05,380.8M522.05,374.8Q524.18,376.19 524.31,373.65Q524.45,371.11 526.58,372.5Q528.7,373.89 528.84,371.35Q528.97,368.81 531.1,370.2Q533.23,371.59 533.36,369.05Q533.5,366.51 535.62,367.9Q537.75,369.29 537.89,366.75Q538.02,364.21 540.15,365.6Q542.28,366.99 542.41,364.45Q542.55,361.91 544.68,363.3Q546.8,364.69 546.94,362.15Q547.07,359.61 549.2,361M488.95,377.6Q488.97,380.13 491.13,378.81Q493.28,377.49 493.3,380.02Q493.32,382.54 495.48,381.23Q497.63,379.91 497.65,382.43Q497.67,384.96 499.83,383.64Q501.98,382.32 502,384.85Q502.02,387.38 504.18,386.06Q506.33,384.74 506.35,387.27Q506.37,389.79 508.53,388.48Q510.68,387.16 510.7,389.68Q510.72,392.21 512.88,390.89Q515.03,389.57 515.05,392.1M522.05,386.1Q524.18,387.49 524.31,384.95Q524.45,382.41 526.58,383.8Q528.7,385.19 528.84,382.65Q528.97,380.11 531.1,381.5Q533.23,382.89 533.36,380.35Q533.5,377.81 535.62,379.2Q537.75,380.59 537.89,378.05Q538.02,375.51 540.15,376.9Q542.28,378.29 542.41,375.75Q542.55,373.21 544.68,374.6Q546.8,375.99 546.94,373.45Q547.07,370.91 549.2,372.3M488.95,388.9Q488.97,391.43 491.13,390.11Q493.28,388.79 493.3,391.32Q493.32,393.84 495.48,392.53Q497.63,391.21 497.65,393.73Q497.67,396.26 499.83,394.94Q501.98,393.62 502,396.15Q502.02,398.68 504.18,397.36Q506.33,396.04 506.35,398.57Q506.37,401.09 508.53,399.78Q510.68,398.46 510.7,400.98Q510.72,403.51 512.88,402.19Q515.03,400.87 515.05,403.4M522.05,397.4Q524.18,398.79 524.31,396.25Q524.45,393.71 526.58,395.1Q528.7,396.49 528.84,393.95Q528.97,391.41 531.1,392.8Q533.23,394.19 533.36,391.65Q533.5,389.11 535.62,390.5Q537.75,391.89 537.89,389.35Q538.02,386.81 540.15,388.2Q542.28,389.59 542.41,387.05Q542.55,384.51 544.68,385.9Q546.8,387.29 546.94,384.75Q547.07,382.21 549.2,383.6M488.95,400.2Q488.97,402.73 491.13,401.41Q493.28,400.09 493.3,402.62Q493.32,405.14 495.48,403.83Q497.63,402.51 497.65,405.03Q497.67,407.56 499.83,406.24Q501.98,404.92 502,407.45Q502.02,409.98 504.18,408.66Q506.33,407.34 506.35,409.87Q506.37,412.39 508.53,411.08Q510.68,409.76 510.7,412.28Q510.72,414.81 512.88,413.49Q515.03,412.17 515.05,414.7M522.05,408.7Q524.18,410.09 524.31,407.55Q524.45,405.01 526.58,406.4Q528.7,407.79 528.84,405.25Q528.97,402.71 531.1,404.1Q533.23,405.49 533.36,402.95Q533.5,400.41 535.62,401.8Q537.75,403.19 537.89,400.65Q538.02,398.11 540.15,399.5Q542.28,400.89 542.41,398.35Q542.55,395.81 544.68,397.2Q546.8,398.59 546.94,396.05Q547.07,393.51 549.2,394.9" fill="none" stroke="#ff5a5a" stroke-width="0.85"/><path d="M459.4,315.6 l-1.6,-2.8 M462.8,309.9 l2.3,-2.6M459.4,326.9 l-1.6,-2.8 M462.8,321.2 l2.3,-2.6M459.4,338.2 l-1.6,-2.8 M462.8,332.5 l2.3,-2.6M459.4,349.5 l-1.6,-2.8 M462.8,343.8 l2.3,-2.6M459.4,360.8 l-1.6,-2.8 M462.8,355.1 l2.3,-2.6M459.4,372.1 l-1.6,-2.8 M462.8,366.4 l2.3,-2.6M459.4,383.4 l-1.6,-2.8 M462.8,377.7 l2.3,-2.6M459.4,394.7 l-1.6,-2.8 M462.8,389 l2.3,-2.6M459.4,406 l-1.6,-2.8 M462.8,400.3 l2.3,-2.6M459.4,304.3 L457.6,307.3M457.6,307.3 L462.8,309.9 L464.6,313.3 L459.4,315.6 L457.6,318.6 L462.8,321.2 L464.6,324.6 L459.4,326.9 L457.6,329.9 L462.8,332.5 L464.6,335.9 L459.4,338.2 L457.6,341.2 L462.8,343.8 L464.6,347.2 L459.4,349.5 L457.6,352.5 L462.8,355.1 L464.6,358.5 L459.4,360.8 L457.6,363.8 L462.8,366.4 L464.6,369.8 L459.4,372.1 L457.6,375.1 L462.8,377.7 L464.6,381.1 L459.4,383.4 L457.6,386.4 L462.8,389 L464.6,392.4 L459.4,394.7 L457.6,397.7 L462.8,400.3 L464.6,403.7 L459.4,406M516.85,316 l-1.6,-2.8 M520.25,321.7 l2.3,-2.6M516.85,327.3 l-1.6,-2.8 M520.25,333 l2.3,-2.6M516.85,338.6 l-1.6,-2.8 M520.25,344.3 l2.3,-2.6M516.85,349.9 l-1.6,-2.8 M520.25,355.6 l2.3,-2.6M516.85,361.2 l-1.6,-2.8 M520.25,366.9 l2.3,-2.6M516.85,372.5 l-1.6,-2.8 M520.25,378.2 l2.3,-2.6M516.85,383.8 l-1.6,-2.8 M520.25,389.5 l2.3,-2.6M516.85,395.1 l-1.6,-2.8 M520.25,400.8 l2.3,-2.6M516.85,406.4 l-1.6,-2.8 M520.25,412.1 l2.3,-2.6M516.85,316 L522.05,318.3 L520.25,321.7 L515.05,324.3 L516.85,327.3 L522.05,329.6 L520.25,333 L515.05,335.6 L516.85,338.6 L522.05,340.9 L520.25,344.3 L515.05,346.9 L516.85,349.9 L522.05,352.2 L520.25,355.6 L515.05,358.2 L516.85,361.2 L522.05,363.5 L520.25,366.9 L515.05,369.5 L516.85,372.5 L522.05,374.8 L520.25,378.2 L515.05,380.8 L516.85,383.8 L522.05,386.1 L520.25,389.5 L515.05,392.1 L516.85,395.1 L522.05,397.4 L520.25,400.8 L515.05,403.4 L516.85,406.4 L522.05,408.7 L520.25,412.1 L515.05,414.7" fill="none" stroke="#ff5a5a" stroke-width="0.9"/></g>
<rect x="432.7" y="303.8" width="114.5" height="115.1" fill="none" stroke="#5a5a5a" stroke-width="1.1"/>
<path d="M489.95,303.8V418.9" stroke="#333" stroke-width="1"/>
<defs><clipPath id="clipD2"><rect x="425.5" y="311.6" width="113.9" height="114.9"/></clipPath></defs>
<rect x="425.5" y="311.6" width="113.9" height="114.9" fill="#fff"/>
<g clip-path="url(#clipD2)"><path d="M423.5,329.6Q425.66,330.93 425.74,328.39Q425.82,325.85 427.98,327.18Q430.15,328.52 430.23,325.98Q430.3,323.43 432.47,324.77Q434.63,326.1 434.71,323.56Q434.79,321.02 436.95,322.35Q439.11,323.68 439.19,321.14Q439.27,318.6 441.43,319.93Q443.6,321.27 443.67,318.73Q443.75,316.18 445.92,317.52Q448.08,318.85 448.16,316.31Q448.24,313.77 450.4,315.1M457.4,321.1Q457.31,323.65 459.57,322.48Q461.83,321.3 461.74,323.85Q461.65,326.4 463.91,325.23Q466.18,324.05 466.08,326.6Q465.99,329.15 468.25,327.98Q470.52,326.8 470.42,329.35Q470.33,331.9 472.6,330.73Q474.86,329.55 474.77,332.1Q474.67,334.65 476.94,333.48Q479.2,332.3 479.11,334.85Q479.02,337.4 481.28,336.23Q483.54,335.05 483.45,337.6M423.5,340.9Q425.66,342.23 425.74,339.69Q425.82,337.15 427.98,338.48Q430.15,339.82 430.23,337.28Q430.3,334.73 432.47,336.07Q434.63,337.4 434.71,334.86Q434.79,332.32 436.95,333.65Q439.11,334.98 439.19,332.44Q439.27,329.9 441.43,331.23Q443.6,332.57 443.67,330.03Q443.75,327.48 445.92,328.82Q448.08,330.15 448.16,327.61Q448.24,325.07 450.4,326.4M457.4,332.4Q457.31,334.95 459.57,333.78Q461.83,332.6 461.74,335.15Q461.65,337.7 463.91,336.53Q466.18,335.35 466.08,337.9Q465.99,340.45 468.25,339.28Q470.52,338.1 470.42,340.65Q470.33,343.2 472.6,342.03Q474.86,340.85 474.77,343.4Q474.67,345.95 476.94,344.78Q479.2,343.6 479.11,346.15Q479.02,348.7 481.28,347.53Q483.54,346.35 483.45,348.9M423.5,352.2Q425.66,353.53 425.74,350.99Q425.82,348.45 427.98,349.78Q430.15,351.12 430.23,348.58Q430.3,346.03 432.47,347.37Q434.63,348.7 434.71,346.16Q434.79,343.62 436.95,344.95Q439.11,346.28 439.19,343.74Q439.27,341.2 441.43,342.53Q443.6,343.87 443.67,341.33Q443.75,338.78 445.92,340.12Q448.08,341.45 448.16,338.91Q448.24,336.37 450.4,337.7M457.4,343.7Q457.31,346.25 459.57,345.08Q461.83,343.9 461.74,346.45Q461.65,349 463.91,347.83Q466.18,346.65 466.08,349.2Q465.99,351.75 468.25,350.58Q470.52,349.4 470.42,351.95Q470.33,354.5 472.6,353.33Q474.86,352.15 474.77,354.7Q474.67,357.25 476.94,356.08Q479.2,354.9 479.11,357.45Q479.02,360 481.28,358.83Q483.54,357.65 483.45,360.2M423.5,363.5Q425.66,364.83 425.74,362.29Q425.82,359.75 427.98,361.08Q430.15,362.42 430.23,359.88Q430.3,357.33 432.47,358.67Q434.63,360 434.71,357.46Q434.79,354.92 436.95,356.25Q439.11,357.58 439.19,355.04Q439.27,352.5 441.43,353.83Q443.6,355.17 443.67,352.62Q443.75,350.08 445.92,351.42Q448.08,352.75 448.16,350.21Q448.24,347.67 450.4,349M457.4,355Q457.31,357.55 459.57,356.38Q461.83,355.2 461.74,357.75Q461.65,360.3 463.91,359.12Q466.18,357.95 466.08,360.5Q465.99,363.05 468.25,361.88Q470.52,360.7 470.42,363.25Q470.33,365.8 472.6,364.62Q474.86,363.45 474.77,366Q474.67,368.55 476.94,367.38Q479.2,366.2 479.11,368.75Q479.02,371.3 481.28,370.12Q483.54,368.95 483.45,371.5M423.5,374.8Q425.66,376.13 425.74,373.59Q425.82,371.05 427.98,372.38Q430.15,373.72 430.23,371.18Q430.3,368.63 432.47,369.97Q434.63,371.3 434.71,368.76Q434.79,366.22 436.95,367.55Q439.11,368.88 439.19,366.34Q439.27,363.8 441.43,365.13Q443.6,366.47 443.67,363.93Q443.75,361.38 445.92,362.72Q448.08,364.05 448.16,361.51Q448.24,358.97 450.4,360.3M457.4,366.3Q457.31,368.85 459.57,367.68Q461.83,366.5 461.74,369.05Q461.65,371.6 463.91,370.43Q466.18,369.25 466.08,371.8Q465.99,374.35 468.25,373.18Q470.52,372 470.42,374.55Q470.33,377.1 472.6,375.93Q474.86,374.75 474.77,377.3Q474.67,379.85 476.94,378.68Q479.2,377.5 479.11,380.05Q479.02,382.6 481.28,381.43Q483.54,380.25 483.45,382.8M423.5,386.1Q425.66,387.43 425.74,384.89Q425.82,382.35 427.98,383.68Q430.15,385.02 430.23,382.48Q430.3,379.93 432.47,381.27Q434.63,382.6 434.71,380.06Q434.79,377.52 436.95,378.85Q439.11,380.18 439.19,377.64Q439.27,375.1 441.43,376.43Q443.6,377.77 443.67,375.23Q443.75,372.68 445.92,374.02Q448.08,375.35 448.16,372.81Q448.24,370.27 450.4,371.6M457.4,377.6Q457.31,380.15 459.57,378.98Q461.83,377.8 461.74,380.35Q461.65,382.9 463.91,381.73Q466.18,380.55 466.08,383.1Q465.99,385.65 468.25,384.48Q470.52,383.3 470.42,385.85Q470.33,388.4 472.6,387.23Q474.86,386.05 474.77,388.6Q474.67,391.15 476.94,389.98Q479.2,388.8 479.11,391.35Q479.02,393.9 481.28,392.73Q483.54,391.55 483.45,394.1M423.5,397.4Q425.66,398.73 425.74,396.19Q425.82,393.65 427.98,394.98Q430.15,396.32 430.23,393.78Q430.3,391.23 432.47,392.57Q434.63,393.9 434.71,391.36Q434.79,388.82 436.95,390.15Q439.11,391.48 439.19,388.94Q439.27,386.4 441.43,387.73Q443.6,389.07 443.67,386.53Q443.75,383.98 445.92,385.32Q448.08,386.65 448.16,384.11Q448.24,381.57 450.4,382.9M457.4,388.9Q457.31,391.45 459.57,390.28Q461.83,389.1 461.74,391.65Q461.65,394.2 463.91,393.03Q466.18,391.85 466.08,394.4Q465.99,396.95 468.25,395.78Q470.52,394.6 470.42,397.15Q470.33,399.7 472.6,398.53Q474.86,397.35 474.77,399.9Q474.67,402.45 476.94,401.28Q479.2,400.1 479.11,402.65Q479.02,405.2 481.28,404.03Q483.54,402.85 483.45,405.4M423.5,408.7Q425.66,410.03 425.74,407.49Q425.82,404.95 427.98,406.28Q430.15,407.62 430.23,405.08Q430.3,402.53 432.47,403.87Q434.63,405.2 434.71,402.66Q434.79,400.12 436.95,401.45Q439.11,402.78 439.19,400.24Q439.27,397.7 441.43,399.03Q443.6,400.37 443.67,397.83Q443.75,395.28 445.92,396.62Q448.08,397.95 448.16,395.41Q448.24,392.87 450.4,394.2M457.4,400.2Q457.31,402.75 459.57,401.58Q461.83,400.4 461.74,402.95Q461.65,405.5 463.91,404.33Q466.18,403.15 466.08,405.7Q465.99,408.25 468.25,407.08Q470.52,405.9 470.42,408.45Q470.33,411 472.6,409.83Q474.86,408.65 474.77,411.2Q474.67,413.75 476.94,412.58Q479.2,411.4 479.11,413.95Q479.02,416.5 481.28,415.33Q483.54,414.15 483.45,416.7M423.5,420Q425.66,421.33 425.74,418.79Q425.82,416.25 427.98,417.58Q430.15,418.92 430.23,416.38Q430.3,413.83 432.47,415.17Q434.63,416.5 434.71,413.96Q434.79,411.42 436.95,412.75Q439.11,414.08 439.19,411.54Q439.27,409 441.43,410.33Q443.6,411.67 443.67,409.12Q443.75,406.58 445.92,407.92Q448.08,409.25 448.16,406.71Q448.24,404.17 450.4,405.5M457.4,411.5Q457.31,414.05 459.57,412.88Q461.83,411.7 461.74,414.25Q461.65,416.8 463.91,415.62Q466.18,414.45 466.08,417Q465.99,419.55 468.25,418.38Q470.52,417.2 470.42,419.75Q470.33,422.3 472.6,421.12Q474.86,419.95 474.77,422.5Q474.67,425.05 476.94,423.88Q479.2,422.7 479.11,425.25Q479.02,427.8 481.28,426.62Q483.54,425.45 483.45,428M481.45,317.6Q481.47,320.13 483.62,318.81Q485.78,317.49 485.8,320.02Q485.82,322.54 487.98,321.23Q490.13,319.91 490.15,322.43Q490.17,324.96 492.32,323.64Q494.48,322.32 494.5,324.85Q494.52,327.38 496.68,326.06Q498.83,324.74 498.85,327.27Q498.87,329.79 501.02,328.48Q503.18,327.16 503.2,329.68Q503.22,332.21 505.38,330.89Q507.53,329.57 507.55,332.1M514.55,326.1Q516.67,327.48 516.79,324.95Q516.9,322.42 519.02,323.8Q521.15,325.18 521.26,322.65Q521.38,320.12 523.5,321.5Q525.62,322.88 525.74,320.35Q525.85,317.82 527.98,319.2Q530.1,320.58 530.21,318.05Q530.33,315.52 532.45,316.9Q534.57,318.28 534.69,315.75Q534.8,313.22 536.92,314.6Q539.05,315.98 539.16,313.45Q539.28,310.92 541.4,312.3M481.45,328.9Q481.47,331.43 483.62,330.11Q485.78,328.79 485.8,331.32Q485.82,333.84 487.98,332.53Q490.13,331.21 490.15,333.73Q490.17,336.26 492.32,334.94Q494.48,333.62 494.5,336.15Q494.52,338.68 496.68,337.36Q498.83,336.04 498.85,338.57Q498.87,341.09 501.02,339.78Q503.18,338.46 503.2,340.98Q503.22,343.51 505.38,342.19Q507.53,340.87 507.55,343.4M514.55,337.4Q516.67,338.78 516.79,336.25Q516.9,333.72 519.02,335.1Q521.15,336.48 521.26,333.95Q521.38,331.42 523.5,332.8Q525.62,334.18 525.74,331.65Q525.85,329.12 527.98,330.5Q530.1,331.88 530.21,329.35Q530.33,326.82 532.45,328.2Q534.57,329.58 534.69,327.05Q534.8,324.52 536.92,325.9Q539.05,327.28 539.16,324.75Q539.28,322.22 541.4,323.6M481.45,340.2Q481.47,342.73 483.62,341.41Q485.78,340.09 485.8,342.62Q485.82,345.14 487.98,343.83Q490.13,342.51 490.15,345.03Q490.17,347.56 492.32,346.24Q494.48,344.92 494.5,347.45Q494.52,349.98 496.68,348.66Q498.83,347.34 498.85,349.87Q498.87,352.39 501.02,351.08Q503.18,349.76 503.2,352.28Q503.22,354.81 505.38,353.49Q507.53,352.17 507.55,354.7M514.55,348.7Q516.67,350.08 516.79,347.55Q516.9,345.02 519.02,346.4Q521.15,347.78 521.26,345.25Q521.38,342.72 523.5,344.1Q525.62,345.48 525.74,342.95Q525.85,340.42 527.98,341.8Q530.1,343.18 530.21,340.65Q530.33,338.12 532.45,339.5Q534.57,340.88 534.69,338.35Q534.8,335.82 536.92,337.2Q539.05,338.58 539.16,336.05Q539.28,333.52 541.4,334.9M481.45,351.5Q481.47,354.03 483.62,352.71Q485.78,351.39 485.8,353.92Q485.82,356.44 487.98,355.12Q490.13,353.81 490.15,356.33Q490.17,358.86 492.32,357.54Q494.48,356.22 494.5,358.75Q494.52,361.28 496.68,359.96Q498.83,358.64 498.85,361.17Q498.87,363.69 501.02,362.38Q503.18,361.06 503.2,363.58Q503.22,366.11 505.38,364.79Q507.53,363.47 507.55,366M514.55,360Q516.67,361.38 516.79,358.85Q516.9,356.32 519.02,357.7Q521.15,359.08 521.26,356.55Q521.38,354.02 523.5,355.4Q525.62,356.78 525.74,354.25Q525.85,351.72 527.98,353.1Q530.1,354.48 530.21,351.95Q530.33,349.42 532.45,350.8Q534.57,352.18 534.69,349.65Q534.8,347.12 536.92,348.5Q539.05,349.88 539.16,347.35Q539.28,344.82 541.4,346.2M481.45,362.8Q481.47,365.33 483.62,364.01Q485.78,362.69 485.8,365.22Q485.82,367.74 487.98,366.43Q490.13,365.11 490.15,367.63Q490.17,370.16 492.32,368.84Q494.48,367.52 494.5,370.05Q494.52,372.58 496.68,371.26Q498.83,369.94 498.85,372.47Q498.87,374.99 501.02,373.68Q503.18,372.36 503.2,374.88Q503.22,377.41 505.38,376.09Q507.53,374.77 507.55,377.3M514.55,371.3Q516.67,372.68 516.79,370.15Q516.9,367.62 519.02,369Q521.15,370.38 521.26,367.85Q521.38,365.32 523.5,366.7Q525.62,368.08 525.74,365.55Q525.85,363.02 527.98,364.4Q530.1,365.78 530.21,363.25Q530.33,360.72 532.45,362.1Q534.57,363.48 534.69,360.95Q534.8,358.42 536.92,359.8Q539.05,361.18 539.16,358.65Q539.28,356.12 541.4,357.5M481.45,374.1Q481.47,376.63 483.62,375.31Q485.78,373.99 485.8,376.52Q485.82,379.04 487.98,377.73Q490.13,376.41 490.15,378.93Q490.17,381.46 492.32,380.14Q494.48,378.82 494.5,381.35Q494.52,383.88 496.68,382.56Q498.83,381.24 498.85,383.77Q498.87,386.29 501.02,384.98Q503.18,383.66 503.2,386.18Q503.22,388.71 505.38,387.39Q507.53,386.07 507.55,388.6M514.55,382.6Q516.67,383.98 516.79,381.45Q516.9,378.92 519.02,380.3Q521.15,381.68 521.26,379.15Q521.38,376.62 523.5,378Q525.62,379.38 525.74,376.85Q525.85,374.32 527.98,375.7Q530.1,377.08 530.21,374.55Q530.33,372.02 532.45,373.4Q534.57,374.78 534.69,372.25Q534.8,369.72 536.92,371.1Q539.05,372.48 539.16,369.95Q539.28,367.42 541.4,368.8M481.45,385.4Q481.47,387.93 483.62,386.61Q485.78,385.29 485.8,387.82Q485.82,390.34 487.98,389.03Q490.13,387.71 490.15,390.23Q490.17,392.76 492.32,391.44Q494.48,390.12 494.5,392.65Q494.52,395.18 496.68,393.86Q498.83,392.54 498.85,395.07Q498.87,397.59 501.02,396.28Q503.18,394.96 503.2,397.48Q503.22,400.01 505.38,398.69Q507.53,397.37 507.55,399.9M514.55,393.9Q516.67,395.28 516.79,392.75Q516.9,390.22 519.02,391.6Q521.15,392.98 521.26,390.45Q521.38,387.92 523.5,389.3Q525.62,390.68 525.74,388.15Q525.85,385.62 527.98,387Q530.1,388.38 530.21,385.85Q530.33,383.32 532.45,384.7Q534.57,386.08 534.69,383.55Q534.8,381.02 536.92,382.4Q539.05,383.78 539.16,381.25Q539.28,378.72 541.4,380.1M481.45,396.7Q481.47,399.23 483.62,397.91Q485.78,396.59 485.8,399.12Q485.82,401.64 487.98,400.33Q490.13,399.01 490.15,401.53Q490.17,404.06 492.32,402.74Q494.48,401.42 494.5,403.95Q494.52,406.48 496.68,405.16Q498.83,403.84 498.85,406.37Q498.87,408.89 501.02,407.58Q503.18,406.26 503.2,408.78Q503.22,411.31 505.38,409.99Q507.53,408.67 507.55,411.2M514.55,405.2Q516.67,406.58 516.79,404.05Q516.9,401.52 519.02,402.9Q521.15,404.28 521.26,401.75Q521.38,399.22 523.5,400.6Q525.62,401.98 525.74,399.45Q525.85,396.92 527.98,398.3Q530.1,399.68 530.21,397.15Q530.33,394.62 532.45,396Q534.57,397.38 534.69,394.85Q534.8,392.32 536.92,393.7Q539.05,395.08 539.16,392.55Q539.28,390.02 541.4,391.4M481.45,408Q481.47,410.53 483.62,409.21Q485.78,407.89 485.8,410.42Q485.82,412.94 487.98,411.62Q490.13,410.31 490.15,412.83Q490.17,415.36 492.32,414.04Q494.48,412.72 494.5,415.25Q494.52,417.78 496.68,416.46Q498.83,415.14 498.85,417.67Q498.87,420.19 501.02,418.88Q503.18,417.56 503.2,420.08Q503.22,422.61 505.38,421.29Q507.53,419.97 507.55,422.5M514.55,416.5Q516.67,417.88 516.79,415.35Q516.9,412.82 519.02,414.2Q521.15,415.58 521.26,413.05Q521.38,410.52 523.5,411.9Q525.62,413.28 525.74,410.75Q525.85,408.22 527.98,409.6Q530.1,410.98 530.21,408.45Q530.33,405.92 532.45,407.3Q534.57,408.68 534.69,406.15Q534.8,403.62 536.92,405Q539.05,406.38 539.16,403.85Q539.28,401.32 541.4,402.7" fill="none" stroke="#ff5a5a" stroke-width="0.85"/><path d="M452.2,323.4 l-1.6,-2.8 M455.6,317.7 l2.3,-2.6M452.2,334.7 l-1.6,-2.8 M455.6,329 l2.3,-2.6M452.2,346 l-1.6,-2.8 M455.6,340.3 l2.3,-2.6M452.2,357.3 l-1.6,-2.8 M455.6,351.6 l2.3,-2.6M452.2,368.6 l-1.6,-2.8 M455.6,362.9 l2.3,-2.6M452.2,379.9 l-1.6,-2.8 M455.6,374.2 l2.3,-2.6M452.2,391.2 l-1.6,-2.8 M455.6,385.5 l2.3,-2.6M452.2,402.5 l-1.6,-2.8 M455.6,396.8 l2.3,-2.6M452.2,413.8 l-1.6,-2.8 M455.6,408.1 l2.3,-2.6M452.2,312.1 L450.4,315.1M450.4,315.1 L455.6,317.7 L457.4,321.1 L452.2,323.4 L450.4,326.4 L455.6,329 L457.4,332.4 L452.2,334.7 L450.4,337.7 L455.6,340.3 L457.4,343.7 L452.2,346 L450.4,349 L455.6,351.6 L457.4,355 L452.2,357.3 L450.4,360.3 L455.6,362.9 L457.4,366.3 L452.2,368.6 L450.4,371.6 L455.6,374.2 L457.4,377.6 L452.2,379.9 L450.4,382.9 L455.6,385.5 L457.4,388.9 L452.2,391.2 L450.4,394.2 L455.6,396.8 L457.4,400.2 L452.2,402.5 L450.4,405.5 L455.6,408.1 L457.4,411.5 L452.2,413.8M509.35,323.8 l-1.6,-2.8 M512.75,329.5 l2.3,-2.6M509.35,335.1 l-1.6,-2.8 M512.75,340.8 l2.3,-2.6M509.35,346.4 l-1.6,-2.8 M512.75,352.1 l2.3,-2.6M509.35,357.7 l-1.6,-2.8 M512.75,363.4 l2.3,-2.6M509.35,369 l-1.6,-2.8 M512.75,374.7 l2.3,-2.6M509.35,380.3 l-1.6,-2.8 M512.75,386 l2.3,-2.6M509.35,391.6 l-1.6,-2.8 M512.75,397.3 l2.3,-2.6M509.35,402.9 l-1.6,-2.8 M512.75,408.6 l2.3,-2.6M509.35,414.2 l-1.6,-2.8 M512.75,419.9 l2.3,-2.6M509.35,323.8 L514.55,326.1 L512.75,329.5 L507.55,332.1 L509.35,335.1 L514.55,337.4 L512.75,340.8 L507.55,343.4 L509.35,346.4 L514.55,348.7 L512.75,352.1 L507.55,354.7 L509.35,357.7 L514.55,360 L512.75,363.4 L507.55,366 L509.35,369 L514.55,371.3 L512.75,374.7 L507.55,377.3 L509.35,380.3 L514.55,382.6 L512.75,386 L507.55,388.6 L509.35,391.6 L514.55,393.9 L512.75,397.3 L507.55,399.9 L509.35,402.9 L514.55,405.2 L512.75,408.6 L507.55,411.2 L509.35,414.2 L514.55,416.5 L512.75,419.9 L507.55,422.5" fill="none" stroke="#ff5a5a" stroke-width="0.9"/></g>
<rect x="425.5" y="311.6" width="113.9" height="114.9" fill="none" stroke="#5a5a5a" stroke-width="1.1"/>
<path d="M482.45,311.6V426.5" stroke="#333" stroke-width="1"/>
<defs><marker id="ah" viewBox="0 0 10 10" refX="9" refY="5" markerWidth="5" markerHeight="5" orient="auto-start-reverse"><path d="M0,0 L10,5 L0,10 z" fill="#000"/></marker></defs>
<path d="M455,436.6 H511" stroke="#000" stroke-width="1.6" marker-start="url(#ah)" marker-end="url(#ah)"/>
<text x="464.5" y="457.2" font-family='"Liberation Serif", serif' font-size="17.8">(001)</text>
<path d="M584.5,411 V386.5 M584.5,411 H612 M584.5,411 L571,425" stroke="#000" stroke-width="1.5" fill="none"/>
<path d="M584.5,383.8 l-3,6 h6z M615,411 l-6,-3 v6z M569.2,426.8 l2.2,-6.2 l4,4z" fill="#000"/>
<text x="588.7" y="387.5" font-family='"Liberation Serif", serif' font-size="14">b</text>
<text x="609.8" y="406" font-family='"Liberation Serif", serif' font-size="14">c</text>
<text x="564.6" y="419" font-family='"Liberation Serif", serif' font-size="14">a</text>
<path d="M459.83,469.5 L460.55,469.76 L461.34,469.95 L462.17,470.1 L462.99,470.24 L463.78,470.42 L464.51,470.68 L465.16,471.03 L465.68,471.49 L466.08,472.04 L466.32,472.67 L466.4,473.34 L466.32,474.01 L466.08,474.63 L465.69,475.19 L465.16,475.65 L464.52,476 L463.79,476.26 L463,476.44 L462.17,476.58 L461.35,476.73 L460.56,476.92 L459.83,477.18 L459.2,477.54 L458.68,478 L458.3,478.56 L458.07,479.2 L458,479.87 L458.09,480.53 L458.35,481.16 L458.75,481.7 L459.28,482.15 L459.93,482.5 L460.67,482.75 L461.46,482.93 L462.29,483.07 L463.11,483.22 L463.9,483.41 L464.62,483.68 L465.24,484.05 L465.75,484.52 L466.12,485.09 L466.34,485.72 L466.4,486.39 L466.29,487.06 L466.03,487.68 L465.62,488.22 L465.07,488.66 L464.42,489 L463.67,489.24 L462.88,489.42 L462.05,489.56 L461.23,489.71 L460.45,489.9 L459.73,490.18 L459.12,490.56 L458.62,491.04 L458.26,491.61 L458.05,492.25 L458,492.92 L458.12,493.58 L458.4,494.2 L458.82,494.73 L459.37,495.16 L460.04,495.5 L460.78,495.73 L461.59,495.9M458.33,546.12 L458.72,546.65 L459.25,547.1 L459.89,547.44 L460.62,547.69 L461.41,547.86 L462.23,548 L463.05,548.15 L463.84,548.33 L464.56,548.58 L465.19,548.93 L465.71,549.38 L466.09,549.92 L466.33,550.54 L466.4,551.19 L466.31,551.84 L466.07,552.45 L465.68,552.99 L465.15,553.43 L464.51,553.77 L463.78,554.02 L462.99,554.2 L462.17,554.34 L461.35,554.48 L460.56,554.66 L459.84,554.91 L459.21,555.26 L458.69,555.71 L458.31,556.26 L458.07,556.87 L458,557.52 L458.09,558.17 L458.33,558.78 L458.72,559.32 L459.25,559.76 L459.89,560.1 L460.62,560.35 L461.41,560.53 L462.23,560.67 L463.05,560.81 L463.84,560.99 L464.56,561.25 L465.19,561.6 L465.71,562.05 L466.09,562.59 L466.33,563.2 L466.4,563.85 L466.31,564.5 L466.07,565.11 L465.68,565.65 L465.15,566.09 L464.51,566.43 L463.78,566.68 L462.99,566.86 L462.17,567M470.08,469.5 L470.8,469.76 L471.59,469.95 L472.42,470.1 L473.24,470.24 L474.03,470.42 L474.76,470.68 L475.41,471.03 L475.93,471.49 L476.33,472.04 L476.57,472.67 L476.65,473.34 L476.57,474.01 L476.33,474.63 L475.94,475.19 L475.41,475.65 L474.77,476 L474.04,476.26 L473.25,476.44 L472.42,476.58 L471.6,476.73 L470.81,476.92 L470.08,477.18 L469.45,477.54 L468.93,478 L468.55,478.56 L468.32,479.2 L468.25,479.87 L468.34,480.53 L468.6,481.16 L469,481.7 L469.53,482.15 L470.18,482.5 L470.92,482.75 L471.71,482.93 L472.54,483.07 L473.36,483.22 L474.15,483.41 L474.87,483.68 L475.49,484.05 L476,484.52 L476.37,485.09 L476.59,485.72 L476.65,486.39 L476.54,487.06 L476.28,487.68 L475.87,488.22 L475.32,488.66 L474.67,489 L473.92,489.24 L473.13,489.42 L472.3,489.56 L471.48,489.71 L470.7,489.9 L469.98,490.18 L469.37,490.56 L468.87,491.04 L468.51,491.61 L468.3,492.25 L468.25,492.92 L468.37,493.58 L468.65,494.2 L469.07,494.73 L469.62,495.16 L470.29,495.5 L471.03,495.73 L471.84,495.9M468.58,546.12 L468.97,546.65 L469.5,547.1 L470.14,547.44 L470.87,547.69 L471.66,547.86 L472.48,548 L473.3,548.15 L474.09,548.33 L474.81,548.58 L475.44,548.93 L475.96,549.38 L476.34,549.92 L476.58,550.54 L476.65,551.19 L476.56,551.84 L476.32,552.45 L475.93,552.99 L475.4,553.43 L474.76,553.77 L474.03,554.02 L473.24,554.2 L472.42,554.34 L471.6,554.48 L470.81,554.66 L470.09,554.91 L469.46,555.26 L468.94,555.71 L468.56,556.26 L468.32,556.87 L468.25,557.52 L468.34,558.17 L468.58,558.78 L468.97,559.32 L469.5,559.76 L470.14,560.1 L470.87,560.35 L471.66,560.53 L472.48,560.67 L473.3,560.81 L474.09,560.99 L474.81,561.25 L475.44,561.6 L475.96,562.05 L476.34,562.59 L476.58,563.2 L476.65,563.85 L476.56,564.5 L476.32,565.11 L475.93,565.65 L475.4,566.09 L474.76,566.43 L474.03,566.68 L473.24,566.86 L472.42,567M480.33,469.5 L481.05,469.76 L481.84,469.95 L482.67,470.1 L483.49,470.24 L484.28,470.42 L485.01,470.68 L485.66,471.03 L486.18,471.49 L486.58,472.04 L486.82,472.67 L486.9,473.34 L486.82,474.01 L486.58,474.63 L486.19,475.19 L485.66,475.65 L485.02,476 L484.29,476.26 L483.5,476.44 L482.67,476.58 L481.85,476.73 L481.06,476.92 L480.33,477.18 L479.7,477.54 L479.18,478 L478.8,478.56 L478.57,479.2 L478.5,479.87 L478.59,480.53 L478.85,481.16 L479.25,481.7 L479.78,482.15 L480.43,482.5 L481.17,482.75 L481.96,482.93 L482.79,483.07 L483.61,483.22 L484.4,483.41 L485.12,483.68 L485.74,484.05 L486.25,484.52 L486.62,485.09 L486.84,485.72 L486.9,486.39 L486.79,487.06 L486.53,487.68 L486.12,488.22 L485.57,488.66 L484.92,489 L484.17,489.24 L483.38,489.42 L482.55,489.56 L481.73,489.71 L480.95,489.9 L480.23,490.18 L479.62,490.56 L479.12,491.04 L478.76,491.61 L478.55,492.25 L478.5,492.92 L478.62,493.58 L478.9,494.2 L479.32,494.73 L479.87,495.16 L480.54,495.5 L481.28,495.73 L482.09,495.9M478.83,546.12 L479.22,546.65 L479.75,547.1 L480.39,547.44 L481.12,547.69 L481.91,547.86 L482.73,548 L483.55,548.15 L484.34,548.33 L485.06,548.58 L485.69,548.93 L486.21,549.38 L486.59,549.92 L486.83,550.54 L486.9,551.19 L486.81,551.84 L486.57,552.45 L486.18,552.99 L485.65,553.43 L485.01,553.77 L484.28,554.02 L483.49,554.2 L482.67,554.34 L481.85,554.48 L481.06,554.66 L480.34,554.91 L479.71,555.26 L479.19,555.71 L478.81,556.26 L478.57,556.87 L478.5,557.52 L478.59,558.17 L478.83,558.78 L479.22,559.32 L479.75,559.76 L480.39,560.1 L481.12,560.35 L481.91,560.53 L482.73,560.67 L483.55,560.81 L484.34,560.99 L485.06,561.25 L485.69,561.6 L486.21,562.05 L486.59,562.59 L486.83,563.2 L486.9,563.85 L486.81,564.5 L486.57,565.11 L486.18,565.65 L485.65,566.09 L485.01,566.43 L484.28,566.68 L483.49,566.86 L482.67,567M490.58,469.5 L491.3,469.76 L492.09,469.95 L492.92,470.1 L493.74,470.24 L494.53,470.42 L495.26,470.68 L495.91,471.03 L496.43,471.49 L496.83,472.04 L497.07,472.67 L497.15,473.34 L497.07,474.01 L496.83,474.63 L496.44,475.19 L495.91,475.65 L495.27,476 L494.54,476.26 L493.75,476.44 L492.92,476.58 L492.1,476.73 L491.31,476.92 L490.58,477.18 L489.95,477.54 L489.43,478 L489.05,478.56 L488.82,479.2 L488.75,479.87 L488.84,480.53 L489.1,481.16 L489.5,481.7 L490.03,482.15 L490.68,482.5 L491.42,482.75 L492.21,482.93 L493.04,483.07 L493.86,483.22 L494.65,483.41 L495.37,483.68 L495.99,484.05 L496.5,484.52 L496.87,485.09 L497.09,485.72 L497.15,486.39 L497.04,487.06 L496.78,487.68 L496.37,488.22 L495.82,488.66 L495.17,489 L494.42,489.24 L493.63,489.42 L492.8,489.56 L491.98,489.71 L491.2,489.9 L490.48,490.18 L489.87,490.56 L489.37,491.04 L489.01,491.61 L488.8,492.25 L488.75,492.92 L488.87,493.58 L489.15,494.2 L489.57,494.73 L490.12,495.16 L490.79,495.5 L491.53,495.73 L492.34,495.9M489.08,546.12 L489.47,546.65 L490,547.1 L490.64,547.44 L491.37,547.69 L492.16,547.86 L492.98,548 L493.8,548.15 L494.59,548.33 L495.31,548.58 L495.94,548.93 L496.46,549.38 L496.84,549.92 L497.08,550.54 L497.15,551.19 L497.06,551.84 L496.82,552.45 L496.43,552.99 L495.9,553.43 L495.26,553.77 L494.53,554.02 L493.74,554.2 L492.92,554.34 L492.1,554.48 L491.31,554.66 L490.59,554.91 L489.96,555.26 L489.44,555.71 L489.06,556.26 L488.82,556.87 L488.75,557.52 L488.84,558.17 L489.08,558.78 L489.47,559.32 L490,559.76 L490.64,560.1 L491.37,560.35 L492.16,560.53 L492.98,560.67 L493.8,560.81 L494.59,560.99 L495.31,561.25 L495.94,561.6 L496.46,562.05 L496.84,562.59 L497.08,563.2 L497.15,563.85 L497.06,564.5 L496.82,565.11 L496.43,565.65 L495.9,566.09 L495.26,566.43 L494.53,566.68 L493.74,566.86 L492.92,567M500.83,469.5 L501.55,469.76 L502.34,469.95 L503.17,470.1 L503.99,470.24 L504.78,470.42 L505.51,470.68 L506.16,471.03 L506.68,471.49 L507.08,472.04 L507.32,472.67 L507.4,473.34 L507.32,474.01 L507.08,474.63 L506.69,475.19 L506.16,475.65 L505.52,476 L504.79,476.26 L504,476.44 L503.17,476.58 L502.35,476.73 L501.56,476.92 L500.83,477.18 L500.2,477.54 L499.68,478 L499.3,478.56 L499.07,479.2 L499,479.87 L499.09,480.53 L499.35,481.16 L499.75,481.7 L500.28,482.15 L500.93,482.5 L501.67,482.75 L502.46,482.93 L503.29,483.07 L504.11,483.22 L504.9,483.41 L505.62,483.68 L506.24,484.05 L506.75,484.52 L507.12,485.09 L507.34,485.72 L507.4,486.39 L507.29,487.06 L507.03,487.68 L506.62,488.22 L506.07,488.66 L505.42,489 L504.67,489.24 L503.88,489.42 L503.05,489.56 L502.23,489.71 L501.45,489.9 L500.73,490.18 L500.12,490.56 L499.62,491.04 L499.26,491.61 L499.05,492.25 L499,492.92 L499.12,493.58 L499.4,494.2 L499.82,494.73 L500.37,495.16 L501.04,495.5 L501.78,495.73 L502.59,495.9M499.33,546.12 L499.72,546.65 L500.25,547.1 L500.89,547.44 L501.62,547.69 L502.41,547.86 L503.23,548 L504.05,548.15 L504.84,548.33 L505.56,548.58 L506.19,548.93 L506.71,549.38 L507.09,549.92 L507.33,550.54 L507.4,551.19 L507.31,551.84 L507.07,552.45 L506.68,552.99 L506.15,553.43 L505.51,553.77 L504.78,554.02 L503.99,554.2 L503.17,554.34 L502.35,554.48 L501.56,554.66 L500.84,554.91 L500.21,555.26 L499.69,555.71 L499.31,556.26 L499.07,556.87 L499,557.52 L499.09,558.17 L499.33,558.78 L499.72,559.32 L500.25,559.76 L500.89,560.1 L501.62,560.35 L502.41,560.53 L503.23,560.67 L504.05,560.81 L504.84,560.99 L505.56,561.25 L506.19,561.6 L506.71,562.05 L507.09,562.59 L507.33,563.2 L507.4,563.85 L507.31,564.5 L507.07,565.11 L506.68,565.65 L506.15,566.09 L505.51,566.43 L504.78,566.68 L503.99,566.86 L503.17,567M511.08,469.5 L511.8,469.76 L512.59,469.95 L513.42,470.1 L514.24,470.24 L515.03,470.42 L515.76,470.68 L516.41,471.03 L516.93,471.49 L517.33,472.04 L517.57,472.67 L517.65,473.34 L517.57,474.01 L517.33,474.63 L516.94,475.19 L516.41,475.65 L515.77,476 L515.04,476.26 L514.25,476.44 L513.42,476.58 L512.6,476.73 L511.81,476.92 L511.08,477.18 L510.45,477.54 L509.93,478 L509.55,478.56 L509.32,479.2 L509.25,479.87 L509.34,480.53 L509.6,481.16 L510,481.7 L510.53,482.15 L511.18,482.5 L511.92,482.75 L512.71,482.93 L513.54,483.07 L514.36,483.22 L515.15,483.41 L515.87,483.68 L516.49,484.05 L517,484.52 L517.37,485.09 L517.59,485.72 L517.65,486.39 L517.54,487.06 L517.28,487.68 L516.87,488.22 L516.32,488.66 L515.67,489 L514.92,489.24 L514.13,489.42 L513.3,489.56 L512.48,489.71 L511.7,489.9 L510.98,490.18 L510.37,490.56 L509.87,491.04 L509.51,491.61 L509.3,492.25 L509.25,492.92 L509.37,493.58 L509.65,494.2 L510.07,494.73 L510.62,495.16 L511.29,495.5 L512.03,495.73 L512.84,495.9M509.58,546.12 L509.97,546.65 L510.5,547.1 L511.14,547.44 L511.87,547.69 L512.66,547.86 L513.48,548 L514.3,548.15 L515.09,548.33 L515.81,548.58 L516.44,548.93 L516.96,549.38 L517.34,549.92 L517.58,550.54 L517.65,551.19 L517.56,551.84 L517.32,552.45 L516.93,552.99 L516.4,553.43 L515.76,553.77 L515.03,554.02 L514.24,554.2 L513.42,554.34 L512.6,554.48 L511.81,554.66 L511.09,554.91 L510.46,555.26 L509.94,555.71 L509.56,556.26 L509.32,556.87 L509.25,557.52 L509.34,558.17 L509.58,558.78 L509.97,559.32 L510.5,559.76 L511.14,560.1 L511.87,560.35 L512.66,560.53 L513.48,560.67 L514.3,560.81 L515.09,560.99 L515.81,561.25 L516.44,561.6 L516.96,562.05 L517.34,562.59 L517.58,563.2 L517.65,563.85 L517.56,564.5 L517.32,565.11 L516.93,565.65 L516.4,566.09 L515.76,566.43 L515.03,566.68 L514.24,566.86 L513.42,567M521.33,469.5 L522.05,469.76 L522.84,469.95 L523.67,470.1 L524.49,470.24 L525.28,470.42 L526.01,470.68 L526.66,471.03 L527.18,471.49 L527.58,472.04 L527.82,472.67 L527.9,473.34 L527.82,474.01 L527.58,474.63 L527.19,475.19 L526.66,475.65 L526.02,476 L525.29,476.26 L524.5,476.44 L523.67,476.58 L522.85,476.73 L522.06,476.92 L521.33,477.18 L520.7,477.54 L520.18,478 L519.8,478.56 L519.57,479.2 L519.5,479.87 L519.59,480.53 L519.85,481.16 L520.25,481.7 L520.78,482.15 L521.43,482.5 L522.17,482.75 L522.96,482.93 L523.79,483.07 L524.61,483.22 L525.4,483.41 L526.12,483.68 L526.74,484.05 L527.25,484.52 L527.62,485.09 L527.84,485.72 L527.9,486.39 L527.79,487.06 L527.53,487.68 L527.12,488.22 L526.57,488.66 L525.92,489 L525.17,489.24 L524.38,489.42 L523.55,489.56 L522.73,489.71 L521.95,489.9 L521.23,490.18 L520.62,490.56 L520.12,491.04 L519.76,491.61 L519.55,492.25 L519.5,492.92 L519.62,493.58 L519.9,494.2 L520.32,494.73 L520.87,495.16 L521.54,495.5 L522.28,495.73 L523.09,495.9M519.83,546.12 L520.22,546.65 L520.75,547.1 L521.39,547.44 L522.12,547.69 L522.91,547.86 L523.73,548 L524.55,548.15 L525.34,548.33 L526.06,548.58 L526.69,548.93 L527.21,549.38 L527.59,549.92 L527.83,550.54 L527.9,551.19 L527.81,551.84 L527.57,552.45 L527.18,552.99 L526.65,553.43 L526.01,553.77 L525.28,554.02 L524.49,554.2 L523.67,554.34 L522.85,554.48 L522.06,554.66 L521.34,554.91 L520.71,555.26 L520.19,555.71 L519.81,556.26 L519.57,556.87 L519.5,557.52 L519.59,558.17 L519.83,558.78 L520.22,559.32 L520.75,559.76 L521.39,560.1 L522.12,560.35 L522.91,560.53 L523.73,560.67 L524.55,560.81 L525.34,560.99 L526.06,561.25 L526.69,561.6 L527.21,562.05 L527.59,562.59 L527.83,563.2 L527.9,563.85 L527.81,564.5 L527.57,565.11 L527.18,565.65 L526.65,566.09 L526.01,566.43 L525.28,566.68 L524.49,566.86 L523.67,567M531.58,469.5 L532.3,469.76 L533.09,469.95 L533.92,470.1 L534.74,470.24 L535.53,470.42 L536.26,470.68 L536.91,471.03 L537.43,471.49 L537.83,472.04 L538.07,472.67 L538.15,473.34 L538.07,474.01 L537.83,474.63 L537.44,475.19 L536.91,475.65 L536.27,476 L535.54,476.26 L534.75,476.44 L533.92,476.58 L533.1,476.73 L532.31,476.92 L531.58,477.18 L530.95,477.54 L530.43,478 L530.05,478.56 L529.82,479.2 L529.75,479.87 L529.84,480.53 L530.1,481.16 L530.5,481.7 L531.03,482.15 L531.68,482.5 L532.42,482.75 L533.21,482.93 L534.04,483.07 L534.86,483.22 L535.65,483.41 L536.37,483.68 L536.99,484.05 L537.5,484.52 L537.87,485.09 L538.09,485.72 L538.15,486.39 L538.04,487.06 L537.78,487.68 L537.37,488.22 L536.82,488.66 L536.17,489 L535.42,489.24 L534.63,489.42 L533.8,489.56 L532.98,489.71 L532.2,489.9 L531.48,490.18 L530.87,490.56 L530.37,491.04 L530.01,491.61 L529.8,492.25 L529.75,492.92 L529.87,493.58 L530.15,494.2 L530.57,494.73 L531.12,495.16 L531.79,495.5 L532.53,495.73 L533.34,495.9M530.08,546.12 L530.47,546.65 L531,547.1 L531.64,547.44 L532.37,547.69 L533.16,547.86 L533.98,548 L534.8,548.15 L535.59,548.33 L536.31,548.58 L536.94,548.93 L537.46,549.38 L537.84,549.92 L538.08,550.54 L538.15,551.19 L538.06,551.84 L537.82,552.45 L537.43,552.99 L536.9,553.43 L536.26,553.77 L535.53,554.02 L534.74,554.2 L533.92,554.34 L533.1,554.48 L532.31,554.66 L531.59,554.91 L530.96,555.26 L530.44,555.71 L530.06,556.26 L529.82,556.87 L529.75,557.52 L529.84,558.17 L530.08,558.78 L530.47,559.32 L531,559.76 L531.64,560.1 L532.37,560.35 L533.16,560.53 L533.98,560.67 L534.8,560.81 L535.59,560.99 L536.31,561.25 L536.94,561.6 L537.46,562.05 L537.84,562.59 L538.08,563.2 L538.15,563.85 L538.06,564.5 L537.82,565.11 L537.43,565.65 L536.9,566.09 L536.26,566.43 L535.53,566.68 L534.74,566.86 L533.92,567" fill="none" stroke="#00b050" stroke-width="2.1" stroke-linecap="round"/>
<path d="M461.59,495.9 L462.41,496.05 L463.23,496.2 L464.01,496.4 L464.72,496.68 L465.33,497.06 L465.82,497.55 L466.16,498.13 L466.36,498.77 L466.39,499.45 L466.26,500.11 L465.98,500.72 L465.54,501.24 L464.98,501.67 L464.31,501.99 L463.56,502.22 L462.75,502.39 L461.93,502.53 L461.11,502.69 L460.34,502.89 L459.63,503.18 L459.03,503.57 L458.55,504.07 L458.22,504.65 L458.03,505.3 L458.01,505.97 L458.15,506.63 L458.45,507.24 L458.89,507.76 L459.46,508.17 L460.14,508.49 L460.9,508.72 L461.71,508.88 L462.54,509.02 L463.35,509.18 L464.12,509.39 L464.81,509.69 L465.41,510.08 L465.88,510.59 L466.2,511.18 L466.37,511.83 L466.38,512.5M463.84,523 L464.56,523.25 L465.19,523.6 L465.71,524.05 L466.09,524.6 L466.33,525.21 L466.4,525.86 L466.31,526.51 L466.07,527.12 L465.68,527.66 L465.15,528.1 L464.51,528.44 L463.78,528.69 L462.99,528.87 L462.17,529.01 L461.35,529.15 L460.56,529.33 L459.84,529.59 L459.21,529.94 L458.69,530.39 L458.31,530.93 L458.07,531.54 L458,532.19 L458.09,532.84 L458.33,533.45 L458.72,533.99 L459.25,534.43 L459.89,534.77 L460.62,535.02 L461.41,535.2 L462.23,535.34 L463.05,535.48 L463.84,535.66 L464.56,535.92 L465.19,536.27 L465.71,536.72 L466.09,537.26 L466.33,537.87 L466.4,538.53 L466.31,539.17 L466.07,539.78 L465.68,540.32 L465.15,540.76 L464.51,541.11 L463.78,541.35 L462.99,541.53 L462.17,541.67 L461.35,541.81 L460.56,542 L459.84,542.25 L459.21,542.6 L458.69,543.05 L458.31,543.59 L458.07,544.21 L458,544.86 L458.09,545.51 L458.33,546.12M471.84,495.9 L472.66,496.05 L473.48,496.2 L474.26,496.4 L474.97,496.68 L475.58,497.06 L476.07,497.55 L476.41,498.13 L476.61,498.77 L476.64,499.45 L476.51,500.11 L476.23,500.72 L475.79,501.24 L475.23,501.67 L474.56,501.99 L473.81,502.22 L473,502.39 L472.18,502.53 L471.36,502.69 L470.59,502.89 L469.88,503.18 L469.28,503.57 L468.8,504.07 L468.47,504.65 L468.28,505.3 L468.26,505.97 L468.4,506.63 L468.7,507.24 L469.14,507.76 L469.71,508.17 L470.39,508.49 L471.15,508.72 L471.96,508.88 L472.79,509.02 L473.6,509.18 L474.37,509.39 L475.06,509.69 L475.66,510.08 L476.13,510.59 L476.45,511.18 L476.62,511.83 L476.63,512.5M474.09,523 L474.81,523.25 L475.44,523.6 L475.96,524.05 L476.34,524.6 L476.58,525.21 L476.65,525.86 L476.56,526.51 L476.32,527.12 L475.93,527.66 L475.4,528.1 L474.76,528.44 L474.03,528.69 L473.24,528.87 L472.42,529.01 L471.6,529.15 L470.81,529.33 L470.09,529.59 L469.46,529.94 L468.94,530.39 L468.56,530.93 L468.32,531.54 L468.25,532.19 L468.34,532.84 L468.58,533.45 L468.97,533.99 L469.5,534.43 L470.14,534.77 L470.87,535.02 L471.66,535.2 L472.48,535.34 L473.3,535.48 L474.09,535.66 L474.81,535.92 L475.44,536.27 L475.96,536.72 L476.34,537.26 L476.58,537.87 L476.65,538.53 L476.56,539.17 L476.32,539.78 L475.93,540.32 L475.4,540.76 L474.76,541.11 L474.03,541.35 L473.24,541.53 L472.42,541.67 L471.6,541.81 L470.81,542 L470.09,542.25 L469.46,542.6 L468.94,543.05 L468.56,543.59 L468.32,544.21 L468.25,544.86 L468.34,545.51 L468.58,546.12M482.09,495.9 L482.91,496.05 L483.73,496.2 L484.51,496.4 L485.22,496.68 L485.83,497.06 L486.32,497.55 L486.66,498.13 L486.86,498.77 L486.89,499.45 L486.76,500.11 L486.48,500.72 L486.04,501.24 L485.48,501.67 L484.81,501.99 L484.06,502.22 L483.25,502.39 L482.43,502.53 L481.61,502.69 L480.84,502.89 L480.13,503.18 L479.53,503.57 L479.05,504.07 L478.72,504.65 L478.53,505.3 L478.51,505.97 L478.65,506.63 L478.95,507.24 L479.39,507.76 L479.96,508.17 L480.64,508.49 L481.4,508.72 L482.21,508.88 L483.04,509.02 L483.85,509.18 L484.62,509.39 L485.31,509.69 L485.91,510.08 L486.38,510.59 L486.7,511.18 L486.87,511.83 L486.88,512.5M484.34,523 L485.06,523.25 L485.69,523.6 L486.21,524.05 L486.59,524.6 L486.83,525.21 L486.9,525.86 L486.81,526.51 L486.57,527.12 L486.18,527.66 L485.65,528.1 L485.01,528.44 L484.28,528.69 L483.49,528.87 L482.67,529.01 L481.85,529.15 L481.06,529.33 L480.34,529.59 L479.71,529.94 L479.19,530.39 L478.81,530.93 L478.57,531.54 L478.5,532.19 L478.59,532.84 L478.83,533.45 L479.22,533.99 L479.75,534.43 L480.39,534.77 L481.12,535.02 L481.91,535.2 L482.73,535.34 L483.55,535.48 L484.34,535.66 L485.06,535.92 L485.69,536.27 L486.21,536.72 L486.59,537.26 L486.83,537.87 L486.9,538.53 L486.81,539.17 L486.57,539.78 L486.18,540.32 L485.65,540.76 L485.01,541.11 L484.28,541.35 L483.49,541.53 L482.67,541.67 L481.85,541.81 L481.06,542 L480.34,542.25 L479.71,542.6 L479.19,543.05 L478.81,543.59 L478.57,544.21 L478.5,544.86 L478.59,545.51 L478.83,546.12M492.34,495.9 L493.16,496.05 L493.98,496.2 L494.76,496.4 L495.47,496.68 L496.08,497.06 L496.57,497.55 L496.91,498.13 L497.11,498.77 L497.14,499.45 L497.01,500.11 L496.73,500.72 L496.29,501.24 L495.73,501.67 L495.06,501.99 L494.31,502.22 L493.5,502.39 L492.68,502.53 L491.86,502.69 L491.09,502.89 L490.38,503.18 L489.78,503.57 L489.3,504.07 L488.97,504.65 L488.78,505.3 L488.76,505.97 L488.9,506.63 L489.2,507.24 L489.64,507.76 L490.21,508.17 L490.89,508.49 L491.65,508.72 L492.46,508.88 L493.29,509.02 L494.1,509.18 L494.87,509.39 L495.56,509.69 L496.16,510.08 L496.63,510.59 L496.95,511.18 L497.12,511.83 L497.13,512.5M494.59,523 L495.31,523.25 L495.94,523.6 L496.46,524.05 L496.84,524.6 L497.08,525.21 L497.15,525.86 L497.06,526.51 L496.82,527.12 L496.43,527.66 L495.9,528.1 L495.26,528.44 L494.53,528.69 L493.74,528.87 L492.92,529.01 L492.1,529.15 L491.31,529.33 L490.59,529.59 L489.96,529.94 L489.44,530.39 L489.06,530.93 L488.82,531.54 L488.75,532.19 L488.84,532.84 L489.08,533.45 L489.47,533.99 L490,534.43 L490.64,534.77 L491.37,535.02 L492.16,535.2 L492.98,535.34 L493.8,535.48 L494.59,535.66 L495.31,535.92 L495.94,536.27 L496.46,536.72 L496.84,537.26 L497.08,537.87 L497.15,538.53 L497.06,539.17 L496.82,539.78 L496.43,540.32 L495.9,540.76 L495.26,541.11 L494.53,541.35 L493.74,541.53 L492.92,541.67 L492.1,541.81 L491.31,542 L490.59,542.25 L489.96,542.6 L489.44,543.05 L489.06,543.59 L488.82,544.21 L488.75,544.86 L488.84,545.51 L489.08,546.12M502.59,495.9 L503.41,496.05 L504.23,496.2 L505.01,496.4 L505.72,496.68 L506.33,497.06 L506.82,497.55 L507.16,498.13 L507.36,498.77 L507.39,499.45 L507.26,500.11 L506.98,500.72 L506.54,501.24 L505.98,501.67 L505.31,501.99 L504.56,502.22 L503.75,502.39 L502.93,502.53 L502.11,502.69 L501.34,502.89 L500.63,503.18 L500.03,503.57 L499.55,504.07 L499.22,504.65 L499.03,505.3 L499.01,505.97 L499.15,506.63 L499.45,507.24 L499.89,507.76 L500.46,508.17 L501.14,508.49 L501.9,508.72 L502.71,508.88 L503.54,509.02 L504.35,509.18 L505.12,509.39 L505.81,509.69 L506.41,510.08 L506.88,510.59 L507.2,511.18 L507.37,511.83 L507.38,512.5M504.84,523 L505.56,523.25 L506.19,523.6 L506.71,524.05 L507.09,524.6 L507.33,525.21 L507.4,525.86 L507.31,526.51 L507.07,527.12 L506.68,527.66 L506.15,528.1 L505.51,528.44 L504.78,528.69 L503.99,528.87 L503.17,529.01 L502.35,529.15 L501.56,529.33 L500.84,529.59 L500.21,529.94 L499.69,530.39 L499.31,530.93 L499.07,531.54 L499,532.19 L499.09,532.84 L499.33,533.45 L499.72,533.99 L500.25,534.43 L500.89,534.77 L501.62,535.02 L502.41,535.2 L503.23,535.34 L504.05,535.48 L504.84,535.66 L505.56,535.92 L506.19,536.27 L506.71,536.72 L507.09,537.26 L507.33,537.87 L507.4,538.53 L507.31,539.17 L507.07,539.78 L506.68,540.32 L506.15,540.76 L505.51,541.11 L504.78,541.35 L503.99,541.53 L503.17,541.67 L502.35,541.81 L501.56,542 L500.84,542.25 L500.21,542.6 L499.69,543.05 L499.31,543.59 L499.07,544.21 L499,544.86 L499.09,545.51 L499.33,546.12M512.84,495.9 L513.66,496.05 L514.48,496.2 L515.26,496.4 L515.97,496.68 L516.58,497.06 L517.07,497.55 L517.41,498.13 L517.61,498.77 L517.64,499.45 L517.51,500.11 L517.23,500.72 L516.79,501.24 L516.23,501.67 L515.56,501.99 L514.81,502.22 L514,502.39 L513.18,502.53 L512.36,502.69 L511.59,502.89 L510.88,503.18 L510.28,503.57 L509.8,504.07 L509.47,504.65 L509.28,505.3 L509.26,505.97 L509.4,506.63 L509.7,507.24 L510.14,507.76 L510.71,508.17 L511.39,508.49 L512.15,508.72 L512.96,508.88 L513.79,509.02 L514.6,509.18 L515.37,509.39 L516.06,509.69 L516.66,510.08 L517.13,510.59 L517.45,511.18 L517.62,511.83 L517.63,512.5M515.09,523 L515.81,523.25 L516.44,523.6 L516.96,524.05 L517.34,524.6 L517.58,525.21 L517.65,525.86 L517.56,526.51 L517.32,527.12 L516.93,527.66 L516.4,528.1 L515.76,528.44 L515.03,528.69 L514.24,528.87 L513.42,529.01 L512.6,529.15 L511.81,529.33 L511.09,529.59 L510.46,529.94 L509.94,530.39 L509.56,530.93 L509.32,531.54 L509.25,532.19 L509.34,532.84 L509.58,533.45 L509.97,533.99 L510.5,534.43 L511.14,534.77 L511.87,535.02 L512.66,535.2 L513.48,535.34 L514.3,535.48 L515.09,535.66 L515.81,535.92 L516.44,536.27 L516.96,536.72 L517.34,537.26 L517.58,537.87 L517.65,538.53 L517.56,539.17 L517.32,539.78 L516.93,540.32 L516.4,540.76 L515.76,541.11 L515.03,541.35 L514.24,541.53 L513.42,541.67 L512.6,541.81 L511.81,542 L511.09,542.25 L510.46,542.6 L509.94,543.05 L509.56,543.59 L509.32,544.21 L509.25,544.86 L509.34,545.51 L509.58,546.12M523.09,495.9 L523.91,496.05 L524.73,496.2 L525.51,496.4 L526.22,496.68 L526.83,497.06 L527.32,497.55 L527.66,498.13 L527.86,498.77 L527.89,499.45 L527.76,500.11 L527.48,500.72 L527.04,501.24 L526.48,501.67 L525.81,501.99 L525.06,502.22 L524.25,502.39 L523.43,502.53 L522.61,502.69 L521.84,502.89 L521.13,503.18 L520.53,503.57 L520.05,504.07 L519.72,504.65 L519.53,505.3 L519.51,505.97 L519.65,506.63 L519.95,507.24 L520.39,507.76 L520.96,508.17 L521.64,508.49 L522.4,508.72 L523.21,508.88 L524.04,509.02 L524.85,509.18 L525.62,509.39 L526.31,509.69 L526.91,510.08 L527.38,510.59 L527.7,511.18 L527.87,511.83 L527.88,512.5M525.34,523 L526.06,523.25 L526.69,523.6 L527.21,524.05 L527.59,524.6 L527.83,525.21 L527.9,525.86 L527.81,526.51 L527.57,527.12 L527.18,527.66 L526.65,528.1 L526.01,528.44 L525.28,528.69 L524.49,528.87 L523.67,529.01 L522.85,529.15 L522.06,529.33 L521.34,529.59 L520.71,529.94 L520.19,530.39 L519.81,530.93 L519.57,531.54 L519.5,532.19 L519.59,532.84 L519.83,533.45 L520.22,533.99 L520.75,534.43 L521.39,534.77 L522.12,535.02 L522.91,535.2 L523.73,535.34 L524.55,535.48 L525.34,535.66 L526.06,535.92 L526.69,536.27 L527.21,536.72 L527.59,537.26 L527.83,537.87 L527.9,538.53 L527.81,539.17 L527.57,539.78 L527.18,540.32 L526.65,540.76 L526.01,541.11 L525.28,541.35 L524.49,541.53 L523.67,541.67 L522.85,541.81 L522.06,542 L521.34,542.25 L520.71,542.6 L520.19,543.05 L519.81,543.59 L519.57,544.21 L519.5,544.86 L519.59,545.51 L519.83,546.12M533.34,495.9 L534.16,496.05 L534.98,496.2 L535.76,496.4 L536.47,496.68 L537.08,497.06 L537.57,497.55 L537.91,498.13 L538.11,498.77 L538.14,499.45 L538.01,500.11 L537.73,500.72 L537.29,501.24 L536.73,501.67 L536.06,501.99 L535.31,502.22 L534.5,502.39 L533.68,502.53 L532.86,502.69 L532.09,502.89 L531.38,503.18 L530.78,503.57 L530.3,504.07 L529.97,504.65 L529.78,505.3 L529.76,505.97 L529.9,506.63 L530.2,507.24 L530.64,507.76 L531.21,508.17 L531.89,508.49 L532.65,508.72 L533.46,508.88 L534.29,509.02 L535.1,509.18 L535.87,509.39 L536.56,509.69 L537.16,510.08 L537.63,510.59 L537.95,511.18 L538.12,511.83 L538.13,512.5M535.59,523 L536.31,523.25 L536.94,523.6 L537.46,524.05 L537.84,524.6 L538.08,525.21 L538.15,525.86 L538.06,526.51 L537.82,527.12 L537.43,527.66 L536.9,528.1 L536.26,528.44 L535.53,528.69 L534.74,528.87 L533.92,529.01 L533.1,529.15 L532.31,529.33 L531.59,529.59 L530.96,529.94 L530.44,530.39 L530.06,530.93 L529.82,531.54 L529.75,532.19 L529.84,532.84 L530.08,533.45 L530.47,533.99 L531,534.43 L531.64,534.77 L532.37,535.02 L533.16,535.2 L533.98,535.34 L534.8,535.48 L535.59,535.66 L536.31,535.92 L536.94,536.27 L537.46,536.72 L537.84,537.26 L538.08,537.87 L538.15,538.53 L538.06,539.17 L537.82,539.78 L537.43,540.32 L536.9,540.76 L536.26,541.11 L535.53,541.35 L534.74,541.53 L533.92,541.67 L533.1,541.81 L532.31,542 L531.59,542.25 L530.96,542.6 L530.44,543.05 L530.06,543.59 L529.82,544.21 L529.75,544.86 L529.84,545.51 L530.08,546.12" fill="none" stroke="#2222ee" stroke-width="2.1"/>
<rect x="459.1" y="511.9" width="79.4" height="11.9" rx="1.5" fill="#ff0000"/>
<path d="M417.5,460.8 L490.6,517.2 M577.2,458.7 L507,516.9" fill="none" stroke="#000" stroke-width="1.8" stroke-dasharray="4.6,2.6"/>
<circle cx="498.8" cy="518.2" r="4.1" fill="none" stroke="#000" stroke-width="1.5"/>
</svg></body></html>
